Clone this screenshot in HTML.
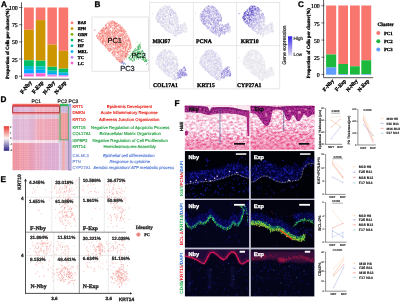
<!DOCTYPE html>
<html><head><meta charset="utf-8"><title>Figure</title>
<style>html,body{margin:0;padding:0;background:#fff;}body{width:400px;height:302px;overflow:hidden;font-family:"Liberation Sans",sans-serif;}svg{display:block;will-change:transform;}</style>
</head><body>
<svg width="400" height="302" viewBox="0 0 400 302" text-rendering="geometricPrecision">
<rect width="400" height="302" fill="#fff"/>
<g opacity="0.999">
<text x="0.9" y="6.8" font-family='"Liberation Sans", sans-serif' font-size="8.2" font-weight="bold" fill="#000" text-anchor="start" stroke="#000" stroke-width="0.3">A</text>
<text x="9.3" y="43.8" font-family='"Liberation Serif", serif' font-size="4.8" font-weight="bold" fill="#000" text-anchor="middle" transform="rotate(-90 9.3 43.8)" stroke="#000" stroke-width="0.3">Proportion of Cells per cluster(%)</text>
<path d="M21.5 2.3V79.2H69.2" stroke="#222" stroke-width="0.75" fill="none"/>
<path d="M19.0 76.2H22.3" stroke="#222" stroke-width="0.6"/>
<text x="17.8" y="78.8" font-family='"Liberation Serif", serif' font-size="5.9" font-weight="normal" fill="#000" text-anchor="end" stroke="#000" stroke-width="0.22">0</text>
<path d="M19.0 59.025000000000006H22.3" stroke="#222" stroke-width="0.6"/>
<text x="17.8" y="61.62500000000001" font-family='"Liberation Serif", serif' font-size="5.9" font-weight="normal" fill="#000" text-anchor="end" stroke="#000" stroke-width="0.22">25</text>
<path d="M19.0 41.85H22.3" stroke="#222" stroke-width="0.6"/>
<text x="17.8" y="44.45" font-family='"Liberation Serif", serif' font-size="5.9" font-weight="normal" fill="#000" text-anchor="end" stroke="#000" stroke-width="0.22">50</text>
<path d="M19.0 24.675000000000004H22.3" stroke="#222" stroke-width="0.6"/>
<text x="17.8" y="27.275000000000006" font-family='"Liberation Serif", serif' font-size="5.9" font-weight="normal" fill="#000" text-anchor="end" stroke="#000" stroke-width="0.22">75</text>
<path d="M19.0 7.5H22.3" stroke="#222" stroke-width="0.6"/>
<text x="17.8" y="10.1" font-family='"Liberation Serif", serif' font-size="5.9" font-weight="normal" fill="#000" text-anchor="end" stroke="#000" stroke-width="0.22">100</text>
<rect x="24.0" y="7.5" width="9.80" height="22.25" fill="#F8766D"/>
<rect x="24.0" y="29.7" width="9.80" height="30.25" fill="#CD9600"/>
<rect x="24.0" y="59.9" width="9.80" height="0.45" fill="#7CAE00"/>
<rect x="24.0" y="60.3" width="9.80" height="5.75" fill="#00BE67"/>
<rect x="24.0" y="66.0" width="9.80" height="3.25" fill="#00BFC4"/>
<rect x="24.0" y="69.2" width="9.80" height="4.25" fill="#00A9FF"/>
<rect x="24.0" y="73.4" width="9.80" height="1.25" fill="#C77CFF"/>
<rect x="24.0" y="74.6" width="9.80" height="1.85" fill="#FF61CC"/>
<rect x="35.8" y="7.5" width="9.60" height="12.65" fill="#F8766D"/>
<rect x="35.8" y="20.1" width="9.60" height="40.35" fill="#CD9600"/>
<rect x="35.8" y="60.4" width="9.60" height="0.55" fill="#7CAE00"/>
<rect x="35.8" y="60.9" width="9.60" height="5.55" fill="#00BE67"/>
<rect x="35.8" y="66.4" width="9.60" height="3.45" fill="#00BFC4"/>
<rect x="35.8" y="69.8" width="9.60" height="3.15" fill="#00A9FF"/>
<rect x="35.8" y="72.9" width="9.60" height="0.75" fill="#C77CFF"/>
<rect x="35.8" y="73.6" width="9.60" height="2.85" fill="#FF61CC"/>
<rect x="47.4" y="7.5" width="9.50" height="37.15" fill="#F8766D"/>
<rect x="47.4" y="44.6" width="9.50" height="22.05" fill="#CD9600"/>
<rect x="47.4" y="66.6" width="9.50" height="0.45" fill="#7CAE00"/>
<rect x="47.4" y="67.0" width="9.50" height="3.65" fill="#00BE67"/>
<rect x="47.4" y="70.6" width="9.50" height="2.35" fill="#00BFC4"/>
<rect x="47.4" y="72.9" width="9.50" height="1.75" fill="#00A9FF"/>
<rect x="47.4" y="74.6" width="9.50" height="1.05" fill="#C77CFF"/>
<rect x="47.4" y="75.6" width="9.50" height="0.85" fill="#FF61CC"/>
<rect x="58.6" y="7.5" width="9.60" height="43.35" fill="#F8766D"/>
<rect x="58.6" y="50.8" width="9.60" height="17.65" fill="#CD9600"/>
<rect x="58.6" y="68.4" width="9.60" height="0.45" fill="#7CAE00"/>
<rect x="58.6" y="68.8" width="9.60" height="3.45" fill="#00BE67"/>
<rect x="58.6" y="72.2" width="9.60" height="1.75" fill="#00BFC4"/>
<rect x="58.6" y="73.9" width="9.60" height="1.35" fill="#00A9FF"/>
<rect x="58.6" y="75.2" width="9.60" height="0.75" fill="#C77CFF"/>
<rect x="58.6" y="75.9" width="9.60" height="0.55" fill="#FF61CC"/>
<text x="31.9" y="82.6" font-family='"Liberation Serif", serif' font-size="5.5" font-weight="bold" fill="#000" text-anchor="end" transform="rotate(-51 31.9 82.6)" stroke="#000" stroke-width="0.3">F-Nby</text>
<text x="43.599999999999994" y="82.6" font-family='"Liberation Serif", serif' font-size="5.5" font-weight="bold" fill="#000" text-anchor="end" transform="rotate(-51 43.599999999999994 82.6)" stroke="#000" stroke-width="0.3">F-Exp</text>
<text x="55.15" y="82.6" font-family='"Liberation Serif", serif' font-size="5.5" font-weight="bold" fill="#000" text-anchor="end" transform="rotate(-51 55.15 82.6)" stroke="#000" stroke-width="0.3">N-Nby</text>
<text x="66.4" y="82.6" font-family='"Liberation Serif", serif' font-size="5.5" font-weight="bold" fill="#000" text-anchor="end" transform="rotate(-51 66.4 82.6)" stroke="#000" stroke-width="0.3">N-Exp</text>
<circle cx="72.0" cy="22.80" r="1.4" fill="#F8766D"/>
<text x="77.8" y="24.3" font-family='"Liberation Serif", serif' font-size="4.3" font-weight="bold" fill="#000" text-anchor="start" stroke="#000" stroke-width="0.3">BAS</text>
<circle cx="72.0" cy="28.56" r="1.4" fill="#CD9600"/>
<text x="77.8" y="30.060000000000002" font-family='"Liberation Serif", serif' font-size="4.3" font-weight="bold" fill="#000" text-anchor="start" stroke="#000" stroke-width="0.3">SPN</text>
<circle cx="72.0" cy="34.32" r="1.4" fill="#7CAE00"/>
<text x="77.8" y="35.82" font-family='"Liberation Serif", serif' font-size="4.3" font-weight="bold" fill="#000" text-anchor="start" stroke="#000" stroke-width="0.3">GRN</text>
<circle cx="72.0" cy="40.08" r="1.4" fill="#00BE67"/>
<text x="77.8" y="41.58" font-family='"Liberation Serif", serif' font-size="4.3" font-weight="bold" fill="#000" text-anchor="start" stroke="#000" stroke-width="0.3">PC</text>
<circle cx="72.0" cy="45.84" r="1.4" fill="#00BFC4"/>
<text x="77.8" y="47.34" font-family='"Liberation Serif", serif' font-size="4.3" font-weight="bold" fill="#000" text-anchor="start" stroke="#000" stroke-width="0.3">HF</text>
<circle cx="72.0" cy="51.60" r="1.4" fill="#00A9FF"/>
<text x="77.8" y="53.099999999999994" font-family='"Liberation Serif", serif' font-size="4.3" font-weight="bold" fill="#000" text-anchor="start" stroke="#000" stroke-width="0.3">MEL</text>
<circle cx="72.0" cy="57.36" r="1.4" fill="#C77CFF"/>
<text x="77.8" y="58.86" font-family='"Liberation Serif", serif' font-size="4.3" font-weight="bold" fill="#000" text-anchor="start" stroke="#000" stroke-width="0.3">TC</text>
<circle cx="72.0" cy="63.12" r="1.4" fill="#FF61CC"/>
<text x="77.8" y="64.62" font-family='"Liberation Serif", serif' font-size="4.3" font-weight="bold" fill="#000" text-anchor="start" stroke="#000" stroke-width="0.3">LC</text>
<text x="94.5" y="6.7" font-family='"Liberation Sans", sans-serif' font-size="8.2" font-weight="bold" fill="#000" text-anchor="start" stroke="#000" stroke-width="0.3">B</text>
<rect x="92" y="17" width="56.4" height="54.2" fill="#fff" stroke="#d4d4d4" stroke-width="0.6"/>
<path d="M112.2 44.4h.01M128.8 40.4h.01M114.1 45.6h.01M102.7 42.4h.01M118.4 54.4h.01M99.5 33.5h.01M119.3 46.8h.01M114.9 23.1h.01M102.9 30.9h.01M114.5 47.9h.01M113.8 48.8h.01M112.3 32.4h.01M125.9 50.8h.01M107.3 30.4h.01M123.2 37.7h.01M126.1 37.1h.01M128.3 40.6h.01M123.7 32.1h.01M99.3 34.8h.01M100.4 31.1h.01M115.9 39.7h.01M100.3 38.5h.01M103.7 32.1h.01M103.6 37.4h.01M126.4 47.9h.01M103.7 31.6h.01M123.5 34.6h.01M106.7 23.7h.01M104.8 46.2h.01M109.3 39.9h.01M130.1 41.2h.01M116.5 57.5h.01M105.0 28.7h.01M122.3 60.7h.01M127.3 46.3h.01M111.1 25.0h.01M117.3 33.1h.01M115.9 56.9h.01M117.9 32.5h.01M111.9 23.2h.01M102.4 36.3h.01M116.4 26.2h.01M130.8 48.6h.01M120.6 45.5h.01M120.9 61.6h.01M113.2 51.7h.01M122.2 58.9h.01M122.2 50.6h.01M124.2 59.6h.01M108.6 49.8h.01M126.7 45.0h.01M118.3 36.9h.01M116.8 46.5h.01M121.9 37.1h.01M122.1 45.3h.01M113.2 30.4h.01M120.9 41.8h.01M117.9 59.8h.01M103.4 27.8h.01M128.2 48.7h.01M107.7 49.0h.01M103.2 39.0h.01M124.7 59.5h.01M127.3 37.0h.01M116.8 34.1h.01M101.0 41.7h.01M125.7 56.8h.01M121.3 61.1h.01M106.0 27.8h.01M112.1 32.3h.01M103.8 38.2h.01M118.3 41.6h.01M121.2 44.9h.01M112.3 21.7h.01M118.4 39.6h.01M118.4 48.5h.01M120.4 29.1h.01M113.0 28.2h.01M121.4 28.2h.01M105.8 35.3h.01M120.8 42.8h.01M117.9 52.8h.01M129.1 51.4h.01M100.8 39.9h.01M118.3 59.4h.01M109.5 44.8h.01M127.2 54.5h.01M129.5 40.4h.01M119.2 29.3h.01M121.7 55.5h.01M118.8 51.2h.01M115.2 54.3h.01M126.4 35.4h.01M99.1 39.4h.01M115.6 53.3h.01M113.4 21.8h.01M114.4 51.4h.01M125.9 50.0h.01M129.6 41.6h.01M104.0 43.0h.01M118.8 42.9h.01M126.0 44.5h.01M107.2 36.8h.01M130.4 42.9h.01M116.4 29.2h.01M115.1 42.0h.01M130.4 42.6h.01M116.1 41.5h.01M115.2 38.2h.01M105.7 40.8h.01M100.7 39.1h.01M125.0 59.0h.01M113.0 34.1h.01M103.1 30.3h.01M120.5 34.3h.01M108.7 47.0h.01M105.0 29.0h.01M114.9 39.2h.01M109.5 38.2h.01M114.9 27.4h.01M118.7 43.2h.01M126.2 46.7h.01M122.3 55.1h.01M125.6 38.6h.01M110.4 49.8h.01M120.3 59.4h.01M114.1 52.9h.01M113.9 49.8h.01M115.7 42.5h.01M116.3 26.8h.01M102.7 29.3h.01M112.5 53.2h.01M107.7 40.5h.01M114.4 38.9h.01M120.9 56.6h.01M102.6 39.9h.01M122.3 37.9h.01M103.1 27.6h.01M127.7 54.8h.01M121.1 57.3h.01M118.4 37.8h.01M117.4 42.1h.01M122.5 53.7h.01M125.0 37.9h.01M120.7 53.3h.01M123.2 37.9h.01M108.3 40.6h.01M96.6 35.8h.01M118.7 47.2h.01M119.7 35.0h.01M119.5 44.9h.01M115.0 37.2h.01M121.0 53.1h.01M117.9 52.1h.01M105.3 37.7h.01M109.5 24.8h.01M115.6 42.2h.01M130.3 44.8h.01M131.3 47.8h.01M117.3 52.9h.01M101.8 40.7h.01M102.2 41.7h.01M129.6 38.5h.01M114.8 46.1h.01M109.1 32.8h.01M119.3 44.5h.01M111.4 40.9h.01M121.7 40.6h.01M117.5 25.5h.01M118.2 40.0h.01M114.8 25.9h.01M111.8 49.1h.01M112.3 31.8h.01M116.8 38.5h.01M123.7 43.2h.01M122.1 30.8h.01M123.9 47.2h.01M108.9 32.2h.01M120.4 44.7h.01M117.1 47.6h.01M122.8 28.7h.01M105.8 38.7h.01M118.2 25.0h.01M115.3 23.7h.01M115.6 47.5h.01M109.4 41.0h.01M103.6 35.2h.01M122.5 56.3h.01M124.8 47.2h.01M123.3 29.7h.01M111.2 31.6h.01M124.8 36.3h.01M107.7 44.0h.01M122.5 59.8h.01M111.3 36.3h.01M116.1 41.3h.01M120.4 33.3h.01M99.1 33.5h.01M121.8 50.2h.01M106.2 26.7h.01M109.1 25.6h.01M121.2 44.9h.01M128.4 39.3h.01M124.5 33.6h.01M107.4 37.6h.01M105.0 36.0h.01M109.1 36.1h.01M110.2 37.1h.01M103.1 44.6h.01M124.3 43.6h.01M125.7 44.6h.01M115.4 44.8h.01M130.3 48.3h.01M115.5 54.2h.01M122.2 58.9h.01M119.1 31.1h.01M114.6 53.2h.01M110.1 35.0h.01M130.4 49.2h.01M113.6 43.5h.01M121.6 50.8h.01M128.5 38.1h.01M125.4 49.0h.01M126.3 54.9h.01M130.0 47.9h.01M114.7 50.8h.01M124.5 38.6h.01M111.0 26.8h.01M122.4 62.8h.01M109.5 27.7h.01M103.4 38.7h.01M98.3 33.7h.01M116.8 59.3h.01M102.7 29.9h.01M117.2 30.1h.01M102.7 32.6h.01M107.2 44.0h.01M125.0 41.0h.01M113.2 30.0h.01M124.5 37.0h.01M114.8 42.6h.01M119.4 30.7h.01M121.4 46.4h.01M107.6 31.7h.01M126.9 42.6h.01M105.6 43.4h.01M126.1 55.6h.01M99.1 32.1h.01M113.1 40.6h.01M129.9 45.6h.01M126.5 33.5h.01M124.1 38.4h.01M115.4 43.0h.01M107.2 33.8h.01M98.9 33.6h.01M112.7 51.1h.01M108.9 49.9h.01M99.9 37.4h.01M125.5 48.5h.01M96.6 36.7h.01M121.3 30.7h.01M116.1 40.1h.01M117.9 33.0h.01M109.5 43.6h.01M106.7 35.0h.01M110.0 49.0h.01M105.3 29.1h.01M122.0 34.6h.01M129.6 44.6h.01M121.7 34.7h.01M120.1 50.8h.01M102.5 37.7h.01M125.7 45.9h.01M110.6 23.7h.01M128.7 38.8h.01M114.3 48.2h.01M123.3 55.6h.01M109.8 34.7h.01M110.7 21.3h.01M110.3 50.4h.01M119.5 46.5h.01M108.3 48.3h.01M100.0 36.7h.01M114.2 54.2h.01M125.3 46.6h.01M128.1 44.0h.01M108.6 41.9h.01M121.5 56.2h.01M118.3 29.0h.01M116.5 50.3h.01M109.0 40.3h.01M115.4 44.5h.01M116.0 31.9h.01M125.1 46.2h.01M104.7 45.0h.01M115.5 23.8h.01M119.4 33.7h.01M119.9 52.0h.01M109.7 45.8h.01M103.2 40.5h.01M101.2 37.1h.01M116.3 28.0h.01M114.5 31.8h.01M116.3 34.7h.01M119.9 26.8h.01M130.1 46.2h.01M112.8 38.1h.01M118.2 50.0h.01M123.0 52.6h.01M125.8 57.0h.01M110.6 39.1h.01M114.8 43.0h.01M107.5 22.9h.01M121.8 58.9h.01M122.0 46.1h.01M122.7 33.6h.01M117.1 23.6h.01M100.6 39.6h.01M113.9 37.5h.01M114.8 30.8h.01M107.0 37.4h.01M119.7 57.5h.01M116.2 59.1h.01M104.8 33.3h.01M107.7 23.3h.01M110.2 35.8h.01M116.9 22.6h.01M107.1 41.8h.01M112.9 29.4h.01M125.8 35.7h.01M112.9 27.9h.01M121.8 33.9h.01M121.4 26.3h.01M120.8 60.6h.01M111.9 24.0h.01M104.1 33.7h.01M121.3 29.0h.01M102.6 30.6h.01M119.7 54.3h.01M109.3 48.8h.01M127.4 45.7h.01M104.3 33.4h.01M128.9 49.0h.01M106.0 47.9h.01M111.7 43.1h.01M114.9 22.5h.01M117.4 32.7h.01M99.3 32.7h.01M122.9 31.1h.01M106.1 43.9h.01M112.5 52.6h.01M113.8 28.3h.01M115.8 48.1h.01M108.9 48.6h.01M123.8 42.6h.01M114.0 56.6h.01M120.4 42.8h.01M117.7 30.6h.01M111.7 53.5h.01M124.0 54.3h.01M104.5 41.4h.01M104.0 45.3h.01M113.8 22.1h.01M117.3 51.0h.01M116.4 57.8h.01M111.5 39.4h.01M116.3 43.7h.01M124.1 30.7h.01M101.4 33.8h.01M97.7 34.0h.01M118.1 43.0h.01M105.5 45.7h.01M102.3 31.5h.01M125.5 54.1h.01M98.4 38.1h.01M109.1 29.8h.01M113.5 53.0h.01M112.3 52.3h.01M110.1 33.3h.01M111.2 23.9h.01M123.1 51.9h.01M104.3 31.4h.01M115.7 30.9h.01M109.0 35.0h.01M130.8 46.6h.01M97.6 37.8h.01M108.3 50.2h.01M126.7 45.8h.01M127.5 40.3h.01M103.8 35.4h.01M102.7 44.0h.01M102.0 29.3h.01M103.8 40.5h.01M107.1 39.6h.01M109.7 23.7h.01M120.6 36.1h.01M102.6 31.8h.01M121.4 32.0h.01M108.9 27.1h.01M123.2 51.4h.01M107.6 37.0h.01M114.5 22.9h.01M110.1 30.8h.01M107.2 38.7h.01M115.4 26.4h.01M121.1 31.7h.01M121.8 49.0h.01M101.4 29.3h.01M110.5 37.1h.01M106.5 35.3h.01M116.2 55.1h.01M119.9 59.8h.01M119.7 61.3h.01M118.5 24.4h.01M111.3 37.3h.01M98.3 36.9h.01M107.8 41.8h.01M106.1 27.4h.01M110.4 40.8h.01M108.3 38.6h.01M121.0 44.2h.01M110.0 36.1h.01M98.4 37.8h.01M116.9 40.6h.01M107.7 31.4h.01M97.0 35.4h.01M127.7 44.7h.01M102.8 40.6h.01M109.0 45.1h.01M118.3 47.0h.01M110.7 38.3h.01M127.3 36.9h.01M101.0 42.2h.01M107.1 36.0h.01M103.0 30.3h.01M120.2 30.6h.01M110.1 30.8h.01M113.6 48.3h.01M115.5 47.2h.01M116.0 56.0h.01M120.7 49.8h.01M113.5 44.6h.01M109.2 32.8h.01M122.6 43.3h.01M104.6 31.2h.01M107.7 28.2h.01M114.3 26.0h.01M100.2 39.8h.01M123.5 41.1h.01M105.2 42.2h.01M124.3 37.3h.01M121.5 31.3h.01M121.5 34.5h.01M125.9 55.9h.01M116.2 38.5h.01M121.2 47.1h.01M125.5 54.7h.01M100.6 36.7h.01M119.8 30.4h.01M120.5 38.5h.01M118.5 37.5h.01M115.4 41.2h.01M109.4 33.8h.01M124.5 56.3h.01M106.2 37.3h.01M118.0 53.2h.01M120.7 43.9h.01M113.4 25.7h.01M116.2 26.7h.01M118.3 32.3h.01M104.2 41.1h.01M109.1 31.7h.01M113.3 38.3h.01M124.7 37.5h.01M119.4 47.1h.01M121.8 28.1h.01M107.1 42.5h.01M114.8 55.1h.01M124.2 51.9h.01M125.4 53.3h.01M121.1 31.3h.01M116.6 30.3h.01M109.9 36.3h.01M119.4 55.1h.01M109.1 47.8h.01M108.7 32.5h.01M99.5 34.9h.01M122.4 29.6h.01M122.4 43.9h.01M120.2 28.2h.01M108.6 38.9h.01M110.4 34.3h.01M104.0 38.0h.01M121.1 28.2h.01M102.7 35.8h.01M118.6 36.7h.01M118.9 29.6h.01M118.0 58.4h.01M126.4 47.4h.01M114.0 44.8h.01M120.6 39.9h.01M119.7 38.5h.01M109.8 30.4h.01M117.4 45.0h.01M114.4 22.0h.01M118.3 39.6h.01M117.1 45.9h.01M122.3 33.9h.01M122.2 62.7h.01M113.5 30.6h.01M125.9 48.3h.01M124.4 42.4h.01M126.9 50.9h.01M112.2 43.4h.01M106.1 48.0h.01M124.0 41.5h.01M126.4 53.4h.01M109.1 24.9h.01M97.5 35.3h.01M126.7 56.1h.01M118.0 59.0h.01M127.1 51.6h.01M111.4 21.3h.01M108.2 34.0h.01M118.4 32.5h.01M117.5 50.2h.01M120.7 40.5h.01M129.4 46.6h.01M108.8 29.0h.01M122.2 35.9h.01M107.2 38.0h.01M110.6 40.1h.01M108.4 50.6h.01M104.5 45.3h.01M120.1 40.0h.01M122.4 46.2h.01M112.0 23.3h.01M111.0 32.6h.01M119.9 31.0h.01M110.7 26.2h.01M111.0 35.2h.01M125.2 56.8h.01M117.1 43.9h.01M99.3 36.1h.01M109.4 51.4h.01M119.8 35.2h.01M112.8 36.0h.01M112.6 34.1h.01M119.9 46.4h.01M125.5 48.3h.01M110.4 48.5h.01M103.6 36.4h.01M101.2 37.4h.01M118.2 52.2h.01M122.0 53.7h.01M100.4 40.6h.01M97.1 35.6h.01M115.1 43.3h.01M106.8 42.2h.01M114.3 33.1h.01M123.6 31.1h.01M110.8 22.9h.01M103.9 39.8h.01M115.9 40.2h.01M130.5 43.0h.01M110.5 46.7h.01M110.8 21.1h.01M122.1 51.0h.01M101.7 43.2h.01M118.9 56.7h.01M97.8 38.3h.01M107.8 41.4h.01M119.3 58.4h.01M129.6 44.8h.01M110.1 33.4h.01M122.3 31.6h.01M109.2 38.9h.01M113.0 35.9h.01M111.4 39.8h.01M115.5 37.6h.01M109.3 34.0h.01M113.3 30.4h.01M122.7 41.4h.01M109.1 46.1h.01M109.2 33.4h.01M117.7 45.7h.01M107.3 41.8h.01M114.4 52.7h.01M105.1 32.1h.01M124.3 38.7h.01M126.6 37.7h.01M125.6 34.6h.01M124.0 48.0h.01M122.2 38.4h.01M120.2 62.5h.01M123.8 39.4h.01M122.7 36.7h.01M112.0 39.2h.01M100.4 34.2h.01M119.7 43.9h.01M103.7 38.3h.01M115.1 56.4h.01M112.9 21.9h.01M111.4 36.7h.01M120.0 60.1h.01M113.6 50.0h.01M103.3 35.4h.01M102.0 35.5h.01M117.1 42.8h.01M109.9 45.1h.01M125.9 35.9h.01M116.8 41.1h.01M120.8 30.6h.01M116.5 31.6h.01M109.5 51.1h.01M111.5 46.9h.01M128.3 40.0h.01M113.4 30.5h.01M116.3 44.1h.01M108.0 27.1h.01M123.9 29.9h.01M103.2 43.4h.01M117.7 25.7h.01M123.2 45.4h.01M120.5 36.1h.01M129.8 51.2h.01M121.9 31.9h.01M115.2 31.4h.01M106.5 31.4h.01M100.8 41.3h.01M105.8 32.7h.01M106.0 42.3h.01M126.5 57.0h.01M117.7 43.8h.01M122.1 43.4h.01M119.5 59.8h.01M123.6 31.7h.01M104.4 39.9h.01M129.5 42.1h.01M116.2 35.5h.01M116.2 25.7h.01M126.4 54.0h.01M114.6 23.9h.01M114.8 28.5h.01M114.8 35.7h.01M113.8 29.0h.01M121.1 38.4h.01M113.4 24.0h.01M113.4 44.4h.01M130.5 44.5h.01M101.0 33.4h.01M117.0 49.8h.01M117.8 46.7h.01M125.5 49.9h.01M114.5 45.3h.01M122.9 55.0h.01M125.6 38.0h.01M108.0 35.4h.01M105.5 45.5h.01M114.8 34.9h.01M120.0 40.0h.01M105.1 41.0h.01M123.9 34.8h.01M105.4 42.9h.01M102.7 30.5h.01M106.8 34.6h.01M121.8 49.3h.01M124.1 43.6h.01M104.8 29.9h.01M109.3 35.8h.01M109.9 26.4h.01M124.1 53.9h.01M109.6 32.8h.01M117.1 52.2h.01M113.0 55.5h.01M109.6 23.4h.01M127.4 51.5h.01M129.7 39.9h.01M109.3 25.7h.01M108.5 22.7h.01M107.0 28.4h.01M115.3 44.8h.01M123.1 43.0h.01M128.8 42.1h.01M101.9 34.7h.01M116.3 33.1h.01M112.4 46.3h.01M126.1 40.4h.01M123.1 37.7h.01M113.8 48.4h.01M112.6 28.4h.01M118.0 36.3h.01M112.9 47.2h.01M107.4 35.8h.01M127.4 45.3h.01M110.9 43.6h.01M112.5 34.8h.01M106.4 27.9h.01M121.7 30.6h.01M116.8 27.3h.01M108.5 44.4h.01M114.4 36.7h.01M105.7 45.1h.01M118.5 40.3h.01M113.2 47.9h.01M111.8 24.2h.01M124.4 30.6h.01M125.5 54.6h.01M114.0 38.8h.01M113.5 41.1h.01M114.0 35.2h.01M103.1 29.8h.01M125.6 54.8h.01M120.4 54.6h.01M121.3 55.1h.01M125.0 33.5h.01M117.8 59.4h.01M129.1 48.0h.01M127.0 33.8h.01M123.0 62.6h.01M118.2 25.9h.01M126.8 53.3h.01M123.9 57.8h.01M118.8 41.6h.01M109.8 35.7h.01M124.3 30.3h.01M119.3 53.6h.01M120.7 42.6h.01M107.4 32.2h.01M120.4 60.7h.01M129.8 47.0h.01M108.0 32.5h.01M114.6 41.4h.01M115.1 40.8h.01M122.5 31.2h.01M104.7 34.6h.01M108.7 43.0h.01M129.7 47.8h.01M110.8 37.9h.01M104.5 40.8h.01M111.5 49.8h.01M123.1 44.2h.01M118.8 60.6h.01M114.8 28.7h.01M121.9 34.2h.01M123.3 48.2h.01M121.1 40.1h.01M111.5 25.1h.01M120.7 39.2h.01M100.7 38.7h.01M116.4 52.3h.01M110.4 48.3h.01M120.3 46.8h.01M112.9 21.3h.01M98.8 37.3h.01M112.7 25.1h.01M113.4 45.6h.01M100.4 33.6h.01M114.2 38.1h.01M121.2 39.7h.01M109.1 39.2h.01M112.2 34.0h.01M118.2 38.1h.01M112.3 40.8h.01M127.2 40.0h.01M110.4 49.2h.01M122.4 33.2h.01M121.8 61.1h.01M119.3 49.1h.01M111.6 48.4h.01M123.3 31.7h.01M117.9 30.0h.01M125.2 56.3h.01M110.0 45.7h.01M121.3 53.0h.01M122.6 45.3h.01M116.0 43.8h.01M123.8 34.4h.01M121.8 61.1h.01M105.9 44.8h.01M114.8 41.7h.01M127.7 48.9h.01M111.0 26.8h.01M117.6 40.2h.01M98.9 33.4h.01M120.6 50.0h.01M125.4 36.8h.01M105.9 35.9h.01M109.4 48.6h.01M101.4 33.9h.01M105.0 28.2h.01M124.2 52.1h.01M105.5 41.4h.01M125.1 57.2h.01M120.9 35.0h.01M112.9 34.0h.01M116.3 46.6h.01M108.2 39.3h.01M128.5 49.4h.01M102.3 35.7h.01M121.1 29.8h.01M104.2 36.1h.01M115.4 45.4h.01M117.4 57.3h.01M102.4 32.2h.01M119.7 50.2h.01M107.6 40.5h.01M106.4 44.5h.01M108.8 35.9h.01M105.0 33.0h.01M107.2 45.8h.01M105.7 25.4h.01M126.1 40.6h.01M114.3 33.9h.01M127.5 52.7h.01M118.2 48.7h.01M120.6 41.9h.01M110.8 37.2h.01M114.0 40.6h.01M114.9 43.3h.01M124.0 58.6h.01M124.3 47.0h.01M106.3 28.7h.01M126.9 56.2h.01M120.3 50.1h.01M122.5 40.0h.01M110.2 44.2h.01M130.5 43.8h.01M114.4 33.8h.01M126.6 42.6h.01M101.4 37.2h.01M118.8 25.3h.01M111.6 53.1h.01M117.1 45.4h.01M102.3 40.4h.01M128.0 49.3h.01M103.9 39.6h.01M115.4 34.9h.01M116.6 47.5h.01M119.4 29.7h.01M115.9 24.9h.01M118.7 31.8h.01M124.9 51.4h.01M107.5 31.6h.01M118.6 46.8h.01M116.1 36.9h.01M125.3 31.3h.01M121.4 28.5h.01M104.7 32.5h.01M128.6 49.3h.01M104.6 33.0h.01M126.0 50.4h.01M130.8 49.1h.01M118.4 36.9h.01M121.5 41.6h.01M109.8 43.2h.01M107.8 26.9h.01M117.1 59.6h.01M102.6 41.9h.01M113.8 53.2h.01M116.1 30.8h.01M118.1 52.4h.01M123.1 51.4h.01M127.2 36.8h.01M126.1 46.2h.01M100.2 32.8h.01M115.1 36.6h.01M114.1 37.1h.01M112.9 22.3h.01M117.9 28.8h.01M127.5 45.6h.01M110.0 43.7h.01M109.7 50.8h.01M109.3 50.7h.01M106.2 33.1h.01M122.7 54.0h.01M120.9 60.0h.01M102.8 37.4h.01M126.3 53.2h.01M122.3 57.5h.01M109.0 46.4h.01M116.6 58.5h.01M119.4 61.5h.01M101.3 37.8h.01M116.1 26.2h.01M118.4 32.5h.01M107.6 46.5h.01M103.0 39.7h.01M105.5 36.2h.01M120.7 28.7h.01M115.9 35.1h.01M121.5 30.5h.01M113.2 51.4h.01M111.1 34.1h.01M110.2 33.9h.01M122.4 40.3h.01M120.4 27.1h.01M110.8 28.4h.01M122.0 45.0h.01M120.0 61.8h.01M125.3 49.7h.01M115.5 57.1h.01M109.3 25.4h.01M115.0 26.1h.01M117.5 55.7h.01M108.4 25.7h.01M119.9 51.6h.01M127.4 44.2h.01M116.7 57.4h.01M120.1 62.1h.01M118.5 40.6h.01M105.5 46.2h.01M114.2 42.3h.01M117.6 49.7h.01M106.4 40.0h.01M114.1 54.9h.01M113.3 37.6h.01M113.1 35.8h.01M110.3 24.0h.01M120.1 27.0h.01M101.5 38.6h.01M117.5 53.1h.01M111.9 33.2h.01M127.5 41.2h.01M127.6 52.5h.01M103.7 39.6h.01M119.2 40.6h.01M128.0 54.3h.01M117.5 40.6h.01M129.7 46.9h.01M105.0 44.1h.01M107.4 27.8h.01M122.5 52.9h.01M108.1 38.5h.01M120.8 51.6h.01M112.6 25.6h.01M125.4 41.7h.01M118.9 36.1h.01M109.2 28.1h.01M130.6 46.4h.01M117.3 46.7h.01M123.4 46.5h.01M110.6 48.2h.01M109.4 38.1h.01M109.1 48.2h.01M108.6 35.6h.01M126.1 54.7h.01M120.1 56.5h.01M109.8 48.0h.01M105.1 34.0h.01M109.6 25.6h.01M108.7 40.8h.01M103.3 33.0h.01M111.2 32.5h.01M118.7 54.8h.01M107.7 28.8h.01M124.2 46.3h.01M117.3 34.2h.01M97.4 38.5h.01M126.8 45.1h.01M110.7 27.3h.01M131.2 45.2h.01M123.0 48.1h.01M112.9 53.7h.01M119.8 27.3h.01M114.9 38.2h.01M114.4 51.0h.01M120.5 44.9h.01M124.0 55.8h.01M111.7 40.4h.01M116.1 32.5h.01M123.7 34.7h.01M126.0 54.8h.01M123.3 45.8h.01M119.7 38.2h.01M114.6 29.3h.01M112.5 31.6h.01M120.0 25.1h.01M115.0 45.4h.01M125.7 36.8h.01M122.9 55.4h.01M128.3 40.8h.01M100.7 35.6h.01M121.6 53.7h.01M111.6 40.1h.01M112.7 36.4h.01M112.3 49.8h.01M121.3 34.5h.01M116.2 26.8h.01M97.8 37.1h.01M108.9 22.0h.01M99.0 38.7h.01M109.2 33.9h.01M125.8 36.9h.01M102.9 34.0h.01M123.3 52.0h.01M106.9 39.9h.01M108.7 40.7h.01M124.2 31.7h.01M106.9 39.4h.01M125.8 49.6h.01M126.7 42.3h.01M106.5 38.4h.01M129.5 46.0h.01M108.2 30.3h.01M110.8 43.9h.01M110.3 44.7h.01M120.0 34.9h.01M113.5 36.7h.01M106.7 33.3h.01M113.2 21.4h.01M127.2 35.9h.01M111.9 43.0h.01M123.9 44.3h.01M113.6 35.2h.01M122.7 42.0h.01M124.2 56.2h.01M127.8 51.5h.01M120.0 40.3h.01M115.0 45.3h.01M114.7 55.5h.01M122.7 46.9h.01M117.3 59.3h.01M113.5 51.9h.01M122.1 58.0h.01M123.6 32.3h.01M129.2 43.1h.01M108.1 25.0h.01M100.6 39.6h.01M100.1 34.8h.01M110.7 40.7h.01M111.6 46.0h.01M104.3 31.0h.01M112.4 48.0h.01M117.6 35.5h.01M104.6 30.9h.01M124.0 58.8h.01M105.5 25.0h.01M121.5 40.7h.01M122.6 53.3h.01M114.2 32.2h.01M114.7 48.8h.01M107.6 47.8h.01M103.7 30.2h.01M126.2 55.6h.01M116.2 23.8h.01M122.0 56.2h.01M120.0 48.9h.01M120.7 36.3h.01M128.0 51.4h.01M124.5 40.3h.01M103.4 39.8h.01M120.2 44.0h.01M110.2 31.0h.01M104.2 30.0h.01M110.9 50.2h.01M128.4 49.4h.01M117.7 51.8h.01M117.9 35.7h.01M108.2 23.6h.01M120.2 59.4h.01M119.8 46.4h.01M112.4 21.2h.01M117.9 47.8h.01M126.7 46.7h.01M125.5 47.2h.01M131.0 45.9h.01M126.3 53.5h.01M127.9 37.5h.01M110.1 32.3h.01M107.0 37.4h.01M103.1 43.2h.01M106.5 41.4h.01M114.7 31.9h.01M115.1 23.4h.01M108.5 32.7h.01M125.0 53.4h.01M120.9 45.9h.01M126.8 52.2h.01M122.6 56.4h.01M118.2 46.4h.01M114.2 32.0h.01M105.4 29.9h.01M106.9 46.5h.01M107.5 48.9h.01M121.5 43.1h.01M125.1 41.7h.01M112.0 21.8h.01M120.1 25.6h.01M121.7 50.5h.01M116.6 38.2h.01M114.8 32.3h.01M109.1 28.7h.01M122.7 62.4h.01M117.0 23.3h.01M117.8 47.1h.01M104.4 30.0h.01M113.6 38.5h.01M115.0 25.0h.01M121.0 30.5h.01M120.5 56.1h.01M121.9 31.0h.01M115.3 22.8h.01M98.6 33.2h.01M108.7 24.1h.01M108.8 29.3h.01M111.5 46.8h.01M119.4 24.7h.01M115.1 23.0h.01M104.8 37.4h.01M115.8 43.5h.01M121.4 61.0h.01M120.7 30.1h.01M103.2 41.1h.01M106.1 44.2h.01M110.9 22.7h.01M117.6 40.9h.01M117.2 48.0h.01M124.5 55.8h.01M101.0 33.6h.01M101.3 41.5h.01M120.3 55.0h.01M125.7 55.9h.01M124.6 29.8h.01M108.4 23.0h.01M123.2 40.8h.01M105.8 46.9h.01M129.8 42.1h.01M99.0 38.4h.01M125.1 52.1h.01M126.3 40.1h.01M111.8 22.9h.01M124.1 44.9h.01M110.6 26.8h.01M112.4 23.3h.01M111.2 26.4h.01M125.4 46.6h.01M126.8 44.2h.01M101.8 32.4h.01M125.8 45.5h.01M119.0 47.5h.01M129.5 45.8h.01M115.9 38.0h.01M104.9 46.8h.01M128.4 52.4h.01M106.1 46.4h.01M120.1 58.6h.01M116.8 31.6h.01M119.0 33.8h.01M117.7 30.9h.01M105.8 36.1h.01M117.5 60.4h.01M118.2 45.4h.01M107.6 36.8h.01M116.3 31.1h.01M118.9 57.4h.01M121.6 30.2h.01M97.2 36.2h.01M115.5 42.7h.01M117.6 44.2h.01M120.1 44.4h.01M115.7 30.7h.01M100.6 39.3h.01M106.5 45.1h.01M114.5 39.9h.01M106.0 29.3h.01M114.7 27.9h.01M118.9 46.2h.01M118.3 41.1h.01M117.8 33.2h.01M112.6 49.9h.01M118.0 44.0h.01M123.3 32.9h.01M109.4 39.0h.01M122.1 51.2h.01M131.3 47.1h.01M109.8 24.3h.01M121.6 46.8h.01M123.8 39.2h.01M122.4 46.3h.01M118.6 44.0h.01M119.7 44.5h.01M121.0 38.8h.01M102.1 42.4h.01M108.8 27.6h.01M121.3 27.8h.01M128.3 39.7h.01M118.7 40.2h.01M102.0 35.8h.01M112.8 44.2h.01M124.2 46.1h.01M117.3 32.2h.01M115.5 57.5h.01M113.4 32.9h.01M101.8 30.5h.01M111.6 38.6h.01M117.4 32.1h.01M118.1 40.8h.01M124.3 54.9h.01M115.5 34.9h.01M111.6 49.7h.01M111.7 37.7h.01M116.6 42.9h.01M115.5 44.5h.01M125.1 32.3h.01M107.3 41.5h.01M130.4 48.2h.01M126.4 45.8h.01M128.3 49.3h.01M104.7 36.5h.01M113.1 25.3h.01M128.8 41.2h.01M103.3 41.5h.01M124.6 32.2h.01M116.9 24.5h.01M104.7 28.6h.01M114.0 49.9h.01M116.9 52.6h.01M114.2 28.2h.01M103.1 31.8h.01M123.3 39.6h.01M131.3 47.1h.01M111.9 43.5h.01M121.0 56.3h.01M123.9 31.2h.01M100.7 42.2h.01M129.6 39.9h.01M123.3 41.6h.01M110.3 25.9h.01M119.4 59.9h.01M120.5 34.1h.01M114.7 35.8h.01M114.3 26.9h.01M122.0 31.4h.01M110.4 31.2h.01M117.3 39.0h.01M120.3 38.7h.01M123.9 44.1h.01M105.1 33.3h.01M129.7 41.0h.01M122.3 27.2h.01M118.4 25.6h.01M123.3 30.6h.01M114.1 54.7h.01M117.5 43.0h.01M102.8 42.9h.01M117.2 40.2h.01M118.7 44.6h.01M119.0 38.1h.01M125.9 43.2h.01M125.4 53.5h.01M120.6 44.1h.01M119.5 31.2h.01M117.8 44.0h.01M117.6 38.9h.01M104.7 33.5h.01M120.8 58.3h.01M107.5 34.0h.01M112.0 38.9h.01M118.5 52.8h.01M123.3 55.1h.01M121.8 62.0h.01M112.0 39.6h.01M119.2 34.0h.01M125.5 38.4h.01M115.9 42.7h.01M106.0 40.9h.01M124.1 32.5h.01M98.6 33.3h.01M129.3 49.3h.01M125.3 56.1h.01M102.5 42.1h.01M99.5 36.7h.01M113.7 55.4h.01M101.2 31.5h.01M116.9 51.0h.01M121.7 44.8h.01M106.5 44.1h.01M129.5 40.5h.01M118.4 57.0h.01M115.7 31.5h.01M112.8 40.5h.01M108.6 45.3h.01M101.5 31.4h.01M114.7 52.0h.01M117.7 48.6h.01M120.3 28.2h.01M122.0 27.2h.01M109.8 36.7h.01M108.0 36.0h.01M101.9 37.6h.01M108.7 50.9h.01M127.2 50.7h.01M129.0 38.2h.01M117.1 23.5h.01M109.1 34.6h.01M111.1 41.3h.01M125.9 47.5h.01M112.1 32.2h.01M108.5 30.9h.01M115.1 49.1h.01M113.7 50.0h.01M106.9 28.4h.01M106.3 25.5h.01M113.5 33.3h.01M123.9 42.2h.01M114.7 36.5h.01M99.9 39.0h.01M115.2 27.2h.01M115.4 51.8h.01M117.4 40.9h.01M111.8 49.5h.01M113.1 32.8h.01M123.8 42.8h.01M106.5 37.3h.01M127.2 43.8h.01M129.4 43.6h.01M111.6 46.6h.01M110.6 48.4h.01M108.3 48.5h.01M103.5 41.5h.01M111.3 43.0h.01M121.5 27.7h.01M117.7 51.9h.01M123.4 61.9h.01M109.9 37.5h.01M112.7 32.2h.01M115.9 51.8h.01M126.6 42.2h.01M119.5 60.2h.01M117.9 41.5h.01M114.2 38.1h.01M102.5 29.0h.01M124.3 42.6h.01M125.5 48.3h.01M102.6 42.3h.01M112.4 27.7h.01M105.6 28.5h.01M119.0 49.0h.01M111.1 40.0h.01M128.9 48.3h.01M112.6 52.4h.01M122.3 33.7h.01M122.6 46.2h.01M118.2 47.7h.01M98.8 36.1h.01M97.6 38.2h.01M126.3 47.4h.01M125.7 56.5h.01M121.0 29.4h.01M102.3 34.2h.01M123.1 32.0h.01M116.2 24.2h.01M122.3 48.3h.01M125.6 53.0h.01M112.5 39.6h.01M118.7 54.2h.01M127.2 35.3h.01M115.9 51.4h.01M119.7 39.3h.01M103.8 32.3h.01M115.7 34.3h.01M122.8 56.2h.01M106.1 40.3h.01M112.1 22.8h.01M117.5 43.7h.01M114.7 33.6h.01M104.1 27.2h.01M113.3 36.2h.01M116.9 49.3h.01M105.9 46.5h.01M122.2 54.7h.01M108.9 32.0h.01M118.3 26.1h.01M119.2 37.1h.01M115.0 35.1h.01M123.5 39.9h.01M112.9 48.2h.01M108.1 49.5h.01M114.9 24.5h.01M123.6 42.2h.01M123.8 47.6h.01M116.2 27.9h.01M111.5 32.9h.01M116.8 37.6h.01M108.6 26.6h.01M120.8 36.4h.01M117.4 55.5h.01M98.9 38.6h.01M118.1 29.0h.01M112.4 21.2h.01M114.3 23.6h.01M101.1 42.3h.01M115.2 29.7h.01M116.8 33.9h.01M125.9 39.7h.01M102.3 33.0h.01M118.4 24.6h.01M110.7 23.7h.01M102.8 28.2h.01M115.5 47.9h.01M101.2 29.9h.01M117.5 30.8h.01M126.9 54.9h.01M107.1 46.2h.01M117.9 47.3h.01M115.7 30.6h.01M130.3 47.2h.01M108.9 33.8h.01M113.2 30.5h.01M113.8 54.8h.01M123.7 35.6h.01M122.3 35.6h.01M102.3 38.5h.01M105.1 41.8h.01M124.7 46.1h.01M128.3 51.5h.01M120.6 52.2h.01M120.6 59.7h.01M117.2 48.7h.01M115.6 43.3h.01M102.9 41.9h.01M110.2 49.6h.01M112.8 25.3h.01M120.5 62.1h.01M117.9 46.7h.01M114.0 42.2h.01M119.8 54.9h.01M103.7 30.5h.01M104.2 41.3h.01M127.6 51.4h.01M116.9 58.7h.01M117.9 52.7h.01M106.6 33.7h.01M128.2 54.3h.01M118.3 52.1h.01M106.1 24.9h.01M102.3 31.6h.01M116.3 34.3h.01M120.4 55.3h.01M115.1 55.1h.01M123.5 52.0h.01M108.3 41.5h.01M102.9 40.2h.01M124.1 44.6h.01M99.4 34.0h.01M110.8 34.8h.01M119.0 61.2h.01M118.6 59.8h.01M117.3 46.8h.01M101.0 39.2h.01M105.7 42.8h.01M118.1 26.1h.01M114.9 24.6h.01M106.1 39.8h.01M115.4 48.5h.01M108.6 29.5h.01M122.2 36.2h.01M103.7 28.8h.01M112.8 45.4h.01M105.2 38.0h.01M112.2 31.4h.01M106.5 35.0h.01M105.5 28.3h.01M125.7 49.8h.01M102.8 34.0h.01M114.1 56.1h.01M125.7 57.2h.01M108.1 38.9h.01M96.4 35.5h.01M103.6 34.2h.01M100.2 39.3h.01M104.0 31.1h.01M122.2 35.7h.01M118.6 30.3h.01M124.3 52.1h.01M123.4 43.6h.01M113.4 43.0h.01M102.4 35.5h.01M113.1 23.2h.01M106.6 24.6h.01M111.3 45.2h.01M100.7 36.7h.01M115.8 52.3h.01M115.4 28.0h.01M125.0 58.2h.01M124.1 51.3h.01M116.2 37.1h.01M123.8 60.9h.01M121.1 29.9h.01M123.8 51.0h.01M107.9 39.3h.01M121.7 50.7h.01M118.5 58.3h.01M103.1 38.0h.01M106.5 41.8h.01M122.8 62.8h.01M110.6 41.4h.01M109.4 31.0h.01M118.6 38.9h.01M120.5 46.7h.01M113.7 42.2h.01M124.2 34.0h.01M107.9 39.0h.01M121.4 35.2h.01M121.9 35.7h.01M118.2 25.0h.01M107.4 44.5h.01M117.8 40.4h.01M127.3 53.5h.01M117.0 57.9h.01M126.1 32.0h.01M129.5 47.9h.01M118.4 35.2h.01M99.4 34.6h.01M119.3 47.4h.01M112.7 54.6h.01M102.7 35.7h.01M124.4 33.1h.01M122.0 46.1h.01M109.4 32.5h.01M120.8 41.2h.01M118.2 37.2h.01M105.9 33.0h.01M123.8 49.1h.01M122.4 29.4h.01M114.6 22.0h.01M108.4 40.8h.01M126.0 34.1h.01M122.1 60.5h.01M123.1 54.1h.01M121.0 38.6h.01M121.2 41.2h.01M129.3 39.0h.01M107.5 33.5h.01M124.3 48.3h.01M106.3 37.7h.01M124.2 52.0h.01M114.9 52.1h.01M125.1 42.8h.01M120.2 57.0h.01M126.2 52.8h.01M119.4 47.1h.01M120.9 44.0h.01M128.5 39.5h.01M110.7 30.5h.01M126.1 34.2h.01M121.7 61.1h.01M107.5 45.8h.01M110.8 23.4h.01M125.8 41.6h.01M102.0 30.4h.01M97.0 36.7h.01M122.4 35.8h.01M123.3 48.7h.01M111.1 40.2h.01M115.8 50.0h.01M110.4 42.7h.01M125.4 49.6h.01M130.3 50.4h.01M113.9 47.7h.01M120.4 47.4h.01M111.3 49.6h.01M123.5 29.4h.01M109.3 31.5h.01M130.1 41.5h.01M123.8 57.2h.01M114.0 26.0h.01M109.3 24.2h.01M110.3 39.8h.01M115.0 27.7h.01M114.4 38.1h.01M113.6 38.1h.01M120.1 45.9h.01M105.0 45.4h.01M112.5 53.0h.01M118.0 42.2h.01M103.1 36.8h.01M116.8 31.9h.01M126.7 43.9h.01M112.6 34.4h.01M116.5 48.2h.01M111.8 36.4h.01M122.7 44.2h.01M126.4 55.4h.01M117.8 42.4h.01M106.5 27.6h.01M124.4 43.8h.01M117.1 38.4h.01M120.1 35.9h.01M122.5 38.6h.01M120.7 42.1h.01M118.5 59.8h.01M127.6 41.1h.01M109.9 51.1h.01M114.2 32.5h.01M119.1 27.7h.01M106.7 31.3h.01M106.1 44.7h.01M126.7 47.9h.01M119.0 53.0h.01M110.0 38.8h.01M119.2 29.4h.01M122.8 59.8h.01M108.4 28.2h.01M117.7 43.5h.01M115.1 42.4h.01M118.0 53.7h.01M121.6 50.7h.01M125.4 40.6h.01M118.8 25.4h.01M99.1 39.9h.01M120.2 30.6h.01M113.5 40.6h.01M109.0 35.2h.01M111.8 45.2h.01M109.0 43.1h.01M109.7 33.6h.01M112.9 40.6h.01M102.7 42.7h.01M116.6 45.0h.01M122.3 39.9h.01M100.4 33.5h.01M110.9 38.2h.01M106.9 43.9h.01M117.7 26.2h.01M111.4 26.3h.01M115.3 51.7h.01M100.2 40.1h.01M119.7 36.5h.01M129.5 41.7h.01M109.9 50.3h.01M125.8 41.7h.01M126.5 53.0h.01M110.8 50.8h.01M114.4 25.4h.01M113.8 33.5h.01M114.0 36.9h.01M115.6 39.1h.01M123.0 48.6h.01M106.0 29.0h.01M104.6 34.5h.01M111.2 42.1h.01M105.4 33.2h.01M117.2 45.6h.01M100.0 30.8h.01M122.2 52.1h.01M102.0 30.3h.01M116.4 43.3h.01M124.1 33.8h.01" stroke="#F8766D" stroke-width="0.74" stroke-linecap="round" fill="none" opacity="0.62"/>
<path d="M128.0 47.5h.01M120.5 45.1h.01M103.7 44.6h.01M107.9 33.7h.01M119.1 26.3h.01M121.1 58.0h.01M117.4 58.1h.01M115.6 42.2h.01M110.6 44.7h.01M128.4 46.1h.01M122.5 40.4h.01M127.4 53.4h.01M114.2 33.5h.01M114.6 38.8h.01M117.3 32.7h.01M128.1 41.2h.01M125.4 31.7h.01M127.5 43.9h.01M115.5 39.1h.01M129.5 44.6h.01M115.1 36.1h.01M112.3 32.1h.01M111.9 31.8h.01M98.9 36.2h.01M107.4 32.2h.01M115.6 33.0h.01M121.7 33.6h.01M120.5 31.8h.01M118.9 36.0h.01M114.1 32.3h.01M115.3 48.2h.01M126.1 31.5h.01M116.3 44.8h.01M127.1 41.1h.01M110.6 37.9h.01M130.4 45.3h.01M114.9 53.7h.01M117.5 42.7h.01M119.4 31.7h.01M121.6 55.7h.01M122.2 62.0h.01M114.9 28.6h.01M126.5 43.4h.01M127.5 51.2h.01M123.2 44.4h.01M100.3 31.1h.01M110.6 27.1h.01M119.2 35.5h.01M124.1 36.2h.01M125.5 55.8h.01M102.5 43.9h.01M111.9 25.8h.01M120.3 26.2h.01M119.6 40.6h.01M112.9 29.9h.01M117.5 52.4h.01M122.3 37.7h.01M115.6 33.5h.01M119.3 39.0h.01M123.9 33.0h.01M109.7 24.1h.01M108.8 31.1h.01M117.8 35.8h.01M120.2 51.3h.01M123.4 35.2h.01M114.4 32.5h.01M105.1 38.7h.01M128.3 39.8h.01M124.9 43.4h.01M119.2 36.8h.01M126.2 51.3h.01M121.3 40.8h.01M119.9 57.5h.01M110.6 52.1h.01M120.8 42.0h.01M123.4 41.2h.01M122.8 27.6h.01M108.6 36.1h.01M120.9 45.0h.01M106.4 27.2h.01M120.8 49.9h.01M118.3 30.2h.01M115.7 40.5h.01M116.7 23.2h.01M106.4 28.6h.01M126.9 37.9h.01M107.8 36.3h.01M120.2 25.6h.01M122.3 35.8h.01M111.6 22.6h.01M106.1 33.8h.01M123.6 53.5h.01M103.7 36.5h.01M107.5 29.4h.01M115.2 26.3h.01M107.3 33.0h.01M122.2 38.9h.01M123.4 51.4h.01M114.1 51.4h.01M122.3 54.7h.01M107.4 42.6h.01M116.0 44.0h.01M126.0 56.7h.01M114.8 37.8h.01M116.4 24.1h.01M107.5 34.6h.01M99.3 36.6h.01M109.1 38.2h.01M129.8 44.2h.01M104.4 39.7h.01M109.0 41.3h.01M129.1 47.4h.01M115.2 42.8h.01M120.6 36.2h.01M98.9 39.9h.01M125.0 49.3h.01M102.5 33.4h.01M121.3 58.3h.01M114.1 23.2h.01M106.7 27.0h.01M126.2 35.9h.01M113.1 54.0h.01M102.6 41.9h.01M129.0 44.7h.01M106.9 47.6h.01M113.9 41.8h.01M118.7 50.9h.01M120.3 54.7h.01M103.1 29.0h.01M126.0 39.2h.01M100.9 32.2h.01M125.4 32.0h.01M124.2 36.8h.01M116.0 49.7h.01M121.5 29.4h.01M119.9 27.7h.01M101.6 38.2h.01M102.4 36.0h.01M113.9 22.0h.01M105.5 25.1h.01M118.1 27.2h.01M122.3 48.4h.01M106.5 34.0h.01M106.0 43.9h.01M116.3 26.3h.01M108.8 47.5h.01M116.5 28.6h.01M131.0 43.9h.01M125.7 47.8h.01M125.5 56.7h.01M107.7 29.5h.01M103.6 41.9h.01M116.0 41.7h.01M123.0 44.5h.01M112.1 28.0h.01M124.4 47.4h.01M112.6 52.2h.01M102.0 35.9h.01M118.5 31.6h.01M119.0 51.2h.01M126.6 40.2h.01M116.2 48.5h.01M102.6 43.0h.01M118.7 57.1h.01M105.7 27.7h.01M111.0 27.6h.01M105.3 41.4h.01M102.3 40.7h.01M114.6 28.1h.01M119.5 44.7h.01M118.4 24.4h.01M114.6 32.2h.01M120.6 48.6h.01M105.9 30.4h.01M120.8 31.1h.01M129.5 51.2h.01M114.2 25.4h.01M111.6 21.7h.01M102.0 38.3h.01M115.0 22.5h.01M116.1 23.6h.01M107.5 34.3h.01M106.8 34.6h.01M106.8 27.5h.01M108.6 30.4h.01M106.7 32.1h.01M115.6 23.6h.01M125.7 53.1h.01M125.7 40.9h.01M103.7 28.3h.01M120.7 62.6h.01M119.7 61.5h.01M115.4 47.3h.01M123.5 48.2h.01M125.5 51.1h.01M101.9 36.0h.01M108.5 32.1h.01M120.8 27.6h.01M112.5 41.9h.01M123.2 47.4h.01M123.0 57.6h.01M108.8 50.3h.01M105.8 39.3h.01M113.7 36.3h.01M128.4 36.0h.01M122.9 28.4h.01M110.3 44.4h.01M119.4 51.3h.01M110.0 36.8h.01M125.2 35.8h.01M112.2 44.1h.01M125.9 56.3h.01M112.4 40.6h.01M101.5 30.8h.01M102.8 32.6h.01M115.4 31.6h.01M105.7 25.3h.01M111.7 39.9h.01M113.4 40.0h.01M121.1 44.9h.01M106.5 32.3h.01M113.2 38.4h.01M119.0 61.7h.01M117.2 29.0h.01M117.8 41.7h.01M105.5 33.6h.01M128.8 41.0h.01M121.9 41.5h.01M105.6 35.7h.01M114.2 33.7h.01M114.4 21.7h.01M109.9 25.5h.01M113.1 43.2h.01M127.7 39.6h.01M100.4 36.8h.01M122.5 60.1h.01M120.8 43.8h.01M115.2 38.9h.01M110.3 36.3h.01M107.4 48.9h.01M119.7 47.0h.01M114.6 49.2h.01M120.7 51.7h.01M125.0 30.2h.01M118.1 55.6h.01M103.2 28.6h.01M103.9 43.3h.01M127.7 35.5h.01M123.7 57.3h.01M110.3 48.8h.01M120.5 35.9h.01M102.5 42.5h.01M126.7 43.4h.01M115.2 30.0h.01M101.4 30.7h.01M106.9 40.7h.01M106.7 38.3h.01M115.7 31.1h.01M113.2 44.6h.01M119.4 52.2h.01M105.2 26.1h.01M101.6 30.5h.01M124.9 54.1h.01M113.9 44.0h.01M122.6 45.8h.01M98.9 40.2h.01M103.4 40.7h.01M107.6 45.4h.01M119.5 33.6h.01M110.1 41.8h.01M127.6 44.3h.01M128.5 37.2h.01M107.8 42.7h.01M130.9 44.5h.01M119.8 44.6h.01M109.6 21.6h.01M111.2 38.3h.01M103.5 38.8h.01M114.6 32.8h.01M115.5 45.8h.01M123.3 50.1h.01M127.5 49.8h.01M119.6 43.7h.01M122.0 43.9h.01M112.8 47.4h.01M122.1 51.2h.01M118.7 46.1h.01M112.9 39.3h.01M117.4 35.0h.01M124.4 43.9h.01M111.6 42.5h.01M121.2 56.2h.01M125.0 50.8h.01M114.1 23.9h.01M112.9 52.8h.01M108.9 41.2h.01M105.6 26.2h.01M116.6 25.9h.01M101.4 33.0h.01M121.9 62.3h.01" stroke="#F2554C" stroke-width="0.6" stroke-linecap="round" fill="none" opacity="0.6"/>
<path d="M94.3 29.8h.01M94.9 30.3h.01" stroke="#E0607A" stroke-width="0.8" stroke-linecap="round" fill="none" opacity="0.8"/>
<path d="M140.7 48.2h.01M146.7 60.0h.01M140.5 47.9h.01M137.3 49.1h.01M142.8 51.0h.01M130.1 60.0h.01M139.7 51.8h.01M145.1 55.5h.01M143.7 57.8h.01M131.7 58.5h.01M138.1 51.7h.01M132.2 53.3h.01M130.4 56.4h.01M132.5 53.8h.01M134.8 60.3h.01M137.6 52.5h.01M135.5 48.3h.01M141.6 51.2h.01M139.8 54.5h.01M138.9 56.4h.01M138.8 45.0h.01M143.9 53.3h.01M129.2 57.3h.01M136.2 52.3h.01M145.1 60.7h.01M142.8 51.8h.01M136.5 57.1h.01M141.5 53.9h.01M138.7 47.5h.01M143.6 56.0h.01M141.0 57.3h.01M140.4 56.8h.01M139.6 44.1h.01M143.2 59.6h.01M143.6 59.1h.01M131.4 59.7h.01M145.4 58.6h.01M145.4 60.1h.01M134.9 58.1h.01M136.1 56.4h.01M132.0 54.9h.01M142.3 54.7h.01M139.1 53.3h.01M138.4 55.8h.01M144.9 61.5h.01M140.5 46.6h.01M146.3 61.0h.01M129.4 56.0h.01M137.6 55.1h.01M134.5 54.5h.01M130.6 55.5h.01M146.7 60.8h.01M144.8 56.7h.01M139.3 53.4h.01M140.1 44.9h.01M137.5 57.8h.01M140.3 53.6h.01M137.7 54.6h.01M136.7 50.6h.01M142.6 55.5h.01M146.5 60.7h.01M137.8 52.7h.01M143.1 60.3h.01M144.6 61.6h.01M134.8 54.7h.01M135.6 50.7h.01M140.3 56.3h.01M137.6 51.9h.01M145.5 61.4h.01M129.0 57.8h.01M140.2 45.0h.01M139.2 56.3h.01M134.9 53.5h.01M133.2 60.9h.01M140.3 53.6h.01M143.4 59.0h.01M142.5 51.0h.01M138.5 49.5h.01M140.3 58.2h.01M145.1 58.7h.01M145.4 60.5h.01M137.1 54.3h.01M129.9 60.2h.01M137.4 48.9h.01M139.0 48.2h.01M138.6 48.3h.01M143.1 51.8h.01M138.0 55.7h.01M136.0 57.4h.01M142.0 52.1h.01M139.7 48.3h.01M139.2 56.7h.01M138.3 57.6h.01M133.5 58.0h.01M134.4 53.1h.01M132.0 53.6h.01M140.7 56.2h.01M141.2 56.8h.01M139.6 46.4h.01M138.6 48.8h.01M142.6 55.1h.01M134.0 60.3h.01M144.2 54.3h.01M137.2 53.4h.01M134.4 59.3h.01M134.8 51.7h.01M139.8 49.3h.01M139.7 44.6h.01M144.7 59.4h.01M143.1 57.4h.01M132.0 54.1h.01M129.6 57.3h.01M140.8 56.4h.01M130.0 58.6h.01M137.0 52.7h.01M139.3 45.1h.01M136.4 56.9h.01M132.4 53.0h.01M146.7 61.5h.01M132.8 55.3h.01M133.9 50.2h.01M135.6 52.1h.01M130.1 59.2h.01M130.1 58.9h.01M134.6 57.3h.01M132.8 57.5h.01M146.4 59.4h.01M129.2 58.0h.01M143.1 58.2h.01M139.2 45.6h.01M141.0 54.3h.01M137.5 57.7h.01M133.4 51.4h.01M138.2 52.1h.01M144.8 60.0h.01M134.2 50.3h.01M131.3 59.8h.01M138.9 54.5h.01M138.1 53.7h.01M136.8 49.8h.01M137.2 47.5h.01M132.7 51.6h.01M132.4 57.8h.01M135.5 50.4h.01M136.5 54.5h.01M144.5 55.2h.01M134.4 59.5h.01M133.9 51.8h.01M143.0 59.3h.01M138.0 53.9h.01M138.5 52.2h.01M136.5 56.0h.01M135.1 52.2h.01M133.5 53.0h.01M143.9 60.0h.01M137.5 50.1h.01M130.7 53.7h.01M133.2 58.8h.01M131.4 54.0h.01M142.7 53.0h.01M133.9 54.6h.01M134.7 55.9h.01M143.2 58.4h.01M133.5 55.9h.01M138.5 49.6h.01M142.8 56.2h.01M132.5 61.3h.01M136.8 58.7h.01M136.3 55.5h.01M139.0 54.5h.01M138.7 46.6h.01M140.9 52.9h.01M142.5 51.2h.01M137.3 52.3h.01M139.4 56.3h.01M131.3 55.5h.01M139.7 45.8h.01M141.2 57.3h.01M138.6 46.3h.01M135.7 56.2h.01M138.7 49.5h.01M140.9 52.8h.01M136.1 54.3h.01M128.8 57.4h.01M133.7 59.1h.01M138.7 46.5h.01M146.5 61.5h.01M137.2 51.6h.01M138.7 59.0h.01M137.8 55.9h.01M140.6 47.4h.01M139.0 57.9h.01M134.3 56.5h.01M142.1 57.9h.01M134.4 49.8h.01M139.3 51.8h.01M137.2 54.0h.01M138.1 47.4h.01M136.8 57.7h.01M132.8 56.6h.01M137.6 49.7h.01M137.9 57.4h.01M140.0 50.3h.01M135.3 48.7h.01M138.4 58.2h.01M141.9 59.7h.01M139.3 51.7h.01M145.6 60.1h.01M134.8 50.0h.01M138.6 54.8h.01M134.7 56.9h.01M131.6 57.5h.01M138.2 59.7h.01M135.9 55.5h.01M137.5 56.7h.01M142.1 56.8h.01M140.6 58.2h.01M133.0 54.7h.01M134.3 53.9h.01M143.1 59.4h.01M138.5 53.1h.01M144.9 61.5h.01M140.1 47.2h.01M134.5 58.2h.01M142.9 56.7h.01M135.0 57.3h.01M137.4 46.7h.01M136.1 49.8h.01M137.2 46.1h.01M142.6 57.8h.01M136.2 50.1h.01M140.6 52.5h.01M141.6 51.7h.01M144.1 54.6h.01M133.5 51.4h.01M132.8 60.5h.01M136.4 54.8h.01M130.4 56.0h.01M145.2 56.2h.01M138.6 51.8h.01M138.7 49.7h.01M131.8 54.4h.01M132.3 53.9h.01M131.5 59.4h.01M142.5 50.5h.01M134.5 60.0h.01M140.9 51.4h.01M130.7 59.3h.01M138.3 48.2h.01M134.7 51.9h.01M136.5 58.9h.01M145.6 60.5h.01M129.0 58.4h.01M142.8 56.7h.01M142.0 55.7h.01M132.3 60.7h.01M138.4 47.1h.01M132.9 55.1h.01M139.9 54.9h.01M145.4 58.4h.01" stroke="#23A845" stroke-width="0.75" stroke-linecap="round" fill="none" opacity="0.75"/>
<path d="M137.2 42.0h.01M140.5 43.0h.01M147.6 63.5h.01M146.6 64.5h.01M126.5 58.0h.01M128.0 55.0h.01M130.0 51.5h.01M148.0 60.0h.01" stroke="#23A845" stroke-width="0.75" stroke-linecap="round" fill="none" opacity="0.7"/>
<path d="M121.3 62.9h.01M124.3 63.5h.01M123.2 63.2h.01M121.4 63.0h.01M124.1 63.7h.01M124.6 62.8h.01M125.5 63.8h.01M125.6 64.3h.01M122.0 62.7h.01M121.6 63.6h.01M122.6 62.8h.01M122.5 61.6h.01M123.7 64.0h.01M122.4 61.4h.01M123.9 63.5h.01M123.5 64.4h.01M125.7 64.2h.01M123.8 64.9h.01M123.6 63.1h.01M121.6 62.2h.01M122.5 62.0h.01M122.0 61.6h.01" stroke="#6F8FDF" stroke-width="0.7" stroke-linecap="round" fill="none" opacity="0.75"/>
<text x="114.8" y="43.4" font-family='"Liberation Sans", sans-serif' font-size="7.4" font-weight="normal" fill="#111" text-anchor="middle" stroke="#111" stroke-width="0.2">PC1</text>
<text x="138.6" y="58.2" font-family='"Liberation Sans", sans-serif' font-size="7.4" font-weight="normal" fill="#111" text-anchor="middle" stroke="#111" stroke-width="0.2">PC2</text>
<text x="127.4" y="70.6" font-family='"Liberation Sans", sans-serif' font-size="7.4" font-weight="normal" fill="#0c0f1c" text-anchor="middle" stroke="#0c0f1c" stroke-width="0.2">PC3</text>
<rect x="149.8" y="2.3" width="130.0" height="86.60000000000001" fill="#fff" stroke="#d8d8d8" stroke-width="0.6"/>
<path d="M193.4 2.3V88.9" stroke="#d8d8d8" stroke-width="0.6"/>
<path d="M236.6 2.3V88.9" stroke="#d8d8d8" stroke-width="0.6"/>
<path d="M149.8 45.7H279.8" stroke="#d8d8d8" stroke-width="0.6"/>
<path d="M177.1 25.8h.01M169.2 19.7h.01M172.2 10.7h.01M175.7 34.3h.01M173.9 28.6h.01M184.4 30.3h.01M178.9 33.9h.01M168.1 25.0h.01M166.9 9.3h.01M173.4 16.0h.01M172.3 9.0h.01M178.1 29.6h.01M159.2 22.1h.01M184.6 26.8h.01M183.5 23.9h.01M184.3 31.4h.01M184.2 29.1h.01M172.9 26.1h.01M168.4 27.0h.01M173.2 30.8h.01M159.3 19.0h.01M160.2 21.7h.01M162.7 7.1h.01M178.1 28.0h.01M163.2 18.4h.01M179.0 33.5h.01M166.9 19.3h.01M166.7 21.6h.01M176.7 36.1h.01M167.2 22.4h.01M174.1 31.1h.01M177.1 33.3h.01M165.8 28.4h.01M176.3 17.8h.01M167.0 26.4h.01M165.7 30.1h.01M158.5 17.9h.01M175.0 32.7h.01M163.7 27.5h.01M177.6 29.5h.01M168.2 13.3h.01M162.2 10.0h.01M173.8 16.5h.01M182.6 24.7h.01M166.8 21.2h.01M160.5 11.7h.01M160.7 20.5h.01M176.9 15.4h.01M178.4 30.5h.01M177.3 20.5h.01M183.8 26.9h.01M164.0 25.7h.01M171.9 17.3h.01M173.4 23.3h.01M162.0 25.5h.01M180.3 28.4h.01M170.8 21.1h.01M158.5 14.3h.01M167.5 8.8h.01M184.6 28.7h.01M173.3 18.0h.01M182.2 24.5h.01M177.7 24.6h.01M173.6 12.0h.01M171.1 32.9h.01M177.9 26.8h.01M163.8 16.8h.01M175.4 19.2h.01M176.1 25.8h.01M166.3 29.4h.01M156.9 18.8h.01M186.2 27.6h.01M171.0 22.7h.01M171.2 22.0h.01M186.6 31.1h.01M177.7 31.2h.01M157.2 15.4h.01M160.8 16.9h.01M177.0 23.6h.01M161.4 10.9h.01M176.1 15.0h.01M165.3 25.2h.01M170.6 31.4h.01M160.2 24.5h.01M163.9 27.5h.01M163.0 26.9h.01M158.9 11.6h.01M162.7 16.8h.01M169.5 7.9h.01M167.7 23.9h.01M178.1 17.7h.01M161.0 12.7h.01M168.7 14.4h.01M160.3 15.3h.01M176.2 27.4h.01M168.2 8.0h.01M185.7 28.2h.01M167.5 20.8h.01M174.5 28.1h.01M159.1 10.5h.01M172.4 8.6h.01M176.5 25.1h.01M165.4 13.4h.01M180.8 27.1h.01M167.0 27.0h.01M169.5 26.2h.01M169.4 10.3h.01M169.4 25.5h.01M160.7 17.6h.01M170.8 19.0h.01M164.4 12.1h.01M163.9 20.2h.01M164.1 9.9h.01M164.3 26.6h.01M168.9 24.4h.01M171.2 26.2h.01M176.3 15.5h.01M157.7 18.9h.01M169.1 18.4h.01M178.1 22.7h.01M163.6 7.4h.01M172.4 13.3h.01M160.4 23.4h.01M176.5 32.6h.01M164.0 20.5h.01M179.4 31.8h.01M158.5 11.5h.01M174.0 21.0h.01M172.2 21.0h.01M172.2 24.9h.01M170.5 13.6h.01M173.9 31.9h.01M165.4 18.2h.01M173.9 18.8h.01M168.5 25.6h.01M172.5 9.2h.01M175.8 19.8h.01M178.6 26.4h.01M169.6 22.1h.01M181.2 31.7h.01M183.6 24.8h.01M164.5 27.6h.01M175.7 16.9h.01M175.3 29.5h.01M164.6 6.7h.01M171.1 19.7h.01M174.8 32.2h.01M172.1 22.3h.01M174.9 12.7h.01M169.3 24.4h.01M168.9 16.9h.01M169.3 8.0h.01M164.3 12.6h.01M165.4 6.1h.01M168.8 14.8h.01M180.7 27.1h.01M172.9 18.3h.01M160.9 17.7h.01M167.8 20.0h.01M177.0 15.1h.01M172.2 21.1h.01M172.2 20.8h.01M184.7 24.9h.01M157.8 13.0h.01M171.5 20.8h.01M169.9 7.1h.01M170.7 7.8h.01M166.5 30.4h.01M160.4 18.5h.01M168.4 27.2h.01M168.2 21.3h.01M175.3 11.8h.01M185.4 31.5h.01M169.3 18.6h.01M173.4 24.9h.01M174.7 22.6h.01M177.5 20.8h.01M176.2 26.5h.01M162.2 21.2h.01M157.6 21.7h.01M167.0 24.6h.01M170.6 27.2h.01M166.6 14.0h.01M177.1 20.2h.01M159.1 14.3h.01M181.4 25.1h.01M164.9 14.4h.01M175.8 31.8h.01M170.0 14.2h.01M173.1 18.2h.01M160.3 17.2h.01M178.6 27.7h.01M175.2 22.4h.01M165.7 27.4h.01M183.7 29.7h.01M176.3 35.2h.01M168.0 19.8h.01M162.1 25.5h.01M173.9 13.8h.01M177.9 24.4h.01M180.5 31.2h.01M159.4 18.5h.01M164.4 23.7h.01M166.3 7.5h.01M167.2 6.3h.01M162.6 15.3h.01M169.4 11.1h.01M167.8 6.2h.01M162.6 18.3h.01M172.4 14.6h.01M177.5 27.9h.01M159.7 10.1h.01M161.4 22.7h.01M160.8 22.1h.01M168.8 30.4h.01M173.4 34.8h.01M171.8 33.3h.01M174.4 24.2h.01M176.1 34.4h.01M178.4 28.2h.01M170.3 27.3h.01M157.6 14.5h.01M185.1 22.8h.01M185.2 24.8h.01M176.4 19.9h.01M160.8 9.0h.01M172.1 9.0h.01M164.8 17.7h.01M174.5 25.1h.01M184.6 23.1h.01M171.7 18.6h.01M155.9 18.8h.01M164.5 22.7h.01M166.2 21.3h.01M186.8 28.9h.01M179.7 33.1h.01M177.8 27.5h.01M174.5 18.9h.01M169.4 16.8h.01M172.7 31.8h.01M169.0 6.6h.01M182.8 25.9h.01M162.9 15.5h.01M166.0 28.8h.01M174.6 20.0h.01M157.8 20.7h.01M166.3 27.9h.01M171.7 15.7h.01M177.6 24.7h.01M170.4 16.1h.01M166.6 25.1h.01M178.2 29.3h.01M162.5 13.5h.01M165.3 20.7h.01M159.7 21.9h.01M159.6 24.1h.01M176.2 30.8h.01M168.9 25.9h.01M164.3 24.4h.01M180.5 27.6h.01M186.9 28.6h.01M168.9 31.0h.01M162.9 18.4h.01M159.6 16.2h.01M168.4 8.9h.01M172.5 18.7h.01M163.6 9.8h.01M182.5 25.5h.01M165.2 9.0h.01M174.0 15.2h.01M171.2 26.3h.01M174.3 12.3h.01M184.3 27.2h.01M171.3 33.5h.01M163.3 16.7h.01M177.7 32.6h.01M158.5 12.3h.01M170.0 32.7h.01M172.9 11.7h.01M159.3 12.9h.01M181.8 29.9h.01M166.0 20.1h.01M165.4 13.8h.01M175.4 29.7h.01M172.3 30.5h.01M165.5 25.8h.01M169.1 17.3h.01M175.8 13.0h.01M165.2 21.0h.01M176.7 14.6h.01M163.0 24.1h.01M173.5 17.2h.01M176.8 27.8h.01M171.5 31.9h.01M162.7 16.1h.01M173.2 23.6h.01M171.2 30.3h.01M165.0 19.5h.01M185.0 29.6h.01M182.2 27.3h.01M176.5 30.8h.01M164.5 12.0h.01M163.2 6.4h.01M164.6 22.6h.01M176.5 30.3h.01M166.6 20.3h.01M167.4 9.2h.01M164.6 8.0h.01M177.1 29.3h.01M167.2 5.8h.01M164.9 15.5h.01M162.6 23.1h.01M162.6 7.6h.01M177.3 33.2h.01M174.4 13.3h.01M170.4 24.5h.01M160.5 23.5h.01M161.3 9.1h.01M167.8 24.3h.01M159.5 21.9h.01M163.4 17.1h.01M163.2 24.4h.01M156.7 19.7h.01M165.8 9.0h.01M156.3 19.8h.01M174.6 34.0h.01M164.9 5.9h.01M176.9 20.0h.01M160.5 15.4h.01M184.7 28.6h.01M159.1 22.7h.01M176.4 26.7h.01M178.1 32.2h.01M167.0 10.3h.01M169.3 13.5h.01M176.9 23.5h.01M157.6 21.7h.01M166.1 6.4h.01M157.2 16.3h.01M170.9 29.1h.01M181.9 30.8h.01M178.1 27.9h.01M178.6 26.6h.01M167.6 25.2h.01M166.9 12.0h.01M165.3 11.4h.01M164.7 12.0h.01M164.5 21.3h.01M172.6 35.0h.01M172.7 25.6h.01M176.6 21.8h.01M179.0 27.0h.01M163.4 6.7h.01M168.5 25.2h.01M172.9 13.9h.01M158.5 11.6h.01M176.0 34.6h.01M166.8 24.9h.01M175.4 14.4h.01M166.8 6.1h.01M182.2 26.8h.01M155.3 17.9h.01M185.7 32.2h.01M186.3 31.2h.01M174.1 17.2h.01M165.4 10.5h.01M179.9 27.2h.01M164.7 28.0h.01M171.5 31.7h.01M164.9 15.6h.01M175.5 30.3h.01M162.2 21.0h.01M179.2 27.0h.01M166.6 27.8h.01M177.1 19.8h.01M178.7 27.9h.01M176.1 29.2h.01M177.4 30.9h.01M177.1 16.9h.01M162.6 22.7h.01M175.5 21.7h.01M157.2 18.3h.01M165.7 13.1h.01M167.2 10.8h.01M171.4 18.9h.01M165.9 19.0h.01M173.3 17.6h.01M170.8 21.6h.01M159.9 10.9h.01M175.6 15.5h.01M161.9 22.2h.01M177.9 18.7h.01M167.6 8.5h.01M170.8 30.9h.01M158.6 19.5h.01M164.5 7.3h.01M165.0 24.5h.01M169.0 6.9h.01M177.8 18.3h.01M163.6 22.5h.01M175.4 35.1h.01M163.4 16.4h.01M168.6 14.9h.01M175.4 18.7h.01M169.7 14.7h.01M175.7 27.5h.01M167.7 15.5h.01M174.3 30.4h.01M175.9 25.7h.01M160.5 14.2h.01M161.8 11.2h.01M175.9 22.1h.01M172.2 21.8h.01M170.2 9.9h.01M184.3 30.8h.01M185.7 31.7h.01M158.4 15.8h.01M173.7 21.9h.01M163.5 13.6h.01M173.6 17.4h.01M158.6 13.9h.01M163.0 26.6h.01M162.5 25.7h.01M175.3 32.0h.01M173.5 15.2h.01M157.7 12.5h.01M177.6 25.5h.01M175.3 12.9h.01M175.3 35.3h.01M163.3 14.5h.01M170.5 22.0h.01M178.6 30.6h.01M174.9 24.2h.01M158.3 21.6h.01M172.7 18.0h.01M160.9 17.9h.01M167.7 13.0h.01M174.0 30.8h.01M163.8 18.8h.01M161.4 15.6h.01M156.4 19.0h.01M173.8 17.5h.01M182.2 29.6h.01M168.7 14.2h.01M179.4 30.6h.01M174.5 35.3h.01M182.3 31.8h.01M167.6 29.7h.01M177.9 23.5h.01M180.4 31.9h.01M186.6 31.7h.01M170.8 17.0h.01M174.8 19.6h.01M166.1 22.0h.01M172.9 34.5h.01M176.4 15.8h.01M165.1 24.9h.01M162.0 25.2h.01M175.0 18.4h.01M161.1 13.6h.01M163.6 25.8h.01M175.7 31.5h.01M171.9 26.6h.01M166.4 30.2h.01M171.3 24.0h.01M172.9 34.8h.01M174.7 18.7h.01M178.3 28.2h.01M170.8 28.0h.01M170.9 11.2h.01M174.3 24.5h.01M165.5 26.6h.01M167.9 13.5h.01M171.4 13.5h.01M180.8 31.1h.01M169.6 19.9h.01M181.2 27.4h.01M175.0 35.6h.01M168.4 8.2h.01M180.8 32.5h.01M172.4 21.3h.01M173.6 34.1h.01M173.3 13.1h.01M158.1 21.7h.01M163.3 15.2h.01M176.9 31.1h.01M165.8 26.8h.01M181.5 30.2h.01M159.2 12.5h.01M174.7 20.1h.01M176.5 26.1h.01M169.7 13.7h.01M175.6 35.5h.01M163.2 15.2h.01M181.9 25.8h.01M159.8 21.4h.01M161.2 17.5h.01M165.0 15.4h.01M169.8 32.4h.01M166.0 17.1h.01M168.7 22.9h.01M176.4 30.7h.01M160.7 17.4h.01M162.5 20.8h.01M186.1 26.5h.01M168.1 28.2h.01M170.5 32.3h.01M174.4 24.7h.01M162.2 15.2h.01M173.6 31.9h.01M168.2 16.2h.01M166.6 30.1h.01M164.4 10.6h.01M157.1 19.6h.01M185.2 29.3h.01M171.8 17.2h.01M165.2 20.3h.01M164.9 25.5h.01M167.9 11.4h.01M176.6 34.8h.01M173.6 14.4h.01M169.2 6.1h.01M176.7 34.8h.01M171.0 19.7h.01M184.8 23.5h.01M164.7 24.8h.01M169.2 32.2h.01M185.4 32.6h.01M174.3 16.6h.01M183.0 31.4h.01M182.7 28.5h.01M184.6 29.9h.01M165.0 16.6h.01M170.8 15.8h.01M167.1 6.8h.01M181.2 27.6h.01M171.5 25.2h.01M173.4 13.5h.01M171.6 29.4h.01M169.0 9.2h.01M160.3 17.0h.01M161.9 20.7h.01M173.2 16.6h.01M163.4 16.6h.01M167.9 14.1h.01M166.8 25.4h.01M159.4 16.1h.01M165.9 23.9h.01M157.9 16.6h.01M175.1 14.0h.01M170.6 30.0h.01M175.2 31.8h.01M178.0 17.1h.01M182.6 28.3h.01M162.3 19.1h.01M176.8 30.9h.01M157.7 21.7h.01M163.9 17.9h.01M159.8 11.9h.01M176.1 33.4h.01M156.8 17.4h.01M182.9 27.9h.01M156.3 15.3h.01M165.9 22.8h.01M161.2 8.0h.01M167.4 19.0h.01M167.9 7.3h.01M175.7 12.4h.01M177.5 27.3h.01M177.0 20.1h.01M173.4 13.1h.01M167.8 31.4h.01M162.0 23.3h.01M177.4 23.6h.01M168.6 28.9h.01M170.3 8.0h.01M170.6 24.6h.01M157.7 16.0h.01M170.7 33.2h.01M161.2 15.4h.01M168.1 27.2h.01M156.9 16.6h.01M165.6 8.5h.01M178.5 34.7h.01M163.3 11.6h.01M166.7 8.1h.01M181.3 33.6h.01M171.0 33.1h.01M160.9 17.0h.01M174.9 27.7h.01M170.3 28.4h.01M182.6 27.2h.01M174.9 19.6h.01M180.9 31.7h.01M161.4 11.7h.01M159.6 19.8h.01M183.9 29.8h.01M160.4 11.6h.01M167.6 6.1h.01M184.1 24.6h.01M171.2 29.1h.01M177.0 21.6h.01M179.0 25.7h.01M183.6 25.3h.01M158.2 12.9h.01M164.9 8.7h.01M178.3 29.6h.01M168.5 7.6h.01M162.6 18.7h.01M164.6 28.3h.01M176.9 33.2h.01M182.0 33.1h.01M176.6 34.1h.01M155.6 17.7h.01M168.0 21.3h.01M159.3 16.5h.01M177.0 30.9h.01M167.2 12.9h.01M164.3 27.2h.01M166.1 13.2h.01M179.6 33.3h.01M175.5 21.9h.01M165.2 19.1h.01M162.8 20.5h.01M171.4 24.6h.01M161.1 9.8h.01M170.1 23.6h.01M179.1 26.2h.01M158.4 19.4h.01M185.2 29.6h.01M172.2 27.5h.01M174.2 22.1h.01M165.3 29.1h.01M176.0 19.9h.01M173.6 19.9h.01M171.2 13.5h.01M162.5 26.3h.01M174.8 19.9h.01M179.8 34.2h.01M168.2 20.4h.01M158.2 13.3h.01M166.8 21.8h.01M177.7 19.1h.01M177.2 21.9h.01M178.1 30.1h.01M186.4 27.4h.01M156.4 15.9h.01M164.9 11.7h.01M164.2 21.0h.01M166.4 8.7h.01M171.2 23.7h.01M177.2 27.0h.01M177.6 27.4h.01M173.5 30.7h.01M162.4 9.3h.01M164.9 5.9h.01M182.7 30.8h.01M162.6 8.8h.01M175.4 33.1h.01M175.9 27.1h.01M164.0 28.2h.01M162.2 25.7h.01M166.0 30.2h.01M164.9 10.3h.01M166.6 15.9h.01M172.8 26.8h.01M176.4 21.3h.01M163.3 11.7h.01M171.6 12.7h.01M176.3 15.9h.01M166.8 18.6h.01M183.2 31.3h.01M163.6 14.2h.01M163.2 12.5h.01M175.1 26.3h.01M169.3 27.1h.01M181.6 28.6h.01M162.5 12.8h.01M169.5 32.2h.01M159.4 19.7h.01M169.3 21.9h.01M168.0 25.2h.01M171.8 23.5h.01M181.3 25.7h.01M175.8 34.3h.01M157.7 12.7h.01M158.9 19.1h.01M163.8 13.8h.01M163.3 11.0h.01M165.0 29.5h.01M186.4 27.2h.01M161.5 7.9h.01M168.5 28.3h.01M164.9 16.1h.01M169.2 17.0h.01M158.6 22.9h.01M178.8 31.5h.01M175.2 31.9h.01M166.3 19.2h.01M159.2 12.5h.01M167.4 26.0h.01M169.2 22.7h.01M165.4 29.4h.01M172.3 25.0h.01M159.7 17.2h.01M171.0 32.1h.01M178.2 20.0h.01M169.6 7.1h.01M160.4 22.2h.01M160.8 21.2h.01M167.4 11.4h.01M180.8 31.8h.01M174.2 18.1h.01M172.5 25.2h.01M166.7 21.7h.01M168.3 19.6h.01M167.5 31.6h.01M172.7 30.9h.01M160.0 17.7h.01M171.6 20.8h.01M164.4 13.6h.01M166.7 12.9h.01M157.7 20.3h.01M185.2 28.3h.01M171.8 8.6h.01M170.9 28.5h.01M178.1 26.5h.01M157.9 20.4h.01M164.5 20.8h.01M168.7 17.2h.01M172.6 31.3h.01M166.0 16.0h.01M165.4 5.7h.01M176.1 20.1h.01M173.7 25.8h.01M185.4 27.2h.01M165.7 15.8h.01M169.4 12.3h.01M166.6 26.2h.01M171.3 23.5h.01M161.5 13.8h.01M185.4 24.4h.01M161.5 11.2h.01M178.7 32.4h.01M166.2 11.4h.01M179.9 34.3h.01M169.8 28.1h.01M183.4 31.8h.01M175.7 16.2h.01M176.1 37.0h.01M173.7 11.5h.01M167.4 13.9h.01M178.1 30.9h.01M166.8 26.9h.01M162.1 18.5h.01M175.2 11.8h.01M162.6 18.6h.01M169.9 21.4h.01M176.2 22.3h.01M171.5 13.1h.01M174.9 34.6h.01M171.4 30.6h.01M165.5 17.2h.01M165.0 22.8h.01M162.1 9.7h.01M177.6 32.9h.01M167.6 11.3h.01M158.4 12.5h.01M171.3 9.8h.01M178.9 25.5h.01M169.5 30.2h.01M167.5 25.7h.01M159.8 22.3h.01M163.7 16.5h.01M175.4 36.2h.01M165.9 7.3h.01M178.4 32.2h.01M174.5 27.7h.01M165.1 10.0h.01M161.7 13.7h.01M183.0 30.9h.01M172.2 14.7h.01M177.9 28.2h.01M169.8 11.7h.01M184.7 28.6h.01M163.7 22.9h.01M160.2 19.8h.01M162.1 9.1h.01M169.6 16.8h.01M163.9 16.7h.01M156.7 18.7h.01M176.0 20.2h.01M171.2 20.2h.01M160.9 11.7h.01M176.0 29.1h.01M164.1 7.5h.01M158.6 21.4h.01M166.5 15.0h.01M181.6 26.8h.01M177.9 18.4h.01M165.8 5.8h.01M168.3 12.9h.01M169.5 31.9h.01M155.7 18.8h.01M175.9 34.9h.01M163.3 19.9h.01M174.5 18.5h.01M169.9 11.0h.01M169.3 27.1h.01M174.8 20.5h.01M171.4 29.9h.01M169.3 23.1h.01M167.4 24.9h.01M174.3 35.5h.01M157.7 20.7h.01M172.8 22.8h.01M161.0 15.6h.01M170.4 7.0h.01M162.4 16.5h.01M167.3 18.5h.01M175.7 12.9h.01M177.6 20.9h.01M174.2 14.3h.01M173.6 14.3h.01M169.5 20.0h.01M172.7 9.2h.01M176.8 25.4h.01M163.7 12.2h.01M166.1 20.1h.01M166.0 15.3h.01M178.5 24.3h.01M184.8 25.8h.01M164.3 25.2h.01M173.6 16.4h.01M167.4 20.3h.01M174.7 23.5h.01M181.5 24.6h.01M163.9 22.8h.01M180.7 32.6h.01M160.4 14.6h.01M157.4 19.5h.01M176.1 30.9h.01M172.5 20.0h.01M175.3 20.9h.01M159.7 19.7h.01M171.8 24.6h.01M164.2 26.5h.01M157.7 13.6h.01M167.9 27.6h.01M164.6 10.4h.01M172.5 14.0h.01M169.4 17.2h.01M184.5 27.9h.01M176.4 13.9h.01M159.6 16.0h.01M174.7 28.3h.01M169.7 21.7h.01M169.5 26.3h.01M163.2 23.9h.01M167.3 17.9h.01M172.7 22.4h.01M187.1 29.8h.01M167.8 24.0h.01M169.7 23.3h.01M161.1 23.2h.01M162.5 7.4h.01M167.0 23.3h.01M161.4 13.8h.01M177.8 32.6h.01M157.0 18.7h.01M165.6 29.3h.01M184.0 31.9h.01M165.3 6.7h.01M172.4 26.1h.01M163.5 19.5h.01M175.5 20.0h.01M172.3 24.3h.01M176.9 16.9h.01M165.2 19.6h.01M184.2 23.8h.01M156.5 19.2h.01M164.3 15.5h.01M182.7 28.3h.01M173.2 18.9h.01M170.3 11.1h.01M169.3 6.7h.01M167.2 29.6h.01M176.7 18.1h.01M174.5 14.1h.01M172.3 18.1h.01M170.3 29.7h.01M173.6 33.1h.01M172.6 33.7h.01M179.6 32.6h.01M173.8 31.9h.01M178.3 31.9h.01M169.7 20.6h.01M169.3 31.4h.01M169.3 16.9h.01M178.0 27.1h.01M176.7 26.2h.01M169.2 12.6h.01M167.6 8.9h.01M174.0 23.2h.01M173.6 25.7h.01M176.1 27.9h.01M185.5 25.4h.01M166.0 11.1h.01M180.5 25.8h.01M161.0 12.4h.01M158.1 21.3h.01" stroke="#E6E4EC" stroke-width="0.66" stroke-linecap="round" fill="none" opacity="0.78"/>
<path d="M168.7 32.0h.01M165.7 16.4h.01M171.0 17.5h.01M178.1 27.7h.01M177.7 17.0h.01M171.0 24.6h.01M158.4 16.7h.01M164.0 26.5h.01M176.5 15.8h.01M170.6 14.2h.01M173.6 14.1h.01M162.5 19.9h.01M172.9 14.9h.01M181.0 28.8h.01M169.5 11.9h.01M184.2 25.7h.01M163.9 18.9h.01M175.1 19.6h.01M175.9 18.4h.01M177.5 16.9h.01M166.1 24.7h.01M167.5 16.6h.01M166.6 7.6h.01M175.6 35.8h.01M168.3 16.5h.01M165.5 10.2h.01M169.2 25.8h.01M158.1 22.4h.01M169.9 31.6h.01M181.1 30.7h.01M157.9 21.7h.01M173.3 17.5h.01M157.2 14.1h.01M160.2 19.3h.01M161.8 9.7h.01M180.9 27.5h.01M170.0 14.0h.01M176.6 24.4h.01M184.3 32.1h.01M161.6 21.1h.01M177.4 16.3h.01M176.0 13.2h.01M160.8 24.4h.01M167.9 8.1h.01M175.4 30.7h.01M180.0 29.7h.01M161.6 16.4h.01M169.3 19.3h.01M169.1 7.1h.01M175.7 14.8h.01M182.8 25.6h.01M162.9 23.5h.01M164.6 8.9h.01M158.9 12.1h.01M169.4 22.0h.01M158.4 20.0h.01M178.0 21.9h.01M165.1 28.9h.01M161.2 8.3h.01M162.3 25.6h.01M167.9 7.0h.01M172.6 28.7h.01M177.1 21.2h.01M161.1 21.7h.01M185.0 23.1h.01M165.4 20.0h.01M163.8 16.7h.01M168.6 14.9h.01M182.1 30.1h.01M167.4 30.0h.01M182.8 31.3h.01M160.9 20.5h.01M163.4 18.6h.01M164.4 13.4h.01M163.7 14.5h.01M186.9 31.8h.01M174.6 15.3h.01M164.3 9.0h.01M174.7 13.7h.01M174.8 11.3h.01M161.1 25.7h.01M184.1 23.9h.01M167.5 19.2h.01M168.3 28.9h.01M168.0 7.7h.01M167.8 21.1h.01M170.2 29.6h.01M175.4 35.4h.01M183.6 27.2h.01M157.6 14.0h.01M162.4 9.1h.01M184.9 24.9h.01M174.9 25.9h.01M173.7 18.6h.01M166.2 17.7h.01M168.7 6.9h.01M186.8 31.6h.01M157.5 17.4h.01M164.2 24.2h.01M178.3 28.1h.01M170.3 9.6h.01M165.6 9.9h.01M177.2 30.8h.01M185.4 22.7h.01M167.5 19.7h.01M168.3 26.1h.01M173.5 12.6h.01M156.0 16.1h.01M162.9 19.3h.01M176.7 34.7h.01M168.8 14.8h.01M177.0 34.8h.01M168.7 29.1h.01M175.6 28.1h.01M170.5 18.3h.01M183.7 25.9h.01M173.4 34.0h.01M162.8 18.0h.01M163.3 23.5h.01M171.9 32.1h.01M173.6 10.8h.01M163.5 14.8h.01M168.7 14.0h.01M173.6 16.2h.01M173.6 24.7h.01M161.0 12.1h.01M175.3 18.9h.01M162.1 16.0h.01M183.5 28.6h.01M177.1 34.1h.01M164.7 16.5h.01M161.1 11.1h.01M181.5 26.5h.01M162.6 14.6h.01M184.1 32.1h.01M161.7 23.1h.01M166.0 21.9h.01M163.7 22.4h.01M175.2 20.2h.01M167.3 26.1h.01M174.8 16.2h.01M186.0 31.9h.01M170.0 30.6h.01M170.6 22.3h.01M173.0 27.2h.01M164.6 12.4h.01M168.7 6.6h.01M157.8 14.8h.01M173.5 21.3h.01M186.1 25.0h.01M184.9 25.7h.01M177.2 23.5h.01M171.5 22.5h.01M175.9 22.0h.01M164.0 19.7h.01M160.2 17.1h.01M162.5 7.6h.01M166.9 23.3h.01M177.8 24.9h.01M164.2 13.7h.01M171.3 19.1h.01M169.6 6.8h.01M169.0 26.3h.01M172.7 12.1h.01M160.1 12.8h.01M167.8 12.5h.01M159.9 13.5h.01M159.3 14.1h.01M168.7 22.3h.01M163.8 12.5h.01M156.0 18.4h.01M177.8 29.1h.01M160.0 9.8h.01M162.4 17.6h.01M174.4 20.4h.01M166.9 18.8h.01M173.6 29.3h.01M160.2 9.3h.01M175.7 31.7h.01M181.6 29.7h.01M166.4 10.2h.01M165.5 12.2h.01" stroke="#DAD5EC" stroke-width="0.66" stroke-linecap="round" fill="none" opacity="0.78"/>
<path d="M158.0 12.2h.01M171.6 32.3h.01M156.8 16.8h.01M163.7 20.7h.01M164.0 16.9h.01M165.5 28.1h.01M168.6 17.9h.01M160.5 22.8h.01M165.8 27.2h.01M156.7 14.5h.01M170.0 10.5h.01M186.2 27.4h.01M156.9 19.4h.01M175.6 23.6h.01M161.5 26.0h.01M162.9 22.9h.01M171.4 9.4h.01M177.4 32.3h.01M156.5 16.3h.01M181.8 29.1h.01M161.9 25.2h.01M186.5 29.6h.01M162.4 11.3h.01M162.8 26.2h.01M165.6 6.6h.01M170.0 22.4h.01M185.1 24.9h.01M170.2 14.3h.01M175.9 27.9h.01M167.2 10.4h.01M168.0 15.5h.01M168.4 9.3h.01M158.2 19.1h.01M183.9 22.8h.01M170.3 12.9h.01M181.6 30.1h.01M168.8 9.8h.01M174.2 30.2h.01M164.9 15.4h.01M181.4 32.1h.01M166.5 24.0h.01M176.6 21.8h.01M164.4 5.7h.01M177.4 27.3h.01M171.3 12.5h.01M163.1 25.1h.01M175.4 29.7h.01M175.9 17.8h.01M175.5 14.8h.01M181.9 24.2h.01M168.3 27.5h.01M175.2 16.5h.01M166.4 10.6h.01M165.2 16.4h.01M168.1 21.7h.01M177.9 33.4h.01M157.0 19.4h.01M158.6 18.2h.01M160.5 11.6h.01M186.7 27.8h.01M169.6 22.9h.01M158.6 16.0h.01M162.0 21.7h.01M176.4 19.1h.01M164.9 21.8h.01M160.9 23.9h.01M171.4 29.9h.01M174.2 20.9h.01M165.5 24.4h.01M159.1 17.8h.01M177.6 30.5h.01M181.5 33.0h.01M169.7 23.3h.01M175.8 36.9h.01" stroke="#C6BFEA" stroke-width="0.66" stroke-linecap="round" fill="none" opacity="0.78"/>
<path d="M163.6 23.0h.01M169.6 6.1h.01M163.7 8.7h.01M171.5 17.9h.01M162.3 18.7h.01M163.2 26.5h.01M173.1 12.1h.01M166.3 11.2h.01M159.6 16.9h.01M169.7 24.0h.01M180.5 25.7h.01M165.5 16.9h.01M160.7 9.7h.01M170.3 17.3h.01M171.7 10.8h.01M171.2 12.6h.01M182.7 27.1h.01M174.0 17.3h.01M175.1 30.9h.01M178.8 33.2h.01M174.0 12.2h.01M159.8 10.2h.01M173.4 24.8h.01M161.0 21.4h.01M171.3 24.7h.01M159.8 19.1h.01M175.3 33.4h.01M181.0 32.4h.01M169.3 22.0h.01M170.3 15.1h.01M166.6 12.8h.01M173.7 25.0h.01M162.6 22.5h.01M164.1 8.8h.01M158.4 13.1h.01M179.9 33.0h.01M168.2 27.2h.01M170.9 15.5h.01M160.3 13.8h.01M172.1 20.9h.01M160.2 9.5h.01M160.1 17.7h.01M167.2 7.5h.01M165.6 22.3h.01M167.0 30.5h.01M168.9 28.3h.01M171.7 11.1h.01M174.1 28.0h.01M172.7 24.5h.01M165.4 16.9h.01M174.3 13.2h.01M168.5 31.8h.01M170.5 23.2h.01M176.3 25.0h.01M162.2 13.7h.01M159.3 20.0h.01M177.2 18.7h.01M162.1 11.9h.01M170.8 14.3h.01M180.6 25.3h.01M160.0 17.2h.01M162.1 10.7h.01M163.2 10.6h.01M183.3 30.4h.01M168.5 18.8h.01M158.5 13.2h.01M164.9 19.5h.01M178.4 27.5h.01M173.0 10.9h.01M172.8 13.8h.01M160.2 14.3h.01M162.2 16.3h.01M176.2 17.4h.01M178.3 21.3h.01M169.8 14.4h.01M167.7 12.2h.01M169.7 12.5h.01M174.5 35.6h.01M170.1 9.9h.01M159.6 22.1h.01M180.0 27.5h.01M166.0 15.2h.01" stroke="#ADA3E3" stroke-width="0.66" stroke-linecap="round" fill="none" opacity="0.78"/>
<path d="M172.1 23.2h.01M176.0 22.9h.01M174.9 13.2h.01M168.1 9.3h.01M158.3 21.4h.01M163.4 14.4h.01M170.5 10.1h.01M178.7 25.0h.01M158.0 14.9h.01M157.4 15.2h.01M157.7 21.7h.01M178.2 28.8h.01M171.0 15.0h.01M177.2 30.6h.01M170.5 15.1h.01M172.4 10.9h.01M169.7 20.5h.01M173.6 32.9h.01M165.3 29.0h.01M179.9 30.0h.01M163.6 19.1h.01" stroke="#8A7DD8" stroke-width="0.66" stroke-linecap="round" fill="none" opacity="0.78"/>
<path d="M152.2 13.7h.01" stroke="#CFCBE2" stroke-width="0.9" stroke-linecap="round" fill="none" opacity="0.95"/>
<text x="152.6" y="43.0" font-family='"Liberation Serif", serif' font-size="5.7" font-weight="bold" fill="#000" text-anchor="start" stroke="#000" stroke-width="0.3">MKI67</text>
<path d="M218.3 33.3h.01M223.2 32.5h.01M229.8 31.8h.01M212.4 27.7h.01M212.0 19.5h.01M217.7 36.0h.01M214.9 13.5h.01M213.1 33.2h.01M221.0 32.0h.01M204.9 19.6h.01M200.9 15.9h.01M216.0 27.4h.01M219.9 20.4h.01M217.7 28.4h.01M215.3 15.2h.01M221.2 19.6h.01M210.0 10.0h.01M203.1 17.1h.01M221.1 33.7h.01M203.8 17.3h.01M212.6 20.1h.01M218.6 32.3h.01M228.9 28.8h.01M213.4 19.8h.01M201.9 16.2h.01M227.1 25.7h.01M204.6 8.9h.01M216.8 25.2h.01M221.2 31.6h.01M209.6 17.3h.01M213.6 9.7h.01M214.8 28.7h.01M221.5 30.8h.01M217.6 25.3h.01M218.3 32.7h.01M209.5 8.7h.01M208.5 10.0h.01M216.0 13.1h.01M210.3 10.0h.01M220.1 32.2h.01M217.2 11.5h.01M218.1 14.1h.01M217.1 17.5h.01M221.0 33.4h.01M211.3 25.0h.01M213.8 21.9h.01M210.0 15.9h.01M200.9 14.1h.01M212.3 27.6h.01M222.4 30.2h.01M220.5 29.6h.01M221.6 29.3h.01M214.7 20.2h.01M208.2 28.6h.01M215.6 14.1h.01M229.7 27.6h.01M214.6 27.2h.01M200.8 15.0h.01M219.3 36.3h.01M220.1 21.6h.01M225.3 25.0h.01M206.8 12.3h.01M217.0 16.1h.01M209.4 21.4h.01M202.7 13.2h.01M229.5 30.4h.01M228.6 30.3h.01M200.9 13.4h.01M208.4 22.4h.01M211.9 8.9h.01M219.3 21.8h.01M207.3 23.7h.01M216.0 12.7h.01M203.8 21.5h.01M218.6 27.9h.01M219.7 13.4h.01M220.0 18.5h.01M218.3 28.6h.01M208.8 12.3h.01M216.7 10.5h.01M215.3 30.9h.01M208.0 9.8h.01M225.0 32.7h.01M227.9 28.8h.01M208.4 22.7h.01M217.3 9.8h.01M207.5 13.0h.01M200.8 15.8h.01M220.2 34.2h.01M218.3 24.2h.01M211.5 9.1h.01M217.9 25.3h.01M204.8 17.9h.01M219.8 27.4h.01M215.9 20.2h.01M215.9 16.7h.01M221.2 29.7h.01M206.5 15.9h.01M213.2 14.7h.01M215.2 24.7h.01M219.2 16.2h.01M230.1 28.4h.01M218.0 20.7h.01M210.1 20.9h.01M213.4 25.5h.01M208.4 24.3h.01M208.1 14.3h.01M213.9 10.2h.01M201.3 18.2h.01M224.4 31.1h.01M228.7 32.4h.01M211.0 16.3h.01M223.8 26.9h.01M229.1 27.3h.01M210.5 23.8h.01M216.1 28.3h.01M217.2 13.2h.01M221.0 31.6h.01M201.4 14.1h.01M205.1 11.8h.01M213.1 12.8h.01M213.6 16.6h.01M213.5 11.1h.01M211.9 23.1h.01M215.0 26.4h.01M219.1 26.9h.01M213.4 25.0h.01M202.1 17.5h.01M220.2 29.6h.01M199.5 17.4h.01M223.1 33.3h.01M213.2 24.1h.01M212.2 8.9h.01M212.2 29.1h.01M205.7 13.2h.01M204.6 11.3h.01M215.6 11.4h.01M202.7 15.5h.01M213.0 25.1h.01M216.8 32.5h.01M218.9 18.2h.01M215.6 11.7h.01M205.3 9.3h.01M205.2 20.7h.01M218.3 17.4h.01M213.3 21.6h.01M205.5 24.7h.01M212.5 9.9h.01M213.0 17.7h.01M202.5 16.0h.01M205.7 16.8h.01M217.9 10.5h.01M212.4 12.2h.01M208.7 8.4h.01M229.6 27.7h.01M205.8 18.4h.01M226.7 25.1h.01M208.1 19.9h.01M209.7 19.1h.01M217.1 12.3h.01M203.1 14.9h.01M210.6 23.5h.01M221.5 29.6h.01M217.5 33.0h.01M203.7 20.3h.01M205.9 9.6h.01M219.0 15.3h.01M208.9 28.4h.01M211.5 27.5h.01M212.1 20.0h.01M213.9 14.9h.01M202.0 11.8h.01M205.7 22.6h.01M206.5 19.9h.01M201.7 21.7h.01M217.0 20.2h.01M217.0 28.1h.01M214.6 27.9h.01M214.5 9.5h.01M217.8 24.0h.01M225.9 26.5h.01M208.3 9.4h.01M214.1 31.3h.01M213.2 8.1h.01M218.9 35.4h.01M210.6 23.4h.01M215.5 8.4h.01M207.3 18.5h.01M203.9 14.3h.01M202.6 13.5h.01M203.9 19.8h.01M220.8 15.5h.01M211.0 25.7h.01M206.6 19.7h.01M215.0 18.1h.01M208.9 10.7h.01M215.9 29.1h.01M219.6 29.5h.01M211.2 20.4h.01M209.3 19.9h.01M222.4 30.3h.01M217.1 27.9h.01M211.8 23.3h.01M228.8 29.0h.01M209.8 8.2h.01M218.0 24.9h.01M210.8 30.7h.01M220.5 18.5h.01M204.2 9.6h.01M228.3 26.7h.01M228.6 32.1h.01M213.4 11.6h.01M208.6 20.1h.01M220.7 32.8h.01M207.8 17.5h.01M219.3 17.3h.01M223.4 32.8h.01M210.0 26.4h.01M214.2 23.4h.01M205.0 20.5h.01M219.3 35.5h.01M202.1 19.2h.01M217.6 32.6h.01M222.8 30.4h.01M213.9 22.1h.01M205.4 23.1h.01M219.4 36.4h.01M199.5 17.8h.01M219.2 15.5h.01M201.6 21.2h.01M207.7 28.1h.01M216.8 25.7h.01M208.1 12.9h.01M214.5 20.1h.01M208.8 24.0h.01M205.3 15.3h.01M206.4 26.2h.01M230.4 30.7h.01M210.6 9.9h.01M228.2 32.0h.01M213.4 14.4h.01M206.8 7.9h.01M201.8 14.5h.01M215.3 24.3h.01M207.4 17.0h.01M209.2 12.7h.01M223.6 27.5h.01M220.0 28.3h.01M208.4 21.0h.01M209.9 22.3h.01M212.8 32.3h.01M216.0 24.7h.01M210.1 18.3h.01M213.7 12.9h.01M211.9 18.3h.01M212.1 32.2h.01M225.6 32.8h.01M213.6 22.4h.01M215.4 13.4h.01M208.5 18.4h.01M209.6 23.4h.01M212.0 29.4h.01M206.4 9.0h.01M220.7 30.1h.01M210.3 21.0h.01M221.3 29.6h.01M209.2 26.6h.01M219.1 26.7h.01M226.3 30.2h.01M227.5 27.2h.01M220.9 26.4h.01M215.7 32.2h.01M212.3 11.6h.01M204.8 24.2h.01M217.0 31.4h.01M199.5 17.7h.01M209.0 23.2h.01M215.3 17.3h.01M205.8 23.9h.01M213.9 11.2h.01M208.9 12.1h.01M206.1 10.3h.01M221.0 29.6h.01M212.8 11.4h.01M213.4 23.6h.01M216.0 13.0h.01M218.2 14.0h.01M213.3 13.0h.01M224.2 29.2h.01M220.6 23.5h.01M207.2 22.3h.01M208.8 17.1h.01M204.4 16.1h.01M208.6 10.2h.01M210.6 16.5h.01M209.5 9.0h.01M215.0 12.2h.01M207.7 21.1h.01M208.0 13.3h.01M208.8 16.8h.01M221.7 21.9h.01M221.0 25.6h.01M221.1 30.9h.01M209.1 15.5h.01M223.0 34.1h.01M206.6 8.4h.01M206.7 10.0h.01M223.9 26.0h.01M222.1 29.3h.01M202.0 15.0h.01M209.1 25.3h.01M218.5 32.3h.01M211.6 32.0h.01M220.0 16.6h.01M210.7 17.8h.01M203.3 18.7h.01M211.6 17.7h.01M215.4 23.0h.01M205.3 18.3h.01M221.7 32.5h.01M212.2 10.5h.01M213.1 28.7h.01M205.1 18.0h.01M215.8 8.5h.01M213.4 31.9h.01M217.9 29.3h.01M229.1 28.6h.01M211.6 29.7h.01M218.4 23.1h.01M209.1 23.9h.01M218.4 20.7h.01M221.0 31.2h.01M204.3 16.2h.01M208.8 18.8h.01M202.4 14.8h.01M220.6 20.2h.01M217.0 9.9h.01M214.3 27.1h.01M209.8 30.3h.01M206.7 18.5h.01M222.3 34.1h.01M221.3 28.1h.01M211.0 6.3h.01M220.1 31.3h.01M203.7 20.6h.01M219.3 29.0h.01M220.1 20.5h.01M215.5 10.7h.01M214.1 22.8h.01M207.3 8.7h.01M211.5 23.0h.01M227.6 25.0h.01M220.5 28.8h.01M209.5 11.5h.01M205.5 7.7h.01M219.9 32.4h.01M220.9 20.1h.01M207.0 6.8h.01M225.4 24.5h.01M218.2 20.5h.01M221.5 31.9h.01M207.8 8.5h.01M211.9 18.0h.01M225.2 32.2h.01M218.1 13.8h.01M227.1 24.8h.01M217.4 10.4h.01M204.3 12.6h.01M220.9 18.7h.01M225.4 26.7h.01M207.5 13.5h.01M218.2 18.1h.01" stroke="#E6E4EC" stroke-width="0.66" stroke-linecap="round" fill="none" opacity="0.78"/>
<path d="M216.6 9.6h.01M204.2 23.5h.01M220.3 30.9h.01M202.4 19.9h.01M207.1 6.7h.01M207.0 21.7h.01M219.9 32.3h.01M222.9 27.1h.01M208.4 20.2h.01M205.0 8.2h.01M216.4 12.3h.01M212.1 27.8h.01M209.2 17.9h.01M216.7 10.4h.01M220.7 18.4h.01M214.2 8.6h.01M210.5 15.2h.01M225.4 28.7h.01M219.4 34.5h.01M202.8 21.3h.01M212.3 8.8h.01M219.6 36.0h.01M206.6 8.9h.01M227.9 25.9h.01M209.3 18.6h.01M214.7 27.8h.01M215.0 20.6h.01M226.7 27.2h.01M216.1 32.1h.01M212.7 18.1h.01M210.4 28.9h.01M217.2 28.0h.01M217.4 17.5h.01M209.4 13.0h.01M213.6 28.1h.01M219.3 21.0h.01M214.3 19.8h.01M214.0 26.6h.01M209.4 27.0h.01M217.4 11.8h.01M217.7 22.8h.01M209.3 21.8h.01M217.5 28.5h.01M207.7 15.8h.01M219.3 35.0h.01M217.6 26.2h.01M207.4 10.9h.01M204.1 20.6h.01M206.3 14.2h.01M213.5 22.0h.01M217.5 32.2h.01M214.0 27.1h.01M219.6 12.4h.01M218.1 15.4h.01M201.3 21.3h.01M212.9 30.0h.01M226.0 24.9h.01M220.7 20.2h.01M208.6 11.5h.01M219.8 17.9h.01M207.2 22.7h.01M204.2 15.7h.01M206.2 24.5h.01M210.2 6.8h.01M219.2 28.4h.01M200.9 17.4h.01M210.7 20.2h.01M214.7 31.7h.01M227.5 29.1h.01M229.8 26.5h.01M220.1 28.1h.01M214.4 7.1h.01M202.3 19.5h.01M216.1 11.0h.01M210.6 30.2h.01M224.7 30.4h.01M203.2 15.7h.01M217.0 21.4h.01M211.4 18.7h.01M214.5 17.4h.01M227.5 26.3h.01M216.0 20.9h.01M211.4 29.0h.01M204.5 15.4h.01M213.7 28.4h.01M208.9 26.1h.01M229.8 32.8h.01M205.8 26.0h.01M215.2 10.6h.01M223.2 34.3h.01M213.0 21.0h.01M205.4 24.1h.01M202.5 16.9h.01M217.1 10.2h.01M217.1 34.9h.01M217.7 19.8h.01M216.6 11.5h.01M208.6 9.4h.01M212.9 18.6h.01M228.8 28.8h.01M203.5 24.1h.01M203.6 21.8h.01M220.5 29.0h.01M206.6 21.8h.01M206.6 8.2h.01M204.0 9.7h.01M219.1 21.0h.01M212.7 9.4h.01M216.2 20.2h.01M207.5 22.7h.01M213.4 23.2h.01M216.2 26.2h.01M218.1 36.3h.01M212.6 31.0h.01M204.9 21.7h.01M216.6 28.2h.01M211.3 19.3h.01M214.1 22.9h.01M215.6 13.6h.01M224.8 28.5h.01M226.1 27.4h.01M212.0 11.6h.01M207.4 15.3h.01M215.7 8.2h.01M217.0 18.7h.01M212.1 24.7h.01M221.3 28.2h.01M207.5 12.2h.01M211.5 8.4h.01M206.4 19.3h.01M209.4 29.2h.01M212.4 9.6h.01M229.6 28.2h.01M215.6 32.9h.01M205.5 12.6h.01M220.5 23.9h.01M206.4 20.4h.01M205.6 20.3h.01M223.9 26.4h.01M202.0 19.6h.01M208.0 27.9h.01M219.3 15.2h.01M208.0 8.2h.01M220.6 24.4h.01M213.0 31.1h.01M227.4 24.6h.01M217.6 23.7h.01M205.9 19.0h.01M217.0 24.2h.01M214.7 21.1h.01M208.7 18.6h.01M221.2 17.2h.01M206.7 8.1h.01M228.1 24.7h.01M221.0 31.0h.01M228.2 23.4h.01M204.5 21.5h.01M221.0 18.4h.01M224.0 26.5h.01M201.6 16.3h.01M206.5 14.1h.01M219.6 29.4h.01M205.8 10.5h.01M214.5 22.1h.01M208.5 26.5h.01M206.6 13.1h.01M209.3 6.3h.01M209.8 20.7h.01M204.2 15.0h.01M211.9 26.7h.01M216.4 9.9h.01M213.5 11.1h.01M207.5 16.0h.01M209.9 23.4h.01M216.9 21.2h.01M213.7 14.0h.01M216.5 26.1h.01M210.7 30.2h.01M212.8 25.1h.01M212.1 26.8h.01M225.3 28.9h.01M206.0 12.3h.01M215.8 18.3h.01M207.7 11.6h.01M220.9 28.3h.01M207.0 17.9h.01M199.8 17.2h.01M228.1 26.1h.01M206.8 26.7h.01M212.2 31.0h.01M204.1 11.4h.01M214.0 10.9h.01M211.3 23.3h.01M218.0 33.0h.01M205.8 8.5h.01M200.7 16.9h.01M212.1 19.0h.01M208.0 29.0h.01M208.3 20.6h.01M218.1 22.8h.01M218.0 23.7h.01M217.6 33.8h.01M225.6 26.9h.01M211.3 28.8h.01M205.0 17.1h.01" stroke="#C6BFEA" stroke-width="0.66" stroke-linecap="round" fill="none" opacity="0.78"/>
<path d="M212.2 7.0h.01M220.6 33.7h.01M213.5 24.3h.01M209.6 21.1h.01M225.2 25.5h.01M209.2 7.7h.01M204.3 15.6h.01M218.8 13.4h.01M209.5 16.2h.01M215.1 30.9h.01M214.4 20.0h.01M219.1 27.0h.01M208.1 15.8h.01M205.8 17.2h.01M203.0 13.5h.01M217.5 12.9h.01M210.5 7.4h.01M208.0 16.9h.01M207.7 10.6h.01M209.9 9.8h.01M223.2 32.2h.01M210.0 18.1h.01M213.2 26.9h.01M214.1 18.5h.01M216.1 14.5h.01M211.4 16.7h.01M209.1 23.9h.01M215.9 15.4h.01M222.3 24.6h.01M227.5 28.5h.01M214.9 26.7h.01M215.4 28.7h.01M216.3 14.9h.01M220.5 32.2h.01M221.4 19.0h.01M219.4 25.7h.01M215.5 26.8h.01M213.1 11.1h.01M214.8 19.0h.01M211.5 31.8h.01M205.8 7.5h.01M219.3 19.7h.01M230.6 29.9h.01M215.7 32.2h.01M212.8 27.7h.01M226.8 29.4h.01M222.5 25.5h.01M214.9 29.4h.01M206.3 25.9h.01M223.4 26.2h.01M218.5 34.4h.01M203.9 20.1h.01M216.1 26.6h.01M226.9 24.4h.01M209.4 11.5h.01M216.9 19.4h.01M210.4 19.8h.01M205.9 22.1h.01M201.9 15.3h.01M211.3 6.2h.01M219.8 32.6h.01M230.1 27.0h.01M223.7 26.4h.01M220.8 30.8h.01M214.5 27.5h.01M215.2 25.4h.01M204.9 13.3h.01M213.5 27.9h.01M209.3 13.9h.01M218.9 32.0h.01M203.9 23.6h.01M226.5 26.8h.01M210.0 28.9h.01M222.3 29.1h.01M213.8 20.0h.01M225.6 33.0h.01M206.1 7.2h.01M208.8 9.4h.01M212.3 19.1h.01M208.6 13.7h.01M212.6 10.2h.01M227.9 23.9h.01M215.8 22.7h.01M225.3 32.5h.01M218.4 17.7h.01M212.0 17.0h.01M207.9 5.8h.01M214.1 20.6h.01M202.3 12.2h.01M220.2 27.8h.01M210.2 23.3h.01M214.8 13.7h.01M209.9 12.7h.01M204.2 22.9h.01M218.3 16.2h.01M223.1 32.6h.01M203.4 11.4h.01M203.2 11.2h.01M217.7 12.2h.01M219.1 20.7h.01M228.3 25.8h.01M230.0 27.5h.01M213.5 30.5h.01M220.8 17.5h.01M209.3 18.0h.01M221.7 18.0h.01M204.6 9.7h.01M228.2 28.1h.01M202.9 14.5h.01M222.4 25.1h.01M217.2 34.3h.01M208.9 12.5h.01M216.1 23.2h.01M201.9 19.9h.01M203.2 16.9h.01M215.5 21.5h.01M202.5 22.9h.01M203.7 20.8h.01M213.1 27.9h.01M217.4 22.8h.01M201.1 17.9h.01M223.6 26.1h.01M221.6 25.5h.01M206.5 23.3h.01M208.4 23.8h.01M202.7 23.5h.01M221.6 27.4h.01M217.0 21.5h.01M216.2 15.4h.01M222.5 31.8h.01M210.9 12.4h.01M208.8 6.5h.01M202.1 14.7h.01M211.2 19.4h.01M220.4 19.6h.01M221.0 25.8h.01M216.1 32.2h.01M227.0 24.5h.01M213.1 27.3h.01M205.1 25.7h.01M218.6 20.0h.01M209.0 22.5h.01M227.0 28.2h.01M201.4 19.2h.01M200.0 15.3h.01M221.4 20.4h.01M202.6 22.3h.01M206.0 11.6h.01M224.0 26.3h.01M203.0 14.3h.01M204.7 23.1h.01M216.5 10.6h.01M211.8 7.7h.01M205.2 18.4h.01M210.2 11.0h.01M224.6 33.6h.01M210.7 15.2h.01M212.5 13.5h.01M214.0 8.0h.01M225.6 26.1h.01M215.0 24.0h.01M208.1 18.8h.01M203.7 15.6h.01M209.3 27.3h.01M210.1 10.6h.01M211.9 20.6h.01M216.1 12.2h.01M212.7 19.6h.01M221.0 15.7h.01M224.2 29.1h.01M214.5 32.0h.01M210.9 7.4h.01M214.7 21.9h.01M212.9 28.4h.01M201.5 20.7h.01M228.0 22.6h.01M216.3 23.1h.01M217.8 14.5h.01M219.2 25.4h.01M202.1 11.5h.01M216.2 23.1h.01M220.2 28.2h.01M218.6 29.7h.01M204.3 16.8h.01M204.3 18.9h.01M210.1 18.7h.01M217.9 17.4h.01M210.0 16.4h.01M215.7 34.7h.01M221.7 21.5h.01M226.0 31.4h.01M218.0 17.1h.01M216.5 12.0h.01M211.4 11.4h.01M210.4 11.5h.01M219.9 20.2h.01M221.8 27.5h.01M202.5 16.9h.01M211.9 27.5h.01M209.6 5.7h.01M209.8 13.2h.01M216.6 33.8h.01M209.6 16.4h.01M204.3 16.0h.01M208.8 28.7h.01M204.9 21.1h.01M202.3 18.8h.01M220.2 29.1h.01M219.3 35.1h.01M204.1 24.2h.01M201.9 15.8h.01M218.8 16.9h.01M202.6 15.8h.01M209.5 12.9h.01M214.0 16.8h.01M215.2 12.0h.01M216.3 17.3h.01M207.0 20.1h.01M219.2 33.9h.01M218.5 34.3h.01M207.0 7.0h.01M214.4 26.3h.01M219.5 29.3h.01M228.6 25.1h.01M218.8 20.4h.01M205.3 24.0h.01M203.2 13.6h.01M208.9 16.9h.01M203.8 10.4h.01M204.6 20.0h.01M213.3 22.5h.01M202.6 15.3h.01M222.0 33.6h.01M204.3 12.3h.01M201.9 21.3h.01M208.7 21.5h.01M204.7 11.1h.01M209.1 9.1h.01M207.8 8.9h.01M220.1 31.0h.01M215.3 27.2h.01M223.1 27.1h.01M215.6 30.5h.01M213.5 22.0h.01M217.8 26.5h.01M214.4 22.7h.01M228.2 31.9h.01M221.0 33.9h.01M222.6 31.5h.01M214.9 12.0h.01M202.9 11.3h.01M215.1 21.6h.01M206.8 16.1h.01M224.2 31.4h.01M221.3 18.8h.01M204.4 14.8h.01M205.0 8.9h.01M218.6 22.8h.01M218.0 15.0h.01M215.4 18.4h.01M219.1 30.3h.01M205.1 25.0h.01M203.2 16.7h.01M207.4 28.5h.01M214.4 31.6h.01M220.3 15.0h.01M228.4 24.8h.01M221.3 17.5h.01M221.5 18.7h.01M218.5 11.8h.01M211.2 27.8h.01M211.1 24.6h.01M214.7 22.5h.01M225.8 24.2h.01M203.7 22.3h.01M217.7 17.0h.01M214.0 7.4h.01M210.8 19.8h.01M217.0 9.7h.01M212.1 6.6h.01M205.4 23.8h.01M216.8 11.4h.01M215.9 17.9h.01M203.4 16.5h.01M207.8 12.6h.01M213.4 25.2h.01M208.2 13.9h.01M214.3 20.1h.01M216.5 35.2h.01M201.2 20.5h.01M204.3 14.3h.01M201.3 16.4h.01M213.3 18.0h.01M227.7 24.0h.01M214.6 17.1h.01M216.1 24.4h.01M208.9 26.6h.01M210.4 22.6h.01M211.3 6.1h.01M213.3 12.9h.01M208.7 15.6h.01M203.1 13.7h.01M205.5 10.5h.01M218.1 25.0h.01M211.4 7.8h.01M221.9 29.2h.01M218.0 13.4h.01M217.6 13.9h.01M213.6 29.9h.01M211.3 25.2h.01M216.2 31.1h.01M223.7 29.1h.01M220.4 34.2h.01M202.5 18.4h.01M208.2 23.0h.01M224.2 29.7h.01M201.7 16.0h.01M218.2 13.2h.01M213.4 29.6h.01M225.0 29.9h.01M221.0 20.3h.01M202.7 11.8h.01M225.4 28.7h.01M211.0 19.7h.01M218.4 33.0h.01M225.7 26.0h.01M209.5 13.5h.01M210.4 14.5h.01M213.3 23.0h.01M211.7 24.6h.01M208.5 10.8h.01M200.7 14.1h.01M213.1 27.0h.01M212.1 27.0h.01M217.3 16.8h.01M213.0 31.9h.01M215.1 18.9h.01M202.9 19.3h.01M222.4 29.0h.01M206.0 13.8h.01M228.1 27.9h.01M227.0 26.3h.01M212.5 13.6h.01M208.7 10.8h.01M208.5 6.2h.01M221.2 16.6h.01M201.3 14.1h.01M223.0 32.9h.01M226.9 29.0h.01M201.5 14.8h.01M209.9 18.6h.01M216.2 14.5h.01M219.4 30.5h.01M219.2 18.5h.01M211.8 20.4h.01M212.8 7.0h.01M211.0 24.5h.01M210.3 22.9h.01M219.1 20.4h.01M205.8 22.3h.01M208.8 28.2h.01M217.9 23.0h.01M215.8 27.8h.01M221.8 17.9h.01M219.9 20.6h.01M210.2 24.1h.01M208.5 8.3h.01M221.9 30.7h.01M222.8 27.9h.01M213.2 17.8h.01M202.0 12.1h.01M203.7 22.0h.01M215.2 10.4h.01" stroke="#ADA3E3" stroke-width="0.66" stroke-linecap="round" fill="none" opacity="0.78"/>
<path d="M208.5 11.1h.01M224.3 33.1h.01M214.3 13.2h.01M212.4 6.7h.01M217.0 17.9h.01M217.3 19.8h.01M206.7 21.4h.01M212.3 31.8h.01M209.0 13.9h.01M221.2 30.7h.01M208.4 15.8h.01M215.5 10.0h.01M212.8 19.1h.01M205.1 16.2h.01M206.0 20.8h.01M226.3 31.7h.01M206.9 15.2h.01M216.1 10.4h.01M215.7 29.7h.01M209.6 11.9h.01M202.1 16.8h.01M223.0 27.6h.01M210.2 30.6h.01M206.7 26.1h.01M211.0 30.0h.01M224.2 29.7h.01M218.6 21.8h.01M217.6 27.4h.01M214.2 27.9h.01M213.2 7.2h.01M209.5 17.0h.01M209.5 6.5h.01M218.2 14.3h.01M204.4 24.4h.01M206.7 11.8h.01M219.0 14.4h.01M207.9 10.6h.01M227.7 31.0h.01M206.2 19.4h.01M200.9 15.0h.01M216.3 32.9h.01M209.5 11.8h.01M221.7 27.8h.01M212.9 32.8h.01M221.9 28.4h.01M220.2 34.1h.01M218.1 24.3h.01M221.3 32.6h.01M219.3 25.6h.01M214.3 7.2h.01M221.7 30.4h.01M217.8 19.7h.01M202.4 15.2h.01M220.1 16.1h.01M207.3 8.8h.01M215.6 30.2h.01M203.4 19.5h.01M208.2 27.5h.01M209.3 9.0h.01M216.4 14.5h.01M214.0 14.6h.01M203.1 14.1h.01M206.0 11.5h.01M224.4 32.1h.01M204.6 10.2h.01M204.5 9.8h.01M207.7 10.6h.01M216.7 11.2h.01M212.7 11.2h.01M225.0 31.9h.01M210.8 23.7h.01M216.0 32.4h.01M213.7 19.8h.01M205.2 14.6h.01M204.6 17.9h.01M217.9 30.4h.01M205.6 10.9h.01M219.2 16.3h.01M209.0 21.7h.01M219.9 28.7h.01M216.9 14.3h.01M228.9 30.8h.01M220.5 34.4h.01M207.6 12.5h.01M204.1 23.7h.01M208.7 6.8h.01M209.8 10.3h.01M217.7 23.8h.01M216.0 25.6h.01M218.8 21.0h.01M205.4 21.5h.01M215.1 17.3h.01M222.2 29.9h.01M215.4 18.5h.01M203.0 21.6h.01M203.8 12.2h.01M220.6 31.4h.01M224.0 26.6h.01M214.8 9.8h.01M215.8 33.3h.01M215.7 13.0h.01M203.8 11.0h.01M213.4 28.9h.01M209.6 20.9h.01M204.8 9.4h.01M207.9 20.3h.01M210.7 15.9h.01M213.7 8.4h.01M213.1 7.1h.01M217.0 20.2h.01M218.0 30.0h.01M221.4 18.4h.01M216.4 28.8h.01M211.6 18.7h.01M215.7 25.5h.01M220.2 28.9h.01M221.0 24.5h.01M214.4 31.3h.01M221.8 29.1h.01M209.3 14.1h.01M216.3 31.8h.01M211.1 14.4h.01M203.0 11.7h.01M219.6 30.5h.01M213.3 22.8h.01M216.4 30.4h.01M216.9 22.1h.01M206.9 21.3h.01M212.3 22.3h.01M208.7 22.7h.01M210.6 24.7h.01M226.0 30.9h.01M209.6 15.1h.01M213.1 7.0h.01M218.8 15.2h.01M211.2 15.8h.01M210.4 24.4h.01M220.6 14.8h.01M222.2 30.5h.01M203.3 23.2h.01M214.8 33.0h.01M212.2 17.6h.01M202.2 16.3h.01M200.8 14.0h.01M217.0 10.5h.01M213.2 29.1h.01M201.8 17.9h.01M210.4 13.0h.01M213.8 28.2h.01M220.5 14.6h.01M204.8 20.2h.01M221.9 27.1h.01M204.2 22.1h.01M211.4 14.8h.01M202.3 17.9h.01M205.1 16.7h.01M205.4 16.5h.01M204.9 16.3h.01M207.2 27.5h.01M222.4 25.1h.01M220.2 28.3h.01M212.9 15.4h.01M230.2 31.0h.01M227.2 25.0h.01M225.5 29.0h.01M212.0 21.6h.01M211.6 27.9h.01M205.9 10.1h.01M207.9 20.0h.01M201.0 16.8h.01M224.5 33.8h.01M224.1 29.3h.01M214.1 11.8h.01M216.9 23.9h.01M213.1 14.6h.01M200.4 17.2h.01M205.7 12.2h.01M225.3 31.8h.01M215.2 23.5h.01M219.9 30.5h.01M215.0 8.7h.01M207.6 11.5h.01M204.1 20.5h.01M204.0 9.2h.01M220.4 35.6h.01M211.3 31.4h.01M213.7 15.5h.01M221.3 29.6h.01M219.1 36.4h.01M214.0 20.8h.01M208.4 17.1h.01M207.6 20.1h.01M219.0 17.4h.01M201.8 20.5h.01M215.4 29.4h.01M215.7 23.4h.01M228.6 27.8h.01M218.5 23.9h.01M208.0 8.8h.01M214.0 32.0h.01M216.4 15.9h.01M215.5 24.8h.01M206.3 17.1h.01M227.3 28.2h.01M225.2 27.2h.01M201.9 14.1h.01M227.2 28.6h.01M223.4 31.3h.01M208.4 23.8h.01M219.0 35.8h.01M209.9 22.2h.01M215.0 34.0h.01M228.8 23.5h.01M228.4 24.5h.01M229.8 27.5h.01M203.5 21.5h.01M227.0 26.3h.01M220.3 20.6h.01M206.3 26.1h.01M204.6 9.7h.01M214.1 20.2h.01M214.6 11.3h.01M224.9 24.8h.01M203.2 22.0h.01M207.9 28.7h.01M211.1 10.8h.01M211.5 20.7h.01M219.4 27.6h.01M209.3 18.0h.01M212.1 19.4h.01M220.9 21.2h.01M206.8 23.1h.01M203.9 24.3h.01M210.1 17.2h.01M218.2 31.3h.01M229.1 25.9h.01M215.1 8.0h.01M211.5 18.6h.01M217.2 28.2h.01M213.0 32.6h.01M227.3 27.4h.01M219.0 12.9h.01M215.6 30.6h.01M211.5 31.7h.01M213.6 21.1h.01M217.3 20.3h.01M215.6 31.5h.01M203.5 13.3h.01M206.6 16.3h.01M208.3 6.0h.01M211.7 24.8h.01M215.0 25.0h.01M225.1 25.2h.01M219.3 36.7h.01M225.4 25.8h.01M212.5 6.0h.01M211.8 12.7h.01M213.6 11.9h.01M216.8 25.7h.01M204.0 18.6h.01M228.1 30.7h.01M215.8 26.5h.01M215.6 27.8h.01M218.3 20.4h.01M208.8 16.5h.01M220.5 16.8h.01M229.4 29.4h.01M221.4 29.9h.01M221.5 31.6h.01M204.5 17.8h.01M218.7 17.8h.01M222.1 33.3h.01M218.2 32.3h.01M207.6 7.1h.01M221.0 20.4h.01M211.3 7.9h.01M206.4 11.5h.01M217.0 13.3h.01M213.5 32.7h.01M221.2 20.1h.01M214.5 19.3h.01M223.9 32.0h.01M212.7 29.3h.01M219.8 24.8h.01M207.3 26.0h.01M214.2 24.9h.01M217.6 30.9h.01M217.6 20.1h.01M201.7 16.7h.01M213.3 16.8h.01M203.3 19.4h.01M206.2 15.9h.01M210.7 9.1h.01M213.6 9.6h.01M209.8 27.6h.01M224.3 34.2h.01M213.5 33.0h.01M208.2 12.2h.01M221.2 19.7h.01M204.0 19.4h.01M216.0 13.6h.01M217.5 20.8h.01M226.4 26.4h.01M219.0 21.6h.01M202.6 18.9h.01M221.7 30.4h.01M228.0 30.0h.01M201.5 20.4h.01M208.8 6.1h.01M207.3 13.4h.01M218.7 26.2h.01M207.4 25.8h.01M205.3 23.5h.01M200.6 19.7h.01M204.1 18.4h.01M217.7 29.5h.01M216.4 14.0h.01M214.4 23.0h.01M204.5 24.0h.01M204.2 23.9h.01" stroke="#8A7DD8" stroke-width="0.66" stroke-linecap="round" fill="none" opacity="0.78"/>
<path d="M195.8 13.7h.01" stroke="#CFCBE2" stroke-width="0.9" stroke-linecap="round" fill="none" opacity="0.95"/>
<text x="196.0" y="43.0" font-family='"Liberation Serif", serif' font-size="5.7" font-weight="bold" fill="#000" text-anchor="start" stroke="#000" stroke-width="0.3">PCNA</text>
<path d="M265.4 26.3h.01M257.9 26.4h.01M268.2 24.5h.01M270.6 27.2h.01M272.6 23.0h.01M264.8 33.2h.01M271.7 25.5h.01M272.5 23.1h.01M256.6 29.3h.01M260.5 32.6h.01M266.5 27.5h.01M266.5 34.1h.01M263.6 24.0h.01M269.5 28.3h.01M271.4 29.3h.01M262.4 19.2h.01M267.8 31.8h.01M270.8 25.1h.01M263.6 33.6h.01M264.2 26.6h.01M260.1 33.2h.01M259.2 25.5h.01M262.9 25.1h.01M263.0 34.5h.01M262.6 35.0h.01M260.8 26.8h.01M264.4 30.7h.01M263.3 32.1h.01M261.0 31.8h.01M260.9 32.8h.01M262.9 35.1h.01M262.0 31.2h.01M272.2 32.2h.01M268.6 27.0h.01M267.4 29.3h.01M266.3 30.1h.01M266.8 27.3h.01M263.7 26.8h.01M260.8 32.9h.01M260.7 26.1h.01M263.0 36.9h.01M270.5 24.1h.01M261.9 27.1h.01M260.0 33.0h.01M272.3 30.0h.01M256.2 31.3h.01M264.7 28.3h.01M272.6 32.4h.01M261.9 32.0h.01M258.2 32.8h.01M262.6 26.6h.01M262.3 36.2h.01M271.6 24.8h.01M261.8 33.8h.01M261.1 26.3h.01M262.7 29.1h.01M260.7 31.8h.01M271.7 24.9h.01M262.8 33.8h.01M267.9 24.8h.01M268.3 33.2h.01M271.6 26.2h.01M270.3 27.8h.01M268.7 31.0h.01M269.7 25.2h.01M267.3 30.7h.01M271.7 28.3h.01M271.1 28.6h.01M264.8 30.2h.01M258.1 31.2h.01M264.5 31.3h.01M266.3 34.3h.01M268.4 33.2h.01M263.7 35.4h.01M261.0 36.1h.01M269.1 32.1h.01M265.0 22.5h.01M262.0 25.5h.01M263.2 21.5h.01M264.7 24.3h.01M260.6 36.0h.01M268.3 33.3h.01M256.4 32.8h.01M272.0 32.5h.01M274.0 31.3h.01M265.0 26.5h.01M258.7 27.8h.01M263.3 34.2h.01M272.8 26.7h.01M262.8 27.2h.01M266.0 26.4h.01M264.1 30.9h.01M270.7 24.4h.01M272.9 27.2h.01M261.7 30.8h.01M273.0 31.8h.01M262.1 30.3h.01M258.3 28.6h.01M256.4 33.2h.01M264.4 32.9h.01M264.1 29.2h.01M259.6 30.2h.01M262.6 35.0h.01M269.5 24.4h.01M266.4 28.1h.01M268.5 29.5h.01M263.0 23.8h.01M264.7 31.2h.01M260.7 35.4h.01M270.6 22.8h.01M266.7 33.3h.01M257.7 27.6h.01M258.2 32.9h.01M270.7 30.8h.01M263.7 34.6h.01M260.3 32.5h.01M258.3 25.7h.01M272.2 26.2h.01M270.4 30.4h.01M265.4 26.0h.01M260.8 33.7h.01M262.5 18.2h.01M257.9 25.1h.01M257.3 31.9h.01M263.6 22.7h.01M258.5 27.7h.01M258.4 33.7h.01M271.9 24.5h.01M268.4 30.0h.01M266.1 27.5h.01M258.8 25.2h.01M261.6 27.1h.01M257.4 32.5h.01M259.7 25.9h.01M261.0 32.0h.01M261.9 24.1h.01M261.7 30.0h.01M262.7 29.1h.01M272.7 30.7h.01M261.0 33.1h.01M268.1 27.3h.01M260.6 34.6h.01M266.3 33.8h.01M262.9 32.0h.01M269.7 28.8h.01M270.1 28.1h.01M264.3 28.3h.01M270.5 26.8h.01M266.9 30.8h.01M259.8 31.3h.01M262.0 31.4h.01M272.1 25.9h.01M271.8 29.0h.01M263.6 32.0h.01M259.3 25.0h.01M264.3 24.5h.01M267.3 34.2h.01M264.9 21.3h.01M262.0 32.0h.01M257.7 29.5h.01M262.2 34.0h.01M263.5 24.7h.01M271.5 26.9h.01M261.8 21.7h.01M255.9 31.1h.01M263.9 35.0h.01M258.6 30.5h.01M261.8 29.8h.01M260.5 25.4h.01M270.3 31.7h.01M260.3 33.4h.01M258.8 26.8h.01M267.9 24.8h.01M262.9 33.8h.01M263.6 24.3h.01M265.1 28.1h.01M260.5 32.8h.01M263.7 28.6h.01M270.3 29.8h.01M257.7 32.1h.01M264.9 30.0h.01M264.4 30.1h.01M263.0 36.7h.01M259.1 30.3h.01M259.1 32.9h.01M263.4 31.8h.01M262.1 23.5h.01M261.1 33.1h.01M272.9 29.4h.01M261.9 29.0h.01M263.8 21.2h.01M263.3 35.8h.01M259.3 26.8h.01M254.9 31.1h.01M263.1 33.8h.01M264.2 31.2h.01M261.7 33.6h.01M266.3 29.7h.01M265.8 26.4h.01M259.3 33.7h.01M261.4 27.3h.01M260.7 28.4h.01M266.6 33.5h.01M261.5 28.7h.01M263.2 37.0h.01M268.4 32.7h.01M265.0 28.1h.01M262.9 27.5h.01M266.6 27.5h.01M259.7 25.4h.01M268.5 30.9h.01M271.7 27.1h.01M261.8 21.5h.01M266.9 27.7h.01M259.6 21.1h.01M262.0 19.0h.01M263.9 22.3h.01M261.0 27.2h.01M271.7 30.8h.01M266.1 31.9h.01M270.8 26.6h.01M263.2 36.7h.01M263.4 34.6h.01M265.2 28.0h.01M261.2 34.7h.01M273.0 25.9h.01M265.1 32.7h.01M258.9 25.9h.01M267.0 25.8h.01M262.3 27.8h.01M264.2 28.8h.01M265.9 30.5h.01M264.6 27.0h.01M261.4 34.6h.01M269.6 26.3h.01M260.0 28.2h.01M270.6 22.9h.01M266.7 28.9h.01M263.5 28.4h.01M259.3 31.4h.01M261.5 18.9h.01M271.9 31.1h.01M270.9 28.5h.01M264.7 27.9h.01M270.7 28.1h.01M272.3 29.9h.01M262.6 28.2h.01M260.9 31.4h.01M269.0 32.0h.01M263.3 30.2h.01M256.4 31.9h.01M268.3 30.4h.01M265.0 23.3h.01M259.4 24.0h.01M261.7 32.1h.01M262.7 31.5h.01M269.2 28.5h.01M266.7 28.8h.01M271.5 29.3h.01M272.8 25.1h.01M264.9 34.2h.01M259.1 32.8h.01M271.8 26.8h.01M256.8 27.5h.01M258.1 28.1h.01M269.6 24.9h.01M261.1 32.6h.01M262.4 29.0h.01M264.1 25.0h.01M261.3 30.0h.01" stroke="#E6E4EC" stroke-width="0.66" stroke-linecap="round" fill="none" opacity="0.78"/>
<path d="M252.2 29.5h.01M262.6 25.0h.01M260.7 26.0h.01M261.4 15.4h.01M258.2 28.9h.01M262.7 21.9h.01M256.5 25.2h.01M258.3 17.1h.01M272.6 31.5h.01M257.1 24.6h.01M260.3 25.1h.01M259.3 13.2h.01M253.3 24.8h.01M271.4 28.9h.01M260.5 21.5h.01M268.5 29.9h.01M253.1 22.0h.01M269.5 30.1h.01M271.2 25.5h.01M265.5 34.0h.01M259.8 25.1h.01M271.3 27.1h.01M255.6 30.3h.01M258.4 30.9h.01M261.6 18.3h.01M264.7 29.6h.01M269.7 24.9h.01M253.7 27.8h.01M267.1 26.0h.01M259.6 23.6h.01M256.1 33.0h.01M260.2 32.9h.01M259.0 28.2h.01M259.5 25.9h.01M272.2 28.2h.01M272.1 26.0h.01M271.6 24.3h.01M256.9 27.2h.01M273.0 28.8h.01M261.2 27.6h.01M261.9 27.6h.01M260.7 28.7h.01M264.9 29.2h.01M262.2 33.3h.01M270.6 31.7h.01M271.5 23.8h.01M258.4 30.3h.01M260.0 17.7h.01M264.5 19.4h.01M273.5 28.3h.01M254.7 28.1h.01M265.3 25.5h.01M255.6 20.5h.01M262.2 18.7h.01M253.0 28.3h.01M259.0 22.5h.01M264.3 22.0h.01M259.9 17.2h.01M253.2 27.3h.01M271.2 29.4h.01M258.4 20.6h.01M263.4 30.0h.01M263.3 31.5h.01M258.6 28.1h.01M272.5 23.6h.01M260.1 27.9h.01M263.1 23.8h.01M258.1 32.5h.01M258.2 33.2h.01M261.5 11.4h.01M264.5 29.2h.01M273.0 30.8h.01M263.8 25.5h.01M257.4 18.4h.01M268.8 30.1h.01M268.1 27.4h.01M256.6 28.1h.01M261.8 28.2h.01M253.7 27.1h.01M264.1 16.5h.01M256.9 22.7h.01M258.6 29.8h.01M262.2 28.3h.01M259.9 29.1h.01M258.8 24.9h.01M258.0 32.1h.01M257.0 28.5h.01M270.0 25.9h.01M270.5 31.2h.01M251.5 26.0h.01M255.6 18.7h.01M254.6 27.3h.01M259.6 25.6h.01M264.7 17.9h.01M270.3 27.7h.01M257.6 29.3h.01M271.8 28.8h.01M266.9 28.1h.01M259.0 23.3h.01M252.4 28.0h.01M259.9 19.2h.01M263.0 13.5h.01M267.3 33.4h.01M262.5 28.6h.01M263.3 29.8h.01M259.0 31.4h.01M252.0 24.7h.01M253.2 27.5h.01M263.6 23.0h.01M253.2 27.9h.01M259.4 25.1h.01M270.0 23.7h.01M266.1 28.9h.01M264.3 25.6h.01M265.8 26.9h.01M257.9 33.1h.01M254.5 27.0h.01M261.2 25.3h.01M255.8 24.8h.01M257.7 33.8h.01M257.7 28.1h.01M259.0 28.0h.01M258.4 18.1h.01M258.3 33.7h.01M258.2 31.9h.01M258.8 20.0h.01M264.0 24.9h.01M268.1 26.3h.01M255.4 29.4h.01M252.2 28.6h.01M271.9 22.4h.01M271.3 30.9h.01M264.3 30.7h.01M261.6 32.7h.01M260.3 21.4h.01M272.0 26.8h.01M273.6 27.8h.01M270.4 28.1h.01M255.5 26.5h.01M251.6 28.4h.01M256.1 28.3h.01M267.9 25.7h.01M263.8 15.0h.01M259.7 33.9h.01M266.6 28.1h.01M259.9 13.2h.01M258.3 28.7h.01M265.0 26.6h.01M265.2 27.5h.01M257.7 25.7h.01M257.0 28.4h.01M253.1 26.3h.01M260.6 26.7h.01M259.6 29.7h.01M255.7 20.6h.01M263.9 24.7h.01M263.0 24.7h.01M263.7 33.3h.01M261.7 25.2h.01M255.4 20.0h.01M263.6 29.0h.01M262.1 20.8h.01M258.7 16.0h.01M257.9 20.2h.01M260.6 34.7h.01M259.8 26.0h.01M255.3 25.0h.01M251.5 28.2h.01M260.2 20.7h.01M262.5 21.7h.01M266.7 26.7h.01M268.4 25.6h.01M258.5 26.3h.01M262.3 25.4h.01M257.4 33.5h.01M262.8 24.3h.01M263.5 19.2h.01M265.0 22.1h.01M259.3 23.3h.01M263.1 31.4h.01M272.4 31.5h.01M260.2 33.9h.01M259.0 23.8h.01M259.5 15.1h.01M260.6 27.1h.01M263.1 16.2h.01M265.3 24.5h.01M261.8 15.8h.01M254.7 25.4h.01M268.1 24.9h.01M257.7 33.9h.01M260.7 15.8h.01M272.9 31.5h.01M251.5 26.4h.01M261.8 20.7h.01M258.7 22.4h.01M260.7 27.5h.01M259.9 32.3h.01M269.0 32.8h.01M255.4 26.5h.01M260.6 18.0h.01M263.8 16.3h.01M252.4 26.3h.01M259.9 29.0h.01M260.4 30.3h.01M268.2 28.9h.01M256.5 31.0h.01M271.5 29.7h.01M262.9 33.6h.01M260.8 31.6h.01M263.0 15.4h.01" stroke="#DAD5EC" stroke-width="0.66" stroke-linecap="round" fill="none" opacity="0.78"/>
<path d="M258.2 13.1h.01M257.1 12.2h.01M256.9 20.5h.01M257.7 12.7h.01M256.2 19.9h.01M267.3 29.4h.01M251.6 20.0h.01M255.6 31.5h.01M263.7 18.0h.01M249.4 25.3h.01M258.9 22.3h.01M255.3 17.0h.01M260.4 25.4h.01M254.3 16.6h.01M250.3 24.3h.01M253.2 19.0h.01M258.5 14.5h.01M248.5 22.7h.01M260.8 27.1h.01M253.9 17.1h.01M258.0 17.2h.01M251.6 19.3h.01M261.1 28.7h.01M258.7 13.2h.01M264.6 20.3h.01M250.5 26.8h.01M251.5 21.0h.01M259.4 11.1h.01M266.2 29.3h.01M257.9 27.1h.01M261.6 13.8h.01M248.6 25.9h.01M259.3 23.7h.01M259.1 17.9h.01M250.4 26.9h.01M257.1 33.6h.01M254.2 28.7h.01M261.4 22.5h.01M262.7 13.4h.01M260.1 22.3h.01M261.1 29.7h.01M251.2 20.1h.01M258.2 14.0h.01M252.4 24.4h.01M254.5 25.7h.01M262.0 17.2h.01M256.9 32.8h.01M256.2 18.7h.01M258.7 30.2h.01M255.8 21.3h.01M271.7 27.6h.01M263.1 22.0h.01M257.0 25.7h.01M252.8 26.0h.01M260.2 29.3h.01M252.0 26.4h.01M250.3 27.0h.01M258.5 21.5h.01M260.6 17.9h.01M256.7 11.3h.01M259.2 15.6h.01M267.8 27.4h.01M259.6 17.0h.01M260.4 16.2h.01M255.8 25.6h.01M248.7 26.4h.01M258.9 30.5h.01M251.8 24.2h.01M256.8 24.7h.01M260.1 22.7h.01M259.0 8.6h.01M258.1 12.5h.01M260.4 18.8h.01M267.4 29.8h.01M258.4 31.9h.01M260.4 29.7h.01M254.1 26.2h.01M254.7 31.5h.01M263.5 21.3h.01M256.7 19.1h.01M263.4 18.8h.01M259.0 29.5h.01M260.0 13.5h.01M258.9 26.4h.01M256.2 19.9h.01M252.9 24.6h.01M258.2 10.2h.01M253.8 19.7h.01M262.8 15.7h.01M256.2 21.6h.01M261.2 29.8h.01M260.9 16.9h.01M272.2 30.9h.01M258.9 26.0h.01M261.8 17.6h.01M255.0 29.1h.01M252.9 30.2h.01M259.3 25.4h.01M264.1 21.8h.01M259.3 14.3h.01M259.6 25.6h.01M251.5 20.7h.01M266.6 25.9h.01M250.5 27.2h.01M257.3 16.4h.01M258.2 7.7h.01M252.8 25.2h.01M259.2 28.4h.01M251.0 21.5h.01M259.0 20.2h.01M256.8 12.7h.01M256.3 9.9h.01M260.2 27.7h.01M259.3 16.2h.01M262.4 16.4h.01M258.8 13.8h.01M250.8 24.4h.01M254.8 26.0h.01M260.5 21.4h.01M255.8 14.1h.01M258.9 28.2h.01M258.3 23.4h.01M259.2 24.6h.01M258.1 24.3h.01M263.4 19.5h.01M260.0 20.7h.01M262.1 15.3h.01M258.2 30.9h.01M262.0 14.7h.01M255.0 18.6h.01M251.9 25.1h.01M260.9 19.7h.01M261.6 21.7h.01M249.7 27.3h.01M253.9 19.0h.01M251.3 23.0h.01M267.8 27.4h.01M259.9 20.8h.01M263.6 20.5h.01M250.9 24.9h.01M252.4 28.2h.01M260.9 14.9h.01M263.5 21.9h.01M252.5 26.6h.01M253.1 17.4h.01M254.1 30.6h.01M254.1 26.6h.01M260.3 10.8h.01M270.8 24.2h.01M256.0 17.7h.01M258.3 12.8h.01M266.8 32.0h.01M252.8 19.6h.01M260.8 11.2h.01M261.6 23.5h.01M254.1 27.2h.01M255.4 27.6h.01M261.1 10.6h.01M273.0 30.5h.01M259.0 13.4h.01M255.9 24.3h.01M254.2 25.0h.01M258.9 10.0h.01M254.2 27.1h.01M260.2 16.8h.01M264.6 18.5h.01M271.8 24.1h.01M264.0 15.9h.01M257.5 19.5h.01M261.5 23.9h.01M259.0 28.1h.01M258.3 32.5h.01M256.8 22.3h.01M257.3 11.5h.01M261.6 15.1h.01M254.8 20.1h.01M264.6 28.5h.01M254.9 24.2h.01M251.6 21.2h.01M259.5 13.3h.01M263.1 14.0h.01M272.9 24.8h.01M260.6 21.3h.01M270.7 24.4h.01M259.6 26.5h.01M251.9 20.6h.01M264.9 19.9h.01M271.1 32.0h.01M257.1 11.7h.01M257.5 22.7h.01M257.9 20.1h.01M262.5 18.5h.01M262.2 13.0h.01M261.8 28.7h.01M256.0 26.9h.01M256.6 20.1h.01M255.1 25.2h.01M247.7 23.9h.01M255.9 21.7h.01M260.5 29.1h.01M253.9 21.8h.01M257.1 20.5h.01M257.8 23.6h.01M259.3 11.5h.01M258.1 23.3h.01M255.1 23.8h.01M253.3 29.1h.01M259.0 14.2h.01M257.7 28.4h.01M263.4 24.7h.01M262.8 13.5h.01M256.1 19.1h.01M257.2 20.1h.01M256.8 18.4h.01M259.0 21.9h.01M260.2 27.2h.01M255.1 21.6h.01M258.0 10.9h.01M254.1 25.5h.01M257.2 24.7h.01" stroke="#C6BFEA" stroke-width="0.66" stroke-linecap="round" fill="none" opacity="0.78"/>
<path d="M263.1 17.6h.01M260.7 17.4h.01M259.2 10.3h.01M257.1 7.5h.01M253.1 20.7h.01M251.1 19.6h.01M256.1 31.4h.01M258.9 19.5h.01M263.3 13.8h.01M247.4 20.0h.01M259.9 19.5h.01M262.8 16.0h.01M254.1 14.0h.01M255.6 30.2h.01M256.5 22.5h.01M256.6 23.3h.01M249.6 20.2h.01M259.8 18.0h.01M251.0 15.2h.01M254.1 20.3h.01M251.1 20.0h.01M253.7 22.5h.01M253.8 21.6h.01M258.4 18.6h.01M254.1 24.0h.01M253.7 9.5h.01M254.8 29.2h.01M250.2 16.8h.01M253.1 28.6h.01M253.2 20.4h.01M252.4 28.8h.01M253.4 30.1h.01M260.1 18.4h.01M256.3 27.3h.01M261.1 13.8h.01M249.1 25.1h.01M250.2 18.6h.01M250.5 22.0h.01M258.7 10.9h.01M254.3 12.0h.01M262.4 15.6h.01M251.6 20.9h.01M259.5 25.1h.01M253.7 22.3h.01M249.5 26.9h.01M258.4 13.1h.01M253.4 30.2h.01M253.3 11.8h.01M262.8 13.3h.01M250.7 24.7h.01M256.9 22.1h.01M256.0 11.3h.01M255.7 18.5h.01M249.2 20.4h.01M251.7 17.7h.01M262.4 18.2h.01M256.1 10.0h.01M256.3 7.9h.01M252.9 24.9h.01M254.3 13.7h.01M253.0 26.3h.01M259.5 9.6h.01M256.0 20.0h.01M252.5 13.9h.01M261.5 10.8h.01M255.8 11.8h.01M251.5 21.7h.01M257.4 22.8h.01M259.5 8.6h.01M255.4 24.4h.01M253.5 12.7h.01M250.4 25.7h.01M254.5 14.2h.01M256.9 17.9h.01M262.4 16.9h.01M250.2 26.4h.01M259.5 12.5h.01M254.9 18.6h.01M251.0 18.8h.01M254.0 20.2h.01M256.9 23.1h.01M256.1 21.1h.01M253.5 27.8h.01M249.6 16.8h.01M260.7 16.8h.01M260.5 17.0h.01M253.0 15.4h.01M255.0 8.4h.01M252.3 26.2h.01M261.2 18.7h.01M248.8 13.7h.01M254.1 18.0h.01M260.7 10.4h.01M250.0 21.3h.01M253.4 14.2h.01M261.7 21.9h.01M248.8 18.0h.01M251.7 16.8h.01M250.9 22.4h.01M257.2 17.9h.01M255.3 17.7h.01M258.0 14.9h.01M255.5 19.8h.01M254.8 29.1h.01M252.6 7.5h.01M252.1 27.0h.01M256.6 21.2h.01M251.8 11.0h.01M263.6 14.8h.01M253.8 10.9h.01M247.9 19.6h.01M258.5 20.8h.01M250.8 19.3h.01M249.4 20.5h.01M253.6 15.4h.01M251.1 16.2h.01M263.6 14.5h.01M263.9 16.6h.01M258.4 18.7h.01M262.3 18.2h.01M255.7 25.6h.01M258.5 25.4h.01M264.7 17.3h.01M251.0 19.7h.01M254.7 24.8h.01M263.3 20.5h.01M253.2 21.4h.01M256.6 24.1h.01M257.7 11.5h.01M256.2 20.2h.01M246.4 22.8h.01M252.4 13.0h.01M251.2 23.7h.01M263.4 18.1h.01M252.9 13.6h.01M248.2 24.9h.01M253.6 12.5h.01M258.7 14.6h.01M258.9 11.5h.01M247.9 18.2h.01M256.7 22.9h.01M252.1 17.8h.01M259.2 17.9h.01M264.2 18.4h.01M259.2 21.9h.01M257.8 8.2h.01M257.2 17.0h.01M258.0 23.2h.01M247.6 20.2h.01M259.3 22.5h.01M254.0 25.1h.01M255.3 23.0h.01M250.4 15.3h.01M251.8 28.8h.01M246.8 21.5h.01M257.7 17.0h.01M254.8 20.8h.01M251.9 26.8h.01M261.1 21.6h.01M258.1 9.3h.01M250.8 21.6h.01M251.6 13.1h.01M256.0 11.6h.01M254.6 22.7h.01M249.5 21.9h.01M262.2 14.3h.01M263.6 14.7h.01M260.7 16.9h.01M256.9 22.4h.01M249.1 23.7h.01M260.4 14.4h.01M259.2 22.4h.01M261.3 16.1h.01M260.3 18.7h.01M249.9 26.6h.01M246.6 21.4h.01M255.1 15.2h.01M257.6 19.5h.01M251.2 12.9h.01" stroke="#ADA3E3" stroke-width="0.66" stroke-linecap="round" fill="none" opacity="0.78"/>
<path d="M258.2 10.2h.01M255.5 9.1h.01M249.5 16.4h.01M257.0 8.3h.01M261.5 14.9h.01M252.4 8.3h.01M253.7 12.8h.01M253.6 15.4h.01M246.4 14.0h.01M254.9 17.8h.01M250.7 16.2h.01M259.7 15.7h.01M254.3 8.7h.01M254.1 8.9h.01M243.8 20.5h.01M251.4 23.7h.01M249.5 9.4h.01M257.8 15.3h.01M251.2 20.6h.01M262.7 13.4h.01M245.6 14.5h.01M259.3 11.7h.01M250.4 14.4h.01M249.3 22.2h.01M250.9 9.9h.01M250.5 14.7h.01M252.0 10.9h.01M252.6 12.5h.01M249.1 12.2h.01M255.2 8.3h.01M249.6 18.1h.01M251.8 8.2h.01M253.9 15.3h.01M246.3 20.4h.01M252.3 8.5h.01M253.4 10.8h.01M255.8 13.0h.01M253.0 10.0h.01M248.8 26.2h.01M252.4 23.6h.01M249.3 14.8h.01M251.0 21.9h.01M254.0 18.9h.01M253.8 8.2h.01M244.0 19.5h.01M261.8 15.0h.01M256.1 17.2h.01M252.9 6.7h.01M253.3 22.5h.01M252.6 7.1h.01M255.8 10.5h.01M253.0 15.3h.01M248.5 25.4h.01M251.6 12.3h.01M258.1 10.3h.01M251.2 24.2h.01M248.7 25.5h.01M247.3 18.5h.01M256.3 13.6h.01M254.0 21.2h.01M255.9 9.8h.01M259.5 14.6h.01M248.0 22.5h.01M248.7 23.4h.01M245.0 19.2h.01M246.4 23.1h.01M249.8 16.0h.01M252.6 18.3h.01M244.1 15.8h.01M248.2 14.0h.01M251.1 5.9h.01M244.3 17.4h.01M248.9 15.5h.01M248.5 19.6h.01M249.6 24.3h.01M242.9 18.0h.01M246.8 20.8h.01M243.6 18.8h.01M249.5 8.2h.01M254.3 6.5h.01M257.7 9.0h.01M247.5 18.1h.01M251.4 25.1h.01M251.4 26.8h.01M249.0 22.4h.01M249.8 23.4h.01M246.4 14.1h.01M248.4 13.0h.01M251.0 14.8h.01M256.2 11.7h.01M246.6 14.7h.01M259.3 17.0h.01M254.8 22.3h.01M252.5 12.2h.01M257.2 11.6h.01M252.1 17.5h.01M255.5 9.2h.01M249.9 26.0h.01M257.6 14.7h.01M244.8 15.5h.01M258.9 14.3h.01M251.9 8.4h.01M256.1 19.1h.01M257.0 14.2h.01M250.6 14.9h.01M255.6 15.3h.01M258.5 9.3h.01M255.8 8.4h.01M249.4 19.8h.01M253.8 8.3h.01M253.4 27.7h.01M252.9 6.2h.01M252.9 18.5h.01M250.4 15.2h.01M254.6 9.6h.01M252.8 11.8h.01M248.5 23.6h.01M252.5 22.5h.01M249.1 9.4h.01M253.7 12.4h.01M249.7 18.0h.01M249.3 9.0h.01M244.8 13.1h.01M254.6 15.8h.01M257.1 10.8h.01M252.4 13.0h.01M253.0 15.1h.01M256.6 15.4h.01M253.3 20.0h.01M253.8 7.2h.01M254.8 9.7h.01M255.2 19.0h.01M258.4 12.1h.01M255.7 19.6h.01M246.6 20.9h.01M258.0 10.1h.01M253.9 10.4h.01M250.6 11.3h.01M254.1 19.8h.01M253.5 16.4h.01M258.1 8.4h.01M251.8 24.0h.01M245.7 16.1h.01M247.3 14.8h.01M252.8 6.5h.01M257.1 14.2h.01M260.0 18.2h.01M250.1 9.0h.01M247.9 18.1h.01M253.0 8.6h.01M249.4 23.6h.01M259.1 16.5h.01M243.7 18.3h.01M244.0 19.5h.01M247.4 22.0h.01M256.2 10.2h.01M253.0 20.9h.01M247.3 18.4h.01M253.0 14.7h.01M247.2 23.6h.01M260.1 9.8h.01M248.1 23.3h.01M247.6 14.5h.01M249.0 19.2h.01M255.2 16.6h.01M251.4 12.3h.01M251.1 20.6h.01M248.6 24.6h.01M255.1 15.8h.01M244.8 21.3h.01M248.4 15.1h.01" stroke="#8A7DD8" stroke-width="0.66" stroke-linecap="round" fill="none" opacity="0.78"/>
<path d="M250.2 20.1h.01M248.0 21.8h.01M249.9 14.5h.01M253.2 10.0h.01M252.2 6.6h.01M254.5 9.3h.01M248.9 18.4h.01M253.8 6.7h.01M254.9 15.5h.01M251.3 17.3h.01M247.6 11.0h.01M252.6 10.2h.01M251.7 12.4h.01M248.2 15.7h.01M251.0 13.1h.01M250.3 19.0h.01M247.2 23.8h.01M245.1 19.6h.01M252.7 16.1h.01M251.6 14.3h.01M244.7 13.5h.01M255.1 10.1h.01M252.9 8.0h.01M247.5 21.4h.01M243.3 16.5h.01M247.1 23.1h.01M254.1 7.0h.01M247.1 15.1h.01M253.9 18.5h.01M249.9 8.3h.01M245.3 15.9h.01M254.3 13.3h.01M249.3 7.8h.01M253.3 13.8h.01M243.4 15.0h.01M251.4 15.5h.01M252.8 6.5h.01M249.4 19.6h.01M251.2 10.0h.01M258.1 7.5h.01M249.0 22.7h.01M249.6 10.7h.01M249.7 9.9h.01M242.7 17.3h.01M255.9 9.2h.01M256.1 6.1h.01M249.5 20.3h.01M252.3 14.5h.01M246.2 16.2h.01M253.5 15.0h.01M252.6 14.4h.01M243.5 17.9h.01M258.1 7.9h.01M248.4 13.9h.01M252.0 10.2h.01M253.1 14.6h.01M252.4 9.6h.01M245.0 16.8h.01M258.4 8.9h.01M250.5 16.1h.01M249.1 19.7h.01M255.6 8.5h.01M250.1 19.5h.01M243.7 18.8h.01M249.3 7.3h.01M245.4 19.1h.01M249.4 17.8h.01M254.3 5.9h.01M244.6 13.9h.01M250.3 14.6h.01M252.5 10.8h.01M253.2 11.7h.01M252.1 19.9h.01M248.4 14.7h.01M247.4 18.1h.01M248.4 13.8h.01M250.8 18.9h.01M255.1 6.9h.01M252.6 6.8h.01M246.9 22.9h.01M244.3 14.7h.01M245.2 22.6h.01M250.8 10.8h.01M249.5 21.9h.01M252.3 10.6h.01M247.1 21.8h.01M259.5 9.7h.01M253.2 14.8h.01M249.9 19.9h.01M257.4 10.7h.01M248.6 14.0h.01M246.4 15.7h.01M247.4 15.2h.01M252.2 6.9h.01M250.5 19.6h.01M257.5 7.7h.01M257.0 9.3h.01M254.7 8.1h.01M247.5 14.7h.01M246.8 17.4h.01M247.2 15.3h.01M251.6 8.5h.01M247.3 11.0h.01M245.7 11.5h.01M244.8 22.0h.01M244.8 16.5h.01M250.7 9.3h.01M257.5 7.6h.01M255.8 13.4h.01M251.7 17.0h.01M249.0 15.9h.01M256.5 14.0h.01M248.0 14.8h.01M245.1 15.3h.01M245.6 12.6h.01M244.5 18.3h.01M250.5 13.4h.01M252.2 20.6h.01M250.4 11.1h.01M258.3 10.1h.01M252.7 12.0h.01M250.8 8.5h.01M246.4 24.1h.01M246.3 21.4h.01M254.7 10.2h.01M248.8 11.7h.01M255.0 12.7h.01M249.4 20.3h.01M255.8 8.5h.01M256.5 13.6h.01" stroke="#6253CA" stroke-width="0.66" stroke-linecap="round" fill="none" opacity="0.78"/>
<path d="M245.4 21.6h.01M251.3 12.5h.01M246.0 13.3h.01M251.9 10.5h.01M246.3 13.4h.01M245.6 15.6h.01M252.3 13.7h.01M246.8 17.3h.01M250.4 8.1h.01M249.6 13.1h.01M253.1 10.7h.01M251.1 10.3h.01M249.8 9.4h.01M245.4 22.7h.01M249.2 8.8h.01M248.5 17.9h.01M244.4 18.7h.01M243.7 20.8h.01M246.2 19.3h.01M247.5 9.3h.01M247.1 9.7h.01M251.1 6.3h.01M247.7 15.0h.01M249.7 8.6h.01M248.9 16.6h.01M247.6 15.5h.01M254.7 6.3h.01M245.5 18.5h.01M244.9 19.7h.01M253.2 5.7h.01M247.5 20.7h.01M249.2 17.5h.01M250.0 7.8h.01M252.1 11.9h.01M251.7 11.5h.01M247.0 12.0h.01M247.2 14.4h.01M242.4 18.0h.01M249.9 10.0h.01M244.4 15.7h.01M251.6 10.6h.01M251.8 5.8h.01M244.2 13.7h.01M243.9 14.9h.01M243.7 16.9h.01M245.1 13.9h.01M247.0 10.9h.01M245.1 12.5h.01M243.8 18.5h.01M246.8 11.1h.01M243.9 17.1h.01M244.2 13.0h.01M243.3 17.0h.01M251.4 13.6h.01M248.7 12.7h.01M248.0 10.6h.01M244.7 12.2h.01M250.6 6.6h.01M255.6 9.4h.01M242.9 17.9h.01M244.5 12.6h.01M248.7 15.0h.01M244.4 17.2h.01M246.8 11.1h.01M250.5 9.7h.01M249.8 15.5h.01M252.3 7.5h.01M248.5 15.7h.01M255.5 6.8h.01M251.3 12.2h.01M245.6 18.3h.01M245.5 12.4h.01M244.6 19.9h.01M247.5 12.5h.01M251.1 11.3h.01M245.2 13.7h.01M244.7 19.8h.01M251.3 14.8h.01M244.8 19.5h.01M244.7 14.2h.01M242.9 16.2h.01M248.8 8.9h.01M248.6 12.4h.01M249.6 11.3h.01M243.9 16.3h.01M244.0 19.1h.01M251.3 8.1h.01M245.6 11.7h.01M250.0 11.6h.01" stroke="#4536BC" stroke-width="0.66" stroke-linecap="round" fill="none" opacity="0.78"/>
<path d="M239.0 13.7h.01" stroke="#4A3ABE" stroke-width="0.9" stroke-linecap="round" fill="none" opacity="0.95"/>
<text x="240.8" y="43.0" font-family='"Liberation Serif", serif' font-size="5.7" font-weight="bold" fill="#000" text-anchor="start" stroke="#000" stroke-width="0.3">KRT10</text>
<path d="M164.7 60.0h.01M175.5 73.6h.01M170.3 59.8h.01M172.6 78.3h.01M165.8 62.6h.01M169.4 72.6h.01M160.1 53.2h.01M174.2 76.9h.01M166.0 58.1h.01M171.2 62.6h.01M165.4 51.0h.01M171.8 73.7h.01M169.5 64.0h.01M168.2 56.1h.01M166.0 68.4h.01M171.5 56.8h.01M165.5 72.4h.01M176.6 60.8h.01M171.5 68.7h.01M162.6 62.9h.01M173.8 74.6h.01M166.8 68.2h.01M159.9 61.1h.01M163.8 58.8h.01M165.6 57.0h.01M163.8 56.5h.01M167.8 68.5h.01M157.7 59.3h.01M163.4 58.3h.01M158.7 58.9h.01M162.6 64.9h.01M168.8 58.5h.01M168.4 74.4h.01M160.2 65.1h.01M166.7 73.3h.01M156.6 59.2h.01M157.2 61.9h.01M170.2 67.0h.01M174.9 77.3h.01M168.3 59.2h.01M166.4 65.5h.01M172.9 72.3h.01M156.8 61.6h.01M175.8 69.1h.01M167.5 64.8h.01M162.0 55.8h.01M171.6 63.0h.01M172.0 64.1h.01M174.8 64.4h.01M171.0 57.4h.01M170.2 70.2h.01M160.3 56.8h.01M174.1 79.5h.01M170.8 58.2h.01M174.3 76.0h.01M161.4 68.7h.01M165.7 63.0h.01M174.9 57.7h.01M176.3 77.9h.01M169.7 72.4h.01M172.8 75.9h.01M163.8 50.2h.01M159.3 64.0h.01M163.4 58.3h.01M165.9 73.0h.01M159.6 55.9h.01M159.8 54.3h.01M173.7 75.8h.01M167.9 58.3h.01M165.5 50.7h.01M177.3 63.4h.01M172.3 65.0h.01M172.1 56.1h.01M166.6 71.4h.01M161.8 62.5h.01M175.1 68.6h.01M164.6 65.2h.01M164.0 61.7h.01M174.4 79.7h.01M167.8 53.3h.01M165.1 71.8h.01M176.4 66.5h.01M157.7 57.3h.01M159.9 56.0h.01M161.7 54.0h.01M167.8 62.5h.01M161.9 54.4h.01M167.4 53.6h.01M166.6 53.2h.01M166.0 61.1h.01M170.5 54.4h.01M170.3 66.1h.01M176.7 69.3h.01M167.5 69.4h.01M173.3 77.3h.01M166.1 61.2h.01M163.9 69.7h.01M173.3 56.0h.01M177.8 69.8h.01M176.2 79.3h.01M172.8 72.3h.01M163.4 52.4h.01M174.9 67.3h.01M164.5 73.0h.01M171.1 76.6h.01M173.5 55.8h.01M167.4 58.9h.01M172.3 70.9h.01M176.4 80.5h.01M161.5 52.7h.01M174.8 65.5h.01M171.4 51.6h.01M162.4 59.9h.01M170.0 76.2h.01M164.7 59.1h.01M172.5 76.8h.01M171.8 60.4h.01M160.4 57.8h.01M159.9 56.4h.01M169.9 77.3h.01M163.7 64.0h.01M168.8 58.2h.01M176.0 75.1h.01M162.7 61.2h.01M159.4 58.6h.01M173.7 71.5h.01M159.5 67.9h.01M172.1 64.6h.01M172.7 67.5h.01M164.8 68.6h.01M172.1 73.8h.01M163.2 71.8h.01M158.3 57.0h.01M174.2 66.1h.01M173.0 71.8h.01M176.4 68.3h.01M176.2 69.2h.01M174.9 78.4h.01M169.4 56.4h.01M159.1 55.1h.01M176.1 73.5h.01M175.9 70.5h.01M173.3 63.4h.01M168.3 74.1h.01M177.5 75.4h.01M162.4 57.6h.01M171.6 76.5h.01M169.4 62.7h.01M160.1 61.7h.01M161.2 58.5h.01M175.5 60.1h.01M177.9 74.8h.01M177.2 59.6h.01M178.3 70.5h.01M177.1 72.3h.01M162.6 53.0h.01M166.3 71.6h.01M173.3 61.8h.01M175.6 70.8h.01M165.3 52.0h.01M160.7 68.0h.01M167.5 64.7h.01M162.0 69.3h.01M163.3 62.0h.01M174.6 56.2h.01M160.0 56.9h.01M171.5 65.7h.01M172.3 71.8h.01M163.3 57.2h.01M172.7 53.0h.01M175.3 59.8h.01M172.2 53.2h.01M166.8 65.2h.01M157.8 56.8h.01M174.4 67.2h.01M167.6 53.9h.01M161.6 63.5h.01M161.0 66.1h.01M164.3 67.7h.01M160.0 58.5h.01M161.8 60.3h.01M168.8 68.8h.01M176.4 64.4h.01M167.9 70.9h.01M160.5 52.9h.01M164.9 50.1h.01M164.7 56.7h.01M161.1 69.8h.01M166.9 61.1h.01M163.5 62.3h.01M168.7 62.6h.01M160.0 68.6h.01M175.2 79.0h.01M168.3 62.6h.01M169.9 71.8h.01M173.1 73.7h.01M174.2 56.7h.01M175.0 70.2h.01M170.9 72.4h.01M159.7 60.1h.01M163.4 70.6h.01M164.9 55.4h.01M170.5 70.1h.01M166.0 54.6h.01M172.8 77.9h.01M166.3 70.1h.01M173.0 66.9h.01M169.6 73.1h.01M169.7 56.6h.01M174.8 66.3h.01M173.8 58.7h.01M170.5 70.2h.01M166.9 59.6h.01M170.9 55.1h.01M158.4 60.3h.01M172.8 72.5h.01M178.2 73.6h.01M166.0 61.9h.01M164.5 54.8h.01M173.2 58.6h.01M169.2 63.2h.01M170.2 60.0h.01M161.5 55.8h.01M165.4 57.2h.01M161.9 70.2h.01M166.5 51.6h.01M170.9 73.7h.01M166.5 74.2h.01M166.9 51.6h.01M160.3 59.9h.01M172.7 58.4h.01M165.1 65.8h.01M158.3 65.2h.01M167.5 60.5h.01M169.0 76.6h.01M156.8 59.7h.01M168.9 63.0h.01M168.5 57.2h.01M169.0 51.8h.01M162.3 56.4h.01M164.0 53.7h.01M164.2 66.8h.01M163.8 68.9h.01M164.7 64.3h.01M164.1 64.0h.01M157.3 60.8h.01M170.8 55.5h.01M165.3 68.1h.01M157.7 64.8h.01M167.9 64.0h.01M176.6 78.0h.01M173.2 53.6h.01M167.8 51.7h.01M163.9 70.7h.01M173.3 75.6h.01M170.5 70.6h.01M176.4 65.2h.01M176.9 61.7h.01M175.9 56.5h.01M159.3 57.2h.01M169.7 63.2h.01M173.2 67.0h.01M157.1 61.2h.01M175.4 78.7h.01M165.7 72.2h.01M169.9 63.7h.01M176.9 63.4h.01M167.2 59.3h.01M161.6 59.2h.01M160.2 63.4h.01M175.8 63.7h.01M175.8 56.9h.01M171.4 63.0h.01M166.1 70.0h.01M163.9 71.5h.01M160.9 57.7h.01M177.1 60.3h.01M175.1 80.1h.01M164.7 61.9h.01M166.9 57.8h.01M164.2 70.3h.01M167.6 65.1h.01M173.8 70.7h.01M167.2 54.9h.01M177.2 60.7h.01M174.0 65.5h.01M175.0 63.3h.01M158.9 62.5h.01M161.7 66.5h.01M177.9 74.8h.01M167.3 64.8h.01M164.1 64.3h.01M169.0 75.8h.01M164.6 66.4h.01M174.7 58.4h.01M171.8 62.9h.01M159.3 56.3h.01M164.4 72.2h.01M174.3 76.0h.01M167.4 65.9h.01M168.3 53.7h.01M163.0 53.3h.01M167.5 52.5h.01M173.9 54.9h.01M156.8 64.5h.01M170.7 52.8h.01M171.7 76.2h.01M166.0 60.1h.01M160.7 60.6h.01M168.3 68.3h.01M169.7 52.7h.01M173.9 75.2h.01M177.7 67.4h.01M177.7 61.1h.01M167.7 53.4h.01M168.8 72.3h.01M166.0 66.3h.01M175.1 59.0h.01M174.2 66.1h.01M162.0 68.0h.01M171.4 66.7h.01M161.1 67.5h.01M169.2 56.5h.01M177.5 75.8h.01M169.4 72.5h.01M171.2 62.4h.01M164.1 70.6h.01M178.2 64.6h.01M171.6 54.7h.01M168.7 64.1h.01M164.5 67.8h.01M164.7 73.1h.01M162.0 57.9h.01M168.3 50.0h.01M161.7 60.6h.01M159.9 67.1h.01M178.3 65.6h.01M175.3 80.0h.01M169.1 51.2h.01M163.0 62.2h.01M175.7 77.8h.01M177.8 60.6h.01M173.1 63.0h.01M163.6 56.7h.01M177.3 70.0h.01M167.6 57.9h.01M174.3 55.8h.01M175.2 72.0h.01M177.9 75.3h.01M169.9 67.1h.01M159.8 54.3h.01M177.6 68.8h.01M170.9 71.0h.01M171.9 66.6h.01M162.8 71.1h.01M171.1 72.1h.01M156.7 61.4h.01M170.4 62.7h.01M157.8 58.4h.01M172.7 65.0h.01M164.0 52.1h.01M174.4 71.7h.01M159.0 66.8h.01M171.5 59.5h.01M164.2 64.9h.01M170.6 75.6h.01M160.5 63.8h.01M177.3 74.7h.01M175.1 61.3h.01M174.6 65.7h.01M164.7 49.9h.01M175.2 65.8h.01M156.3 63.8h.01M165.4 59.8h.01M172.9 59.4h.01M176.2 58.5h.01M176.0 72.2h.01M171.0 57.7h.01M171.1 52.5h.01M177.6 68.4h.01M175.6 59.9h.01M165.3 67.8h.01M174.0 65.8h.01M164.5 71.1h.01M169.3 62.2h.01M163.6 69.0h.01M171.8 72.8h.01M177.8 67.0h.01M176.7 80.0h.01M177.1 65.4h.01M176.1 67.1h.01M178.0 67.0h.01M177.2 75.7h.01M173.0 58.7h.01M163.4 69.1h.01M177.4 71.9h.01M170.9 61.4h.01M165.0 58.2h.01M164.6 63.9h.01M169.6 56.1h.01M177.5 74.6h.01M166.2 57.7h.01M165.9 67.1h.01M162.9 61.0h.01M165.8 53.4h.01M158.8 60.3h.01M159.9 65.1h.01M169.3 74.1h.01M175.7 65.7h.01M174.3 67.0h.01M168.0 61.7h.01M164.6 67.4h.01M163.5 57.6h.01M170.6 53.2h.01M176.3 73.2h.01M172.9 66.8h.01M163.7 66.2h.01M163.7 60.4h.01M169.5 55.3h.01M167.1 52.8h.01M162.2 52.4h.01M168.5 57.4h.01M163.7 59.0h.01M175.8 57.4h.01M172.4 74.2h.01M164.2 65.7h.01M168.2 63.5h.01M165.7 68.5h.01M175.0 69.8h.01M160.3 59.1h.01M164.5 63.9h.01M169.0 70.9h.01M161.7 53.5h.01M177.2 76.2h.01M162.0 55.5h.01M170.1 60.1h.01M166.5 60.1h.01M163.4 59.8h.01M160.1 55.9h.01M165.2 54.6h.01M170.3 60.7h.01M164.1 51.2h.01M161.9 58.5h.01M156.6 63.9h.01M159.2 64.6h.01M170.9 62.9h.01M166.0 59.5h.01M173.9 62.9h.01M163.8 58.2h.01M178.0 63.7h.01M163.2 66.6h.01M161.6 58.3h.01M164.3 70.3h.01M166.3 56.8h.01M164.8 69.6h.01M176.6 59.4h.01M174.2 62.5h.01M173.3 58.3h.01M170.4 56.1h.01M177.2 66.6h.01M175.4 77.7h.01M162.5 68.7h.01M170.2 65.6h.01M167.1 59.0h.01M163.5 70.3h.01M162.5 57.4h.01M161.0 68.9h.01M170.8 73.3h.01M172.3 71.8h.01M171.5 56.9h.01M166.5 74.5h.01M168.5 57.8h.01M157.7 62.9h.01M167.9 73.7h.01M170.8 65.7h.01M165.6 61.7h.01M162.2 59.4h.01M170.0 52.2h.01M176.3 57.4h.01M169.1 50.6h.01M163.7 71.1h.01M173.3 56.3h.01M176.9 64.8h.01M176.9 73.3h.01M172.1 59.0h.01M171.7 60.5h.01M170.5 72.6h.01M171.8 78.3h.01M168.7 72.2h.01M159.3 61.4h.01M172.2 60.8h.01M159.6 58.8h.01M163.4 58.9h.01M159.9 65.5h.01M168.7 64.0h.01M177.7 75.0h.01M167.8 52.1h.01M155.7 61.1h.01M177.4 64.3h.01M161.8 63.7h.01M173.5 77.1h.01M166.3 57.1h.01M160.9 68.3h.01M159.9 60.7h.01M164.3 58.2h.01M173.4 53.6h.01M164.6 73.2h.01M168.1 71.6h.01M161.2 69.9h.01M164.4 51.2h.01M165.7 64.9h.01M161.1 52.8h.01M171.6 77.5h.01M160.5 55.4h.01M174.7 74.6h.01M171.5 78.4h.01M168.8 69.9h.01M177.6 63.5h.01M172.7 70.5h.01M166.5 70.5h.01M164.2 59.2h.01M171.4 52.1h.01M166.4 62.8h.01M172.6 67.9h.01M175.8 63.4h.01M160.3 66.6h.01M164.1 53.8h.01M163.3 62.0h.01M176.0 64.3h.01M168.2 50.8h.01M177.4 61.3h.01M164.3 52.5h.01M163.0 56.0h.01M161.0 66.5h.01M173.3 64.0h.01M162.7 61.4h.01M176.7 74.0h.01M156.1 62.0h.01M165.8 68.1h.01M168.3 75.5h.01M162.2 66.0h.01M169.1 66.8h.01M156.8 58.4h.01M177.3 66.5h.01M169.6 73.4h.01M162.2 59.8h.01M168.5 52.0h.01M158.7 55.9h.01M156.0 62.6h.01M166.0 67.5h.01M159.6 60.0h.01M162.8 59.5h.01M172.9 53.3h.01M163.4 58.4h.01M159.6 57.7h.01M161.0 58.1h.01M162.9 57.6h.01M169.2 64.0h.01M159.2 63.5h.01M161.1 60.4h.01M157.4 57.6h.01M171.6 74.2h.01M169.8 74.0h.01M163.9 60.6h.01M170.8 68.4h.01M162.8 57.9h.01M162.4 52.0h.01M160.5 58.3h.01M164.7 67.6h.01M163.9 65.5h.01M177.1 60.3h.01M173.8 58.4h.01M171.8 53.4h.01M168.4 57.3h.01M175.9 63.8h.01M172.6 76.9h.01M163.4 58.7h.01M167.7 60.2h.01M168.8 57.4h.01M170.0 61.5h.01M165.4 57.9h.01M163.3 54.9h.01M167.2 54.1h.01M176.7 68.5h.01M169.7 71.7h.01M172.4 68.0h.01M171.7 57.3h.01M172.7 79.1h.01M166.1 55.4h.01M171.8 72.9h.01M164.0 53.4h.01M176.0 64.7h.01M168.0 63.4h.01M170.5 67.4h.01M170.0 60.8h.01M176.4 67.3h.01M165.5 51.1h.01M158.8 65.1h.01M174.7 56.4h.01M167.7 70.7h.01M163.8 68.0h.01M175.1 77.2h.01M164.1 59.4h.01M169.2 61.1h.01M169.9 71.4h.01M171.4 52.2h.01M160.8 57.8h.01M162.0 55.8h.01M160.3 68.8h.01M171.9 66.1h.01M169.0 57.9h.01M167.8 75.4h.01M166.1 59.5h.01M172.6 62.7h.01M172.5 65.5h.01M169.0 54.2h.01M165.7 52.5h.01M166.1 72.0h.01M162.9 64.7h.01M176.0 73.0h.01M166.4 53.5h.01M175.9 61.9h.01M169.6 64.5h.01M157.1 58.7h.01M174.2 56.8h.01M164.8 66.7h.01M168.9 75.1h.01M172.2 77.9h.01M165.8 53.0h.01M162.0 62.9h.01M163.0 51.1h.01M166.8 50.8h.01M164.8 59.9h.01M175.8 68.5h.01M176.5 58.4h.01M167.8 72.8h.01M164.4 72.2h.01M172.7 57.4h.01M178.5 69.2h.01M167.3 67.9h.01M175.9 70.7h.01M174.6 76.4h.01M172.7 55.4h.01M168.4 63.9h.01M165.9 67.5h.01M178.1 67.6h.01M167.6 69.6h.01M177.6 69.1h.01M172.3 56.5h.01M160.3 67.6h.01M174.0 71.8h.01M176.4 75.5h.01M161.8 52.6h.01M169.3 65.5h.01M176.3 72.5h.01M164.2 65.6h.01M176.5 57.4h.01M172.5 61.5h.01M166.4 56.5h.01M168.1 59.2h.01M171.8 64.0h.01M171.5 63.0h.01M173.4 54.8h.01M165.4 64.0h.01M167.1 63.8h.01M170.4 65.7h.01M167.6 66.3h.01M171.6 58.6h.01M170.7 67.5h.01M158.7 64.9h.01M164.5 51.3h.01M168.2 60.7h.01M176.0 57.3h.01M174.0 57.7h.01M163.5 50.5h.01M159.7 61.6h.01M159.2 65.6h.01M176.6 72.4h.01M174.2 60.1h.01M163.8 59.7h.01M159.0 67.3h.01M173.3 71.7h.01M166.7 67.8h.01M166.0 66.0h.01M175.7 59.4h.01M162.5 55.8h.01M159.3 57.0h.01M161.0 52.5h.01M174.0 75.2h.01M170.7 57.7h.01M170.0 70.7h.01M173.4 64.9h.01M174.2 72.7h.01M175.5 80.5h.01M164.7 54.0h.01M176.0 64.6h.01" stroke="#E6E4EC" stroke-width="0.66" stroke-linecap="round" fill="none" opacity="0.78"/>
<path d="M157.7 64.9h.01M174.0 59.0h.01M164.1 60.1h.01M170.1 72.2h.01M169.0 50.3h.01M166.0 74.2h.01M177.7 68.7h.01M174.5 58.8h.01M160.4 62.3h.01M173.8 68.2h.01M174.7 78.7h.01M175.4 72.3h.01M169.3 60.9h.01M165.1 64.5h.01M164.4 54.9h.01M176.6 59.5h.01M177.7 70.6h.01M170.9 69.8h.01M162.4 66.3h.01M178.2 62.7h.01M170.3 53.7h.01M161.6 67.6h.01M170.3 68.3h.01M158.4 60.5h.01M169.3 62.4h.01M164.6 55.6h.01M172.4 73.8h.01M177.2 71.6h.01M172.0 63.1h.01M176.2 56.9h.01M163.8 67.9h.01M171.3 74.2h.01M157.6 56.8h.01M165.2 52.0h.01M177.3 64.3h.01M157.3 64.2h.01M172.1 74.8h.01M167.7 53.9h.01M173.4 62.0h.01M178.2 65.6h.01M174.7 64.2h.01M160.3 59.5h.01M158.1 62.0h.01M168.5 58.1h.01M171.2 57.3h.01M167.4 61.7h.01M171.9 58.7h.01M168.4 65.4h.01M169.0 69.1h.01M159.5 66.0h.01M167.1 74.4h.01M178.1 73.6h.01M176.5 69.9h.01M164.7 70.9h.01M167.5 59.3h.01M157.0 57.7h.01M176.4 62.6h.01M166.0 73.6h.01M158.9 58.5h.01M171.0 71.9h.01M170.2 59.1h.01M167.8 56.6h.01M173.5 71.5h.01M171.3 64.7h.01M173.0 64.3h.01M165.6 69.3h.01M175.4 70.7h.01M163.4 66.7h.01M171.1 59.6h.01M157.5 59.1h.01M169.3 65.6h.01M172.6 62.6h.01M177.0 76.0h.01M159.7 64.9h.01M165.6 50.7h.01M167.9 63.2h.01M174.4 74.6h.01M174.3 77.4h.01M164.7 65.0h.01M161.8 64.4h.01M161.6 52.1h.01M163.6 69.0h.01M166.1 62.3h.01M175.3 79.3h.01M158.4 57.9h.01M174.7 76.9h.01M166.0 54.7h.01M161.8 65.4h.01M177.2 74.0h.01M162.3 69.3h.01M165.0 50.7h.01M168.0 69.7h.01M171.1 75.0h.01M172.5 61.2h.01M163.3 51.2h.01M163.6 64.8h.01M164.0 72.7h.01M175.4 70.0h.01M160.5 57.7h.01M170.4 62.0h.01M163.8 57.1h.01M176.0 73.0h.01M174.4 57.6h.01M169.7 75.8h.01M170.4 64.2h.01M170.2 68.2h.01M171.3 62.8h.01M177.5 76.9h.01M163.6 50.2h.01M171.9 59.7h.01M164.3 71.2h.01M161.9 60.4h.01M177.7 61.2h.01M170.7 76.4h.01M163.7 55.7h.01M165.2 70.5h.01M168.3 75.2h.01M175.8 66.7h.01M167.4 61.4h.01M165.8 64.7h.01M177.0 58.8h.01M171.3 72.4h.01M161.7 62.2h.01M171.1 54.2h.01M163.9 64.8h.01M167.1 65.5h.01M176.6 79.2h.01M175.4 73.9h.01M164.2 55.6h.01M168.5 72.3h.01M162.5 53.3h.01M171.7 60.2h.01M169.6 71.4h.01M163.9 68.8h.01M165.2 50.6h.01M161.7 65.4h.01M165.5 73.7h.01M159.5 60.4h.01M173.0 67.2h.01M164.2 50.9h.01M173.3 68.8h.01M161.5 55.5h.01M174.5 75.6h.01M157.0 60.0h.01M160.7 60.5h.01M168.1 68.4h.01M166.8 66.4h.01M170.6 53.0h.01M177.2 63.4h.01M168.1 70.5h.01M166.9 56.5h.01M170.5 56.9h.01M172.9 63.0h.01M165.1 55.6h.01M160.8 53.2h.01M158.7 58.8h.01M175.6 79.6h.01M165.4 56.0h.01M174.8 75.9h.01M160.9 62.0h.01M173.1 68.5h.01M165.8 69.5h.01M164.7 60.0h.01M166.9 52.2h.01M159.4 60.7h.01M173.1 58.8h.01M161.0 55.6h.01M174.1 64.8h.01M158.9 63.0h.01M169.5 56.0h.01M162.1 52.2h.01M164.2 51.6h.01M174.7 70.8h.01M170.2 59.4h.01M171.4 64.5h.01M160.7 53.3h.01M175.6 58.3h.01M169.3 57.4h.01M176.6 66.9h.01M174.9 59.5h.01M161.2 66.3h.01M172.8 57.5h.01M175.1 68.6h.01M158.8 62.1h.01M167.9 69.5h.01M166.5 71.1h.01M169.6 52.2h.01M163.4 51.0h.01M166.5 58.4h.01M168.6 57.9h.01M171.4 69.3h.01M175.3 78.5h.01M161.5 57.5h.01M171.6 75.3h.01M164.1 67.9h.01M161.8 63.7h.01M175.1 77.6h.01M163.3 71.6h.01M169.0 62.7h.01M160.8 56.7h.01M168.4 51.2h.01M169.7 55.3h.01M177.8 63.9h.01M171.1 51.3h.01M173.5 71.0h.01M168.8 58.6h.01M173.7 68.2h.01M168.2 76.0h.01M167.6 52.1h.01M169.3 59.3h.01M171.0 73.4h.01M165.1 71.2h.01M162.1 67.3h.01M168.8 74.6h.01M173.6 61.0h.01M176.6 78.2h.01M172.5 58.0h.01M166.8 55.5h.01M172.6 72.6h.01M161.2 53.9h.01M174.1 77.8h.01M175.3 78.4h.01M168.4 68.9h.01M176.2 81.0h.01M172.7 59.8h.01M159.2 66.4h.01M165.1 69.1h.01M174.0 73.8h.01M175.1 58.2h.01M176.0 59.9h.01M176.9 73.2h.01M172.3 69.9h.01M167.7 51.8h.01M156.0 60.3h.01M164.7 50.2h.01M164.1 63.6h.01M175.0 80.0h.01M167.4 75.0h.01M176.8 68.5h.01M173.4 56.8h.01M177.0 71.7h.01M161.0 67.0h.01M159.8 66.3h.01M165.8 54.9h.01M167.9 75.8h.01M175.2 59.4h.01M170.4 68.0h.01M169.8 75.8h.01M168.9 59.5h.01M171.5 54.7h.01M167.7 64.8h.01M174.4 74.8h.01M169.4 72.5h.01M171.2 76.9h.01M169.7 67.6h.01M170.7 62.2h.01M161.0 52.1h.01M169.4 63.6h.01M172.7 57.4h.01M175.5 70.7h.01M163.1 68.4h.01M169.5 51.1h.01M170.4 52.5h.01M172.3 68.6h.01M176.2 66.6h.01M162.0 57.5h.01M169.3 55.3h.01M166.3 68.9h.01M177.2 61.4h.01M166.0 66.4h.01M159.5 64.9h.01M167.4 63.7h.01M168.1 74.2h.01M168.4 71.8h.01M167.8 63.5h.01M173.0 64.7h.01M173.6 77.2h.01M178.4 67.9h.01M174.6 78.1h.01M175.6 66.3h.01M163.9 59.3h.01M169.8 62.7h.01M161.7 58.1h.01M169.6 62.5h.01M174.5 67.2h.01M165.4 57.3h.01M160.8 68.7h.01M163.1 50.7h.01M170.2 71.0h.01M175.2 78.9h.01M166.5 72.0h.01M158.5 66.6h.01M170.6 51.3h.01M173.0 58.7h.01M177.3 70.9h.01M159.4 61.8h.01M162.4 57.2h.01M164.8 51.3h.01M176.3 56.9h.01M166.4 73.2h.01M164.3 51.8h.01M175.7 68.8h.01M164.3 53.1h.01M175.2 71.9h.01M174.7 69.9h.01M175.5 80.6h.01M171.3 68.5h.01M166.9 74.5h.01M160.7 53.3h.01M177.7 75.0h.01M163.0 61.2h.01M162.5 57.2h.01M163.0 64.2h.01M176.7 69.2h.01M169.5 67.7h.01M168.2 72.2h.01M172.5 68.2h.01M165.3 49.6h.01M174.2 54.3h.01M177.0 61.1h.01M165.0 50.2h.01M167.6 68.7h.01M156.1 60.1h.01M169.2 52.7h.01M167.2 70.3h.01" stroke="#DAD5EC" stroke-width="0.66" stroke-linecap="round" fill="none" opacity="0.78"/>
<path d="M184.1 67.9h.01M185.3 75.6h.01M179.0 71.4h.01M178.8 77.2h.01M184.7 74.8h.01M180.9 73.0h.01M183.7 66.8h.01M185.7 69.3h.01M182.6 69.4h.01M179.2 73.9h.01M182.3 70.7h.01M181.1 74.7h.01M183.9 71.0h.01M183.1 76.2h.01M182.5 69.2h.01M177.4 73.3h.01M181.2 72.9h.01M183.1 75.4h.01M177.8 78.3h.01M187.1 74.8h.01M184.0 70.3h.01M177.9 72.9h.01M184.5 68.5h.01M180.6 71.7h.01M180.3 73.4h.01M180.5 78.2h.01M182.0 69.2h.01M180.0 75.7h.01M183.4 70.8h.01M180.3 77.0h.01M183.1 68.7h.01M180.5 77.9h.01" stroke="#C6BFEA" stroke-width="0.66" stroke-linecap="round" fill="none" opacity="0.78"/>
<path d="M181.2 73.3h.01M173.7 75.4h.01M183.8 73.2h.01M178.2 75.8h.01M185.5 70.5h.01M172.7 53.1h.01M185.0 74.5h.01M165.3 60.8h.01M177.9 75.3h.01M173.9 79.3h.01M178.1 75.5h.01M169.3 59.3h.01M170.6 63.8h.01M179.5 72.0h.01M165.8 71.3h.01M175.7 76.5h.01M185.3 69.9h.01M167.2 65.8h.01M166.2 53.2h.01M168.1 61.4h.01M163.4 54.2h.01M158.2 58.8h.01M167.3 70.4h.01M176.9 78.5h.01M166.0 62.1h.01M163.9 70.8h.01M172.2 61.7h.01M168.2 72.1h.01M158.9 63.1h.01M182.1 73.5h.01M181.5 75.4h.01M180.9 76.0h.01M185.3 74.0h.01M171.4 65.0h.01M179.5 70.3h.01M158.7 59.6h.01M183.9 68.3h.01M176.6 63.3h.01M161.9 70.0h.01M161.4 57.8h.01M177.0 65.0h.01M182.2 73.0h.01M183.0 74.2h.01M185.5 72.7h.01M161.5 55.6h.01M167.8 64.7h.01M178.6 74.5h.01M174.2 69.7h.01M168.9 75.5h.01M183.6 68.5h.01M174.6 75.0h.01M179.0 73.6h.01M156.3 63.9h.01M174.7 66.8h.01M168.9 51.3h.01M165.9 63.0h.01M175.0 77.5h.01M163.7 65.5h.01M183.7 74.2h.01M174.4 65.8h.01M164.0 57.1h.01M165.4 66.5h.01M176.9 70.0h.01M178.6 74.5h.01M184.0 73.3h.01M159.8 56.7h.01M187.1 75.0h.01M183.1 73.6h.01M185.9 73.1h.01M158.7 55.9h.01M183.2 74.6h.01M166.6 57.6h.01M176.2 79.3h.01M184.9 71.2h.01M180.7 76.0h.01M177.0 65.0h.01M186.4 74.8h.01M173.8 62.9h.01M161.1 54.5h.01M166.3 61.6h.01M186.5 75.7h.01M167.6 71.2h.01M167.4 60.1h.01M163.5 59.0h.01M157.7 56.7h.01M179.2 76.6h.01M158.7 55.2h.01M171.8 68.6h.01M163.2 64.4h.01M172.3 62.4h.01M171.4 69.5h.01M186.6 74.2h.01M169.3 70.4h.01M183.9 75.5h.01M159.8 67.1h.01M178.6 78.1h.01M166.1 58.0h.01M157.8 63.9h.01M173.9 71.1h.01M166.0 65.2h.01M178.6 71.9h.01M160.8 55.8h.01M183.1 72.4h.01M181.5 69.7h.01M183.7 68.8h.01M178.5 78.7h.01M184.7 74.0h.01M173.5 59.4h.01M164.2 66.5h.01M177.7 65.8h.01M169.4 73.4h.01M176.2 73.3h.01M173.3 63.3h.01M185.2 70.7h.01M167.9 63.9h.01M170.5 50.9h.01M182.1 73.8h.01M170.2 65.2h.01M184.9 73.5h.01M165.3 70.0h.01M163.1 63.9h.01M173.4 79.7h.01M177.3 74.9h.01M159.9 54.2h.01" stroke="#ADA3E3" stroke-width="0.66" stroke-linecap="round" fill="none" opacity="0.78"/>
<path d="M179.7 74.9h.01M184.8 73.4h.01M181.5 69.5h.01M185.8 70.1h.01M179.4 74.5h.01M179.9 77.4h.01M184.5 66.4h.01M180.2 75.2h.01M184.5 75.2h.01M180.0 69.8h.01M181.4 69.7h.01M177.4 78.6h.01M180.7 76.4h.01M181.0 77.2h.01M182.0 74.3h.01M185.1 73.8h.01M184.8 74.5h.01M185.1 74.9h.01M182.1 74.5h.01M185.3 72.9h.01M183.7 71.7h.01M184.2 67.5h.01M180.5 73.6h.01M185.6 69.0h.01M178.7 73.5h.01M178.2 72.3h.01M182.4 69.1h.01M182.0 74.8h.01M186.5 74.6h.01M181.5 70.3h.01M184.0 76.2h.01M179.5 77.6h.01M178.9 77.2h.01M182.6 72.9h.01M180.2 73.4h.01M179.5 76.3h.01M179.0 72.4h.01M186.1 70.4h.01M180.3 69.7h.01M182.5 75.6h.01M186.1 73.4h.01M181.2 74.4h.01M185.5 69.2h.01M181.6 74.4h.01M181.7 71.5h.01M182.8 73.0h.01M185.5 73.1h.01M180.8 70.7h.01M180.2 73.3h.01M185.6 68.5h.01M181.5 74.3h.01M185.8 75.1h.01M179.4 76.8h.01M184.5 72.3h.01M178.2 77.1h.01M177.5 72.9h.01M179.8 71.0h.01M177.5 77.9h.01M180.6 78.0h.01M181.3 77.6h.01" stroke="#8A7DD8" stroke-width="0.66" stroke-linecap="round" fill="none" opacity="0.78"/>
<path d="M186.8 75.0h.01M184.3 74.2h.01M180.1 77.3h.01M182.6 72.7h.01M183.8 75.7h.01M182.1 75.5h.01M180.6 72.1h.01M181.9 75.8h.01M184.5 76.1h.01M181.9 71.9h.01M181.4 72.8h.01M184.7 70.4h.01M179.4 70.7h.01M184.7 67.7h.01M177.6 73.1h.01M183.7 67.3h.01M185.4 75.2h.01M180.0 74.0h.01M184.3 68.1h.01M182.6 71.0h.01M178.9 75.3h.01M180.1 73.0h.01M180.7 71.8h.01M182.6 75.1h.01M182.7 73.2h.01M178.3 78.0h.01M178.9 74.3h.01M183.5 72.8h.01M185.0 70.0h.01M179.0 76.0h.01M181.7 70.7h.01M183.1 74.1h.01M183.8 72.3h.01" stroke="#6253CA" stroke-width="0.66" stroke-linecap="round" fill="none" opacity="0.78"/>
<path d="M152.2 57.7h.01" stroke="#CFCBE2" stroke-width="0.9" stroke-linecap="round" fill="none" opacity="0.95"/>
<text x="153.0" y="86.8" font-family='"Liberation Serif", serif' font-size="5.7" font-weight="bold" fill="#000" text-anchor="start" stroke="#000" stroke-width="0.3">COL17A1</text>
<path d="M215.4 58.8h.01M211.5 53.2h.01M217.2 74.1h.01M218.5 74.2h.01M207.6 69.2h.01M214.3 77.5h.01M219.7 68.7h.01M221.5 65.0h.01M221.3 64.4h.01M216.1 78.3h.01M215.6 76.9h.01M215.4 55.1h.01M208.8 66.8h.01M217.7 70.5h.01M211.2 50.6h.01M212.7 69.4h.01M217.6 68.1h.01M201.0 57.4h.01M201.6 62.1h.01M209.0 55.4h.01M209.0 63.0h.01M204.2 63.7h.01M199.9 61.3h.01M209.7 61.3h.01M215.7 71.6h.01M221.8 64.4h.01M218.0 61.6h.01M207.4 54.7h.01M205.6 55.6h.01M203.3 66.6h.01M217.6 78.1h.01M211.3 72.5h.01M213.3 70.3h.01M205.8 60.2h.01M200.0 64.1h.01M219.7 69.1h.01M207.7 57.5h.01M220.2 77.7h.01M207.2 65.1h.01M205.4 61.7h.01M216.8 57.3h.01M215.4 77.3h.01M214.5 57.8h.01M212.3 66.5h.01M217.3 61.7h.01M217.0 64.7h.01M219.3 76.6h.01M211.3 72.3h.01M210.9 54.5h.01M212.5 56.2h.01M204.6 68.9h.01M208.4 71.7h.01M220.5 62.8h.01M210.0 68.5h.01M209.7 69.0h.01M213.7 77.0h.01M203.5 65.0h.01M211.2 54.2h.01M214.1 76.6h.01M210.2 64.6h.01M214.2 75.1h.01M209.3 68.8h.01M211.8 70.7h.01M207.9 52.2h.01M207.1 50.3h.01M209.6 54.0h.01M203.9 58.7h.01M218.6 78.4h.01M214.8 63.8h.01M220.7 58.9h.01M217.4 63.8h.01M214.6 57.0h.01M218.0 69.1h.01M221.3 61.1h.01M216.2 64.3h.01M211.1 67.0h.01M210.5 72.0h.01M217.4 63.7h.01M217.8 61.5h.01M218.9 59.6h.01M208.6 72.6h.01M219.3 69.1h.01M203.4 67.9h.01M208.4 67.1h.01M207.6 70.5h.01M214.4 72.5h.01M208.5 63.9h.01M211.2 70.5h.01M204.9 69.3h.01M221.9 68.2h.01M211.7 60.6h.01M203.6 54.2h.01M212.9 65.1h.01M216.6 59.2h.01M206.4 54.7h.01M211.9 69.5h.01M205.5 60.1h.01M221.4 61.0h.01M212.7 56.3h.01M204.8 63.5h.01M206.7 51.9h.01M220.3 59.0h.01M201.9 64.2h.01M214.3 56.8h.01M219.9 74.4h.01M210.6 53.4h.01M216.8 55.7h.01M210.8 60.3h.01M219.8 58.6h.01M213.2 67.3h.01M216.1 57.4h.01M213.7 55.9h.01M218.2 70.2h.01M214.2 58.7h.01M220.1 60.8h.01M209.6 51.8h.01M207.0 61.5h.01M214.3 66.5h.01M220.1 71.1h.01M216.9 76.2h.01M213.8 67.2h.01M206.7 53.0h.01M215.5 76.0h.01M209.3 60.6h.01M215.6 62.9h.01M220.8 60.9h.01M207.1 53.0h.01M204.2 57.4h.01M219.0 80.5h.01M216.9 63.5h.01M215.0 64.0h.01M208.4 52.3h.01M202.5 56.7h.01M205.6 59.4h.01M219.7 61.9h.01M214.2 53.5h.01M204.1 63.8h.01M219.7 79.9h.01M212.0 51.9h.01M206.9 68.4h.01M216.9 79.1h.01M205.0 67.1h.01M208.0 65.2h.01M205.5 58.4h.01M206.5 62.4h.01M218.0 70.6h.01M205.2 61.5h.01M220.5 77.7h.01M216.0 72.7h.01M218.7 78.6h.01M220.2 74.6h.01M217.5 65.7h.01M217.1 62.5h.01M211.5 54.0h.01M219.5 76.4h.01M203.0 59.0h.01M219.0 56.6h.01M218.1 70.3h.01M209.3 59.6h.01M219.8 64.9h.01M205.7 56.1h.01M210.0 57.5h.01M215.5 56.5h.01M203.0 66.7h.01M204.0 58.4h.01M208.6 64.6h.01M207.5 52.0h.01M211.3 54.1h.01M212.3 66.7h.01M206.0 60.9h.01M212.1 50.7h.01M214.1 76.9h.01M220.0 66.6h.01M204.2 59.8h.01M204.4 61.3h.01M215.4 75.4h.01M202.2 59.6h.01M205.0 67.3h.01M210.0 53.2h.01M218.6 69.9h.01M202.8 56.8h.01M208.5 70.3h.01M216.2 70.2h.01M212.6 50.5h.01M221.6 66.7h.01M201.6 57.1h.01M222.3 69.1h.01M219.8 74.1h.01M207.1 59.8h.01M207.3 70.5h.01M213.9 51.8h.01M200.8 63.6h.01M202.2 65.5h.01M211.0 61.8h.01M205.8 55.8h.01M219.8 79.7h.01M211.9 69.8h.01M212.4 68.0h.01M213.5 74.8h.01M212.9 69.5h.01M208.5 65.2h.01M205.9 70.4h.01M208.0 55.5h.01M208.4 54.8h.01M218.5 80.1h.01M213.3 52.7h.01M215.9 67.7h.01M206.4 51.7h.01M210.3 65.1h.01M209.9 52.2h.01M219.9 59.5h.01M214.4 71.1h.01M212.1 74.8h.01M207.9 54.1h.01M219.6 58.7h.01M218.0 55.4h.01M213.0 76.0h.01M205.9 63.5h.01M212.4 55.4h.01M219.8 74.0h.01M217.2 68.2h.01M205.7 68.2h.01M217.4 78.4h.01M212.6 55.4h.01M210.9 70.3h.01M206.0 64.9h.01M209.8 54.5h.01M210.8 71.6h.01M206.8 63.7h.01M204.9 59.0h.01M211.5 72.1h.01M201.6 56.9h.01M209.2 52.0h.01M221.4 63.4h.01M215.4 67.2h.01M219.6 76.6h.01M221.2 74.4h.01M215.9 76.8h.01M205.9 69.6h.01M212.1 56.3h.01M220.6 70.2h.01M221.0 59.4h.01M207.0 60.0h.01M217.7 68.2h.01M210.6 71.3h.01M210.9 57.0h.01M204.5 66.7h.01M214.3 66.4h.01" stroke="#E6E4EC" stroke-width="0.66" stroke-linecap="round" fill="none" opacity="0.78"/>
<path d="M215.1 64.2h.01M218.0 59.6h.01M212.9 60.8h.01M200.1 63.7h.01M219.8 64.2h.01M200.6 60.7h.01M216.1 77.7h.01M219.7 63.7h.01M207.8 60.8h.01M214.0 55.0h.01M216.7 60.2h.01M211.0 64.0h.01M213.8 72.9h.01M215.3 58.3h.01M208.5 61.7h.01M219.6 65.5h.01M213.2 76.1h.01M202.9 59.8h.01M221.0 62.8h.01M207.6 53.7h.01M220.6 63.5h.01M208.4 70.2h.01M213.5 61.8h.01M205.0 68.5h.01M206.8 71.1h.01M201.3 61.8h.01M211.8 57.1h.01M214.1 54.9h.01M211.1 60.7h.01M211.2 74.6h.01M202.0 64.1h.01M215.8 56.2h.01M203.7 63.5h.01M212.2 76.2h.01M208.9 56.9h.01M213.1 52.6h.01M204.6 58.0h.01M210.3 49.9h.01M208.6 57.8h.01M220.4 71.6h.01M219.3 77.5h.01M208.0 60.1h.01M217.3 74.5h.01M212.9 56.2h.01M210.4 69.2h.01M204.9 55.3h.01M210.1 57.3h.01M220.2 77.8h.01M206.4 53.9h.01M209.9 60.6h.01M203.6 54.4h.01M214.8 72.2h.01M212.8 61.1h.01M210.5 59.9h.01M208.2 53.9h.01M212.3 72.4h.01M214.6 67.2h.01M212.6 72.1h.01M204.4 63.2h.01M215.0 74.3h.01M221.1 66.3h.01M205.4 58.8h.01M211.1 73.4h.01M219.0 76.3h.01M214.8 56.6h.01M209.9 64.5h.01M209.2 72.1h.01M207.6 56.7h.01M208.9 60.9h.01M202.6 57.0h.01M211.2 64.9h.01M210.9 65.7h.01M220.9 76.8h.01M214.5 59.9h.01M220.2 62.2h.01M210.2 51.0h.01M209.9 59.3h.01M206.2 65.6h.01M219.1 64.8h.01M214.6 72.1h.01M212.1 50.5h.01M216.6 73.0h.01M206.2 56.0h.01M215.6 53.3h.01M205.2 65.5h.01M208.1 71.9h.01M213.2 58.8h.01M213.3 56.7h.01M205.7 52.5h.01M204.7 63.2h.01M214.5 66.9h.01M208.1 71.3h.01M217.5 78.6h.01M211.1 54.9h.01M199.5 62.6h.01M206.2 70.8h.01M215.2 64.8h.01M199.7 62.3h.01M206.2 58.3h.01M215.6 68.4h.01M200.1 62.7h.01M216.4 76.2h.01M216.8 59.2h.01M201.4 57.0h.01M221.2 61.9h.01M220.0 60.8h.01M219.5 61.2h.01M214.5 65.8h.01M201.2 62.3h.01M217.3 70.7h.01M201.5 62.9h.01M211.0 59.3h.01M213.8 74.8h.01M210.0 57.8h.01M212.3 57.7h.01M215.5 60.1h.01M210.3 64.3h.01M217.9 77.9h.01M218.0 76.8h.01M210.7 52.9h.01M221.4 73.3h.01M204.0 65.0h.01M219.4 70.0h.01M217.6 64.9h.01M208.5 53.9h.01M221.5 67.9h.01M201.1 65.5h.01M207.4 71.6h.01M204.9 68.6h.01M213.9 62.5h.01M213.1 69.4h.01M221.2 67.4h.01M213.8 63.9h.01M220.2 64.1h.01M214.3 65.7h.01M215.6 72.0h.01M213.5 59.3h.01M217.0 68.2h.01M215.0 76.1h.01M211.8 63.5h.01M216.0 66.6h.01M217.4 55.3h.01M206.0 51.2h.01M204.4 55.8h.01M204.0 55.3h.01M218.4 76.4h.01M208.6 56.3h.01M215.6 57.5h.01M205.5 58.0h.01M213.8 54.1h.01M214.5 52.5h.01M211.6 65.1h.01M215.6 67.0h.01M215.5 70.1h.01M220.8 72.5h.01M204.9 55.0h.01M216.7 58.2h.01M220.8 65.1h.01M202.7 59.5h.01M213.4 54.3h.01M218.7 79.1h.01M204.8 65.1h.01M216.4 73.6h.01M207.4 63.3h.01M202.2 64.5h.01M218.0 59.6h.01M219.5 74.0h.01M212.5 71.7h.01M213.0 50.6h.01M199.7 61.1h.01M214.3 72.4h.01M214.7 51.7h.01M215.2 75.9h.01M208.8 58.8h.01M210.3 67.5h.01M210.6 61.2h.01M212.3 68.9h.01M220.2 77.0h.01M205.6 54.1h.01M221.4 67.7h.01M212.1 66.6h.01M211.3 67.7h.01M218.2 78.0h.01M212.1 51.5h.01M215.2 60.1h.01M204.8 54.8h.01M219.4 62.7h.01M204.3 54.5h.01M208.2 72.2h.01M214.9 55.3h.01M208.8 61.6h.01M202.7 60.3h.01M218.3 61.9h.01M203.8 55.5h.01M205.3 55.2h.01M214.4 68.2h.01M220.8 68.9h.01M214.9 67.8h.01M215.0 57.0h.01M201.5 60.7h.01M206.4 53.6h.01M209.6 72.0h.01M204.1 67.8h.01M219.3 64.0h.01M216.4 65.8h.01M215.4 55.3h.01M209.1 73.8h.01M215.1 64.8h.01M219.4 73.0h.01M219.3 62.9h.01M203.7 67.1h.01M213.6 64.8h.01M219.8 62.6h.01M217.6 79.5h.01M205.9 65.5h.01M216.8 58.7h.01M216.7 62.5h.01M209.0 50.0h.01M204.1 56.5h.01M207.0 70.2h.01M217.2 70.1h.01M202.1 65.2h.01M204.5 69.5h.01M210.4 72.8h.01M208.2 49.7h.01M212.8 59.6h.01M216.0 72.0h.01M203.3 67.1h.01M207.0 62.2h.01M218.3 64.6h.01M220.2 75.9h.01M212.1 66.6h.01M213.4 65.2h.01M217.9 68.3h.01M220.5 67.7h.01M218.5 61.2h.01M215.2 73.6h.01M217.1 73.4h.01M208.3 73.2h.01M204.0 64.5h.01M218.2 67.8h.01M202.0 61.6h.01M204.4 63.8h.01M221.7 70.9h.01M202.9 64.2h.01M202.4 64.7h.01M214.1 51.6h.01M205.8 68.3h.01M205.9 57.6h.01M210.9 54.8h.01M216.4 79.4h.01M220.3 78.4h.01M208.7 72.0h.01M209.9 74.5h.01M205.4 68.5h.01M221.7 67.3h.01M211.8 60.2h.01M215.6 67.4h.01M215.0 57.6h.01M208.7 61.3h.01M208.3 67.1h.01M206.2 54.9h.01M221.0 77.6h.01M211.5 67.6h.01M215.1 68.8h.01M203.1 63.3h.01M208.3 59.0h.01M206.3 52.7h.01M209.2 55.0h.01M220.7 63.5h.01M206.8 54.3h.01M214.2 69.2h.01M206.6 70.4h.01M217.5 56.2h.01M219.0 73.3h.01M214.8 56.3h.01M211.0 61.8h.01M214.4 64.0h.01M200.7 59.7h.01M212.2 74.5h.01M203.8 66.3h.01M211.8 59.6h.01M210.6 73.6h.01M219.9 70.0h.01M215.7 55.2h.01M215.9 64.1h.01M212.5 58.1h.01M211.1 75.3h.01M218.9 59.4h.01M205.3 57.6h.01M215.9 76.0h.01M214.1 72.2h.01M218.3 62.2h.01M218.4 71.3h.01M210.0 60.5h.01M218.5 63.8h.01M218.3 77.4h.01M218.0 72.7h.01M207.1 58.6h.01M208.6 66.7h.01M218.7 62.2h.01M215.2 73.8h.01M213.3 67.0h.01M211.0 62.3h.01M222.2 71.1h.01M204.9 52.7h.01M208.8 60.5h.01M205.1 62.9h.01M219.6 64.5h.01M215.7 69.4h.01M216.7 63.7h.01M219.9 58.7h.01M214.1 62.5h.01M212.7 50.9h.01M201.1 63.4h.01M208.8 60.6h.01M217.9 59.6h.01M211.6 67.1h.01M207.2 51.1h.01M210.3 58.8h.01M216.0 76.3h.01M213.1 75.7h.01M206.9 68.3h.01M217.0 61.1h.01M206.0 55.1h.01M222.0 70.7h.01M204.9 59.0h.01M209.4 54.9h.01M216.0 65.2h.01M207.5 68.6h.01M211.6 68.7h.01M203.9 64.9h.01M211.4 61.4h.01M221.1 77.5h.01M205.4 54.7h.01M218.5 57.7h.01M215.2 71.0h.01M214.5 59.8h.01M218.0 65.9h.01M219.3 70.9h.01M204.1 55.0h.01M209.9 70.2h.01M209.5 53.2h.01M217.3 77.0h.01M208.2 57.0h.01M215.9 69.1h.01M209.3 51.9h.01M213.6 66.4h.01M218.1 78.9h.01M210.7 67.3h.01M218.8 69.5h.01M216.8 67.5h.01M211.1 62.2h.01M220.4 65.7h.01M220.3 66.5h.01M209.5 55.8h.01M208.3 50.3h.01M214.9 70.7h.01M214.8 63.2h.01M216.9 69.5h.01M202.7 63.1h.01M215.9 66.7h.01M214.9 75.1h.01M211.4 52.5h.01M211.2 66.9h.01M217.6 78.2h.01M211.7 54.8h.01M203.9 61.7h.01M203.5 66.1h.01M214.5 54.6h.01M210.8 50.4h.01M213.1 50.7h.01M219.5 62.6h.01M218.2 67.6h.01M211.6 75.5h.01M215.0 60.8h.01M207.5 57.9h.01M213.8 74.8h.01M209.9 62.3h.01M221.9 63.6h.01M211.2 61.7h.01M216.2 63.6h.01M215.8 56.7h.01M208.9 72.6h.01M217.1 68.1h.01M217.5 67.9h.01M215.6 73.7h.01M208.1 56.1h.01M204.5 67.0h.01M219.3 72.9h.01M200.8 62.9h.01M207.6 54.3h.01M221.7 66.4h.01M203.8 55.7h.01M217.8 76.7h.01M211.5 75.5h.01M208.9 65.5h.01M210.5 71.6h.01M200.8 59.4h.01M217.0 66.7h.01M207.3 60.2h.01M202.0 58.1h.01M210.2 72.4h.01M212.4 52.7h.01M213.0 62.2h.01M203.2 68.2h.01M202.0 65.4h.01M208.9 69.0h.01M207.7 71.4h.01M211.2 67.5h.01M203.4 57.4h.01M205.2 64.0h.01M214.1 53.5h.01M205.8 54.6h.01M214.3 52.0h.01M206.0 53.2h.01M213.5 70.8h.01M209.7 65.9h.01M206.3 55.8h.01M210.5 57.5h.01M202.0 65.1h.01M207.2 53.8h.01M206.6 69.6h.01M217.0 72.9h.01M213.5 69.1h.01M214.1 68.5h.01M220.9 63.6h.01M201.0 63.3h.01M218.1 66.5h.01M207.8 62.3h.01M214.9 62.2h.01M219.9 67.2h.01M206.7 57.0h.01M203.0 66.9h.01M220.3 71.6h.01M215.1 53.3h.01M216.3 61.9h.01M220.9 72.7h.01M207.0 58.1h.01M205.9 59.2h.01M217.9 67.1h.01M214.6 66.4h.01M211.0 63.2h.01M214.0 54.3h.01M215.9 55.9h.01M215.9 74.6h.01M208.7 72.6h.01M211.2 69.7h.01M208.5 57.9h.01M221.3 62.2h.01M201.7 65.5h.01M204.0 64.9h.01M213.2 62.6h.01M217.6 75.1h.01M211.3 56.8h.01M204.1 52.8h.01M205.9 52.1h.01M208.5 67.0h.01M216.4 76.9h.01M208.2 52.8h.01M214.7 69.2h.01M210.3 55.5h.01M210.8 62.1h.01M206.1 65.8h.01M205.5 66.4h.01M216.8 57.8h.01M213.9 60.5h.01M206.7 69.7h.01M202.8 60.9h.01M208.4 60.9h.01M215.3 59.9h.01M215.8 73.2h.01M219.8 71.0h.01M211.9 59.2h.01M216.0 63.4h.01M206.0 70.4h.01M211.9 65.9h.01M218.1 56.7h.01M218.3 79.9h.01M215.6 52.6h.01M202.3 67.1h.01M210.4 73.5h.01M217.1 56.8h.01M219.9 80.7h.01M209.0 70.2h.01M217.5 72.9h.01M201.8 63.5h.01M202.2 65.5h.01M209.2 50.9h.01M199.9 63.8h.01M217.8 79.4h.01M206.8 56.6h.01M217.7 57.4h.01M209.4 69.1h.01M203.9 59.5h.01M220.6 74.9h.01M218.3 60.8h.01M210.2 61.7h.01M216.1 67.4h.01M208.5 51.4h.01M218.7 69.7h.01M220.1 58.7h.01M214.9 74.1h.01M213.6 73.6h.01M218.9 60.2h.01M218.2 78.3h.01M211.2 50.2h.01M213.8 67.6h.01M211.0 75.1h.01M214.1 74.5h.01M220.8 74.8h.01M205.4 56.3h.01M211.7 74.3h.01M215.4 60.6h.01M212.3 72.6h.01M213.5 71.4h.01M199.8 63.8h.01M207.1 55.2h.01M207.5 66.6h.01M210.5 55.6h.01M200.3 59.1h.01M205.7 61.7h.01M215.6 74.7h.01M211.6 58.7h.01M210.7 67.4h.01M220.0 59.5h.01M214.7 57.5h.01M214.4 65.9h.01M204.9 58.3h.01M215.1 56.6h.01M211.7 71.1h.01M216.3 68.9h.01M217.6 74.6h.01M220.0 69.8h.01M220.9 75.7h.01M216.5 64.1h.01M215.7 54.5h.01M217.7 62.8h.01M210.6 59.7h.01M211.4 74.4h.01M214.1 57.7h.01M209.7 51.5h.01M214.8 56.0h.01M215.2 61.1h.01M217.4 78.4h.01M214.9 65.4h.01M211.2 49.9h.01M219.0 57.9h.01M218.0 79.4h.01M215.6 71.5h.01M207.6 71.5h.01M203.4 57.4h.01M219.5 70.9h.01M208.4 63.8h.01M201.1 61.0h.01M213.0 70.0h.01M217.9 60.7h.01M211.1 53.4h.01M213.6 69.7h.01M217.9 62.1h.01M207.5 56.0h.01M203.3 61.3h.01M217.6 64.0h.01M216.4 69.0h.01M209.6 57.6h.01M202.7 55.9h.01M213.4 61.1h.01M208.8 53.3h.01M219.7 71.1h.01M221.2 76.6h.01M216.0 65.7h.01M216.0 60.9h.01M214.5 67.5h.01M212.5 60.4h.01M212.7 70.7h.01M212.5 54.2h.01M211.9 67.6h.01M212.5 54.7h.01M205.6 68.0h.01M213.3 68.6h.01M219.7 73.3h.01M217.1 72.0h.01M212.1 75.6h.01M213.4 53.0h.01M207.6 58.7h.01M214.8 65.5h.01M205.8 55.4h.01M207.7 50.6h.01" stroke="#DAD5EC" stroke-width="0.66" stroke-linecap="round" fill="none" opacity="0.78"/>
<path d="M210.7 71.5h.01M219.3 69.0h.01M209.6 60.5h.01M222.0 66.1h.01M208.7 72.6h.01M200.8 61.4h.01M216.2 63.4h.01M215.8 53.7h.01M220.2 57.3h.01M216.8 61.0h.01M208.5 50.1h.01M204.9 67.5h.01M209.6 61.6h.01M204.7 61.5h.01M213.4 75.8h.01M206.2 53.4h.01M207.7 63.7h.01M221.2 70.7h.01M207.0 52.1h.01M216.0 59.7h.01M215.2 72.7h.01M215.3 78.2h.01M230.9 73.4h.01M205.3 70.4h.01M204.8 62.1h.01M216.4 78.5h.01M214.3 70.9h.01M228.1 68.9h.01M215.3 78.0h.01M218.4 69.2h.01M205.4 55.7h.01M205.6 69.5h.01M207.1 51.6h.01M224.3 75.5h.01M209.0 62.1h.01M212.3 60.4h.01M207.0 69.5h.01M209.4 68.1h.01M211.1 52.0h.01M217.1 61.0h.01M217.8 68.2h.01M219.0 75.4h.01M219.0 66.7h.01M216.1 71.7h.01M201.8 56.0h.01M207.8 66.6h.01M209.0 71.6h.01M213.9 62.3h.01M213.8 54.5h.01M212.7 64.0h.01M214.5 64.6h.01M222.3 68.8h.01M201.3 64.3h.01M217.7 66.3h.01M201.1 65.5h.01M209.7 61.3h.01M211.1 50.8h.01M205.2 51.4h.01M215.1 65.3h.01M210.5 73.9h.01M208.7 69.7h.01M214.1 64.8h.01M206.1 54.4h.01M208.1 69.0h.01M217.0 72.3h.01M217.3 63.6h.01M219.4 79.8h.01M209.5 60.4h.01M214.9 75.2h.01M213.8 63.5h.01M217.4 68.2h.01M208.5 72.7h.01M205.7 58.2h.01M211.8 58.2h.01M202.1 59.0h.01M215.8 53.9h.01M216.3 77.8h.01M211.5 51.7h.01M209.7 67.7h.01M203.0 55.5h.01M210.2 57.4h.01M210.6 64.3h.01M212.9 53.7h.01M208.6 71.3h.01M209.1 53.6h.01M221.5 72.5h.01M201.3 60.6h.01M220.6 63.8h.01M227.4 71.9h.01M205.2 54.3h.01M213.5 67.3h.01M217.1 62.3h.01M220.6 64.2h.01M220.5 71.6h.01M213.4 56.7h.01M204.0 66.8h.01M210.0 51.0h.01M213.6 63.9h.01M215.4 74.5h.01M203.0 67.0h.01M208.3 60.0h.01M222.3 73.6h.01M216.6 60.5h.01M212.5 53.7h.01M214.5 60.1h.01M208.6 53.5h.01M228.0 68.3h.01M203.6 60.4h.01M212.8 62.6h.01M205.3 56.1h.01M204.4 54.0h.01M209.7 71.8h.01M215.6 55.2h.01M217.5 62.8h.01M209.2 64.9h.01M213.8 60.0h.01M209.2 51.7h.01M215.2 63.2h.01M209.9 68.3h.01M212.6 56.9h.01M202.0 60.2h.01M213.6 51.7h.01M212.9 72.8h.01M219.6 57.5h.01M226.8 73.9h.01M212.6 56.4h.01M217.8 77.4h.01M206.6 50.9h.01M215.4 63.5h.01M216.2 71.9h.01M221.3 68.6h.01M202.5 62.4h.01M219.8 58.4h.01M202.6 64.5h.01M205.1 53.0h.01M206.1 57.3h.01M216.9 69.2h.01M219.9 77.8h.01M205.6 68.9h.01M218.5 73.5h.01M207.2 62.2h.01M216.7 53.1h.01M207.5 62.4h.01M218.8 61.2h.01M218.1 70.4h.01M202.5 60.9h.01M212.6 53.5h.01M214.1 73.6h.01M203.0 57.2h.01M211.9 70.6h.01M212.4 76.1h.01M207.3 68.0h.01M216.5 70.5h.01M205.2 63.6h.01M200.7 58.1h.01M224.7 72.2h.01M220.1 66.6h.01M215.4 56.4h.01M211.4 64.2h.01M214.6 77.7h.01M213.4 73.6h.01M218.2 54.7h.01M207.8 71.5h.01M214.1 71.2h.01M218.4 68.3h.01M202.6 56.1h.01M214.0 68.2h.01M222.3 74.1h.01M204.9 61.6h.01M210.5 57.9h.01M208.2 60.2h.01M207.1 54.8h.01M206.1 51.3h.01M210.8 72.7h.01M210.7 54.0h.01M218.8 75.6h.01M221.3 68.0h.01M216.3 73.5h.01M216.4 76.9h.01M210.8 69.9h.01M209.6 56.5h.01M216.6 79.4h.01M207.2 51.4h.01M217.9 70.7h.01M216.6 59.8h.01M201.2 58.6h.01M214.6 58.5h.01M220.0 65.7h.01M209.8 56.4h.01M217.1 67.1h.01M204.5 59.2h.01M219.1 64.6h.01M215.3 60.0h.01M205.3 69.2h.01M205.2 66.9h.01M211.8 62.4h.01M217.4 79.0h.01M201.6 62.8h.01M215.3 55.3h.01M227.5 73.3h.01M219.2 62.1h.01M217.7 70.6h.01M221.4 66.2h.01M206.3 68.5h.01M228.0 74.9h.01M208.9 59.8h.01M217.4 58.8h.01M215.5 74.7h.01M220.1 60.6h.01M207.3 60.4h.01M208.8 65.4h.01M208.3 54.4h.01M211.9 61.4h.01M226.5 67.7h.01M220.2 72.8h.01M216.8 70.9h.01M212.5 74.1h.01M207.1 66.0h.01M209.8 63.4h.01M200.4 58.9h.01M222.1 68.9h.01M201.0 61.6h.01M220.7 70.5h.01M218.4 58.9h.01M218.2 58.6h.01M216.0 59.8h.01M206.1 59.8h.01M214.2 72.0h.01M209.5 58.6h.01M217.0 64.9h.01M219.5 70.3h.01M212.7 57.2h.01M217.7 69.5h.01M207.2 67.4h.01M207.7 66.2h.01M212.1 53.7h.01M217.9 75.8h.01M216.5 79.4h.01M210.3 59.4h.01M207.1 70.0h.01M206.5 54.7h.01M211.5 56.5h.01M202.9 67.5h.01M218.6 79.3h.01M211.5 50.2h.01M204.1 63.7h.01M211.8 50.4h.01M208.0 61.1h.01M211.2 70.9h.01M215.5 69.6h.01M208.6 53.7h.01M218.2 74.6h.01M211.5 75.3h.01M200.6 61.9h.01M220.5 79.6h.01M216.8 53.0h.01M216.4 70.0h.01M211.9 65.1h.01M205.3 66.0h.01M204.1 67.1h.01M205.9 67.9h.01M222.5 73.4h.01M230.4 72.8h.01M207.3 61.2h.01M204.6 62.4h.01M218.0 67.9h.01M211.7 73.8h.01M211.0 67.1h.01M210.8 74.5h.01M214.2 55.7h.01M230.1 71.2h.01M220.8 65.5h.01M212.0 61.5h.01M219.3 72.7h.01M203.3 58.1h.01M219.2 76.2h.01M221.1 69.9h.01M215.9 73.9h.01M213.4 52.5h.01M214.9 63.6h.01" stroke="#C6BFEA" stroke-width="0.66" stroke-linecap="round" fill="none" opacity="0.78"/>
<path d="M226.9 72.5h.01M226.5 71.4h.01M225.1 77.2h.01M222.4 78.0h.01M222.4 71.3h.01M225.3 75.3h.01M228.2 74.6h.01M229.5 69.5h.01M225.7 75.9h.01M227.9 72.3h.01M228.4 72.6h.01M222.3 72.8h.01M225.3 69.8h.01M228.2 67.8h.01M227.8 71.0h.01M221.7 78.3h.01M223.5 77.3h.01M226.9 67.8h.01M225.4 71.2h.01M222.5 78.2h.01M229.7 74.2h.01M227.6 72.7h.01M227.5 68.1h.01M226.2 73.9h.01M230.0 71.5h.01M229.6 75.2h.01M221.5 77.2h.01M222.7 72.9h.01M227.6 66.7h.01M230.5 74.7h.01M228.9 71.1h.01M231.0 74.0h.01M227.6 67.6h.01M227.4 70.9h.01M222.1 73.0h.01M229.2 73.4h.01M224.6 70.1h.01M224.8 71.1h.01M221.6 73.8h.01M222.4 71.9h.01M220.8 78.0h.01M224.1 72.7h.01M222.8 73.6h.01M227.5 75.8h.01M226.0 72.2h.01M224.7 75.9h.01M222.8 77.1h.01M223.9 69.6h.01M224.1 73.7h.01M225.9 71.1h.01M225.3 68.3h.01M221.6 77.3h.01M226.4 71.8h.01M225.7 68.8h.01M225.5 68.6h.01M230.3 73.3h.01M228.3 73.3h.01M228.0 71.3h.01M226.4 75.0h.01" stroke="#ADA3E3" stroke-width="0.66" stroke-linecap="round" fill="none" opacity="0.78"/>
<path d="M224.8 72.2h.01M230.2 71.6h.01M225.5 70.2h.01M226.0 68.8h.01M223.8 76.1h.01M225.0 68.6h.01M227.3 69.1h.01M224.5 72.7h.01M229.8 75.6h.01M228.6 67.2h.01M227.4 74.7h.01M226.6 75.8h.01M221.5 74.0h.01M225.1 71.6h.01M229.9 74.6h.01M223.1 72.6h.01M222.7 76.4h.01M224.2 72.5h.01M228.4 70.4h.01M222.2 74.4h.01M229.3 67.0h.01M221.4 73.2h.01M229.2 67.6h.01M228.6 71.1h.01M228.1 74.4h.01M223.8 71.3h.01M225.6 74.0h.01M225.7 71.5h.01M226.5 67.4h.01M230.6 73.8h.01M221.6 75.7h.01M223.8 72.2h.01M224.4 76.6h.01M222.4 76.6h.01M228.1 72.5h.01M230.2 75.8h.01M229.2 76.1h.01M230.3 73.8h.01M227.8 71.3h.01M227.9 74.3h.01M229.0 76.5h.01M224.5 69.0h.01M225.6 75.6h.01M230.1 74.1h.01M229.7 70.2h.01M223.2 73.5h.01M221.3 77.5h.01M227.1 72.6h.01M226.1 69.4h.01M230.6 73.3h.01M227.4 72.6h.01M227.6 70.8h.01M224.9 75.6h.01M226.4 73.8h.01M223.9 78.4h.01M229.0 69.9h.01M230.2 74.8h.01M224.4 77.6h.01M221.3 76.4h.01M230.6 74.5h.01M229.1 70.6h.01M221.3 74.9h.01M221.4 75.0h.01M227.4 67.2h.01M226.1 70.1h.01" stroke="#8A7DD8" stroke-width="0.66" stroke-linecap="round" fill="none" opacity="0.78"/>
<path d="M226.4 69.5h.01M228.5 71.2h.01M226.8 73.2h.01M224.6 74.1h.01M223.4 75.8h.01M222.5 71.7h.01M224.1 74.5h.01M223.5 70.5h.01M226.8 69.4h.01M225.0 74.0h.01M223.7 78.1h.01M230.0 75.7h.01M221.3 73.2h.01M224.1 76.8h.01M226.5 75.9h.01M222.1 73.8h.01M227.1 69.8h.01M223.4 70.7h.01M224.4 70.7h.01M230.3 75.1h.01M229.2 75.5h.01M227.5 75.8h.01M227.1 68.4h.01M223.8 71.2h.01M230.2 72.9h.01M227.0 73.1h.01M222.5 74.4h.01M227.2 71.0h.01M230.6 75.6h.01M229.5 72.4h.01" stroke="#6253CA" stroke-width="0.66" stroke-linecap="round" fill="none" opacity="0.78"/>
<path d="M195.8 57.7h.01" stroke="#CFCBE2" stroke-width="0.9" stroke-linecap="round" fill="none" opacity="0.95"/>
<text x="197.0" y="86.8" font-family='"Liberation Serif", serif' font-size="5.7" font-weight="bold" fill="#000" text-anchor="start" stroke="#000" stroke-width="0.3">KRT15</text>
<path d="M246.0 55.8h.01M248.5 52.0h.01M249.0 63.3h.01M243.9 63.3h.01M258.4 63.4h.01M258.4 61.7h.01M249.3 68.2h.01M245.5 60.3h.01M260.6 56.0h.01M258.6 66.1h.01M259.4 62.7h.01M265.5 71.4h.01M250.3 59.2h.01M243.9 62.6h.01M259.3 63.0h.01M257.5 53.0h.01M249.8 61.4h.01M260.5 70.7h.01M253.7 55.3h.01M256.3 52.0h.01M251.3 59.2h.01M255.5 56.0h.01M249.8 63.4h.01M262.9 70.5h.01M261.8 74.2h.01M258.5 69.8h.01M264.5 75.4h.01M256.2 55.6h.01M273.4 73.6h.01M266.8 76.7h.01M252.9 72.1h.01M264.2 68.2h.01M259.3 63.1h.01M262.6 80.0h.01M256.9 56.8h.01M260.3 60.5h.01M251.4 66.4h.01M253.6 62.2h.01M262.5 66.4h.01M263.4 62.3h.01M262.6 67.9h.01M258.6 53.4h.01M262.5 74.7h.01M250.7 67.9h.01M252.0 53.1h.01M250.1 63.8h.01M267.4 74.5h.01M258.5 59.4h.01M272.3 69.0h.01M245.6 60.6h.01M270.2 72.3h.01M257.0 65.8h.01M250.4 63.4h.01M271.8 70.1h.01M266.1 76.7h.01M246.2 59.0h.01M260.6 65.0h.01M267.6 72.4h.01M255.0 74.0h.01M267.5 74.5h.01M271.6 70.1h.01M251.0 65.4h.01M251.3 53.1h.01M245.1 60.8h.01M263.5 64.6h.01M254.4 50.7h.01M267.9 69.7h.01M260.9 59.6h.01M247.6 61.7h.01M249.3 66.2h.01M253.9 69.1h.01M248.2 61.6h.01M259.0 75.1h.01M256.1 50.8h.01M256.1 74.8h.01M252.3 53.8h.01M259.0 73.1h.01M243.9 62.9h.01M250.1 60.4h.01M261.2 73.6h.01M261.3 65.3h.01M258.8 74.8h.01M259.1 77.0h.01M249.9 57.3h.01M273.1 71.6h.01M244.5 57.4h.01M257.0 76.3h.01M263.0 69.5h.01M244.8 62.6h.01M243.4 64.1h.01M249.7 56.0h.01M256.7 53.2h.01M254.5 73.7h.01M273.4 72.8h.01M249.1 59.2h.01M273.6 75.2h.01M265.1 76.2h.01M255.2 72.2h.01M258.2 77.3h.01M258.3 62.1h.01M267.5 73.6h.01M262.0 72.3h.01M251.4 64.4h.01M254.5 68.8h.01M270.8 74.5h.01M261.6 57.9h.01M262.0 59.0h.01M256.9 56.3h.01M248.9 60.3h.01M254.5 61.4h.01M250.2 60.4h.01M246.0 54.9h.01M256.5 61.5h.01M251.1 55.9h.01M254.2 63.7h.01M252.2 67.6h.01M261.3 67.7h.01M261.5 79.4h.01M273.9 74.3h.01M255.0 51.7h.01M264.2 69.9h.01M262.7 61.0h.01M261.9 75.8h.01M267.4 72.9h.01M256.8 57.7h.01M261.1 62.9h.01M258.0 61.8h.01M250.6 50.8h.01M259.9 55.2h.01M251.4 51.9h.01M264.3 73.0h.01M259.0 63.4h.01M257.0 69.0h.01M253.4 72.5h.01M252.9 64.3h.01M261.7 71.6h.01M268.8 69.4h.01M258.4 63.8h.01M264.2 73.3h.01M250.0 67.2h.01M264.2 61.2h.01M247.8 59.7h.01M248.3 59.4h.01M248.1 64.8h.01M258.7 66.8h.01M250.5 70.5h.01M262.3 66.2h.01M261.2 62.8h.01M252.5 52.4h.01M252.1 56.7h.01M261.0 56.9h.01M264.5 62.9h.01M246.8 55.4h.01M246.9 63.3h.01M260.3 57.9h.01M262.3 74.2h.01M257.0 53.2h.01M249.5 60.0h.01M244.4 57.8h.01M250.8 67.5h.01M264.2 69.6h.01M267.7 71.5h.01M248.3 68.8h.01M254.7 67.0h.01M253.9 63.5h.01M255.4 73.1h.01M245.7 56.7h.01M252.5 50.3h.01M246.2 62.6h.01M244.5 64.0h.01M262.6 65.6h.01M267.1 73.4h.01M252.7 68.6h.01M273.8 74.0h.01M265.6 71.0h.01M272.3 69.4h.01M249.6 63.4h.01M258.2 52.8h.01M250.2 60.0h.01M261.2 72.0h.01M272.1 66.5h.01M247.9 64.3h.01M264.4 62.3h.01M261.7 76.0h.01M258.8 74.8h.01M263.1 73.0h.01M262.8 74.6h.01M258.2 67.5h.01M262.0 67.7h.01M254.6 62.7h.01M263.2 78.0h.01M273.4 73.5h.01M254.4 74.8h.01M250.7 60.8h.01M254.7 66.3h.01M251.1 72.3h.01M253.2 71.7h.01M251.9 61.0h.01M264.9 62.4h.01M247.8 56.7h.01M256.5 55.0h.01M249.5 53.9h.01M259.6 74.7h.01M256.3 54.5h.01M262.2 76.8h.01M246.4 54.0h.01M251.8 56.6h.01M254.2 50.8h.01M252.6 60.1h.01M255.1 55.9h.01M269.0 68.5h.01M260.1 61.6h.01M270.3 70.3h.01M255.9 61.9h.01M246.7 61.6h.01M247.6 62.0h.01M255.5 52.9h.01M252.1 54.3h.01M253.8 70.9h.01M251.2 67.5h.01M261.9 64.3h.01M256.8 50.5h.01M249.9 61.8h.01M250.6 70.7h.01M252.1 61.0h.01M259.8 64.1h.01M269.0 72.1h.01M260.0 64.8h.01M247.3 56.9h.01M265.0 65.8h.01M251.8 63.4h.01M250.3 72.2h.01M251.8 50.5h.01M254.4 69.1h.01M248.5 54.9h.01M269.9 73.9h.01M259.9 74.2h.01M249.4 61.4h.01M253.5 50.8h.01M269.8 72.7h.01M246.9 67.6h.01M267.1 78.3h.01M254.4 61.9h.01M247.5 67.8h.01M246.5 54.8h.01M248.9 52.9h.01M261.2 58.2h.01M245.6 60.7h.01M263.1 66.2h.01M255.3 50.5h.01M254.2 71.6h.01M248.0 51.7h.01M260.2 72.0h.01M248.8 66.3h.01M243.9 63.9h.01M256.0 65.2h.01M267.3 76.4h.01M253.8 62.4h.01M251.4 66.7h.01M257.7 71.9h.01M247.4 54.4h.01M266.5 77.4h.01M256.1 66.4h.01M247.2 59.5h.01M262.1 77.2h.01M254.9 71.5h.01M253.5 51.2h.01M254.7 60.4h.01M272.2 67.5h.01M260.0 70.7h.01M248.8 64.4h.01M256.4 61.0h.01M246.9 54.2h.01M255.7 60.7h.01M253.2 66.2h.01M252.3 73.1h.01M272.1 75.7h.01M259.4 62.3h.01M260.4 77.3h.01M257.2 60.7h.01M266.9 69.8h.01M260.6 70.4h.01M263.1 72.8h.01M254.3 57.0h.01M259.8 71.7h.01M244.0 61.2h.01M249.3 59.5h.01M270.2 67.4h.01M258.9 61.3h.01M257.5 58.1h.01M266.9 77.2h.01M256.8 57.7h.01M271.2 68.7h.01M245.4 60.7h.01M256.4 66.6h.01M244.8 63.6h.01M262.6 62.8h.01M254.5 66.6h.01M262.8 65.6h.01M261.8 70.2h.01M257.2 65.8h.01M259.0 67.2h.01M248.3 57.9h.01M248.3 62.4h.01M258.3 62.7h.01M257.4 61.8h.01M263.1 64.8h.01M256.7 74.3h.01M254.7 53.9h.01M264.4 70.6h.01M246.0 58.7h.01M252.1 66.8h.01M260.7 68.9h.01M244.2 57.0h.01M264.5 72.9h.01M247.1 69.0h.01M264.5 75.3h.01M249.0 52.5h.01M249.9 65.1h.01M258.3 53.3h.01M257.6 72.4h.01M257.1 67.2h.01M256.8 72.1h.01M262.9 77.9h.01M251.8 65.4h.01M263.7 68.9h.01M246.0 61.5h.01M250.7 59.8h.01M250.7 50.1h.01M262.9 68.2h.01M251.1 72.9h.01M247.8 60.0h.01M254.8 51.9h.01M264.9 73.7h.01M247.3 58.9h.01M252.0 63.2h.01M249.3 66.9h.01M258.4 77.8h.01M252.4 54.4h.01M244.3 57.6h.01M251.0 52.8h.01M249.1 65.2h.01M245.5 61.0h.01M267.8 72.4h.01M256.1 62.2h.01M262.6 80.6h.01M261.2 67.0h.01M260.1 64.1h.01M250.1 57.2h.01M255.7 58.7h.01M261.3 79.0h.01M248.2 51.5h.01M273.8 73.6h.01M269.7 71.1h.01M274.0 73.4h.01M259.9 62.9h.01M256.0 62.7h.01M260.4 68.8h.01M265.1 73.1h.01M267.6 73.2h.01M256.3 69.8h.01M253.9 71.3h.01M262.7 79.1h.01M272.0 71.9h.01M261.6 80.4h.01M246.8 59.4h.01M258.6 53.9h.01M255.3 53.8h.01M257.2 68.6h.01M249.6 61.2h.01M264.5 62.0h.01M262.1 56.5h.01M270.0 71.2h.01M255.6 62.3h.01M251.0 52.9h.01M259.2 70.7h.01M259.9 76.3h.01M245.6 57.0h.01M245.6 61.6h.01M257.7 52.1h.01M246.5 57.2h.01M250.2 67.2h.01M254.2 56.2h.01M250.3 61.9h.01M258.4 62.4h.01M252.7 52.8h.01M252.9 54.6h.01M251.6 71.9h.01M247.1 67.7h.01M254.2 73.0h.01M253.3 65.4h.01M248.7 64.2h.01M254.2 50.5h.01M253.5 69.2h.01M254.1 59.4h.01M261.1 61.3h.01M255.5 60.1h.01M256.1 65.4h.01M256.9 66.9h.01M259.9 61.6h.01M248.2 52.3h.01M253.0 59.7h.01M246.0 60.0h.01M263.4 77.0h.01M267.0 78.5h.01M255.7 75.1h.01M256.9 63.6h.01M251.1 55.3h.01M271.9 68.8h.01M246.6 57.0h.01M264.5 73.4h.01M261.7 72.3h.01M271.3 68.4h.01M262.7 74.5h.01M267.8 71.0h.01M261.2 60.4h.01M257.7 73.8h.01M263.8 61.7h.01M258.8 77.4h.01M250.0 55.8h.01M246.8 59.9h.01M252.8 63.0h.01M260.8 57.3h.01M255.3 76.0h.01M251.6 57.8h.01M269.1 74.5h.01M266.3 75.8h.01M256.2 75.5h.01M253.7 66.0h.01M268.8 71.2h.01M264.7 71.7h.01M271.1 74.1h.01M260.8 73.0h.01M257.2 59.5h.01M245.5 60.6h.01M254.6 50.3h.01M250.8 72.1h.01M256.1 53.7h.01M245.1 56.9h.01M257.7 72.6h.01M255.7 57.1h.01M253.3 68.4h.01M249.8 68.1h.01M252.9 59.9h.01M259.3 64.4h.01M245.3 57.6h.01M266.6 73.2h.01M246.2 61.9h.01M246.5 59.7h.01M264.7 66.8h.01M249.4 68.1h.01M264.5 73.9h.01M252.5 70.0h.01M254.9 54.1h.01M244.8 59.3h.01M245.1 61.8h.01M247.0 64.8h.01M255.2 56.8h.01M256.0 59.0h.01M264.8 72.1h.01M247.2 56.3h.01M250.9 65.9h.01M257.7 75.8h.01M252.4 67.6h.01M244.5 63.5h.01M258.2 70.7h.01M253.9 65.8h.01M259.1 67.7h.01M265.3 78.1h.01M272.2 74.2h.01M264.6 65.5h.01M254.8 63.0h.01M259.2 67.7h.01M271.0 75.9h.01M266.8 75.7h.01M269.5 75.2h.01M252.6 53.6h.01M264.2 76.1h.01M258.7 76.0h.01M272.4 75.7h.01M269.2 67.9h.01M260.1 56.4h.01M254.3 63.3h.01M257.9 58.8h.01M251.1 70.3h.01M271.8 73.3h.01M261.1 80.0h.01M245.5 59.0h.01M252.8 72.2h.01M253.5 69.2h.01M264.8 67.0h.01M250.8 60.2h.01M257.3 62.7h.01M253.1 59.7h.01M264.0 64.0h.01M263.5 72.6h.01M256.1 73.1h.01M257.5 53.0h.01M251.2 59.6h.01M271.5 70.9h.01M255.7 73.6h.01M257.5 59.2h.01M249.6 57.6h.01M261.3 58.7h.01M254.6 73.9h.01M260.2 71.2h.01M257.5 61.1h.01M246.3 56.9h.01M264.2 67.0h.01M252.0 55.5h.01M256.8 65.3h.01M248.7 54.4h.01M255.3 57.8h.01M254.2 60.4h.01M252.2 61.9h.01M252.2 58.6h.01M256.0 70.0h.01M264.8 77.6h.01M246.0 55.9h.01M250.9 58.8h.01M250.7 63.3h.01M250.3 66.5h.01M249.3 59.3h.01M254.9 66.4h.01M251.0 56.4h.01M271.4 71.0h.01M255.5 73.2h.01M266.7 74.8h.01M257.1 74.3h.01M253.8 68.4h.01M259.1 77.9h.01M253.2 51.4h.01M262.3 77.1h.01M248.7 57.7h.01M273.2 72.3h.01M255.6 74.2h.01M245.4 66.8h.01M258.2 60.7h.01M257.4 64.8h.01M255.6 64.9h.01M265.5 69.1h.01M265.1 76.4h.01M263.5 73.0h.01M254.2 60.6h.01M253.9 72.6h.01M253.4 67.5h.01M254.8 66.6h.01M269.0 74.6h.01M251.3 54.3h.01M254.2 60.6h.01M253.0 60.6h.01M248.0 60.1h.01M260.8 58.6h.01M255.9 70.5h.01M245.2 63.1h.01M256.2 65.0h.01M250.8 54.7h.01M273.0 72.0h.01M258.8 63.3h.01M259.0 75.8h.01M257.9 52.6h.01M265.1 65.3h.01M259.5 59.7h.01M251.6 72.1h.01M259.1 73.4h.01M261.6 58.8h.01M272.6 72.3h.01M272.0 67.5h.01M258.9 67.6h.01M264.9 66.0h.01M247.1 59.4h.01M262.1 69.2h.01M244.8 64.0h.01M246.0 64.6h.01M253.8 55.3h.01M264.1 76.7h.01M267.9 69.7h.01M252.2 57.1h.01M260.5 64.2h.01M262.6 67.9h.01M265.7 78.3h.01M249.1 51.1h.01M252.7 65.0h.01M265.0 75.8h.01M250.8 60.9h.01M250.5 54.1h.01M252.4 68.9h.01M268.1 77.6h.01M263.0 65.8h.01M273.6 74.6h.01M246.2 65.2h.01M266.7 69.7h.01M262.2 58.5h.01M256.8 65.6h.01M251.2 55.2h.01M261.9 66.5h.01M248.7 66.3h.01M252.0 73.6h.01M261.8 57.5h.01M260.3 64.0h.01M259.5 75.3h.01M269.6 74.1h.01M256.5 60.2h.01M247.2 58.7h.01M257.6 63.4h.01M254.7 69.9h.01M259.5 75.0h.01M258.2 74.4h.01M263.2 74.9h.01M269.3 76.5h.01M258.3 67.5h.01M263.7 61.9h.01M262.0 69.2h.01M248.7 54.3h.01M258.0 63.3h.01M252.9 73.7h.01M261.0 65.4h.01M271.8 67.4h.01M270.3 71.2h.01M248.4 54.6h.01M272.1 69.9h.01M258.6 52.8h.01M255.3 56.5h.01M256.8 57.1h.01M258.5 76.1h.01M252.8 51.1h.01M256.6 50.6h.01M249.4 63.1h.01M257.3 69.6h.01M260.9 59.2h.01M259.6 66.1h.01M249.9 65.6h.01M245.9 54.6h.01M260.1 54.2h.01M264.2 64.2h.01M254.3 50.3h.01M254.7 66.9h.01M260.8 54.5h.01M255.8 54.2h.01M247.4 61.6h.01M266.2 72.3h.01M242.2 61.0h.01M265.1 73.0h.01M261.1 68.5h.01M268.8 72.3h.01M259.1 72.5h.01M257.9 51.7h.01M260.6 70.7h.01M264.8 64.7h.01M251.0 55.1h.01M252.7 50.1h.01M269.5 76.1h.01M260.0 61.6h.01M271.3 75.7h.01M255.8 70.7h.01M262.1 59.2h.01M254.8 51.9h.01M257.1 75.4h.01M244.4 61.6h.01M265.4 71.0h.01M262.0 79.8h.01M261.5 68.4h.01M267.6 74.5h.01M265.0 78.5h.01M269.0 75.8h.01M263.1 64.8h.01M259.2 60.5h.01M246.6 55.6h.01M256.0 59.4h.01M249.1 52.5h.01M249.3 59.8h.01M255.5 63.4h.01M270.7 72.3h.01M262.6 59.6h.01M251.2 61.4h.01M263.0 68.3h.01M264.9 72.4h.01M244.1 57.2h.01M247.8 60.2h.01M255.9 70.3h.01M265.4 72.7h.01M259.4 63.5h.01M262.9 73.2h.01M263.1 77.2h.01M252.7 50.1h.01M271.6 67.2h.01M252.9 54.1h.01M252.6 62.2h.01M258.6 68.4h.01M262.1 62.2h.01M251.7 62.5h.01M258.1 58.3h.01M252.4 71.3h.01M266.6 72.2h.01M249.0 61.5h.01M253.6 66.3h.01M268.4 74.6h.01M271.9 74.8h.01M251.2 67.4h.01M258.4 78.1h.01M249.5 57.8h.01M273.0 71.8h.01M267.7 72.1h.01M263.2 71.0h.01M258.9 65.9h.01M263.5 61.2h.01M246.3 64.3h.01M268.2 73.5h.01M249.2 54.5h.01M247.7 61.0h.01M256.4 53.7h.01M249.9 68.8h.01M252.4 68.6h.01M264.1 73.1h.01M262.4 69.8h.01M260.8 67.1h.01M261.5 55.3h.01M249.5 55.1h.01M252.5 50.0h.01M249.6 58.7h.01M254.7 53.1h.01M250.7 66.9h.01M256.4 52.9h.01M261.3 66.5h.01M264.5 72.4h.01M253.6 74.4h.01M268.2 76.0h.01M262.6 69.4h.01M253.2 65.4h.01M271.0 71.1h.01M263.4 79.1h.01M263.0 64.3h.01M244.1 60.0h.01M272.0 72.8h.01M256.0 73.4h.01M253.1 66.4h.01M256.4 62.0h.01M260.0 63.9h.01M266.0 75.5h.01M254.7 72.4h.01M245.9 64.3h.01M252.5 69.5h.01M249.2 62.3h.01M258.9 72.0h.01M260.4 70.3h.01M254.5 52.7h.01M254.3 51.0h.01M255.6 61.1h.01M266.3 72.2h.01M258.2 74.5h.01M247.8 55.8h.01M248.0 57.8h.01M244.3 63.8h.01M254.5 71.0h.01M260.1 77.4h.01M273.3 73.7h.01M260.8 66.5h.01M264.2 66.3h.01M263.4 79.8h.01M251.5 71.2h.01M243.0 60.2h.01M253.5 72.4h.01M256.2 57.8h.01M263.9 71.9h.01M258.6 73.4h.01M253.9 74.2h.01M254.4 70.5h.01M263.8 71.4h.01M252.2 63.9h.01M248.3 52.9h.01M245.6 60.4h.01M251.2 66.6h.01M259.9 53.1h.01M244.8 61.4h.01M259.3 75.7h.01M250.7 60.2h.01M251.4 63.0h.01M253.2 73.9h.01M258.1 56.4h.01M265.0 68.0h.01M256.5 57.4h.01M258.5 70.5h.01M248.1 59.6h.01M267.3 72.4h.01M252.7 54.7h.01M257.7 62.2h.01M251.9 57.9h.01M255.0 62.1h.01M250.0 51.6h.01M265.4 68.9h.01M262.6 76.8h.01M259.7 60.6h.01M254.9 66.8h.01M252.4 60.4h.01M257.4 72.4h.01M258.6 74.8h.01M253.8 62.8h.01M254.6 63.5h.01M247.3 67.0h.01M260.9 64.7h.01M251.8 68.5h.01M260.4 63.0h.01M270.1 70.2h.01M248.7 67.6h.01M261.0 60.7h.01M255.6 53.0h.01M250.0 64.9h.01M251.3 72.3h.01M256.2 53.0h.01M259.3 59.3h.01M260.2 68.3h.01M248.3 55.1h.01M258.9 78.8h.01M264.7 64.8h.01M247.6 57.1h.01M256.4 55.7h.01M259.6 56.5h.01M256.1 65.3h.01M259.4 72.4h.01M257.4 75.8h.01M264.3 74.5h.01M258.3 73.0h.01M252.6 50.3h.01M262.7 73.2h.01M262.5 70.2h.01M270.6 71.1h.01M258.0 65.1h.01M261.7 56.6h.01M257.6 63.3h.01M257.3 54.0h.01M257.6 70.9h.01M249.1 68.8h.01M261.7 79.4h.01M255.8 68.0h.01M248.9 51.7h.01M248.4 59.3h.01M258.7 68.4h.01M246.1 58.2h.01M250.7 54.1h.01M260.1 75.1h.01M248.8 58.7h.01M247.8 64.2h.01M256.1 72.2h.01M267.3 72.0h.01M257.1 68.4h.01M258.7 68.3h.01M252.4 60.1h.01M254.4 69.1h.01M247.2 62.3h.01M253.7 69.4h.01M247.7 55.3h.01M263.9 78.5h.01M248.0 53.6h.01M261.9 70.0h.01M259.5 69.6h.01M266.1 76.1h.01M250.3 69.1h.01M259.1 69.6h.01M271.2 69.1h.01M268.3 70.4h.01M261.1 68.8h.01M243.3 59.0h.01M252.0 67.5h.01M261.6 62.8h.01M262.1 76.9h.01M244.5 64.6h.01M261.4 64.7h.01M248.5 52.1h.01M271.1 73.8h.01M266.8 74.2h.01M271.7 69.1h.01M245.5 67.2h.01M264.3 60.4h.01M250.3 51.7h.01M254.7 58.9h.01M256.3 76.7h.01M251.6 49.7h.01M248.9 51.1h.01M243.8 59.2h.01M248.6 61.1h.01M251.5 66.1h.01M252.1 52.5h.01M261.3 71.1h.01M250.3 67.1h.01M262.3 73.2h.01M255.4 50.6h.01M262.3 77.1h.01M261.6 59.0h.01M269.4 69.2h.01M261.0 59.3h.01M249.5 56.4h.01M271.2 70.4h.01M257.5 62.6h.01M249.6 59.0h.01M249.1 66.0h.01M264.6 64.1h.01M271.9 70.2h.01M253.8 56.1h.01M261.4 71.2h.01M254.8 75.1h.01M253.1 72.9h.01M262.1 72.8h.01M267.7 70.9h.01M250.1 52.0h.01M256.0 58.0h.01M256.5 68.6h.01M250.3 68.5h.01M260.7 65.8h.01M249.8 53.6h.01M261.5 75.3h.01M243.6 63.6h.01M257.4 64.0h.01M266.4 75.4h.01M273.5 75.7h.01M256.8 59.3h.01M266.7 74.9h.01M258.6 66.2h.01M259.8 73.3h.01M247.7 64.2h.01M257.4 52.5h.01M270.8 68.7h.01M256.6 70.8h.01M261.2 62.9h.01M264.4 70.3h.01M273.1 75.8h.01M258.0 56.3h.01M249.3 51.5h.01M245.2 66.3h.01M255.5 52.4h.01M260.3 53.9h.01M257.7 51.2h.01M259.4 72.1h.01M259.4 58.1h.01M257.6 61.9h.01M262.4 72.0h.01M256.8 68.7h.01M247.3 55.1h.01M255.6 73.9h.01M262.5 79.0h.01M253.9 65.4h.01M250.4 65.0h.01M263.5 79.2h.01M248.5 64.6h.01M264.8 68.3h.01M265.0 71.2h.01M245.6 61.7h.01M260.5 78.2h.01M268.5 76.2h.01M256.4 66.2h.01M259.4 76.2h.01M249.1 65.6h.01M266.5 75.9h.01M245.1 59.6h.01M249.2 59.2h.01M247.0 68.1h.01M249.7 60.5h.01M252.6 56.6h.01M256.9 68.3h.01M254.5 50.7h.01M263.3 71.7h.01M260.2 62.6h.01M246.4 65.4h.01M249.5 69.1h.01M246.9 58.0h.01M244.0 61.6h.01M257.1 67.2h.01M271.4 68.3h.01M246.6 59.4h.01M271.8 73.5h.01M258.0 72.5h.01M260.3 55.8h.01M259.8 70.8h.01M246.0 58.3h.01M265.7 77.0h.01M246.2 64.4h.01M261.1 78.1h.01M250.4 56.9h.01M271.3 68.3h.01M255.7 56.6h.01M251.0 65.3h.01M262.5 66.0h.01M262.8 75.6h.01M259.1 55.1h.01M256.3 54.3h.01M269.8 68.6h.01M263.5 74.2h.01M260.6 58.7h.01M249.7 63.8h.01M269.4 72.8h.01M252.1 60.1h.01M252.2 59.3h.01M263.1 58.2h.01M259.2 70.2h.01M252.1 70.0h.01M262.4 65.0h.01M246.6 68.4h.01M253.9 61.2h.01M259.0 55.4h.01M248.6 63.1h.01M250.7 53.8h.01M262.3 64.8h.01M264.8 71.6h.01M247.7 67.8h.01M262.2 60.5h.01M257.8 52.2h.01M249.7 54.0h.01M250.4 55.5h.01M271.6 71.6h.01M264.7 76.4h.01M259.2 59.9h.01M257.4 53.8h.01M247.5 63.6h.01M245.7 65.9h.01M253.8 59.0h.01M263.2 74.4h.01M262.7 65.3h.01M257.7 51.6h.01M263.2 74.4h.01M261.9 71.8h.01M271.9 68.9h.01M260.9 63.5h.01M257.5 73.5h.01M248.8 55.7h.01M255.2 64.5h.01M260.7 72.2h.01M258.1 55.6h.01M249.8 62.7h.01M247.9 55.0h.01M261.2 76.7h.01M264.8 66.7h.01M255.8 62.5h.01M252.5 65.8h.01M250.7 59.0h.01M269.7 74.1h.01M262.5 77.5h.01M256.1 51.6h.01M248.9 62.9h.01M253.2 63.1h.01M257.4 55.7h.01M262.5 76.8h.01M252.1 63.5h.01M252.6 66.8h.01M243.8 62.1h.01M261.6 55.8h.01M270.9 75.6h.01M255.2 53.3h.01M245.9 66.0h.01M255.7 71.1h.01M249.0 58.2h.01M250.3 53.8h.01M249.6 55.9h.01M261.9 68.2h.01M267.9 76.1h.01M264.1 60.3h.01M245.5 56.2h.01M245.3 66.6h.01M250.4 63.0h.01M265.1 70.0h.01M251.6 71.0h.01M260.3 61.0h.01M251.4 52.3h.01M263.6 69.5h.01M262.2 57.7h.01M257.0 76.8h.01M262.8 58.8h.01M260.0 55.5h.01M251.2 50.9h.01M264.6 75.5h.01M251.5 68.7h.01M251.3 64.0h.01M255.2 57.2h.01M244.5 57.5h.01M250.7 59.1h.01M260.7 61.7h.01M259.9 72.7h.01M254.5 54.8h.01M250.0 70.4h.01M246.4 61.6h.01M248.4 55.6h.01M265.3 68.5h.01M269.7 68.4h.01M246.7 60.3h.01M262.8 62.5h.01M247.7 62.7h.01M270.2 71.6h.01M256.3 60.7h.01M255.3 75.2h.01M261.4 55.2h.01M271.3 67.6h.01M243.7 61.2h.01M264.7 74.2h.01M246.9 66.2h.01M273.7 71.7h.01M245.1 64.3h.01M252.4 67.4h.01M269.6 74.9h.01M249.9 57.4h.01M253.1 62.5h.01M254.7 60.9h.01M256.9 74.4h.01M260.8 55.1h.01M264.7 72.7h.01M257.9 57.8h.01M256.5 53.4h.01M272.4 70.5h.01M250.8 62.1h.01M244.1 58.5h.01M260.4 76.5h.01M251.0 53.5h.01M258.5 67.2h.01M257.5 62.4h.01M259.4 75.9h.01M258.9 74.6h.01M254.5 70.2h.01M245.2 65.5h.01M258.0 74.6h.01M252.0 61.6h.01M248.2 61.7h.01M252.0 49.7h.01M246.5 57.3h.01M258.4 62.2h.01M247.9 54.1h.01M253.0 63.0h.01M261.1 60.3h.01M252.5 53.5h.01M251.0 55.4h.01M260.9 80.0h.01M247.6 52.8h.01M256.2 68.3h.01M254.5 51.8h.01M252.0 53.1h.01M244.4 58.2h.01M256.0 55.8h.01M251.8 62.1h.01M271.9 71.3h.01M264.8 73.6h.01M258.9 70.0h.01M248.8 70.0h.01M252.6 62.5h.01M243.6 63.9h.01M256.5 70.6h.01M252.9 61.6h.01M247.8 60.2h.01M261.1 62.4h.01M255.2 69.5h.01M261.0 57.7h.01M247.0 65.2h.01M270.8 73.5h.01M264.8 67.1h.01M257.7 65.0h.01M257.1 52.0h.01M257.0 72.6h.01M268.7 74.8h.01M253.4 50.5h.01M255.9 50.9h.01M268.9 73.2h.01M258.9 52.7h.01M264.9 65.7h.01M254.9 59.9h.01M258.6 71.3h.01M270.1 75.8h.01M260.9 59.5h.01M258.4 60.6h.01M250.9 70.0h.01M256.8 73.1h.01M265.5 73.7h.01M253.2 70.0h.01M267.0 78.1h.01M248.6 52.6h.01M259.5 78.8h.01M260.8 67.0h.01M265.5 73.3h.01M248.2 68.2h.01M251.4 63.7h.01M247.5 66.8h.01M253.8 58.9h.01M249.5 67.9h.01M259.5 75.6h.01M256.4 63.2h.01M262.3 64.3h.01M255.2 73.7h.01M271.1 66.6h.01M265.1 71.7h.01M261.2 54.4h.01M265.8 74.8h.01M259.7 76.9h.01M268.3 76.1h.01M259.9 59.7h.01M249.6 58.3h.01M250.7 61.1h.01M259.5 64.4h.01M260.7 71.5h.01M251.9 60.5h.01M267.4 71.2h.01M255.9 53.4h.01M263.3 75.7h.01M260.9 60.5h.01M250.3 67.9h.01M270.3 70.0h.01M262.2 64.1h.01M253.5 74.3h.01M244.4 63.2h.01M261.1 61.9h.01M242.9 62.7h.01M254.4 71.8h.01M262.9 78.7h.01M260.1 70.0h.01M259.9 72.5h.01M249.4 65.8h.01M252.5 65.9h.01M247.8 54.6h.01M247.1 57.2h.01M252.5 66.6h.01M249.7 59.2h.01M265.3 72.1h.01M257.0 54.8h.01M256.2 59.1h.01M251.6 71.8h.01M259.3 68.5h.01M261.7 76.3h.01M262.9 60.2h.01M260.3 69.0h.01M260.6 73.3h.01M262.1 78.9h.01M248.9 64.7h.01M249.5 58.7h.01M247.7 54.1h.01M263.4 57.7h.01M263.6 68.4h.01M256.9 64.6h.01M264.3 62.0h.01M262.3 64.2h.01M252.7 64.3h.01M260.9 60.5h.01M260.7 69.7h.01M254.3 74.0h.01M254.6 63.7h.01M247.1 59.9h.01M252.0 55.1h.01M253.7 61.2h.01M257.6 71.4h.01M255.5 69.2h.01M262.5 65.9h.01" stroke="#E6E4EC" stroke-width="0.66" stroke-linecap="round" fill="none" opacity="0.78"/>
<path d="M254.0 73.3h.01M253.1 54.4h.01M259.7 53.5h.01M244.0 64.2h.01M250.6 50.7h.01M260.2 78.4h.01M263.8 64.6h.01M273.4 74.1h.01M259.2 78.7h.01M255.1 62.2h.01M246.7 56.7h.01M264.0 76.0h.01M249.1 53.7h.01M260.1 79.3h.01M257.9 59.0h.01M259.3 69.2h.01M260.5 71.8h.01M251.2 67.6h.01M254.0 60.2h.01M270.8 68.4h.01M260.5 71.3h.01M248.3 55.1h.01M262.8 79.8h.01M244.4 62.6h.01M255.5 54.2h.01M242.1 61.8h.01M259.5 55.5h.01" stroke="#DAD5EC" stroke-width="0.66" stroke-linecap="round" fill="none" opacity="0.78"/>
<path d="M239.0 57.7h.01" stroke="#CFCBE2" stroke-width="0.9" stroke-linecap="round" fill="none" opacity="0.95"/>
<text x="237.0" y="86.8" font-family='"Liberation Serif", serif' font-size="5.7" font-weight="bold" fill="#000" text-anchor="start" stroke="#000" stroke-width="0.3">CYP27A1</text>
<defs><linearGradient id="ge" x1="0" y1="0" x2="0" y2="1"><stop offset="0" stop-color="#2E22E6"/><stop offset="0.5" stop-color="#8F86EE"/><stop offset="1" stop-color="#E3E0F6"/></linearGradient></defs>
<rect x="288" y="36.3" width="4.2" height="19.5" fill="url(#ge)"/>
<text x="293.6" y="39.8" font-family='"Liberation Sans", sans-serif' font-size="4.6" font-weight="normal" fill="#222" text-anchor="start" stroke="#222" stroke-width="0.2">High</text>
<text x="293.6" y="55.9" font-family='"Liberation Sans", sans-serif' font-size="4.6" font-weight="normal" fill="#222" text-anchor="start" stroke="#222" stroke-width="0.2">Low</text>
<text x="286.0" y="45.2" font-family='"Liberation Sans", sans-serif' font-size="5.2" font-weight="normal" fill="#222" text-anchor="middle" transform="rotate(-90 286.0 45.2)" stroke="#222" stroke-width="0.2">Gene expression</text>
<text x="298.1" y="7.4" font-family='"Liberation Sans", sans-serif' font-size="8.2" font-weight="bold" fill="#000" text-anchor="start" stroke="#000" stroke-width="0.3">C</text>
<text x="310.1" y="43.2" font-family='"Liberation Serif", serif' font-size="4.8" font-weight="bold" fill="#000" text-anchor="middle" transform="rotate(-90 310.1 43.2)" stroke="#000" stroke-width="0.3">Proportion of Cells per cluster(%)</text>
<path d="M323.6 0V77.7H373.2" stroke="#222" stroke-width="0.75" fill="none"/>
<path d="M321.3 74.4H324.40000000000003" stroke="#222" stroke-width="0.6"/>
<text x="319.8" y="77.10000000000001" font-family='"Liberation Serif", serif' font-size="5.9" font-weight="normal" fill="#000" text-anchor="end" stroke="#000" stroke-width="0.22">0</text>
<path d="M321.3 57.22500000000001H324.40000000000003" stroke="#222" stroke-width="0.6"/>
<text x="319.8" y="59.92500000000001" font-family='"Liberation Serif", serif' font-size="5.9" font-weight="normal" fill="#000" text-anchor="end" stroke="#000" stroke-width="0.22">25</text>
<path d="M321.3 40.050000000000004H324.40000000000003" stroke="#222" stroke-width="0.6"/>
<text x="319.8" y="42.75000000000001" font-family='"Liberation Serif", serif' font-size="5.9" font-weight="normal" fill="#000" text-anchor="end" stroke="#000" stroke-width="0.22">50</text>
<path d="M321.3 22.875000000000007H324.40000000000003" stroke="#222" stroke-width="0.6"/>
<text x="319.8" y="25.575000000000006" font-family='"Liberation Serif", serif' font-size="5.9" font-weight="normal" fill="#000" text-anchor="end" stroke="#000" stroke-width="0.22">75</text>
<path d="M321.3 5.700000000000003H324.40000000000003" stroke="#222" stroke-width="0.6"/>
<text x="319.8" y="8.400000000000002" font-family='"Liberation Serif", serif' font-size="5.9" font-weight="normal" fill="#000" text-anchor="end" stroke="#000" stroke-width="0.22">100</text>
<rect x="326.1" y="5.5" width="10.10" height="49.05" fill="#F8766D"/>
<rect x="326.1" y="54.5" width="10.10" height="13.05" fill="#1DB93C"/>
<rect x="326.1" y="67.5" width="10.10" height="7.25" fill="#619CFF"/>
<rect x="338.3" y="5.5" width="9.70" height="58.55" fill="#F8766D"/>
<rect x="338.3" y="64.0" width="9.70" height="10.05" fill="#1DB93C"/>
<rect x="338.3" y="74.0" width="9.70" height="0.75" fill="#619CFF"/>
<rect x="350.0" y="5.5" width="9.80" height="60.85" fill="#F8766D"/>
<rect x="350.0" y="66.3" width="9.80" height="8.25" fill="#1DB93C"/>
<rect x="350.0" y="74.5" width="9.80" height="0.25" fill="#619CFF"/>
<rect x="361.3" y="5.5" width="9.90" height="54.85" fill="#F8766D"/>
<rect x="361.3" y="60.3" width="9.90" height="13.85" fill="#1DB93C"/>
<rect x="361.3" y="74.1" width="9.90" height="0.65" fill="#619CFF"/>
<text x="334.25" y="81.2" font-family='"Liberation Serif", serif' font-size="5.2" font-weight="bold" fill="#000" text-anchor="end" transform="rotate(-48 334.25 81.2)" stroke="#000" stroke-width="0.3">F-Nby</text>
<text x="346.25" y="81.2" font-family='"Liberation Serif", serif' font-size="5.2" font-weight="bold" fill="#000" text-anchor="end" transform="rotate(-48 346.25 81.2)" stroke="#000" stroke-width="0.3">F-Exp</text>
<text x="358.0" y="81.2" font-family='"Liberation Serif", serif' font-size="5.2" font-weight="bold" fill="#000" text-anchor="end" transform="rotate(-48 358.0 81.2)" stroke="#000" stroke-width="0.3">N-Nby</text>
<text x="369.35" y="81.2" font-family='"Liberation Serif", serif' font-size="5.2" font-weight="bold" fill="#000" text-anchor="end" transform="rotate(-48 369.35 81.2)" stroke="#000" stroke-width="0.3">N-Exp</text>
<text x="377.4" y="26.0" font-family='"Liberation Serif", serif' font-size="5.2" font-weight="bold" fill="#000" text-anchor="start" stroke="#000" stroke-width="0.3">Cluster</text>
<circle cx="378.3" cy="33.00" r="2.0" fill="#F8766D"/>
<text x="383.9" y="34.6" font-family='"Liberation Serif", serif' font-size="4.7" font-weight="bold" fill="#000" text-anchor="start" stroke="#000" stroke-width="0.3">PC1</text>
<circle cx="378.3" cy="41.30" r="2.0" fill="#1DB93C"/>
<text x="383.9" y="42.9" font-family='"Liberation Serif", serif' font-size="4.7" font-weight="bold" fill="#000" text-anchor="start" stroke="#000" stroke-width="0.3">PC2</text>
<circle cx="378.3" cy="49.60" r="2.0" fill="#619CFF"/>
<text x="383.9" y="51.2" font-family='"Liberation Serif", serif' font-size="4.7" font-weight="bold" fill="#000" text-anchor="start" stroke="#000" stroke-width="0.3">PC3</text>
<text x="0.6" y="101.8" font-family='"Liberation Sans", sans-serif' font-size="8.2" font-weight="bold" fill="#000" text-anchor="start" stroke="#000" stroke-width="0.3">D</text>
<text x="36.2" y="103.0" font-family='"Liberation Sans", sans-serif' font-size="4.95" font-weight="normal" fill="#111" text-anchor="middle" stroke="#111" stroke-width="0.2">PC1</text>
<text x="62.4" y="103.0" font-family='"Liberation Sans", sans-serif' font-size="4.95" font-weight="normal" fill="#111" text-anchor="middle" stroke="#111" stroke-width="0.2">PC2</text>
<text x="73.4" y="103.0" font-family='"Liberation Sans", sans-serif' font-size="4.95" font-weight="normal" fill="#111" text-anchor="middle" stroke="#111" stroke-width="0.2">PC3</text>
<defs><linearGradient id="hmA" x1="0" y1="0" x2="1" y2="0"><stop offset="0" stop-color="#DAB6DA"/><stop offset="0.4" stop-color="#E2B6D4"/><stop offset="0.55" stop-color="#F0B4C2"/><stop offset="1" stop-color="#F2B0BC"/></linearGradient><linearGradient id="hmB" x1="0" y1="0" x2="1" y2="0"><stop offset="0" stop-color="#DDB8DA"/><stop offset="0.4" stop-color="#E3B4D2"/><stop offset="0.56" stop-color="#F0A8B8"/><stop offset="1" stop-color="#F2A2B0"/></linearGradient><linearGradient id="hmC" x1="0" y1="0" x2="1" y2="0"><stop offset="0" stop-color="#F0949E"/><stop offset="0.35" stop-color="#EE9AAA"/><stop offset="0.6" stop-color="#E4AACC"/><stop offset="1" stop-color="#DEAED4"/></linearGradient><linearGradient id="leg" x1="0" y1="0" x2="0" y2="1"><stop offset="0" stop-color="#E8392D"/><stop offset="0.5" stop-color="#FBF3F3"/><stop offset="1" stop-color="#2A2386"/></linearGradient></defs>
<rect x="12.5" y="103.8" width="47.1" height="2.4" fill="#F26A62"/>
<rect x="59.6" y="103.8" width="8.699999999999996" height="2.4" fill="#3FBF5F"/>
<rect x="68.3" y="103.8" width="2.9000000000000057" height="2.4" fill="#7FA6EE"/>
<rect x="12.5" y="106.0" width="47.1" height="6.799999999999997" fill="url(#hmA)"/>
<rect x="12.5" y="112.8" width="47.1" height="2.4" fill="#F2A6B0"/>
<rect x="12.5" y="115.2" width="47.1" height="3.3" fill="#DEC8DE"/>
<rect x="12.5" y="118.5" width="47.1" height="21.80000000000001" fill="url(#hmB)"/>
<rect x="12.5" y="140.3" width="47.1" height="2.7" fill="#F7E2E9"/>
<rect x="12.5" y="143.0" width="47.1" height="27.19999999999999" fill="url(#hmC)"/>
<rect x="59.6" y="106.0" width="8.699999999999996" height="6.799999999999997" fill="#C9B5DC"/>
<rect x="59.6" y="112.8" width="8.699999999999996" height="27.000000000000014" fill="#F09A9A"/>
<rect x="59.6" y="139.8" width="8.699999999999996" height="30.399999999999977" fill="#DCBEDC"/>
<rect x="62.0" y="139.8" width="3.2" height="30.399999999999977" fill="#F0A8A4" opacity="0.85"/>
<rect x="68.3" y="106.0" width="2.9000000000000057" height="64.19999999999999" fill="#C0AAD8"/>
<path d="M19.9 106.0V170.2M21.0 106.0V170.2M22.6 106.0V170.2M24.7 106.0V170.2M26.1 106.0V170.2M27.3 106.0V170.2M28.5 106.0V170.2M35.5 106.0V170.2M36.4 106.0V170.2M37.0 106.0V170.2M39.2 106.0V170.2M42.7 106.0V170.2M44.3 106.0V170.2M47.6 106.0V170.2M51.4 106.0V170.2M55.6 106.0V170.2M58.8 106.0V170.2M59.6 106.0V170.2M60.2 106.0V170.2M62.1 106.0V170.2M64.7 106.0V170.2M69.3 106.0V170.2" stroke="#fff" stroke-width="0.5" opacity="0.2"/>
<path d="M13.7 106.0V170.2M16.9 106.0V170.2M18.4 106.0V170.2M22.0 106.0V170.2M32.0 106.0V170.2M37.9 106.0V170.2M38.4 106.0V170.2M40.6 106.0V170.2M41.5 106.0V170.2M47.1 106.0V170.2M53.1 106.0V170.2M63.7 106.0V170.2M66.8 106.0V170.2M67.9 106.0V170.2" stroke="#D86A78" stroke-width="0.5" opacity="0.16"/>
<path d="M15.1 106.0V170.2M16.4 106.0V170.2M23.4 106.0V170.2M27.8 106.0V170.2M30.1 106.0V170.2M30.9 106.0V170.2M32.7 106.0V170.2M34.0 106.0V170.2M45.6 106.0V170.2M46.2 106.0V170.2M48.3 106.0V170.2M49.0 106.0V170.2M50.5 106.0V170.2M52.5 106.0V170.2M54.5 106.0V170.2M55.0 106.0V170.2M56.8 106.0V170.2M57.7 106.0V170.2M61.4 106.0V170.2M65.8 106.0V170.2M67.4 106.0V170.2M70.6 106.0V170.2M71.8 106.0V170.2" stroke="#9A86D0" stroke-width="0.5" opacity="0.14"/>
<path d="M12.5 107.0H71.2M12.5 108.5H71.2M12.5 109.5H71.2M12.5 111.7H71.2M12.5 112.9H71.2M12.5 114.5H71.2M12.5 116.9H71.2M12.5 119.0H71.2M12.5 121.4H71.2M12.5 122.9H71.2M12.5 124.5H71.2M12.5 126.5H71.2M12.5 128.0H71.2M12.5 129.3H71.2M12.5 130.7H71.2M12.5 131.8H71.2M12.5 133.2H71.2M12.5 135.5H71.2M12.5 137.9H71.2M12.5 139.7H71.2M12.5 141.3H71.2M12.5 142.6H71.2M12.5 143.6H71.2M12.5 144.8H71.2M12.5 146.9H71.2M12.5 149.0H71.2M12.5 150.4H71.2M12.5 152.5H71.2M12.5 154.5H71.2M12.5 156.4H71.2M12.5 158.3H71.2M12.5 160.3H71.2M12.5 161.7H71.2M12.5 163.6H71.2M12.5 164.9H71.2M12.5 166.4H71.2M12.5 168.5H71.2M12.5 170.4H71.2" stroke="#fff" stroke-width="0.4" opacity="0.18"/>
<rect x="12.7" y="106.1" width="46.9" height="6.6999999999999975" fill="none" stroke="#B8141E" stroke-width="0.9"/>
<rect x="60.1" y="105.8" width="8.199999999999996" height="34.000000000000014" fill="none" stroke="#2CA24A" stroke-width="0.65"/>
<path d="M59.2 113.39999999999999V143" stroke="#3CAE5A" stroke-width="0.6" opacity="0.75"/>
<path d="M68.7 139.8V170.0H71.4" fill="none" stroke="#6E6690" stroke-width="0.6"/>
<path d="M71.3 139.8V170.2" fill="none" stroke="#9CA8E0" stroke-width="0.5"/>
<rect x="3.8" y="126.2" width="5.4" height="24.6" fill="url(#leg)"/>
<text x="10.0" y="128.2" font-family='"Liberation Sans", sans-serif' font-size="2.6" font-weight="normal" fill="#444" text-anchor="start" stroke="#444" stroke-width="0.12">2</text>
<text x="10.0" y="133.79999999999998" font-family='"Liberation Sans", sans-serif' font-size="2.6" font-weight="normal" fill="#444" text-anchor="start" stroke="#444" stroke-width="0.12">1</text>
<text x="10.0" y="139.39999999999998" font-family='"Liberation Sans", sans-serif' font-size="2.6" font-weight="normal" fill="#444" text-anchor="start" stroke="#444" stroke-width="0.12">0</text>
<text x="10.0" y="145.0" font-family='"Liberation Sans", sans-serif' font-size="2.6" font-weight="normal" fill="#444" text-anchor="start" stroke="#444" stroke-width="0.12">-1</text>
<text x="10.0" y="150.6" font-family='"Liberation Sans", sans-serif' font-size="2.6" font-weight="normal" fill="#444" text-anchor="start" stroke="#444" stroke-width="0.12">-2</text>
<text x="72.5" y="107.7" font-family='"Liberation Sans", sans-serif' font-size="4.2" font-weight="normal" fill="#E6241B" text-anchor="start" stroke="#E6241B" stroke-width="0.16">KRT1</text>
<text x="72.5" y="114.2" font-family='"Liberation Sans", sans-serif' font-size="4.2" font-weight="normal" fill="#E6241B" text-anchor="start" stroke="#E6241B" stroke-width="0.16">DMKN</text>
<text x="72.5" y="120.5" font-family='"Liberation Sans", sans-serif' font-size="4.2" font-weight="normal" fill="#E6241B" text-anchor="start" stroke="#E6241B" stroke-width="0.16">KRT10</text>
<text x="72.5" y="129.0" font-family='"Liberation Sans", sans-serif' font-size="4.2" font-weight="normal" fill="#2BA44A" text-anchor="start" stroke="#2BA44A" stroke-width="0.16">KRT15</text>
<text x="72.5" y="134.9" font-family='"Liberation Sans", sans-serif' font-size="4.2" font-weight="normal" fill="#2BA44A" text-anchor="start" stroke="#2BA44A" stroke-width="0.16">COL17A1</text>
<text x="72.5" y="142.0" font-family='"Liberation Sans", sans-serif' font-size="4.2" font-weight="normal" fill="#2BA44A" text-anchor="start" stroke="#2BA44A" stroke-width="0.16">IGFBP3</text>
<text x="72.5" y="148.2" font-family='"Liberation Sans", sans-serif' font-size="4.2" font-weight="normal" fill="#2BA44A" text-anchor="start" stroke="#2BA44A" stroke-width="0.16">KRT14</text>
<text x="72.5" y="156.8" font-family='"Liberation Sans", sans-serif' font-size="4.2" font-weight="normal" fill="#7C93DC" text-anchor="start" stroke="#7C93DC" stroke-width="0.16">CALML3</text>
<text x="72.5" y="162.6" font-family='"Liberation Sans", sans-serif' font-size="4.2" font-weight="normal" fill="#7C93DC" text-anchor="start" stroke="#7C93DC" stroke-width="0.16">PTN</text>
<text x="72.5" y="168.9" font-family='"Liberation Sans", sans-serif' font-size="4.2" font-weight="normal" fill="#7C93DC" text-anchor="start" stroke="#7C93DC" stroke-width="0.16">CYP27A1</text>
<text x="129.4" y="107.7" font-family='"Liberation Sans", sans-serif' font-size="4.25" font-weight="normal" fill="#E6241B" text-anchor="middle" stroke="#E6241B" stroke-width="0.16">Epidermis Development</text>
<text x="129.2" y="114.2" font-family='"Liberation Sans", sans-serif' font-size="4.25" font-weight="normal" fill="#E6241B" text-anchor="middle" stroke="#E6241B" stroke-width="0.16">Acute Inflammatory Response</text>
<text x="129.2" y="120.5" font-family='"Liberation Sans", sans-serif' font-size="4.25" font-weight="normal" fill="#E6241B" text-anchor="middle" stroke="#E6241B" stroke-width="0.16">Adherens Junction Organization</text>
<text x="130.2" y="129.0" font-family='"Liberation Sans", sans-serif' font-size="4.25" font-weight="normal" fill="#2BA44A" text-anchor="middle" stroke="#2BA44A" stroke-width="0.16">Negative Regulation of Apoptotic Process</text>
<text x="130.2" y="134.9" font-family='"Liberation Sans", sans-serif' font-size="4.25" font-weight="normal" fill="#2BA44A" text-anchor="middle" stroke="#2BA44A" stroke-width="0.16">Extracellular Matrix Organization</text>
<text x="130.1" y="142.0" font-family='"Liberation Sans", sans-serif' font-size="4.25" font-weight="normal" fill="#2BA44A" text-anchor="middle" stroke="#2BA44A" stroke-width="0.16">Negative Regulation of Cell Proliferation</text>
<text x="129.7" y="148.2" font-family='"Liberation Sans", sans-serif' font-size="4.25" font-weight="normal" fill="#2BA44A" text-anchor="middle" stroke="#2BA44A" stroke-width="0.16">Hemidesmosome Assembly</text>
<text x="128.8" y="156.8" font-family='"Liberation Sans", sans-serif' font-size="4.25" font-weight="normal" fill="#5F80D8" text-anchor="middle" font-style="italic" stroke="#5F80D8" stroke-width="0.16">Epithelial cell differentiation</text>
<text x="129.8" y="162.6" font-family='"Liberation Sans", sans-serif' font-size="4.25" font-weight="normal" fill="#5F80D8" text-anchor="middle" font-style="italic" stroke="#5F80D8" stroke-width="0.16">Response to cytokine</text>
<text x="133.7" y="168.9" font-family='"Liberation Sans", sans-serif' font-size="4.25" font-weight="normal" fill="#5F80D8" text-anchor="middle" font-style="italic" stroke="#5F80D8" stroke-width="0.16">Aerobic respiration/ ATP metabolic process</text>
<text x="0.6" y="181.6" font-family='"Liberation Sans", sans-serif' font-size="8.2" font-weight="bold" fill="#000" text-anchor="start" stroke="#000" stroke-width="0.3">E</text>
<path d="M51.8 178.0V232.2M104.3 178.0V232.2M53.8 232.2V293.4M108.3 232.2V293.4M25.5 197.2H127M25.5 255.4H130" stroke="#d6d6d6" stroke-width="0.5" fill="none"/>
<path d="M79.3 177.0V293.4M25.5 232.2H126" stroke="#444" stroke-width="0.6" fill="none"/>
<path d="M25.5 293.79999999999995V180" stroke="#222" stroke-width="0.8" fill="none"/>
<path d="M24.2 181.2L25.5 178.6L26.8 181.2Z" fill="#222"/>
<path d="M25.1 293.4H130.6" stroke="#222" stroke-width="0.8" fill="none"/>
<path d="M130.0 292.2L132.2 293.4L130.0 294.59999999999997Z" fill="#222"/>
<text x="22.2" y="199.6" font-family='"Liberation Sans", sans-serif' font-size="4.6" font-weight="bold" fill="#222" text-anchor="middle" stroke="#222" stroke-width="0.3">4</text>
<text x="22.2" y="257.4" font-family='"Liberation Sans", sans-serif' font-size="4.6" font-weight="bold" fill="#222" text-anchor="middle" stroke="#222" stroke-width="0.3">4</text>
<text x="54.4" y="299.8" font-family='"Liberation Sans", sans-serif' font-size="4.6" font-weight="bold" fill="#222" text-anchor="middle" stroke="#222" stroke-width="0.3">3.6</text>
<text x="108.8" y="299.8" font-family='"Liberation Sans", sans-serif' font-size="4.6" font-weight="bold" fill="#222" text-anchor="middle" stroke="#222" stroke-width="0.3">3.6</text>
<text x="126.5" y="301.3" font-family='"Liberation Sans", sans-serif' font-size="4.9" font-weight="bold" fill="#222" text-anchor="middle" stroke="#222" stroke-width="0.3">KRT14</text>
<text x="21.4" y="182.0" font-family='"Liberation Sans", sans-serif' font-size="4.9" font-weight="bold" fill="#222" text-anchor="middle" transform="rotate(-90 21.4 182.0)" stroke="#222" stroke-width="0.3">KRT10</text>
<path d="M68.7 197.9h.01M59.5 184.9h.01M66.3 200.4h.01M66.6 183.3h.01M59.6 189.9h.01M69.8 190.1h.01M62.0 188.8h.01M65.2 185.8h.01M64.2 191.8h.01M73.8 189.8h.01M69.9 184.1h.01M69.2 191.1h.01M61.0 190.0h.01M69.5 188.3h.01M70.2 199.1h.01M73.7 199.7h.01M56.7 192.2h.01M60.2 195.8h.01M64.6 191.5h.01M66.9 186.7h.01M64.8 186.0h.01M76.5 187.5h.01M64.3 179.8h.01M55.5 185.3h.01M68.9 194.7h.01M65.9 186.4h.01M75.1 184.2h.01M59.2 193.1h.01M58.4 191.8h.01M69.9 189.8h.01M66.6 190.4h.01M57.0 190.2h.01M54.5 186.9h.01M65.4 198.1h.01M56.1 187.1h.01M65.5 193.3h.01M56.1 201.2h.01M59.4 196.6h.01M63.0 192.6h.01M74.1 194.4h.01M65.0 184.3h.01M60.3 181.8h.01M76.2 181.0h.01M49.0 200.0h.01M71.8 188.1h.01M69.2 185.3h.01M60.8 193.2h.01M66.5 187.5h.01M73.8 194.6h.01M65.0 183.2h.01M65.0 188.3h.01M63.8 195.0h.01M60.8 191.8h.01M68.9 192.3h.01M77.8 179.8h.01M63.8 183.2h.01M63.8 205.2h.01M54.4 188.4h.01M68.1 190.7h.01M69.6 180.9h.01M70.0 184.5h.01M56.9 193.5h.01M67.0 185.8h.01M59.3 189.0h.01M64.1 189.1h.01M72.0 191.2h.01M56.7 180.8h.01M60.0 187.7h.01M51.4 198.5h.01M66.7 188.2h.01M66.2 191.5h.01M70.4 191.0h.01M71.6 199.3h.01M62.3 187.4h.01M61.7 211.3h.01M62.5 213.2h.01M67.6 217.4h.01M60.3 221.7h.01M64.5 212.2h.01M63.5 197.2h.01M67.3 199.0h.01M71.6 213.4h.01M73.8 218.3h.01M69.6 224.2h.01M65.9 225.4h.01M65.4 215.2h.01M62.7 217.4h.01M69.4 209.1h.01M59.7 212.8h.01M68.2 211.8h.01M61.2 207.3h.01M64.7 192.2h.01M63.1 224.5h.01M59.7 211.3h.01M74.5 218.7h.01M70.6 211.9h.01M67.6 215.0h.01M74.2 219.5h.01M66.3 204.3h.01M65.3 211.9h.01M62.7 206.2h.01M61.1 212.1h.01M63.1 216.3h.01M71.1 215.6h.01M66.1 225.5h.01M69.3 201.3h.01M62.5 214.6h.01M61.7 219.1h.01M57.3 197.9h.01M70.9 217.7h.01M58.1 213.6h.01M72.7 204.2h.01M60.1 203.4h.01M61.1 199.2h.01M63.6 201.5h.01M66.3 230.8h.01M60.8 220.3h.01M71.8 194.6h.01M66.6 212.9h.01M64.3 219.4h.01M63.8 215.8h.01M64.1 211.9h.01M62.1 231.1h.01M65.7 204.1h.01M75.7 225.6h.01M65.0 207.8h.01M62.3 222.9h.01M64.4 207.3h.01M70.2 210.9h.01M65.7 228.5h.01M70.3 222.9h.01M68.1 223.3h.01M65.2 220.7h.01M71.2 209.7h.01M59.6 217.3h.01M65.4 217.9h.01M63.0 217.2h.01M74.9 216.1h.01M73.2 208.0h.01M71.9 214.1h.01M72.6 215.7h.01M64.9 207.4h.01M72.3 213.5h.01M69.6 216.8h.01M55.8 217.8h.01M64.2 216.1h.01M68.4 198.6h.01M64.4 212.5h.01M67.9 220.5h.01M62.6 211.2h.01M69.1 198.4h.01M75.2 205.5h.01M72.6 214.2h.01M75.4 221.3h.01M65.8 199.5h.01M66.7 215.6h.01M68.7 203.0h.01M61.9 206.8h.01M67.4 206.1h.01M65.4 220.4h.01M63.9 223.7h.01M67.5 211.0h.01M71.5 216.9h.01M64.6 208.3h.01M65.8 215.8h.01M71.7 215.2h.01M62.9 202.4h.01M67.3 216.1h.01M71.6 208.8h.01M59.6 219.7h.01M65.2 203.3h.01M74.3 220.1h.01M66.3 215.2h.01M62.3 220.9h.01M63.9 209.4h.01M64.5 204.0h.01M71.1 226.3h.01M69.8 196.7h.01M64.5 207.9h.01M67.9 196.0h.01M55.3 209.4h.01M70.9 211.5h.01M77.0 206.3h.01M66.2 211.8h.01M61.9 221.8h.01M59.4 204.6h.01M64.2 209.2h.01M71.6 208.8h.01M68.5 209.3h.01M72.4 212.9h.01M67.3 200.0h.01M69.5 207.9h.01M70.4 217.1h.01M68.7 222.0h.01M67.9 206.0h.01M66.8 214.4h.01M60.2 217.9h.01M73.3 214.9h.01M66.6 216.7h.01M71.5 208.7h.01M70.7 207.1h.01M68.7 217.1h.01M32.4 193.3h.01M41.3 181.7h.01M37.3 186.9h.01M34.7 192.1h.01M35.3 190.3h.01M33.5 188.7h.01M50.9 192.1h.01M30.7 185.3h.01M39.2 181.9h.01M45.8 189.8h.01M39.6 210.3h.01M35.9 203.2h.01M41.4 214.1h.01M38.9 199.1h.01M38.0 210.2h.01" stroke="#F0827C" stroke-width="0.68" stroke-linecap="round" fill="none" opacity="0.85"/>
<path d="M108.3 198.2h.01M109.3 190.0h.01M109.5 195.4h.01M108.5 184.7h.01M122.6 182.5h.01M112.8 193.2h.01M118.1 179.6h.01M119.6 188.3h.01M123.3 179.7h.01M120.6 192.4h.01M113.7 187.5h.01M118.3 185.9h.01M113.9 185.4h.01M116.8 194.0h.01M106.5 190.1h.01M117.8 199.0h.01M111.6 197.5h.01M113.3 192.9h.01M117.3 191.6h.01M113.9 184.1h.01M124.8 198.6h.01M115.3 189.0h.01M114.7 182.0h.01M109.4 192.4h.01M121.6 188.6h.01M110.4 183.6h.01M112.3 194.1h.01M116.3 181.5h.01M109.1 191.9h.01M117.8 200.4h.01M124.5 191.1h.01M111.9 191.2h.01M109.2 185.9h.01M122.0 193.6h.01M121.5 199.3h.01M113.5 194.7h.01M116.4 191.8h.01M117.3 193.2h.01M107.7 181.8h.01M116.5 192.9h.01M113.1 189.4h.01M107.6 195.7h.01M118.7 198.9h.01M113.5 189.4h.01M116.4 198.1h.01M119.3 192.3h.01M106.2 184.9h.01M107.2 188.9h.01M121.1 190.3h.01M110.5 202.1h.01M109.4 198.2h.01M122.9 191.5h.01M124.0 183.5h.01M112.7 188.2h.01M118.2 188.9h.01M126.1 187.7h.01M114.6 182.8h.01M118.8 194.7h.01M111.5 182.5h.01M107.7 196.9h.01M121.9 214.2h.01M121.7 215.8h.01M120.2 199.1h.01M120.5 217.5h.01M123.6 219.6h.01M114.6 214.0h.01M111.0 223.4h.01M111.2 217.6h.01M114.1 205.5h.01M113.5 209.4h.01M119.9 220.9h.01M116.5 218.7h.01M122.3 228.3h.01M115.0 214.4h.01M121.4 213.1h.01M121.1 206.7h.01M116.2 207.0h.01M114.8 204.9h.01M117.5 202.2h.01M115.1 216.6h.01M110.2 203.6h.01M115.9 203.5h.01M113.0 226.8h.01M119.6 208.3h.01M114.3 199.6h.01M112.2 193.5h.01M120.7 207.9h.01M122.5 211.9h.01M108.0 227.0h.01M120.5 219.0h.01M115.2 207.5h.01M117.1 226.1h.01M111.7 203.4h.01M120.5 196.3h.01M125.3 202.8h.01M123.8 210.7h.01M116.2 202.8h.01M125.2 209.8h.01M111.3 217.0h.01M117.3 216.0h.01M116.0 214.8h.01M120.2 212.1h.01M109.9 215.8h.01M124.8 215.4h.01M122.6 218.2h.01M116.5 220.3h.01M116.8 204.0h.01M111.7 220.1h.01M121.5 216.9h.01M115.2 197.5h.01M121.8 211.2h.01M114.9 207.1h.01M115.1 197.2h.01M121.0 217.5h.01M122.3 209.1h.01M111.8 201.1h.01M116.4 225.8h.01M122.6 212.2h.01M120.3 218.4h.01M118.3 213.8h.01M119.0 207.3h.01M112.3 207.5h.01M123.7 199.4h.01M115.8 208.6h.01M118.2 208.4h.01M121.9 209.0h.01M117.9 217.6h.01M111.0 220.6h.01M123.1 201.5h.01M117.5 206.1h.01M116.2 218.1h.01M108.7 218.6h.01M120.1 211.9h.01M128.9 208.0h.01M110.5 215.0h.01M118.7 207.0h.01M107.4 196.9h.01M126.0 200.0h.01M124.8 218.4h.01M107.1 213.5h.01M121.1 220.7h.01M124.6 221.9h.01M117.8 210.0h.01M117.0 216.1h.01M113.4 203.5h.01M129.3 219.5h.01M123.3 210.1h.01M87.9 185.9h.01M88.2 184.9h.01M83.7 191.0h.01M95.0 191.9h.01M93.4 184.4h.01M105.0 192.6h.01M96.3 192.3h.01M91.2 191.6h.01M88.5 193.0h.01M98.5 192.1h.01M95.3 188.6h.01M94.3 191.5h.01M90.3 191.5h.01M97.6 181.7h.01M82.8 189.4h.01M91.0 184.0h.01M85.6 182.5h.01M83.2 186.2h.01M83.8 199.8h.01M92.2 218.9h.01M100.3 208.9h.01M95.2 208.5h.01" stroke="#F0827C" stroke-width="0.68" stroke-linecap="round" fill="none" opacity="0.85"/>
<path d="M42.2 244.1h.01M43.0 242.8h.01M38.6 247.2h.01M42.5 258.0h.01M37.8 242.5h.01M46.7 250.8h.01M47.0 247.3h.01M34.0 246.2h.01M35.4 247.6h.01M53.3 246.4h.01M43.5 253.3h.01M35.0 251.7h.01M40.9 244.5h.01M40.7 243.0h.01M48.0 248.4h.01M40.2 250.3h.01M34.0 234.3h.01M50.7 245.1h.01M47.4 243.5h.01M32.1 242.5h.01M48.3 249.7h.01M39.1 251.2h.01M41.1 248.8h.01M36.5 236.7h.01M43.4 251.2h.01M37.6 255.7h.01M44.5 256.5h.01M46.8 253.9h.01M41.4 240.6h.01M56.0 254.3h.01M47.0 243.3h.01M48.2 242.8h.01M46.0 252.4h.01M45.9 243.0h.01M46.5 248.8h.01M46.1 254.1h.01M39.0 243.7h.01M30.3 255.3h.01M38.1 254.2h.01M45.0 253.8h.01M44.3 250.2h.01M41.5 250.1h.01M36.6 252.9h.01M32.8 245.3h.01M40.5 248.3h.01M42.1 243.0h.01M43.2 234.4h.01M38.5 247.4h.01M38.6 252.6h.01M41.8 250.1h.01M36.0 252.4h.01M47.1 240.3h.01M51.0 242.0h.01M35.7 251.8h.01M53.1 251.0h.01M41.8 244.2h.01M38.3 248.7h.01M44.8 242.9h.01M45.6 236.9h.01M44.0 243.2h.01M35.1 258.1h.01M46.2 246.2h.01M36.1 254.7h.01M43.2 243.9h.01M28.5 252.2h.01M47.1 250.1h.01M36.3 238.6h.01M49.4 246.2h.01M47.0 235.0h.01M40.9 251.2h.01M42.4 256.7h.01M47.8 252.8h.01M46.6 246.6h.01M37.9 243.6h.01M50.0 246.7h.01M30.0 248.6h.01M43.0 245.2h.01M45.0 243.2h.01M58.1 245.5h.01M36.8 248.2h.01M43.7 252.0h.01M44.0 250.9h.01M42.8 246.4h.01M36.4 244.1h.01M42.3 241.6h.01M47.4 246.2h.01M49.6 251.6h.01M40.8 262.8h.01M51.1 244.4h.01M45.3 244.8h.01M37.1 248.5h.01M39.7 252.0h.01M34.3 249.0h.01M50.4 249.0h.01M54.0 257.5h.01M35.4 245.9h.01M39.3 255.2h.01M39.7 237.4h.01M38.8 246.1h.01M41.7 246.8h.01M42.8 243.7h.01M64.5 246.9h.01M62.5 247.6h.01M68.8 249.7h.01M67.9 245.8h.01M56.3 248.0h.01M68.8 248.6h.01M62.0 242.4h.01M66.3 245.4h.01M56.4 250.1h.01M65.0 253.6h.01M58.5 243.2h.01M65.3 254.9h.01M65.6 251.3h.01M57.9 249.8h.01M57.3 241.5h.01M68.2 253.2h.01M61.2 249.4h.01M67.4 247.9h.01M64.9 250.1h.01M60.5 244.4h.01M66.9 257.9h.01M62.8 247.0h.01M74.1 246.2h.01M61.1 256.4h.01M68.2 251.7h.01M54.1 253.9h.01M63.5 252.8h.01M67.5 256.1h.01M68.9 256.1h.01M61.6 253.3h.01M67.8 246.8h.01M58.0 248.0h.01M60.5 247.1h.01M62.4 246.2h.01M65.4 249.4h.01M59.9 245.8h.01M65.9 246.8h.01M63.4 268.2h.01M56.7 272.2h.01M60.7 273.2h.01M64.3 271.3h.01M70.2 268.8h.01M71.5 275.8h.01M62.5 276.1h.01M69.8 272.1h.01M69.7 274.5h.01M58.6 275.6h.01M70.1 276.2h.01M65.4 268.5h.01M69.5 282.4h.01M58.9 277.6h.01M56.9 275.1h.01M52.5 272.8h.01M69.1 265.1h.01M59.2 274.5h.01M64.6 275.7h.01M72.8 266.8h.01M67.1 262.2h.01M50.7 267.9h.01M52.2 276.8h.01M70.3 276.8h.01M57.7 269.2h.01M57.2 272.6h.01M60.7 280.4h.01M68.0 266.2h.01M73.3 275.1h.01M70.2 274.0h.01M72.4 280.7h.01M69.9 282.3h.01M69.1 275.8h.01M62.2 261.2h.01M72.2 277.6h.01M60.4 279.0h.01M66.8 274.5h.01M75.3 280.0h.01M59.1 274.5h.01M71.1 280.8h.01M68.7 271.7h.01M67.9 262.6h.01M72.5 273.6h.01M63.2 269.6h.01M66.8 268.9h.01M61.0 268.1h.01M74.8 273.3h.01M68.6 276.1h.01M62.9 278.7h.01M65.2 269.4h.01M60.9 271.6h.01M63.6 282.1h.01M53.2 280.7h.01M73.4 283.3h.01M62.4 269.0h.01M72.4 278.1h.01M67.5 268.7h.01M64.6 266.8h.01M74.4 280.4h.01M63.8 280.4h.01M66.7 261.8h.01M68.9 269.4h.01M67.7 271.2h.01M61.0 272.0h.01M71.3 266.8h.01M61.1 264.8h.01M62.9 279.3h.01M69.7 277.4h.01M68.5 283.2h.01M73.6 283.7h.01M61.6 270.2h.01M70.0 278.4h.01M63.4 272.7h.01M70.7 273.2h.01M62.2 276.0h.01M63.2 277.5h.01M67.2 272.2h.01M61.5 280.1h.01M61.6 274.7h.01M64.2 274.2h.01M64.1 280.0h.01M66.6 267.7h.01M59.7 278.4h.01M64.9 281.5h.01M68.4 281.8h.01M58.9 271.9h.01M72.3 266.4h.01M69.6 273.7h.01M71.2 272.1h.01M62.3 278.9h.01M76.9 266.9h.01M67.4 269.2h.01M68.5 276.7h.01M62.3 265.8h.01M66.4 274.2h.01M70.5 273.8h.01M71.4 275.7h.01M73.5 280.4h.01M59.2 272.5h.01M68.3 272.6h.01M67.9 284.3h.01M61.8 270.0h.01M61.7 280.6h.01M77.5 269.0h.01M78.0 265.8h.01M66.8 275.1h.01M67.8 270.0h.01M60.4 273.1h.01M71.3 272.9h.01M68.2 277.0h.01M73.6 267.7h.01M74.2 285.9h.01M60.4 281.0h.01M56.9 269.3h.01M64.8 274.1h.01M56.9 269.9h.01M58.1 280.0h.01M61.5 275.9h.01M63.7 277.3h.01M53.3 273.9h.01M58.8 268.5h.01M68.1 279.2h.01M61.7 271.1h.01M76.0 274.7h.01M71.1 280.4h.01M70.1 273.4h.01M65.4 279.3h.01M52.5 269.6h.01M68.3 277.5h.01M69.2 271.1h.01M62.0 265.7h.01M67.2 274.0h.01M66.6 260.6h.01M64.1 267.7h.01M70.9 278.4h.01M69.4 277.4h.01M71.9 275.6h.01M62.0 275.0h.01M66.3 276.2h.01M68.6 274.5h.01M67.3 273.8h.01M64.8 267.5h.01M62.4 271.3h.01M75.0 272.7h.01M61.6 277.6h.01M68.5 272.3h.01M70.9 268.1h.01M60.4 271.0h.01M64.2 272.6h.01M66.0 279.6h.01M66.4 276.5h.01M64.8 267.9h.01M65.7 268.0h.01M69.5 272.4h.01M60.8 273.5h.01M42.8 263.4h.01M35.7 264.4h.01M38.9 263.4h.01M54.8 274.0h.01M48.4 264.9h.01M48.1 268.9h.01M42.3 265.9h.01M42.2 257.3h.01M48.1 270.5h.01M43.6 267.8h.01M37.0 265.4h.01M38.0 260.9h.01M43.7 277.1h.01M52.8 266.3h.01M39.4 276.5h.01M36.8 262.5h.01M44.5 275.6h.01M51.6 256.1h.01M30.5 259.9h.01M49.0 261.5h.01M37.7 271.8h.01M35.9 273.6h.01M30.6 262.7h.01M49.8 260.7h.01" stroke="#F0827C" stroke-width="0.68" stroke-linecap="round" fill="none" opacity="0.85"/>
<path d="M99.6 253.3h.01M102.7 251.3h.01M100.8 252.5h.01M98.8 246.6h.01M109.8 243.4h.01M98.6 245.3h.01M96.3 254.4h.01M88.0 241.3h.01M100.5 249.3h.01M98.6 248.0h.01M101.0 247.0h.01M104.7 248.2h.01M89.2 243.2h.01M100.8 244.4h.01M87.8 251.2h.01M97.8 253.3h.01M106.5 241.5h.01M100.6 244.9h.01M96.4 251.0h.01M98.9 247.6h.01M98.5 250.0h.01M102.1 250.6h.01M96.9 256.7h.01M95.7 251.4h.01M93.4 239.0h.01M99.1 250.6h.01M86.3 255.4h.01M101.0 250.0h.01M91.8 242.3h.01M96.3 249.5h.01M95.4 248.3h.01M99.8 249.8h.01M100.6 248.1h.01M87.0 250.4h.01M99.8 253.7h.01M100.1 242.8h.01M100.6 254.8h.01M109.1 248.7h.01M99.3 248.7h.01M104.6 251.1h.01M113.3 250.0h.01M96.0 255.1h.01M102.5 245.3h.01M98.3 246.1h.01M88.9 251.7h.01M94.2 249.6h.01M101.6 245.4h.01M102.4 246.7h.01M99.4 246.7h.01M91.3 238.0h.01M93.7 245.3h.01M113.5 247.4h.01M99.9 245.8h.01M105.0 252.7h.01M99.4 250.3h.01M84.4 244.9h.01M96.5 258.2h.01M111.9 246.1h.01M100.8 250.3h.01M112.9 245.4h.01M99.8 251.8h.01M97.4 246.8h.01M100.8 250.8h.01M92.9 246.7h.01M99.9 246.6h.01M106.4 243.7h.01M92.2 253.8h.01M96.6 246.7h.01M103.9 246.8h.01M86.3 248.1h.01M102.7 249.5h.01M107.6 250.6h.01M99.9 256.8h.01M100.6 253.7h.01M99.5 243.7h.01M102.0 255.7h.01M99.8 243.8h.01M95.6 250.8h.01M88.5 254.3h.01M88.9 258.8h.01M93.7 253.4h.01M100.4 238.2h.01M101.5 244.7h.01M95.0 249.8h.01M87.2 246.8h.01M99.9 253.1h.01M104.0 251.2h.01M91.5 239.2h.01M100.0 254.1h.01M97.3 247.1h.01M90.4 246.0h.01M102.0 249.6h.01M98.8 246.1h.01M93.9 245.0h.01M88.6 255.5h.01M88.2 255.2h.01M101.3 243.3h.01M102.3 251.7h.01M102.5 247.9h.01M94.6 247.2h.01M97.0 241.4h.01M123.2 245.6h.01M124.9 253.6h.01M107.4 244.6h.01M113.6 248.6h.01M112.0 250.8h.01M115.8 243.6h.01M122.0 245.2h.01M120.8 256.6h.01M117.3 246.7h.01M108.5 250.9h.01M115.7 248.1h.01M123.4 244.2h.01M120.5 254.8h.01M122.3 245.0h.01M123.9 247.4h.01M125.3 249.4h.01M123.4 241.2h.01M118.4 239.5h.01M119.9 244.7h.01M120.8 249.9h.01M128.9 251.8h.01M121.8 240.9h.01M118.9 244.7h.01M117.0 248.6h.01M120.7 252.4h.01M122.1 250.2h.01M115.1 248.7h.01M118.9 250.5h.01M108.8 251.0h.01M110.6 251.0h.01M116.1 241.9h.01M119.7 244.5h.01M120.9 249.7h.01M117.2 252.6h.01M113.2 246.3h.01M117.3 251.4h.01M116.8 235.9h.01M117.2 246.9h.01M115.0 242.3h.01M111.1 247.7h.01M123.3 270.4h.01M119.3 272.1h.01M123.0 268.9h.01M122.3 283.4h.01M122.2 269.8h.01M117.3 284.3h.01M118.1 282.0h.01M118.2 277.9h.01M116.4 274.2h.01M111.6 277.2h.01M107.2 269.4h.01M120.8 279.3h.01M126.5 279.3h.01M119.3 279.7h.01M111.2 262.0h.01M120.2 260.6h.01M125.0 272.6h.01M121.4 285.6h.01M120.3 277.8h.01M114.8 282.6h.01M116.9 271.0h.01M121.9 278.2h.01M115.8 271.5h.01M112.8 273.0h.01M111.9 270.2h.01M124.8 272.1h.01M116.6 281.1h.01M120.0 279.3h.01M119.1 269.2h.01M124.5 276.4h.01M119.3 277.5h.01M126.1 276.8h.01M122.9 264.8h.01M117.4 273.1h.01M117.7 272.0h.01M120.5 280.9h.01M121.4 277.8h.01M121.9 275.4h.01M126.8 273.9h.01M119.9 272.7h.01M118.7 272.0h.01M115.1 275.3h.01M121.7 274.0h.01M126.0 276.0h.01M113.6 274.2h.01M123.7 278.6h.01M118.6 267.8h.01M119.8 276.3h.01M129.1 279.1h.01M119.7 277.9h.01M119.2 279.6h.01M118.6 275.1h.01M113.7 273.4h.01M114.1 273.8h.01M120.2 281.6h.01M120.0 270.7h.01M121.3 272.1h.01M110.5 277.4h.01M118.1 271.5h.01M117.6 279.2h.01M120.0 269.9h.01M123.6 267.7h.01M122.7 269.2h.01M118.6 284.6h.01M118.7 276.4h.01M117.3 276.8h.01M123.2 277.7h.01M126.4 273.1h.01M114.6 278.8h.01M115.6 280.6h.01M119.4 287.4h.01M121.3 269.3h.01M115.9 273.6h.01M121.1 264.3h.01M121.9 274.3h.01M122.6 273.3h.01M123.6 279.6h.01M118.7 273.2h.01M112.7 263.3h.01M121.5 264.5h.01M122.2 280.2h.01M120.1 281.4h.01M119.5 283.3h.01M110.7 265.5h.01M117.9 276.5h.01M122.0 277.6h.01M118.0 276.0h.01M119.0 271.9h.01M126.9 278.1h.01M112.7 277.9h.01M116.1 272.9h.01M128.0 280.6h.01M118.5 271.4h.01M125.5 279.8h.01M126.7 271.4h.01M122.0 278.3h.01M117.9 276.2h.01M111.8 276.7h.01M119.4 286.6h.01M119.8 286.6h.01M122.0 277.0h.01M125.7 277.9h.01M126.9 276.9h.01M111.5 282.0h.01M113.6 283.1h.01M120.1 269.8h.01M121.1 267.6h.01M116.0 272.1h.01M123.1 281.6h.01M115.2 274.9h.01M122.7 275.2h.01M124.9 271.5h.01M124.7 280.1h.01M122.0 282.1h.01M112.3 276.9h.01M121.5 274.4h.01M127.6 265.7h.01M121.1 277.6h.01M118.9 275.9h.01M123.8 280.7h.01M121.5 283.5h.01M121.7 284.2h.01M118.7 273.9h.01M115.9 263.2h.01M121.3 275.5h.01M118.5 270.7h.01M115.7 278.9h.01M126.0 278.2h.01M126.1 284.2h.01M125.0 280.6h.01M118.9 275.1h.01M124.0 280.2h.01M118.0 277.8h.01M122.6 278.2h.01M121.0 272.6h.01M120.1 272.6h.01M123.1 266.2h.01M123.3 271.6h.01M124.6 274.6h.01M114.2 267.3h.01M120.8 277.1h.01M118.9 271.6h.01M121.0 282.5h.01M121.7 279.8h.01M120.6 278.1h.01M123.5 265.0h.01M119.5 269.2h.01M125.0 272.1h.01M119.1 275.2h.01M118.1 278.9h.01M113.7 262.7h.01M117.3 271.8h.01M120.9 273.5h.01M120.5 273.9h.01M127.4 273.4h.01M125.1 275.0h.01M117.5 270.5h.01M120.0 268.1h.01M112.2 278.5h.01M123.4 273.8h.01M117.8 280.5h.01M116.4 274.1h.01M116.5 276.9h.01M112.5 279.4h.01M120.9 261.8h.01M123.2 273.7h.01M121.2 266.5h.01M116.3 270.7h.01M102.8 263.9h.01M98.6 266.1h.01M94.0 269.1h.01M94.8 261.6h.01M93.7 271.1h.01M90.9 267.4h.01M87.6 267.3h.01M100.2 267.4h.01M87.3 265.9h.01M87.9 262.5h.01M83.9 271.5h.01M96.8 261.1h.01M86.2 263.1h.01M95.1 271.0h.01M88.9 267.0h.01M102.7 268.9h.01M106.5 262.1h.01M87.0 265.1h.01M94.4 268.4h.01M99.3 261.4h.01M89.7 262.6h.01" stroke="#F0827C" stroke-width="0.68" stroke-linecap="round" fill="none" opacity="0.85"/>
<text x="28.9" y="183.6" font-family='"Liberation Sans", sans-serif' font-size="4.6" font-weight="bold" fill="#1a1a1a" text-anchor="start" stroke="#1a1a1a" stroke-width="0.2">4.245%</text>
<text x="55.2" y="183.6" font-family='"Liberation Sans", sans-serif' font-size="4.6" font-weight="bold" fill="#1a1a1a" text-anchor="start" stroke="#1a1a1a" stroke-width="0.2">33.019%</text>
<text x="28.9" y="203.2" font-family='"Liberation Sans", sans-serif' font-size="4.6" font-weight="bold" fill="#1a1a1a" text-anchor="start" stroke="#1a1a1a" stroke-width="0.2">1.651%</text>
<text x="55.2" y="203.2" font-family='"Liberation Sans", sans-serif' font-size="4.6" font-weight="bold" fill="#1a1a1a" text-anchor="start" stroke="#1a1a1a" stroke-width="0.2">61.085%</text>
<text x="82.8" y="182.2" font-family='"Liberation Sans", sans-serif' font-size="4.6" font-weight="bold" fill="#1a1a1a" text-anchor="start" stroke="#1a1a1a" stroke-width="0.2">10.588%</text>
<text x="107.2" y="182.2" font-family='"Liberation Sans", sans-serif' font-size="4.6" font-weight="bold" fill="#1a1a1a" text-anchor="start" stroke="#1a1a1a" stroke-width="0.2">36.471%</text>
<text x="82.8" y="201.8" font-family='"Liberation Sans", sans-serif' font-size="4.6" font-weight="bold" fill="#1a1a1a" text-anchor="start" stroke="#1a1a1a" stroke-width="0.2">1.961%</text>
<text x="107.2" y="201.8" font-family='"Liberation Sans", sans-serif' font-size="4.6" font-weight="bold" fill="#1a1a1a" text-anchor="start" stroke="#1a1a1a" stroke-width="0.2">50.98%</text>
<text x="30.0" y="239.4" font-family='"Liberation Sans", sans-serif' font-size="4.6" font-weight="bold" fill="#1a1a1a" text-anchor="start" stroke="#1a1a1a" stroke-width="0.2">31.894%</text>
<text x="57.6" y="239.4" font-family='"Liberation Sans", sans-serif' font-size="4.6" font-weight="bold" fill="#1a1a1a" text-anchor="start" stroke="#1a1a1a" stroke-width="0.2">11.511%</text>
<text x="30.0" y="261.4" font-family='"Liberation Sans", sans-serif' font-size="4.6" font-weight="bold" fill="#1a1a1a" text-anchor="start" stroke="#1a1a1a" stroke-width="0.2">8.153%</text>
<text x="57.6" y="261.4" font-family='"Liberation Sans", sans-serif' font-size="4.6" font-weight="bold" fill="#1a1a1a" text-anchor="start" stroke="#1a1a1a" stroke-width="0.2">48.441%</text>
<text x="82.8" y="240.0" font-family='"Liberation Sans", sans-serif' font-size="4.6" font-weight="bold" fill="#1a1a1a" text-anchor="start" stroke="#1a1a1a" stroke-width="0.2">30.221%</text>
<text x="111.8" y="240.0" font-family='"Liberation Sans", sans-serif' font-size="4.6" font-weight="bold" fill="#1a1a1a" text-anchor="start" stroke="#1a1a1a" stroke-width="0.2">12.039%</text>
<text x="82.8" y="260.2" font-family='"Liberation Sans", sans-serif' font-size="4.6" font-weight="bold" fill="#1a1a1a" text-anchor="start" stroke="#1a1a1a" stroke-width="0.2">6.634%</text>
<text x="111.8" y="260.2" font-family='"Liberation Sans", sans-serif' font-size="4.6" font-weight="bold" fill="#1a1a1a" text-anchor="start" stroke="#1a1a1a" stroke-width="0.2">51.106%</text>
<text x="30.0" y="229.6" font-family='"Liberation Serif", serif' font-size="5.9" font-weight="bold" fill="#222" text-anchor="start" stroke="#222" stroke-width="0.3">F-Nby</text>
<text x="82.8" y="230.0" font-family='"Liberation Serif", serif' font-size="5.7" font-weight="bold" fill="#222" text-anchor="start" stroke="#222" stroke-width="0.3">F-Exp</text>
<text x="30.4" y="287.6" font-family='"Liberation Serif", serif' font-size="5.7" font-weight="bold" fill="#222" text-anchor="start" stroke="#222" stroke-width="0.3">N-Nby</text>
<text x="82.8" y="288.0" font-family='"Liberation Serif", serif' font-size="5.7" font-weight="bold" fill="#222" text-anchor="start" stroke="#222" stroke-width="0.3">N-Exp</text>
<text x="135.8" y="228.6" font-family='"Liberation Serif", serif' font-size="5.0" font-weight="bold" fill="#222" text-anchor="start" stroke="#222" stroke-width="0.3">Identity</text>
<circle cx="138.4" cy="234.6" r="2.1" fill="#F08A84"/>
<text x="144.2" y="236.0" font-family='"Liberation Serif", serif' font-size="4.1" font-weight="bold" fill="#222" text-anchor="start" stroke="#222" stroke-width="0.3">PC</text>
<text x="174.4" y="106.2" font-family='"Liberation Sans", sans-serif' font-size="8.2" font-weight="bold" fill="#000" text-anchor="start" stroke="#000" stroke-width="0.3">F</text>
<defs><filter id="he" x="0" y="0" width="100%" height="100%" color-interpolation-filters="sRGB"><feTurbulence type="fractalNoise" baseFrequency="0.30 0.50" numOctaves="3" seed="4"/><feColorMatrix type="matrix" values="0.2 0 0 0 0.85  1.7 0 0 0 -0.12  1.1 0 0 0 0.28  0 0 0 0 1"/></filter><filter id="he2" x="0" y="0" width="100%" height="100%" color-interpolation-filters="sRGB"><feTurbulence type="fractalNoise" baseFrequency="0.30 0.50" numOctaves="3" seed="9"/><feColorMatrix type="matrix" values="0.2 0 0 0 0.85  1.7 0 0 0 -0.15  1.1 0 0 0 0.26  0 0 0 0 1"/></filter><filter id="epi" x="0" y="0" width="100%" height="100%" color-interpolation-filters="sRGB"><feTurbulence type="fractalNoise" baseFrequency="0.55 0.6" numOctaves="2" seed="12"/><feColorMatrix type="matrix" values="1.6 0 0 0 -0.22  0.9 0 0 0 -0.3  1.3 0 0 0 -0.15  0 0 0 0 1"/></filter><filter id="bl" x="-5%" y="-5%" width="110%" height="110%"><feGaussianBlur stdDeviation="0.45"/></filter><filter id="bl2" x="-10%" y="-10%" width="120%" height="120%"><feGaussianBlur stdDeviation="1.1"/></filter><filter id="bl3" x="-2%" y="-2%" width="104%" height="104%"><feGaussianBlur stdDeviation="0.35"/></filter><linearGradient id="hefade" x1="0" y1="0" x2="0" y2="1"><stop offset="0" stop-color="#fff" stop-opacity="0.45"/><stop offset="0.55" stop-color="#fff" stop-opacity="0.4"/><stop offset="0.68" stop-color="#FBD0E0" stop-opacity="0.2"/><stop offset="0.78" stop-color="#EE6C98" stop-opacity="0.3"/><stop offset="1" stop-color="#EC6090" stop-opacity="0.55"/></linearGradient><linearGradient id="hefade2" x1="0" y1="0" x2="0" y2="1"><stop offset="0" stop-color="#fff" stop-opacity="0.4"/><stop offset="0.4" stop-color="#fff" stop-opacity="0.32"/><stop offset="0.52" stop-color="#FBD0E0" stop-opacity="0.2"/><stop offset="0.64" stop-color="#EE6C98" stop-opacity="0.32"/><stop offset="1" stop-color="#EC6090" stop-opacity="0.55"/></linearGradient><clipPath id="cA0"><rect x="184.8" y="105.5" width="64.39999999999998" height="44.19999999999999"/></clipPath><clipPath id="cB0"><rect x="250.6" y="105.5" width="63.900000000000006" height="44.19999999999999"/></clipPath><clipPath id="cA1"><rect x="184.8" y="151.1" width="64.39999999999998" height="47.70000000000002"/></clipPath><clipPath id="cB1"><rect x="250.6" y="151.1" width="63.900000000000006" height="47.70000000000002"/></clipPath><clipPath id="cA2"><rect x="184.8" y="200.0" width="64.39999999999998" height="47.80000000000001"/></clipPath><clipPath id="cB2"><rect x="250.6" y="200.0" width="63.900000000000006" height="47.80000000000001"/></clipPath><clipPath id="cA3"><rect x="184.8" y="249.2" width="64.39999999999998" height="47.400000000000034"/></clipPath><clipPath id="cB3"><rect x="250.6" y="249.2" width="63.900000000000006" height="47.400000000000034"/></clipPath></defs>
<rect x="184.8" y="151.1" width="129.7" height="145.50000000000003" fill="#C4C4D6"/>
<rect x="184.8" y="105.5" width="129.7" height="44.19999999999999" fill="#F8E4EC"/>
<g clip-path="url(#cA0)">
<rect x="184.8" y="105.5" width="64.39999999999998" height="44.19999999999999" filter="url(#he)"/>
<rect x="184.8" y="105.5" width="64.39999999999998" height="44.19999999999999" fill="url(#hefade)"/>
<rect x="184.8" y="105.5" width="64.39999999999998" height="5.2" fill="#FAE6EF"/>
<path d="M184.0 113.6C186.7 113.7 195.8 113.6 200.0 114.0C204.2 114.4 206.2 116.1 209.0 116.2C211.8 116.3 213.5 115.1 217.0 114.8C220.5 114.5 226.0 114.4 230.0 114.6C234.0 114.8 237.7 115.4 241.0 116.2C244.3 117.0 248.5 118.9 250.0 119.4" stroke="#F9DCE8" stroke-width="2.2" fill="none" opacity="0.8" filter="url(#bl)"/>
<path d="M184.0 105.4C185.3 105.4 189.3 105.5 192.0 105.6C194.7 105.7 197.8 105.8 200.0 106.0C202.2 106.2 203.7 106.4 205.0 106.6C206.3 106.8 207.2 106.6 208.0 107.4C208.8 108.2 209.0 111.3 209.6 111.4C210.2 111.5 210.5 108.5 211.4 107.8C212.3 107.1 213.2 107.3 215.0 107.2C216.8 107.1 219.5 107.0 222.0 107.0C224.5 107.0 227.7 107.0 230.0 107.2C232.3 107.4 234.2 107.8 236.0 108.2C237.8 108.6 239.3 109.1 241.0 109.4C242.7 109.7 244.5 110.0 246.0 110.2C247.5 110.4 249.3 110.7 250.0 110.8L250.0 118.2C249.3 117.9 247.5 116.9 246.0 116.4C244.5 115.9 242.7 115.4 241.0 115.0C239.3 114.6 237.8 114.3 236.0 114.0C234.2 113.7 232.2 113.5 230.0 113.4C227.8 113.3 225.2 113.5 223.0 113.5C220.8 113.5 218.7 113.5 217.0 113.6C215.3 113.7 214.3 113.8 213.0 114.0C211.7 114.2 210.3 114.9 209.0 114.9C207.7 114.9 206.5 114.6 205.0 114.2C203.5 113.8 202.2 113.1 200.0 112.8C197.8 112.5 194.7 112.5 192.0 112.4C189.3 112.3 185.3 112.4 184.0 112.4Z" fill="#A8308A" filter="url(#bl)"/>
<clipPath id="epA"><path d="M184.0 105.4C185.3 105.4 189.3 105.5 192.0 105.6C194.7 105.7 197.8 105.8 200.0 106.0C202.2 106.2 203.7 106.4 205.0 106.6C206.3 106.8 207.2 106.6 208.0 107.4C208.8 108.2 209.0 111.3 209.6 111.4C210.2 111.5 210.5 108.5 211.4 107.8C212.3 107.1 213.2 107.3 215.0 107.2C216.8 107.1 219.5 107.0 222.0 107.0C224.5 107.0 227.7 107.0 230.0 107.2C232.3 107.4 234.2 107.8 236.0 108.2C237.8 108.6 239.3 109.1 241.0 109.4C242.7 109.7 244.5 110.0 246.0 110.2C247.5 110.4 249.3 110.7 250.0 110.8L250.0 118.2C249.3 117.9 247.5 116.9 246.0 116.4C244.5 115.9 242.7 115.4 241.0 115.0C239.3 114.6 237.8 114.3 236.0 114.0C234.2 113.7 232.2 113.5 230.0 113.4C227.8 113.3 225.2 113.5 223.0 113.5C220.8 113.5 218.7 113.5 217.0 113.6C215.3 113.7 214.3 113.8 213.0 114.0C211.7 114.2 210.3 114.9 209.0 114.9C207.7 114.9 206.5 114.6 205.0 114.2C203.5 113.8 202.2 113.1 200.0 112.8C197.8 112.5 194.7 112.5 192.0 112.4C189.3 112.3 185.3 112.4 184.0 112.4Z"/></clipPath>
<g clip-path="url(#epA)"><rect x="184.8" y="105.5" width="64.39999999999998" height="16" filter="url(#epi)" opacity="0.45"/></g>
<path d="M184.0 106.6C185.8 106.6 191.5 106.6 195.0 106.8C198.5 107.0 202.7 107.3 205.0 107.8C207.3 108.3 207.8 109.2 208.6 110.0C209.4 110.8 209.4 112.9 210.0 112.8C210.6 112.7 211.4 110.1 212.4 109.4C213.4 108.7 214.1 108.6 216.0 108.4C217.9 108.2 221.0 108.1 224.0 108.2C227.0 108.3 230.7 108.3 234.0 108.8C237.3 109.3 241.3 110.5 244.0 111.0C246.7 111.5 249.0 111.8 250.0 112.0" stroke="#74186A" stroke-width="1.5" fill="none" opacity="0.6" filter="url(#bl)"/>
<path d="M246.5 113C247 120 246.6 128 247.8 136L250 136V112Z" fill="#A8287F" filter="url(#bl)"/>
<ellipse cx="186.4" cy="133" rx="1.6" ry="2.6" fill="#A8287F" filter="url(#bl)"/>
<path d="M220.0 108.0V144" stroke="#4A4E90" stroke-width="0.9" stroke-dasharray="1.0 0.45" fill="none"/>
<rect x="234.0" y="143.0" width="11.0" height="1.7" fill="#111"/>
</g>
<text x="188.8" y="110.8" font-family='"Liberation Sans", sans-serif' font-size="5.3" font-weight="bold" fill="#151515" text-anchor="start" stroke="#151515" stroke-width="0.3">Nby</text>
<g clip-path="url(#cB0)">
<rect x="250.6" y="105.5" width="63.900000000000006" height="44.19999999999999" filter="url(#he2)"/>
<rect x="250.6" y="105.5" width="63.900000000000006" height="44.19999999999999" fill="url(#hefade2)"/>
<rect x="250.6" y="105.5" width="63.900000000000006" height="1.2" fill="#F6D8E6"/>
<path d="M250.0 105.9C251.3 105.9 255.3 105.8 258.0 105.8C260.7 105.8 263.7 105.9 266.0 106.0C268.3 106.1 270.2 106.4 272.0 106.6C273.8 106.8 275.3 107.0 277.0 107.0C278.7 107.0 279.8 106.8 282.0 106.6C284.2 106.4 287.0 106.0 290.0 105.9C293.0 105.8 297.0 105.8 300.0 105.8C303.0 105.8 305.5 105.8 308.0 105.8C310.5 105.8 313.8 106.0 315.0 106.0L315.0 114.0C314.5 114.1 312.8 114.2 312.0 114.5C311.2 114.8 310.7 115.6 310.0 116.0C309.3 116.4 308.7 117.1 308.0 117.0C307.3 116.9 306.7 116.0 306.0 115.5C305.3 115.0 304.6 113.9 304.0 114.0C303.4 114.1 303.0 115.2 302.5 116.0C302.0 116.8 301.6 118.2 301.0 119.0C300.4 119.8 299.7 120.8 299.0 121.0C298.3 121.2 297.7 121.2 297.0 120.5C296.3 119.8 295.7 117.9 295.0 117.0C294.3 116.1 293.6 115.0 293.0 115.0C292.4 115.0 292.0 116.2 291.5 117.0C291.0 117.8 290.6 119.4 290.0 120.0C289.4 120.6 288.7 120.8 288.0 120.5C287.3 120.2 286.6 119.1 286.0 118.0C285.4 116.9 285.0 115.2 284.5 114.0C284.0 112.8 283.6 111.7 283.0 111.0C282.4 110.3 281.8 110.2 281.0 110.0C280.2 109.8 279.0 109.6 278.0 109.5C277.0 109.4 275.9 109.3 275.0 109.5C274.1 109.7 273.3 109.8 272.8 110.5C272.3 111.2 272.1 112.6 271.8 114.0C271.5 115.4 271.2 117.5 270.8 119.0C270.4 120.5 270.1 121.9 269.6 123.0C269.1 124.1 268.6 125.0 268.0 125.5C267.4 126.0 266.7 126.0 266.0 125.8C265.3 125.6 264.7 125.1 264.0 124.5C263.3 123.9 262.7 122.9 262.0 122.0C261.3 121.1 260.7 120.0 260.0 119.0C259.3 118.0 258.7 116.8 258.0 116.0C257.3 115.2 256.8 114.4 256.0 114.0C255.2 113.6 254.0 113.7 253.0 113.5C252.0 113.3 250.5 113.1 250.0 113.0Z" fill="#A8288A" filter="url(#bl)"/>
<clipPath id="epB"><path d="M250.0 105.9C251.3 105.9 255.3 105.8 258.0 105.8C260.7 105.8 263.7 105.9 266.0 106.0C268.3 106.1 270.2 106.4 272.0 106.6C273.8 106.8 275.3 107.0 277.0 107.0C278.7 107.0 279.8 106.8 282.0 106.6C284.2 106.4 287.0 106.0 290.0 105.9C293.0 105.8 297.0 105.8 300.0 105.8C303.0 105.8 305.5 105.8 308.0 105.8C310.5 105.8 313.8 106.0 315.0 106.0L315.0 114.0C314.5 114.1 312.8 114.2 312.0 114.5C311.2 114.8 310.7 115.6 310.0 116.0C309.3 116.4 308.7 117.1 308.0 117.0C307.3 116.9 306.7 116.0 306.0 115.5C305.3 115.0 304.6 113.9 304.0 114.0C303.4 114.1 303.0 115.2 302.5 116.0C302.0 116.8 301.6 118.2 301.0 119.0C300.4 119.8 299.7 120.8 299.0 121.0C298.3 121.2 297.7 121.2 297.0 120.5C296.3 119.8 295.7 117.9 295.0 117.0C294.3 116.1 293.6 115.0 293.0 115.0C292.4 115.0 292.0 116.2 291.5 117.0C291.0 117.8 290.6 119.4 290.0 120.0C289.4 120.6 288.7 120.8 288.0 120.5C287.3 120.2 286.6 119.1 286.0 118.0C285.4 116.9 285.0 115.2 284.5 114.0C284.0 112.8 283.6 111.7 283.0 111.0C282.4 110.3 281.8 110.2 281.0 110.0C280.2 109.8 279.0 109.6 278.0 109.5C277.0 109.4 275.9 109.3 275.0 109.5C274.1 109.7 273.3 109.8 272.8 110.5C272.3 111.2 272.1 112.6 271.8 114.0C271.5 115.4 271.2 117.5 270.8 119.0C270.4 120.5 270.1 121.9 269.6 123.0C269.1 124.1 268.6 125.0 268.0 125.5C267.4 126.0 266.7 126.0 266.0 125.8C265.3 125.6 264.7 125.1 264.0 124.5C263.3 123.9 262.7 122.9 262.0 122.0C261.3 121.1 260.7 120.0 260.0 119.0C259.3 118.0 258.7 116.8 258.0 116.0C257.3 115.2 256.8 114.4 256.0 114.0C255.2 113.6 254.0 113.7 253.0 113.5C252.0 113.3 250.5 113.1 250.0 113.0Z"/></clipPath>
<g clip-path="url(#epB)"><rect x="250.6" y="105.5" width="63.900000000000006" height="24" filter="url(#epi)" opacity="0.45"/></g>
<path d="M250.0 107.0C251.7 107.0 256.7 106.9 260.0 107.0C263.3 107.1 267.0 107.2 270.0 107.4C273.0 107.6 275.3 108.0 278.0 108.0C280.7 108.0 282.7 107.6 286.0 107.4C289.3 107.2 293.2 107.0 298.0 107.0C302.8 107.0 312.2 107.2 315.0 107.2" stroke="#74186A" stroke-width="1.4" fill="none" opacity="0.55" filter="url(#bl)"/>
<ellipse cx="266.2" cy="115.0" rx="1.2" ry="2.2" fill="#D874B0" filter="url(#bl)" transform="rotate(-20 266.2 115)"/>
<ellipse cx="306.0" cy="109.4" rx="1.3" ry="0.9" fill="#DE84B8" filter="url(#bl)"/>
<ellipse cx="299.4" cy="112.4" rx="1.7" ry="1.3" fill="#E48CBC" filter="url(#bl)"/>
<ellipse cx="289.6" cy="111.2" rx="1.3" ry="1.1" fill="#DE84B8" filter="url(#bl)"/>
<path d="M283.7 107.5V131.5" stroke="#3E4286" stroke-width="0.9" stroke-dasharray="1.0 0.45" fill="none"/>
<rect x="298.8" y="143.0" width="10.6" height="1.7" fill="#111"/>
</g>
<text x="254.4" y="110.8" font-family='"Liberation Sans", sans-serif' font-size="5.3" font-weight="bold" fill="#151515" text-anchor="start" stroke="#151515" stroke-width="0.3">Exp</text>
<g clip-path="url(#cA1)">
<rect x="184.8" y="151.1" width="64.39999999999998" height="47.70000000000002" fill="#010108"/>
<path d="M184 173.1L190 172.1L198 170.5L206 170.1L214 168.9L222 166.9L230 164.1L236 162.5L241 164.1L246 166.1L250 166.9L250 178.9L246 178.1L241 176.1L236 174.5L230 176.1L222 178.9L214 180.9L206 182.1L198 182.5L190 184.1L184 185.1Z" fill="#0E0E96" opacity="0.32" filter="url(#bl2)"/>
<g filter="url(#bl3)">
<path d="M225.7 169.7h.01M228.3 171.1h.01M242.0 157.4h.01M216.3 179.1h.01M249.2 172.7h.01M198.3 177.5h.01M243.2 173.5h.01M222.7 176.7h.01" stroke="#13138A" stroke-width="1.8" stroke-linecap="round" fill="none" opacity="0.83"/>
<path d="M237.3 168.8h.01M243.5 191.9h.01M207.4 184.5h.01M244.3 184.2h.01M226.4 182.9h.01M200.1 179.3h.01M190.5 182.5h.01M190.3 175.0h.01M224.2 168.6h.01" stroke="#1717A4" stroke-width="1.2" stroke-linecap="round" fill="none" opacity="0.47"/>
<path d="M204.4 173.5h.01M246.4 170.9h.01M195.2 173.5h.01M197.5 176.4h.01M234.1 169.1h.01M205.5 190.4h.01" stroke="#1E1EC0" stroke-width="1.8" stroke-linecap="round" fill="none" opacity="0.89"/>
<path d="M239.7 159.7h.01M232.5 173.0h.01M209.5 180.5h.01M227.0 166.2h.01" stroke="#2424D0" stroke-width="1.1" stroke-linecap="round" fill="none" opacity="0.77"/>
<path d="M211.2 171.6h.01M204.0 178.1h.01M207.2 175.3h.01M241.5 167.0h.01M224.9 169.2h.01M237.7 165.0h.01M219.2 194.6h.01" stroke="#13138A" stroke-width="1.5" stroke-linecap="round" fill="none" opacity="0.81"/>
<path d="M215.3 172.0h.01M185.6 183.5h.01M209.5 189.9h.01M248.6 177.1h.01M197.4 184.0h.01" stroke="#2424D0" stroke-width="1.5" stroke-linecap="round" fill="none" opacity="0.47"/>
<path d="M211.0 176.8h.01M221.8 177.0h.01M227.1 172.5h.01M221.3 176.5h.01M192.8 178.5h.01M214.5 168.3h.01M209.0 171.2h.01" stroke="#13138A" stroke-width="1.4" stroke-linecap="round" fill="none" opacity="0.69"/>
<path d="M226.4 172.5h.01M187.4 172.6h.01" stroke="#2020B4" stroke-width="1.1" stroke-linecap="round" fill="none" opacity="0.6"/>
<path d="M232.9 194.5h.01M224.8 172.5h.01M213.0 177.5h.01M213.1 179.0h.01M205.6 158.9h.01M244.8 192.6h.01M234.7 164.6h.01M205.5 188.3h.01M213.1 194.6h.01M222.2 173.6h.01" stroke="#13138A" stroke-width="1.2" stroke-linecap="round" fill="none" opacity="0.85"/>
<path d="M202.2 181.4h.01M191.1 189.1h.01M228.4 174.4h.01M194.8 172.6h.01M232.3 187.7h.01M205.5 170.9h.01M246.3 174.2h.01M213.7 170.4h.01M218.1 192.5h.01M229.4 172.3h.01M191.2 177.6h.01M237.3 166.3h.01M220.0 188.9h.01M246.3 188.5h.01" stroke="#1717A4" stroke-width="1.8" stroke-linecap="round" fill="none" opacity="0.61"/>
<path d="M197.6 182.5h.01M242.6 172.1h.01M218.2 185.5h.01M235.6 171.6h.01M196.1 176.0h.01M195.0 184.3h.01" stroke="#1E1EC0" stroke-width="1.6" stroke-linecap="round" fill="none" opacity="0.78"/>
<path d="M248.9 185.4h.01M189.9 175.1h.01M185.8 178.1h.01M243.2 168.1h.01M199.5 197.7h.01M206.5 177.6h.01M215.8 190.8h.01M218.1 178.0h.01" stroke="#1717A4" stroke-width="1.4" stroke-linecap="round" fill="none" opacity="0.52"/>
<path d="M243.8 191.0h.01M192.8 176.7h.01M227.9 164.7h.01M201.9 170.8h.01M197.3 173.6h.01M193.2 193.5h.01M195.4 181.8h.01M248.9 188.3h.01M224.4 172.9h.01M239.2 191.8h.01" stroke="#1E1EC0" stroke-width="1.7" stroke-linecap="round" fill="none" opacity="0.76"/>
<path d="M224.6 170.7h.01M195.2 196.1h.01M224.3 176.7h.01M185.2 189.8h.01M241.4 171.8h.01M189.0 193.7h.01M209.0 160.6h.01M246.2 183.0h.01M225.6 184.8h.01M245.4 159.0h.01M191.0 177.6h.01" stroke="#2424D0" stroke-width="1.2" stroke-linecap="round" fill="none" opacity="0.74"/>
<path d="M193.6 177.2h.01M206.5 172.2h.01M230.4 168.9h.01M199.3 175.0h.01M228.9 174.3h.01M210.6 175.6h.01M231.6 164.6h.01M185.1 195.3h.01" stroke="#2424D0" stroke-width="1.6" stroke-linecap="round" fill="none" opacity="0.37"/>
<path d="M233.9 169.0h.01M214.0 170.4h.01M219.3 178.6h.01M202.4 186.1h.01M218.6 171.9h.01M206.0 175.1h.01" stroke="#1E1EC0" stroke-width="1.4" stroke-linecap="round" fill="none" opacity="0.8"/>
<path d="M243.9 180.8h.01M215.0 192.3h.01M232.1 172.5h.01M221.9 178.2h.01M215.6 191.6h.01" stroke="#13138A" stroke-width="1.9" stroke-linecap="round" fill="none" opacity="0.59"/>
<path d="M216.6 178.2h.01M212.2 176.7h.01M201.2 193.8h.01M190.9 173.6h.01" stroke="#2020B4" stroke-width="1.9" stroke-linecap="round" fill="none" opacity="0.75"/>
<path d="M241.2 190.6h.01" stroke="#13138A" stroke-width="1.1" stroke-linecap="round" fill="none" opacity="0.84"/>
<path d="M246.7 167.6h.01M222.7 170.9h.01M210.9 174.8h.01M202.4 180.9h.01M233.4 187.7h.01" stroke="#2020B4" stroke-width="1.8" stroke-linecap="round" fill="none" opacity="0.66"/>
<path d="M207.4 162.1h.01M224.3 174.7h.01M246.6 170.2h.01M226.6 175.7h.01" stroke="#2424D0" stroke-width="1.3" stroke-linecap="round" fill="none" opacity="0.82"/>
<path d="M237.8 168.0h.01M231.4 164.3h.01M218.6 186.9h.01M189.0 198.4h.01M248.8 173.5h.01M218.6 178.8h.01" stroke="#1E1EC0" stroke-width="1.2" stroke-linecap="round" fill="none" opacity="0.66"/>
<path d="M233.1 169.1h.01M201.6 171.2h.01M206.7 172.9h.01M189.5 181.6h.01M249.1 191.0h.01M207.7 159.0h.01M192.1 173.9h.01M198.7 173.3h.01M224.9 169.1h.01M245.8 174.0h.01" stroke="#1E1EC0" stroke-width="1.3" stroke-linecap="round" fill="none" opacity="0.81"/>
<path d="M222.4 170.4h.01M236.7 165.1h.01M230.1 193.5h.01M189.8 179.4h.01M246.5 164.3h.01M237.6 180.7h.01" stroke="#13138A" stroke-width="1.6" stroke-linecap="round" fill="none" opacity="0.57"/>
<path d="M247.7 170.5h.01M227.3 168.2h.01M232.3 171.7h.01M224.1 177.7h.01M218.8 175.1h.01M240.3 164.8h.01" stroke="#1717A4" stroke-width="1.5" stroke-linecap="round" fill="none" opacity="0.52"/>
<path d="M192.4 172.4h.01M208.9 179.8h.01M207.1 188.1h.01M222.6 195.0h.01M230.1 166.1h.01" stroke="#2020B4" stroke-width="1.7" stroke-linecap="round" fill="none" opacity="0.56"/>
<path d="M191.0 175.0h.01M209.2 178.9h.01M215.1 173.3h.01M233.9 190.1h.01M238.0 178.3h.01M202.2 172.3h.01M245.0 168.7h.01M221.3 169.9h.01M213.6 181.0h.01M242.9 171.9h.01M234.4 178.8h.01M217.7 170.5h.01M191.1 182.4h.01" stroke="#2424D0" stroke-width="1.8" stroke-linecap="round" fill="none" opacity="0.41"/>
<path d="M209.2 171.5h.01M208.0 184.6h.01M233.3 166.2h.01M189.5 186.9h.01M241.1 172.9h.01M206.3 178.0h.01M196.8 175.4h.01" stroke="#2020B4" stroke-width="1.4" stroke-linecap="round" fill="none" opacity="0.52"/>
<path d="M247.8 173.7h.01M222.5 188.1h.01M193.8 181.8h.01M216.9 174.7h.01M238.2 162.4h.01M185.3 176.8h.01M214.1 176.5h.01M186.7 195.1h.01M202.5 171.4h.01M249.1 193.4h.01M200.5 180.1h.01" stroke="#13138A" stroke-width="1.7" stroke-linecap="round" fill="none" opacity="0.85"/>
<path d="M210.3 178.6h.01M243.0 183.5h.01M249.0 175.7h.01M248.3 171.9h.01M247.4 174.9h.01M239.6 166.2h.01" stroke="#2020B4" stroke-width="1.6" stroke-linecap="round" fill="none" opacity="0.57"/>
<path d="M229.3 173.4h.01M218.6 169.8h.01M200.1 171.5h.01M210.1 195.5h.01M240.1 198.2h.01" stroke="#2020B4" stroke-width="1.2" stroke-linecap="round" fill="none" opacity="0.55"/>
<path d="M223.5 177.5h.01M236.1 168.6h.01M248.3 190.2h.01" stroke="#1717A4" stroke-width="1.9" stroke-linecap="round" fill="none" opacity="0.51"/>
<path d="M246.3 171.8h.01M236.0 176.8h.01M208.4 171.1h.01M232.0 168.3h.01M225.9 173.5h.01M206.1 177.0h.01M238.6 168.2h.01M192.5 172.8h.01M220.9 175.5h.01M186.2 179.3h.01M236.5 167.6h.01M232.3 183.8h.01" stroke="#13138A" stroke-width="1.3" stroke-linecap="round" fill="none" opacity="0.64"/>
<path d="M190.0 195.7h.01M197.1 195.4h.01M192.8 185.6h.01M229.5 182.6h.01M197.7 180.9h.01M230.7 195.4h.01" stroke="#1717A4" stroke-width="1.3" stroke-linecap="round" fill="none" opacity="0.66"/>
<path d="M238.1 172.5h.01M198.1 183.2h.01M246.7 167.2h.01M193.3 188.0h.01" stroke="#1717A4" stroke-width="1.7" stroke-linecap="round" fill="none" opacity="0.87"/>
<path d="M203.3 195.1h.01M204.4 171.0h.01M185.2 182.9h.01M245.7 176.9h.01M195.0 196.6h.01M237.8 166.6h.01" stroke="#2020B4" stroke-width="1.3" stroke-linecap="round" fill="none" opacity="0.87"/>
<path d="M234.2 172.9h.01M214.3 171.9h.01" stroke="#1717A4" stroke-width="1.6" stroke-linecap="round" fill="none" opacity="0.51"/>
<path d="M190.1 176.6h.01M233.6 179.3h.01" stroke="#1717A4" stroke-width="1.1" stroke-linecap="round" fill="none" opacity="0.65"/>
<path d="M243.5 172.2h.01M222.7 172.3h.01M239.1 183.9h.01M203.6 195.1h.01" stroke="#1E1EC0" stroke-width="1.5" stroke-linecap="round" fill="none" opacity="0.8"/>
<path d="M219.1 173.8h.01" stroke="#1E1EC0" stroke-width="1.1" stroke-linecap="round" fill="none" opacity="0.47"/>
<path d="M220.2 171.9h.01M200.1 173.9h.01M206.9 160.4h.01M193.7 198.4h.01" stroke="#2020B4" stroke-width="1.5" stroke-linecap="round" fill="none" opacity="0.83"/>
<path d="M218.8 172.1h.01" stroke="#2424D0" stroke-width="1.9" stroke-linecap="round" fill="none" opacity="0.9"/>
<path d="M207.7 170.4h.01M200.9 173.6h.01M210.3 185.2h.01M202.9 173.4h.01M186.8 183.1h.01M198.2 177.8h.01" stroke="#2424D0" stroke-width="1.4" stroke-linecap="round" fill="none" opacity="0.68"/>
<path d="M241.8 176.3h.01M233.8 167.4h.01" stroke="#1E1EC0" stroke-width="1.9" stroke-linecap="round" fill="none" opacity="0.75"/>
<path d="M206.5 165.6h.01M201.8 173.6h.01" stroke="#2424D0" stroke-width="1.7" stroke-linecap="round" fill="none" opacity="0.6"/>
</g>
<path d="M184.0 184.6C185.0 184.4 187.7 184.0 190.0 183.6C192.3 183.2 195.3 182.3 198.0 182.0C200.7 181.7 203.3 181.9 206.0 181.6C208.7 181.3 211.3 180.9 214.0 180.4C216.7 179.9 219.3 179.2 222.0 178.4C224.7 177.6 227.7 176.3 230.0 175.6C232.3 174.9 234.2 174.0 236.0 174.0C237.8 174.0 239.3 175.0 241.0 175.6C242.7 176.2 244.5 177.1 246.0 177.6C247.5 178.1 249.3 178.3 250.0 178.4" stroke="#F8F4EC" stroke-width="0.7" stroke-dasharray="0.7 0.9" fill="none" opacity="0.95"/>
<path d="M190.6 181.6h.01M196.2 180.2h.01M205.6 179.6h.01M214.6 178.2h.01M217.2 176.2h.01M229.6 171.6h.01M236.8 172.6h.01M210.6 181.0h.01" stroke="#F2D8F2" stroke-width="1.5" stroke-linecap="round" fill="none" opacity="0.95"/>
<path d="M190.8 181.7h.01M196.4 180.3h.01M205.8 179.7h.01M214.8 178.3h.01M217.4 176.3h.01" stroke="#FF7AB0" stroke-width="0.7" stroke-linecap="round" fill="none" opacity="0.8"/>
<rect x="235.8" y="153.3" width="10.5" height="1.5" fill="#fff"/>
</g>
<text x="188.6" y="158.5" font-family='"Liberation Sans", sans-serif' font-size="5.5" font-weight="bold" fill="#fff" text-anchor="start" stroke="#fff" stroke-width="0.3">Nby</text>
<g clip-path="url(#cB1)">
<rect x="250.6" y="151.1" width="63.900000000000006" height="47.70000000000002" fill="#010108"/>
<path d="M250 167.0L254 166.6L258 164.0L262 161.6L266 161.0L270 162.4L274 165.0L278 166.6L283 167.4L289 166.6L295 165.6L299 164.6L301.5 170.0L302.8 165.0L304.4 161.0L307.6 158.4L311 157.6L315 158.0L315 164.5L311 164.1L307.6 164.9L304.4 167.5L302.8 171.5L301.5 176.5L299 180.1L295 181.1L289 182.1L283 182.9L278 182.1L274 180.5L270 177.9L266 176.5L262 177.1L258 179.5L254 182.1L250 182.5Z" fill="#0E0E90" opacity="0.3" filter="url(#bl2)"/>
<g filter="url(#bl3)">
<path d="M267.5 167.9h.01M305.4 165.6h.01M281.1 173.0h.01M308.7 159.0h.01M254.5 167.9h.01M278.5 176.9h.01M294.7 164.9h.01M305.8 164.7h.01" stroke="#13138A" stroke-width="1.8" stroke-linecap="round" fill="none" opacity="0.36"/>
<path d="M276.8 177.8h.01M285.6 170.4h.01M289.8 174.0h.01M274.8 171.4h.01M292.3 169.6h.01" stroke="#1E1EC0" stroke-width="1.9" stroke-linecap="round" fill="none" opacity="0.63"/>
<path d="M291.1 174.2h.01M281.0 176.8h.01M269.2 164.7h.01" stroke="#1717A4" stroke-width="1.2" stroke-linecap="round" fill="none" opacity="0.6"/>
<path d="M291.3 172.0h.01M256.3 173.4h.01M275.0 180.1h.01M275.6 166.1h.01M271.0 170.6h.01M258.9 189.5h.01M277.5 171.8h.01" stroke="#1717A4" stroke-width="1.4" stroke-linecap="round" fill="none" opacity="0.63"/>
<path d="M274.8 164.6h.01M271.8 176.9h.01M265.0 160.9h.01M273.0 170.4h.01M278.8 171.5h.01" stroke="#13138A" stroke-width="1.7" stroke-linecap="round" fill="none" opacity="0.7"/>
<path d="M257.4 176.8h.01M292.9 173.8h.01M284.3 173.1h.01M260.4 165.1h.01" stroke="#1E1EC0" stroke-width="1.8" stroke-linecap="round" fill="none" opacity="0.45"/>
<path d="M268.5 164.4h.01M255.3 173.3h.01M254.1 172.6h.01" stroke="#2424D0" stroke-width="1.1" stroke-linecap="round" fill="none" opacity="0.47"/>
<path d="M271.0 196.8h.01M280.3 179.3h.01M259.2 174.9h.01M268.5 186.0h.01M283.7 169.0h.01" stroke="#2020B4" stroke-width="1.2" stroke-linecap="round" fill="none" opacity="0.5"/>
<path d="M261.2 175.8h.01M270.0 170.4h.01M266.3 172.0h.01" stroke="#13138A" stroke-width="1.1" stroke-linecap="round" fill="none" opacity="0.3"/>
<path d="M303.3 164.1h.01M298.6 169.6h.01M263.6 162.8h.01M290.9 176.5h.01M292.6 179.5h.01M270.1 164.1h.01M300.6 173.5h.01M296.1 178.4h.01M311.4 160.1h.01M285.2 182.1h.01M273.1 170.3h.01M292.3 167.4h.01" stroke="#2020B4" stroke-width="1.7" stroke-linecap="round" fill="none" opacity="0.36"/>
<path d="M272.3 191.4h.01M291.5 187.8h.01M305.6 161.1h.01M281.6 171.4h.01M287.7 167.3h.01" stroke="#2020B4" stroke-width="1.5" stroke-linecap="round" fill="none" opacity="0.3"/>
<path d="M273.1 172.8h.01M288.4 165.8h.01M258.8 173.3h.01M261.6 168.8h.01M283.5 181.6h.01" stroke="#2424D0" stroke-width="1.2" stroke-linecap="round" fill="none" opacity="0.38"/>
<path d="M288.9 166.3h.01M305.7 162.4h.01M263.8 175.7h.01M295.0 163.3h.01M281.8 168.7h.01M292.9 171.5h.01" stroke="#1717A4" stroke-width="1.5" stroke-linecap="round" fill="none" opacity="0.57"/>
<path d="M291.8 171.6h.01M254.6 180.2h.01M282.7 181.6h.01M269.7 177.9h.01" stroke="#2424D0" stroke-width="1.7" stroke-linecap="round" fill="none" opacity="0.6"/>
<path d="M259.2 168.2h.01M302.2 167.3h.01M253.5 174.1h.01" stroke="#1717A4" stroke-width="1.1" stroke-linecap="round" fill="none" opacity="0.65"/>
<path d="M300.8 171.5h.01M308.3 157.9h.01M312.0 161.3h.01M273.7 179.2h.01M259.0 177.5h.01M282.2 175.5h.01M274.7 170.9h.01M260.5 171.5h.01" stroke="#2424D0" stroke-width="1.5" stroke-linecap="round" fill="none" opacity="0.44"/>
<path d="M257.0 170.3h.01M263.5 161.8h.01M296.0 180.3h.01M256.4 170.3h.01M281.9 190.8h.01M263.7 161.6h.01M281.8 175.7h.01M281.4 180.7h.01" stroke="#13138A" stroke-width="1.6" stroke-linecap="round" fill="none" opacity="0.76"/>
<path d="M314.2 158.0h.01M284.4 169.5h.01M254.8 168.3h.01M262.4 157.8h.01M280.4 168.8h.01M256.4 168.9h.01" stroke="#13138A" stroke-width="1.4" stroke-linecap="round" fill="none" opacity="0.31"/>
<path d="M270.2 164.5h.01M256.3 168.9h.01M252.5 175.5h.01M285.1 169.5h.01M255.2 180.8h.01M266.5 194.1h.01M277.8 180.6h.01M259.2 162.6h.01M283.1 160.5h.01M305.2 166.6h.01" stroke="#2424D0" stroke-width="1.3" stroke-linecap="round" fill="none" opacity="0.81"/>
<path d="M306.8 160.5h.01M284.5 169.1h.01M264.5 175.9h.01M252.6 192.5h.01M262.8 171.3h.01M307.9 175.2h.01" stroke="#13138A" stroke-width="1.5" stroke-linecap="round" fill="none" opacity="0.49"/>
<path d="M307.7 162.5h.01M283.6 168.0h.01M291.2 172.3h.01M255.0 178.5h.01M261.9 174.5h.01M291.9 178.0h.01M277.7 177.4h.01" stroke="#1E1EC0" stroke-width="1.7" stroke-linecap="round" fill="none" opacity="0.71"/>
<path d="M275.7 177.3h.01M294.2 169.9h.01M271.3 189.7h.01M271.0 163.4h.01M297.2 177.7h.01M267.8 167.5h.01M279.1 178.3h.01M286.7 179.4h.01" stroke="#2020B4" stroke-width="1.4" stroke-linecap="round" fill="none" opacity="0.41"/>
<path d="M261.1 173.2h.01M283.5 179.8h.01M309.7 162.7h.01M305.1 161.6h.01M280.2 180.4h.01M251.0 176.1h.01" stroke="#1E1EC0" stroke-width="1.2" stroke-linecap="round" fill="none" opacity="0.31"/>
<path d="M288.7 178.3h.01M278.6 174.1h.01M297.2 175.2h.01M288.9 173.2h.01M257.6 187.0h.01M270.0 172.2h.01M284.5 173.6h.01M258.1 177.9h.01M284.8 170.5h.01M306.5 166.9h.01M274.0 193.0h.01M296.5 185.0h.01" stroke="#2020B4" stroke-width="1.8" stroke-linecap="round" fill="none" opacity="0.46"/>
<path d="M274.7 178.9h.01M288.8 169.9h.01M272.1 167.2h.01M260.7 171.6h.01M270.8 177.3h.01M276.5 176.7h.01M252.8 173.9h.01M283.1 175.2h.01M286.0 177.2h.01M299.7 169.5h.01" stroke="#1717A4" stroke-width="1.8" stroke-linecap="round" fill="none" opacity="0.59"/>
<path d="M265.9 176.5h.01M296.8 194.6h.01M275.3 178.8h.01M279.6 175.2h.01M280.9 176.2h.01" stroke="#2020B4" stroke-width="1.1" stroke-linecap="round" fill="none" opacity="0.51"/>
<path d="M268.3 165.4h.01M290.8 173.4h.01" stroke="#1E1EC0" stroke-width="1.1" stroke-linecap="round" fill="none" opacity="0.75"/>
<path d="M302.5 167.5h.01M274.9 171.7h.01M258.8 193.2h.01M273.8 179.2h.01M280.6 173.8h.01M281.3 171.7h.01" stroke="#1717A4" stroke-width="1.7" stroke-linecap="round" fill="none" opacity="0.38"/>
<path d="M250.7 166.9h.01M305.0 165.0h.01M265.5 172.5h.01M285.0 177.4h.01" stroke="#1E1EC0" stroke-width="1.4" stroke-linecap="round" fill="none" opacity="0.46"/>
<path d="M310.8 165.6h.01M250.6 170.3h.01M285.8 166.1h.01M274.2 178.1h.01M265.5 167.7h.01M292.6 187.1h.01" stroke="#2020B4" stroke-width="1.9" stroke-linecap="round" fill="none" opacity="0.75"/>
<path d="M256.4 167.9h.01M269.5 172.2h.01M258.2 172.7h.01M271.7 165.0h.01M270.5 174.4h.01M265.3 161.3h.01M259.1 177.3h.01M287.1 172.2h.01M286.6 172.5h.01M284.2 189.6h.01" stroke="#2424D0" stroke-width="1.4" stroke-linecap="round" fill="none" opacity="0.67"/>
<path d="M313.3 162.9h.01M267.8 164.3h.01M255.9 170.8h.01M268.1 170.4h.01" stroke="#2424D0" stroke-width="1.6" stroke-linecap="round" fill="none" opacity="0.41"/>
<path d="M266.2 166.7h.01M270.3 165.5h.01M297.1 174.4h.01M301.3 170.8h.01M286.4 171.6h.01M285.5 168.1h.01" stroke="#2020B4" stroke-width="1.3" stroke-linecap="round" fill="none" opacity="0.64"/>
<path d="M286.8 177.4h.01M292.1 172.5h.01M258.0 165.9h.01" stroke="#2424D0" stroke-width="1.8" stroke-linecap="round" fill="none" opacity="0.4"/>
<path d="M277.9 168.7h.01M276.6 175.2h.01M275.6 168.5h.01M263.3 161.6h.01M270.2 167.8h.01M290.4 185.1h.01M282.7 179.3h.01" stroke="#13138A" stroke-width="1.3" stroke-linecap="round" fill="none" opacity="0.7"/>
<path d="M301.7 168.5h.01M280.8 175.1h.01" stroke="#2424D0" stroke-width="1.9" stroke-linecap="round" fill="none" opacity="0.52"/>
<path d="M261.3 172.4h.01M281.0 172.4h.01M309.6 158.8h.01M302.6 169.7h.01" stroke="#13138A" stroke-width="1.2" stroke-linecap="round" fill="none" opacity="0.43"/>
<path d="M261.3 188.1h.01M267.2 169.4h.01M254.3 178.7h.01M267.0 171.4h.01M258.7 166.4h.01M277.9 174.6h.01M266.2 161.6h.01" stroke="#1E1EC0" stroke-width="1.5" stroke-linecap="round" fill="none" opacity="0.44"/>
<path d="M278.4 174.2h.01M255.0 165.9h.01M273.0 171.2h.01M255.9 176.2h.01" stroke="#2020B4" stroke-width="1.6" stroke-linecap="round" fill="none" opacity="0.78"/>
<path d="M253.1 168.7h.01M257.7 175.8h.01M311.9 162.0h.01M251.4 171.4h.01M307.5 158.1h.01M278.4 179.6h.01M273.8 179.8h.01" stroke="#1E1EC0" stroke-width="1.3" stroke-linecap="round" fill="none" opacity="0.39"/>
<path d="M266.3 165.4h.01M313.1 161.6h.01M284.6 168.6h.01" stroke="#1717A4" stroke-width="1.6" stroke-linecap="round" fill="none" opacity="0.54"/>
<path d="M260.2 186.1h.01M268.5 170.3h.01M250.8 169.7h.01M296.6 164.9h.01M296.9 172.5h.01" stroke="#1717A4" stroke-width="1.3" stroke-linecap="round" fill="none" opacity="0.62"/>
<path d="M293.1 177.7h.01M298.1 173.0h.01" stroke="#13138A" stroke-width="1.9" stroke-linecap="round" fill="none" opacity="0.83"/>
<path d="M255.6 180.4h.01M256.3 167.7h.01M287.7 171.7h.01" stroke="#1E1EC0" stroke-width="1.6" stroke-linecap="round" fill="none" opacity="0.31"/>
<path d="M296.0 179.0h.01" stroke="#1717A4" stroke-width="1.9" stroke-linecap="round" fill="none" opacity="0.7"/>
</g>
<path d="M250.0 182.0C250.7 181.9 252.7 182.1 254.0 181.6C255.3 181.1 256.7 179.8 258.0 179.0C259.3 178.2 260.7 177.1 262.0 176.6C263.3 176.1 264.7 175.9 266.0 176.0C267.3 176.1 268.7 176.7 270.0 177.4C271.3 178.1 272.7 179.3 274.0 180.0C275.3 180.7 276.5 181.2 278.0 181.6C279.5 182.0 281.2 182.4 283.0 182.4C284.8 182.4 287.0 181.9 289.0 181.6C291.0 181.3 293.3 180.9 295.0 180.6C296.7 180.3 297.9 180.4 299.0 179.6C300.1 178.8 300.9 177.4 301.5 176.0C302.1 174.6 302.3 172.5 302.8 171.0C303.3 169.5 303.6 168.1 304.4 167.0C305.2 165.9 306.5 165.0 307.6 164.4C308.7 163.8 309.8 163.7 311.0 163.6C312.2 163.5 314.3 163.9 315.0 164.0" stroke="#F8F4EC" stroke-width="0.7" stroke-dasharray="0.7 0.9" fill="none" opacity="0.95"/>
<path d="M288.4 180.2h.01M289.6 180.4h.01" stroke="#E8E4FF" stroke-width="1.2" stroke-linecap="round" fill="none" opacity="0.95"/>
<rect x="300.0" y="153.3" width="10.5" height="1.5" fill="#fff"/>
</g>
<text x="253.8" y="158.5" font-family='"Liberation Sans", sans-serif' font-size="5.5" font-weight="bold" fill="#fff" text-anchor="start" stroke="#fff" stroke-width="0.3">Exp</text>
<g clip-path="url(#cA2)">
<rect x="184.8" y="200.0" width="64.39999999999998" height="47.80000000000001" fill="#04041A"/>
<path d="M184 211.6L185.7 213.4L187.4 217.2L189.6 219.2L191.7 219.8L193.8 218.8L195.9 217.2L199.3 213.8L202.7 215.5L205 214.6L207 213.0L208.8 210.2L210.4 207.9L211.8 208.6L212.9 210.4L215.5 214.7L218.9 217.2L223.1 219.8L227.4 220.6L230.8 218.1L233.3 213.8L235 215.5L237.6 217.2L240.1 213.8L242.7 207.0L250 200L250 214L243.9 211.4L242.7 216.5L240.1 223.3L237.6 226.7L235 225.0L233.3 223.3L230.8 227.6L227.4 230.1L223.1 229.3L218.9 226.7L215.5 224.2L212.9 219.9L211.8 218.1L210.4 217.4L208.8 219.7L207 222.5L205 224.1L202.7 225.0L199.3 223.3L195.9 226.7L193.8 228.3L191.7 229.3L189.6 228.7L187.4 226.7L185.7 222.9L184 221.1Z" fill="#101098" opacity="0.36" filter="url(#bl2)"/>
<g filter="url(#bl3)">
<path d="M246.3 213.9h.01M192.3 223.9h.01M223.3 227.6h.01M231.5 221.1h.01M199.6 221.4h.01M230.5 218.3h.01M245.7 212.2h.01M249.2 224.7h.01" stroke="#1E1EC0" stroke-width="1.4" stroke-linecap="round" fill="none" opacity="0.56"/>
<path d="M199.8 219.3h.01M213.5 215.6h.01M191.1 228.1h.01M205.3 231.4h.01M226.2 224.6h.01M202.6 220.5h.01" stroke="#2020B4" stroke-width="1.0" stroke-linecap="round" fill="none" opacity="0.3"/>
<path d="M224.9 220.0h.01M214.5 220.4h.01M213.2 218.4h.01M235.5 221.5h.01M197.0 225.1h.01M187.5 227.6h.01M202.1 214.9h.01" stroke="#1717A4" stroke-width="1.2" stroke-linecap="round" fill="none" opacity="0.37"/>
<path d="M185.0 216.1h.01M244.9 213.4h.01" stroke="#1E1EC0" stroke-width="1.5" stroke-linecap="round" fill="none" opacity="0.62"/>
<path d="M206.5 217.6h.01M188.1 218.7h.01M201.9 221.7h.01" stroke="#1717A4" stroke-width="0.8" stroke-linecap="round" fill="none" opacity="0.75"/>
<path d="M231.2 217.2h.01M219.1 221.0h.01" stroke="#13138A" stroke-width="0.8" stroke-linecap="round" fill="none" opacity="0.52"/>
<path d="M186.6 212.3h.01M239.6 223.2h.01M226.5 226.0h.01M239.1 241.9h.01M196.8 222.5h.01M248.5 220.0h.01M234.3 220.3h.01M238.9 221.8h.01" stroke="#1E1EC0" stroke-width="1.2" stroke-linecap="round" fill="none" opacity="0.71"/>
<path d="M213.3 216.3h.01M240.3 212.5h.01M229.0 222.5h.01M196.6 225.3h.01M245.9 223.9h.01M230.1 225.9h.01M185.4 213.6h.01M247.4 220.3h.01M189.2 238.2h.01" stroke="#2020B4" stroke-width="1.4" stroke-linecap="round" fill="none" opacity="0.46"/>
<path d="M202.0 214.8h.01M225.9 227.2h.01M219.9 225.7h.01M210.8 213.0h.01M194.1 224.9h.01M186.1 215.7h.01M247.9 221.9h.01M231.8 224.5h.01" stroke="#2424D0" stroke-width="0.9" stroke-linecap="round" fill="none" opacity="0.68"/>
<path d="M225.5 221.8h.01M206.8 217.0h.01M226.5 225.0h.01M245.2 209.2h.01M243.2 219.8h.01M238.7 214.9h.01M227.9 227.1h.01M203.5 223.7h.01" stroke="#1E1EC0" stroke-width="1.0" stroke-linecap="round" fill="none" opacity="0.72"/>
<path d="M230.5 222.5h.01M222.7 231.5h.01M248.6 222.8h.01M235.5 220.6h.01M191.3 211.7h.01" stroke="#13138A" stroke-width="1.0" stroke-linecap="round" fill="none" opacity="0.79"/>
<path d="M206.7 218.4h.01M245.3 205.4h.01M189.9 218.5h.01M221.3 221.9h.01M236.4 220.1h.01M244.5 220.6h.01M224.4 222.7h.01M222.4 230.0h.01M226.6 242.0h.01" stroke="#13138A" stroke-width="1.4" stroke-linecap="round" fill="none" opacity="0.37"/>
<path d="M222.6 226.4h.01M201.8 222.3h.01M197.8 231.8h.01M219.5 220.0h.01M188.1 215.0h.01M206.2 220.7h.01M247.9 224.7h.01M185.5 207.1h.01" stroke="#2020B4" stroke-width="1.2" stroke-linecap="round" fill="none" opacity="0.8"/>
<path d="M196.5 224.8h.01M199.4 216.3h.01M216.3 217.2h.01M185.1 214.0h.01" stroke="#2020B4" stroke-width="0.9" stroke-linecap="round" fill="none" opacity="0.68"/>
<path d="M188.9 224.0h.01M247.8 204.2h.01M227.9 241.0h.01M199.7 216.9h.01M229.8 236.7h.01M231.5 204.4h.01M191.8 227.4h.01M186.7 219.6h.01" stroke="#13138A" stroke-width="1.2" stroke-linecap="round" fill="none" opacity="0.68"/>
<path d="M248.7 204.1h.01M243.2 214.1h.01M186.2 214.0h.01M240.6 216.8h.01M229.1 219.8h.01M236.7 218.4h.01M218.6 221.4h.01M197.7 217.1h.01" stroke="#13138A" stroke-width="1.5" stroke-linecap="round" fill="none" opacity="0.3"/>
<path d="M227.0 220.0h.01M211.4 217.5h.01M233.8 220.8h.01M185.5 220.7h.01M243.2 207.7h.01M234.4 221.1h.01M248.5 214.1h.01" stroke="#1717A4" stroke-width="1.5" stroke-linecap="round" fill="none" opacity="0.47"/>
<path d="M200.3 220.6h.01M229.7 236.7h.01M220.8 224.2h.01M221.1 222.4h.01M213.9 218.4h.01M237.6 221.4h.01M185.8 222.2h.01" stroke="#1717A4" stroke-width="1.4" stroke-linecap="round" fill="none" opacity="0.79"/>
<path d="M249.0 215.7h.01M213.5 219.8h.01M206.8 207.2h.01M230.4 227.1h.01M220.9 219.3h.01M228.6 227.1h.01M215.5 214.1h.01" stroke="#13138A" stroke-width="1.1" stroke-linecap="round" fill="none" opacity="0.79"/>
<path d="M190.4 245.1h.01M230.8 217.5h.01M221.9 247.0h.01M237.4 219.1h.01M190.1 226.5h.01" stroke="#1E1EC0" stroke-width="0.8" stroke-linecap="round" fill="none" opacity="0.34"/>
<path d="M229.5 222.2h.01M241.4 215.6h.01M248.7 219.8h.01" stroke="#2424D0" stroke-width="1.2" stroke-linecap="round" fill="none" opacity="0.64"/>
<path d="M185.2 219.8h.01M246.7 212.6h.01" stroke="#2020B4" stroke-width="1.3" stroke-linecap="round" fill="none" opacity="0.41"/>
<path d="M240.5 216.9h.01M184.9 218.5h.01M192.8 223.4h.01M216.2 218.8h.01M212.5 243.8h.01M191.5 229.9h.01M189.0 225.3h.01" stroke="#1E1EC0" stroke-width="0.9" stroke-linecap="round" fill="none" opacity="0.63"/>
<path d="M236.3 218.2h.01M232.0 216.2h.01M235.1 235.3h.01M236.9 216.4h.01M186.6 220.0h.01M228.0 238.2h.01M234.8 221.2h.01" stroke="#2424D0" stroke-width="1.4" stroke-linecap="round" fill="none" opacity="0.42"/>
<path d="M208.7 210.8h.01M199.3 218.6h.01M237.4 223.6h.01M238.9 226.1h.01M207.5 220.3h.01M204.1 221.0h.01M184.9 215.3h.01M232.9 213.7h.01M199.7 228.8h.01" stroke="#1E1EC0" stroke-width="1.3" stroke-linecap="round" fill="none" opacity="0.49"/>
<path d="M217.7 216.9h.01M237.8 219.8h.01M220.4 217.7h.01M225.3 220.4h.01M247.7 209.0h.01" stroke="#1717A4" stroke-width="1.0" stroke-linecap="round" fill="none" opacity="0.65"/>
<path d="M244.3 211.7h.01M210.0 211.9h.01M229.8 226.4h.01M202.6 219.6h.01M186.7 214.9h.01M216.2 226.6h.01" stroke="#2424D0" stroke-width="1.3" stroke-linecap="round" fill="none" opacity="0.36"/>
<path d="M188.6 222.1h.01M220.3 223.9h.01M214.8 218.8h.01M212.2 213.9h.01M186.0 213.6h.01M235.3 215.7h.01" stroke="#13138A" stroke-width="0.9" stroke-linecap="round" fill="none" opacity="0.75"/>
<path d="M201.3 217.6h.01M203.0 217.7h.01M240.8 212.3h.01M199.3 213.9h.01M210.0 210.7h.01M187.3 223.9h.01" stroke="#2020B4" stroke-width="0.8" stroke-linecap="round" fill="none" opacity="0.42"/>
<path d="M203.4 214.2h.01M187.2 225.3h.01M201.0 213.9h.01M242.9 225.0h.01M190.8 239.1h.01M215.2 218.2h.01" stroke="#2020B4" stroke-width="1.1" stroke-linecap="round" fill="none" opacity="0.4"/>
<path d="M223.8 227.1h.01M188.6 223.6h.01M185.3 219.8h.01M226.0 230.1h.01M212.4 217.4h.01M218.6 223.3h.01M210.8 209.4h.01M248.5 217.7h.01" stroke="#1717A4" stroke-width="1.1" stroke-linecap="round" fill="none" opacity="0.73"/>
<path d="M213.8 214.8h.01M233.6 210.7h.01M216.8 229.4h.01" stroke="#2424D0" stroke-width="1.0" stroke-linecap="round" fill="none" opacity="0.36"/>
<path d="M241.1 220.4h.01M219.2 223.0h.01M188.2 217.8h.01" stroke="#13138A" stroke-width="1.3" stroke-linecap="round" fill="none" opacity="0.63"/>
<path d="M241.2 211.7h.01M212.2 225.6h.01M240.5 221.3h.01M231.2 240.7h.01M190.9 222.8h.01M186.0 214.3h.01" stroke="#2424D0" stroke-width="1.1" stroke-linecap="round" fill="none" opacity="0.33"/>
<path d="M200.1 221.4h.01M208.1 217.6h.01M247.8 222.8h.01M205.8 214.8h.01M209.1 215.6h.01M190.5 218.8h.01M241.3 209.7h.01" stroke="#1E1EC0" stroke-width="1.1" stroke-linecap="round" fill="none" opacity="0.7"/>
<path d="M246.4 236.1h.01M230.4 210.9h.01M194.3 217.5h.01M205.3 213.6h.01M209.7 212.2h.01M244.4 207.1h.01M218.0 219.8h.01M230.2 224.5h.01" stroke="#1717A4" stroke-width="0.9" stroke-linecap="round" fill="none" opacity="0.48"/>
<path d="M248.2 214.1h.01M234.7 216.0h.01" stroke="#2424D0" stroke-width="1.5" stroke-linecap="round" fill="none" opacity="0.74"/>
<path d="M205.8 214.6h.01" stroke="#2020B4" stroke-width="1.5" stroke-linecap="round" fill="none" opacity="0.76"/>
<path d="M233.7 213.2h.01M231.3 217.0h.01M217.4 215.4h.01M230.6 222.5h.01M243.0 208.4h.01" stroke="#1717A4" stroke-width="1.3" stroke-linecap="round" fill="none" opacity="0.56"/>
<path d="M220.2 218.7h.01" stroke="#2424D0" stroke-width="0.8" stroke-linecap="round" fill="none" opacity="0.34"/>
</g>
<path d="M184.0 218.8C184.3 219.1 185.1 219.7 185.7 220.6C186.3 221.5 186.8 223.4 187.4 224.4C188.1 225.4 188.9 226.0 189.6 226.4C190.3 226.8 191.0 227.1 191.7 227.0C192.4 226.9 193.1 226.4 193.8 226.0C194.5 225.6 195.0 225.2 195.9 224.4C196.8 223.6 198.2 221.3 199.3 221.0C200.4 220.7 201.8 222.6 202.7 222.7C203.6 222.8 204.3 222.2 205.0 221.8C205.7 221.4 206.4 220.9 207.0 220.2C207.6 219.5 208.2 218.2 208.8 217.4C209.4 216.5 209.9 215.4 210.4 215.1C210.9 214.8 211.4 215.4 211.8 215.8C212.2 216.2 212.3 216.6 212.9 217.6C213.5 218.6 214.5 220.8 215.5 221.9C216.5 223.0 217.6 223.5 218.9 224.4C220.2 225.2 221.7 226.4 223.1 227.0C224.5 227.6 226.1 228.1 227.4 227.8C228.7 227.5 229.8 226.4 230.8 225.3C231.8 224.2 232.6 221.4 233.3 221.0C234.0 220.6 234.3 222.1 235.0 222.7C235.7 223.3 236.8 224.7 237.6 224.4C238.4 224.1 239.2 222.7 240.1 221.0C240.9 219.3 242.1 216.2 242.7 214.2C243.3 212.2 243.7 209.9 243.9 209.1" stroke="#1890A0" stroke-width="1.6" fill="none" opacity="0.45" filter="url(#bl)"/>
<path d="M184.0 220.6C184.3 220.9 185.1 221.5 185.7 222.4C186.3 223.3 186.8 225.2 187.4 226.2C188.1 227.2 188.9 227.8 189.6 228.2C190.3 228.6 191.0 228.9 191.7 228.8C192.4 228.7 193.1 228.2 193.8 227.8C194.5 227.4 195.0 227.0 195.9 226.2C196.8 225.4 198.2 223.1 199.3 222.8C200.4 222.5 201.8 224.4 202.7 224.5C203.6 224.6 204.3 224.0 205.0 223.6C205.7 223.2 206.4 222.7 207.0 222.0C207.6 221.3 208.2 220.0 208.8 219.2C209.4 218.3 209.9 217.2 210.4 216.9C210.9 216.6 211.4 217.2 211.8 217.6C212.2 218.0 212.3 218.4 212.9 219.4C213.5 220.4 214.5 222.6 215.5 223.7C216.5 224.8 217.6 225.3 218.9 226.2C220.2 227.0 221.7 228.2 223.1 228.8C224.5 229.4 226.1 229.9 227.4 229.6C228.7 229.3 229.8 228.2 230.8 227.1C231.8 226.0 232.6 223.2 233.3 222.8C234.0 222.4 234.3 223.9 235.0 224.5C235.7 225.1 236.8 226.5 237.6 226.2C238.4 225.9 239.2 224.5 240.1 222.8C240.9 221.1 242.1 218.0 242.7 216.0C243.3 214.0 244.1 212.3 243.9 210.9C243.8 209.5 242.5 208.2 241.8 207.5C241.1 206.8 240.0 206.8 239.6 206.6" stroke="#22B848" stroke-width="1.0" fill="none" opacity="0.55" filter="url(#bl)"/>
<g filter="url(#bl3)">
<path d="M221.4 226.1h.01M241.3 219.8h.01M215.7 222.0h.01M208.0 220.4h.01M242.4 207.0h.01M187.5 226.2h.01" stroke="#58D838" stroke-width="0.9" stroke-linecap="round" fill="none" opacity="0.77"/>
<path d="M226.0 228.9h.01M210.4 216.1h.01M186.7 224.4h.01M238.0 225.6h.01M238.8 226.0h.01M210.2 217.0h.01M238.8 224.8h.01M240.0 221.5h.01M239.8 223.5h.01M243.5 213.8h.01M206.5 223.2h.01M232.5 222.3h.01M186.7 223.6h.01M221.0 227.6h.01" stroke="#30D050" stroke-width="0.7" stroke-linecap="round" fill="none" opacity="0.66"/>
<path d="M187.1 223.7h.01M194.7 225.3h.01M200.7 222.1h.01M200.6 223.9h.01M227.2 228.9h.01M212.8 219.8h.01" stroke="#9CD838" stroke-width="0.9" stroke-linecap="round" fill="none" opacity="0.99"/>
<path d="M222.5 228.0h.01" stroke="#58D838" stroke-width="1.1" stroke-linecap="round" fill="none" opacity="0.63"/>
<path d="M190.1 227.1h.01M209.8 217.8h.01M229.7 225.8h.01M205.8 222.2h.01M192.8 226.7h.01M187.3 225.7h.01" stroke="#9CD838" stroke-width="0.8" stroke-linecap="round" fill="none" opacity="0.89"/>
<path d="M242.2 217.3h.01M187.9 226.7h.01M233.7 222.5h.01M210.1 216.3h.01M197.0 223.7h.01M220.6 226.5h.01M205.1 222.5h.01M213.4 220.4h.01" stroke="#30D050" stroke-width="1.0" stroke-linecap="round" fill="none" opacity="0.86"/>
<path d="M242.2 216.6h.01M242.5 217.2h.01M188.9 226.5h.01M226.9 230.6h.01M241.9 219.1h.01M208.5 217.9h.01M214.0 220.8h.01M227.4 227.7h.01M207.3 220.8h.01M242.2 216.2h.01" stroke="#58D838" stroke-width="0.7" stroke-linecap="round" fill="none" opacity="0.74"/>
<path d="M213.9 218.5h.01M241.7 218.4h.01M193.7 226.9h.01M208.9 218.5h.01M223.3 228.8h.01M224.3 227.6h.01M217.0 225.3h.01M193.0 226.3h.01" stroke="#28C8A0" stroke-width="1.0" stroke-linecap="round" fill="none" opacity="0.86"/>
<path d="M188.0 226.3h.01M206.5 221.9h.01M238.1 225.0h.01M223.1 228.0h.01M243.6 210.8h.01" stroke="#58D838" stroke-width="0.6" stroke-linecap="round" fill="none" opacity="0.82"/>
<path d="M212.8 217.8h.01M229.3 228.5h.01M217.4 224.4h.01M212.7 219.3h.01M188.1 227.6h.01" stroke="#9CD838" stroke-width="0.7" stroke-linecap="round" fill="none" opacity="0.97"/>
<path d="M195.9 226.6h.01M233.6 223.2h.01M214.4 221.7h.01M241.0 218.4h.01" stroke="#30D050" stroke-width="0.9" stroke-linecap="round" fill="none" opacity="0.61"/>
<path d="M184.5 220.6h.01M188.0 226.7h.01M205.4 223.1h.01M213.3 218.6h.01M187.5 225.7h.01M195.5 227.2h.01" stroke="#30D050" stroke-width="0.8" stroke-linecap="round" fill="none" opacity="0.86"/>
<path d="M196.9 224.9h.01M205.1 225.3h.01M227.5 229.1h.01M241.7 206.9h.01" stroke="#20B868" stroke-width="0.6" stroke-linecap="round" fill="none" opacity="0.92"/>
<path d="M223.6 227.3h.01M202.5 223.3h.01M214.8 222.6h.01M200.7 223.2h.01M191.2 229.0h.01M212.9 218.9h.01M232.0 224.1h.01" stroke="#58D838" stroke-width="0.8" stroke-linecap="round" fill="none" opacity="0.63"/>
<path d="M195.9 224.9h.01M208.3 220.7h.01M235.1 223.5h.01M231.7 224.8h.01M202.5 223.8h.01M211.9 217.3h.01M238.6 223.2h.01M239.7 222.9h.01M230.5 228.1h.01M242.8 209.4h.01M203.2 224.1h.01M242.0 217.7h.01" stroke="#20B868" stroke-width="1.0" stroke-linecap="round" fill="none" opacity="0.68"/>
<path d="M212.3 218.6h.01M235.6 223.9h.01M198.6 223.6h.01M238.3 224.9h.01M240.2 221.9h.01" stroke="#28C8A0" stroke-width="0.7" stroke-linecap="round" fill="none" opacity="0.75"/>
<path d="M241.3 207.1h.01M203.8 222.4h.01M243.8 209.3h.01M216.3 225.0h.01M185.5 222.7h.01M201.2 222.3h.01" stroke="#28C8A0" stroke-width="1.1" stroke-linecap="round" fill="none" opacity="0.65"/>
<path d="M187.0 226.6h.01M242.0 206.8h.01M189.8 226.9h.01M210.2 215.5h.01M185.0 221.1h.01M231.0 227.5h.01" stroke="#20B868" stroke-width="0.8" stroke-linecap="round" fill="none" opacity="0.95"/>
<path d="M238.9 223.0h.01M235.2 224.9h.01M220.3 225.6h.01M207.9 217.3h.01M213.9 220.0h.01" stroke="#28C8A0" stroke-width="0.9" stroke-linecap="round" fill="none" opacity="0.96"/>
<path d="M241.7 206.8h.01M244.3 210.5h.01M234.8 223.8h.01M227.6 228.8h.01M203.5 223.4h.01M207.5 220.1h.01M206.2 221.4h.01" stroke="#58D838" stroke-width="1.0" stroke-linecap="round" fill="none" opacity="0.99"/>
<path d="M238.3 223.7h.01M218.7 226.5h.01" stroke="#20B868" stroke-width="0.9" stroke-linecap="round" fill="none" opacity="0.65"/>
<path d="M208.6 221.8h.01M185.4 222.9h.01M209.7 217.7h.01M237.4 223.1h.01M213.4 218.3h.01M241.9 218.9h.01M213.4 220.5h.01M233.0 222.8h.01M213.7 220.4h.01M232.7 224.1h.01" stroke="#28C8A0" stroke-width="0.8" stroke-linecap="round" fill="none" opacity="0.72"/>
<path d="M215.3 222.3h.01M243.1 210.1h.01" stroke="#9CD838" stroke-width="0.6" stroke-linecap="round" fill="none" opacity="0.81"/>
<path d="M208.5 218.1h.01M242.2 216.2h.01M210.6 217.5h.01" stroke="#9CD838" stroke-width="1.0" stroke-linecap="round" fill="none" opacity="0.92"/>
<path d="M199.6 224.5h.01M240.1 206.2h.01M209.7 215.9h.01M241.0 221.1h.01M212.6 219.3h.01M229.9 229.0h.01" stroke="#20B868" stroke-width="0.7" stroke-linecap="round" fill="none" opacity="0.91"/>
<path d="M229.4 228.1h.01M212.8 219.2h.01M186.6 224.3h.01M231.3 226.2h.01" stroke="#30D050" stroke-width="1.1" stroke-linecap="round" fill="none" opacity="0.6"/>
<path d="M207.3 220.5h.01M242.0 216.4h.01M240.4 205.6h.01" stroke="#28C8A0" stroke-width="0.6" stroke-linecap="round" fill="none" opacity="0.97"/>
<path d="M204.9 222.5h.01M199.3 222.9h.01M218.2 224.7h.01M241.8 207.1h.01" stroke="#30D050" stroke-width="0.6" stroke-linecap="round" fill="none" opacity="0.84"/>
<path d="M234.4 225.1h.01M227.8 227.3h.01M242.5 216.1h.01" stroke="#9CD838" stroke-width="1.1" stroke-linecap="round" fill="none" opacity="0.85"/>
<path d="M208.3 219.2h.01M210.0 218.0h.01" stroke="#20B868" stroke-width="1.1" stroke-linecap="round" fill="none" opacity="0.99"/>
</g>
<g filter="url(#bl3)">
<path d="M247.8 221.9h.01M247.6 219.1h.01M246.8 213.7h.01" stroke="#30C850" stroke-width="0.9" stroke-linecap="round" fill="none" opacity="0.95"/>
<path d="M246.3 209.8h.01M247.5 220.5h.01" stroke="#30C850" stroke-width="0.6" stroke-linecap="round" fill="none" opacity="0.65"/>
<path d="M245.0 206.4h.01M246.6 210.9h.01" stroke="#28B070" stroke-width="0.8" stroke-linecap="round" fill="none" opacity="0.73"/>
<path d="M247.7 213.9h.01M247.0 211.9h.01" stroke="#30C850" stroke-width="0.8" stroke-linecap="round" fill="none" opacity="0.65"/>
<path d="M247.0 213.5h.01M245.0 206.2h.01M246.2 208.6h.01M245.0 206.4h.01" stroke="#30C850" stroke-width="1.0" stroke-linecap="round" fill="none" opacity="0.77"/>
<path d="M245.0 206.7h.01" stroke="#28B070" stroke-width="1.0" stroke-linecap="round" fill="none" opacity="0.99"/>
<path d="M247.2 220.1h.01" stroke="#28B070" stroke-width="0.9" stroke-linecap="round" fill="none" opacity="0.76"/>
<path d="M245.0 208.3h.01" stroke="#28B070" stroke-width="0.7" stroke-linecap="round" fill="none" opacity="0.64"/>
<path d="M247.5 216.7h.01" stroke="#28B070" stroke-width="1.1" stroke-linecap="round" fill="none" opacity="0.9"/>
<path d="M246.6 210.5h.01" stroke="#30C850" stroke-width="0.7" stroke-linecap="round" fill="none" opacity="0.65"/>
</g>
<path d="M186.6 244.0h.01M188.0 231.0h.01M206.0 234.0h.01M238.0 240.0h.01" stroke="#C02050" stroke-width="0.8" stroke-linecap="round" fill="none" opacity="0.6"/>
<rect x="234.0" y="203.9" width="10.8" height="1.8" fill="#fff"/>
</g>
<text x="188.6" y="207.6" font-family='"Liberation Sans", sans-serif' font-size="5.5" font-weight="bold" fill="#fff" text-anchor="start" stroke="#fff" stroke-width="0.3">Nby</text>
<g clip-path="url(#cB2)">
<rect x="250.6" y="200.0" width="63.900000000000006" height="47.80000000000001" fill="#03030F"/>
<path d="M250 214.0L254 213.6L258.3 213.4L264 214.8L268.2 217.0L273.1 219.4L278 218.6L283 221.0L288 225.0L292.9 227.6L299.5 229.4L299.5 240.4L292.9 238.6L288 236.0L283 232.0L278 229.6L273.1 230.4L268.2 228.0L264 225.8L258.3 224.4L254 224.6L250 225.0Z" fill="#101098" opacity="0.36" filter="url(#bl2)"/>
<path d="M292 214L315 212L315 222L306 219L296 222Z" fill="#101098" opacity="0.34" filter="url(#bl2)"/>
<g filter="url(#bl3)">
<path d="M298.3 215.7h.01M287.8 230.3h.01M284.8 227.0h.01M300.0 220.8h.01M311.0 215.2h.01M311.8 235.3h.01M273.0 221.6h.01M286.9 216.0h.01" stroke="#2424D0" stroke-width="1.2" stroke-linecap="round" fill="none" opacity="0.73"/>
<path d="M272.9 214.7h.01M308.4 218.4h.01M267.7 214.2h.01M286.5 226.4h.01M270.4 223.1h.01" stroke="#1717A4" stroke-width="0.8" stroke-linecap="round" fill="none" opacity="0.3"/>
<path d="M307.9 230.7h.01M303.6 227.3h.01M275.7 222.2h.01M276.0 213.9h.01M290.9 228.7h.01M303.6 237.6h.01M283.7 229.8h.01M275.7 218.1h.01M313.8 219.7h.01" stroke="#2020B4" stroke-width="1.1" stroke-linecap="round" fill="none" opacity="0.73"/>
<path d="M300.9 234.4h.01M255.9 221.5h.01M255.7 212.9h.01M291.0 233.8h.01M304.5 219.2h.01" stroke="#1717A4" stroke-width="0.9" stroke-linecap="round" fill="none" opacity="0.6"/>
<path d="M255.9 222.3h.01M277.7 218.1h.01M278.1 222.1h.01M300.8 229.2h.01M267.8 226.6h.01M286.4 229.1h.01M287.5 228.5h.01M298.1 213.5h.01M278.7 228.6h.01" stroke="#1717A4" stroke-width="1.3" stroke-linecap="round" fill="none" opacity="0.44"/>
<path d="M305.9 231.2h.01M314.4 219.2h.01M260.5 222.7h.01M258.9 216.8h.01M251.9 218.3h.01M254.5 211.8h.01M306.2 232.1h.01M300.1 235.7h.01M272.6 227.0h.01M309.6 234.6h.01M291.9 228.4h.01" stroke="#13138A" stroke-width="1.0" stroke-linecap="round" fill="none" opacity="0.72"/>
<path d="M270.0 220.9h.01M296.9 225.6h.01M295.5 227.4h.01M286.8 230.5h.01" stroke="#1717A4" stroke-width="1.1" stroke-linecap="round" fill="none" opacity="0.55"/>
<path d="M299.4 217.0h.01M302.4 237.5h.01M284.8 223.8h.01M278.9 220.7h.01" stroke="#13138A" stroke-width="0.8" stroke-linecap="round" fill="none" opacity="0.67"/>
<path d="M266.2 219.5h.01M294.5 224.6h.01M252.8 217.2h.01M270.0 222.5h.01M260.5 218.1h.01" stroke="#13138A" stroke-width="1.3" stroke-linecap="round" fill="none" opacity="0.48"/>
<path d="M288.4 226.8h.01M253.8 223.7h.01M313.4 214.4h.01M304.1 236.8h.01M278.6 216.3h.01" stroke="#2424D0" stroke-width="0.9" stroke-linecap="round" fill="none" opacity="0.42"/>
<path d="M303.8 232.7h.01M286.7 230.6h.01M286.0 224.9h.01M305.1 216.0h.01M267.5 218.4h.01M282.3 229.1h.01" stroke="#1E1EC0" stroke-width="1.2" stroke-linecap="round" fill="none" opacity="0.46"/>
<path d="M296.4 235.3h.01M304.8 222.3h.01M304.4 229.9h.01M295.6 232.0h.01M311.3 237.2h.01M294.0 235.8h.01" stroke="#2424D0" stroke-width="1.0" stroke-linecap="round" fill="none" opacity="0.49"/>
<path d="M279.5 221.4h.01M276.3 219.1h.01M281.7 216.9h.01M266.5 216.5h.01M303.5 219.9h.01" stroke="#2424D0" stroke-width="1.1" stroke-linecap="round" fill="none" opacity="0.49"/>
<path d="M282.3 223.9h.01M300.4 228.9h.01M296.5 217.6h.01M275.2 226.0h.01" stroke="#2020B4" stroke-width="1.4" stroke-linecap="round" fill="none" opacity="0.72"/>
<path d="M288.8 230.6h.01M272.0 227.3h.01M300.7 220.3h.01M251.8 215.4h.01M302.8 219.4h.01M279.1 226.8h.01M263.6 220.0h.01M270.1 223.7h.01M278.4 223.0h.01M271.1 220.2h.01" stroke="#2020B4" stroke-width="1.0" stroke-linecap="round" fill="none" opacity="0.69"/>
<path d="M306.2 233.3h.01M266.7 227.0h.01M310.3 217.3h.01M305.2 212.7h.01M298.7 220.8h.01" stroke="#1E1EC0" stroke-width="1.0" stroke-linecap="round" fill="none" opacity="0.34"/>
<path d="M310.1 214.8h.01M271.8 221.5h.01M299.5 216.1h.01M309.8 212.6h.01M258.7 210.2h.01M308.1 234.2h.01M307.1 228.3h.01M303.8 231.9h.01M268.4 217.7h.01M310.4 228.2h.01M279.8 220.7h.01" stroke="#1E1EC0" stroke-width="0.9" stroke-linecap="round" fill="none" opacity="0.52"/>
<path d="M255.8 215.3h.01M295.7 216.0h.01M277.3 222.0h.01M305.8 230.5h.01M268.7 221.5h.01M299.9 214.3h.01M261.4 213.9h.01M308.7 229.6h.01M298.0 221.4h.01M287.2 228.1h.01M294.9 231.1h.01M294.0 217.8h.01" stroke="#2424D0" stroke-width="1.3" stroke-linecap="round" fill="none" opacity="0.64"/>
<path d="M314.3 218.1h.01M251.9 218.1h.01M262.2 218.4h.01M311.4 229.1h.01M261.6 218.6h.01M288.3 229.9h.01" stroke="#1E1EC0" stroke-width="1.1" stroke-linecap="round" fill="none" opacity="0.43"/>
<path d="M253.4 215.2h.01M282.8 228.5h.01M263.3 218.9h.01M297.1 236.5h.01M303.0 228.9h.01" stroke="#13138A" stroke-width="1.1" stroke-linecap="round" fill="none" opacity="0.55"/>
<path d="M296.2 232.0h.01M303.9 223.3h.01M281.5 221.6h.01M271.2 218.3h.01M301.4 213.0h.01" stroke="#1E1EC0" stroke-width="1.4" stroke-linecap="round" fill="none" opacity="0.53"/>
<path d="M290.8 245.4h.01M298.2 239.2h.01M285.3 223.1h.01M285.8 230.8h.01M268.5 227.3h.01M251.4 227.4h.01M294.6 224.8h.01M297.9 224.8h.01" stroke="#13138A" stroke-width="0.9" stroke-linecap="round" fill="none" opacity="0.67"/>
<path d="M270.1 217.9h.01M256.7 213.5h.01M291.0 234.9h.01M303.6 236.0h.01M289.9 231.4h.01M256.7 213.2h.01M305.5 232.1h.01M265.7 215.3h.01M314.0 223.5h.01" stroke="#1717A4" stroke-width="1.2" stroke-linecap="round" fill="none" opacity="0.53"/>
<path d="M300.5 220.5h.01M260.8 221.7h.01M312.1 220.0h.01M255.5 222.4h.01M296.5 216.6h.01M308.0 216.8h.01M312.6 217.1h.01M253.4 220.4h.01" stroke="#2020B4" stroke-width="1.3" stroke-linecap="round" fill="none" opacity="0.64"/>
<path d="M271.5 221.9h.01M307.2 213.2h.01M287.5 232.7h.01M308.0 214.5h.01M273.4 228.0h.01M305.2 217.4h.01" stroke="#1E1EC0" stroke-width="0.8" stroke-linecap="round" fill="none" opacity="0.75"/>
<path d="M273.7 221.2h.01M277.1 224.5h.01M300.4 234.1h.01M311.2 218.4h.01M282.5 220.5h.01M294.1 233.9h.01" stroke="#2020B4" stroke-width="0.9" stroke-linecap="round" fill="none" opacity="0.31"/>
<path d="M282.9 225.7h.01M303.3 233.7h.01M281.9 225.0h.01M303.8 234.8h.01" stroke="#1E1EC0" stroke-width="1.5" stroke-linecap="round" fill="none" opacity="0.61"/>
<path d="M282.9 229.0h.01M297.9 218.1h.01M308.5 219.6h.01M255.4 217.2h.01M294.5 223.6h.01M298.6 231.5h.01" stroke="#2020B4" stroke-width="1.2" stroke-linecap="round" fill="none" opacity="0.68"/>
<path d="M303.4 235.3h.01M266.0 224.1h.01M311.9 230.9h.01M310.2 234.4h.01M297.8 214.6h.01M311.5 218.7h.01M298.2 220.4h.01" stroke="#13138A" stroke-width="1.4" stroke-linecap="round" fill="none" opacity="0.74"/>
<path d="M263.1 221.5h.01M294.8 216.6h.01M259.1 215.7h.01M260.8 208.8h.01M292.6 233.7h.01M252.8 214.7h.01M313.6 232.0h.01M262.3 214.8h.01" stroke="#1717A4" stroke-width="1.0" stroke-linecap="round" fill="none" opacity="0.39"/>
<path d="M251.6 219.2h.01M258.4 222.7h.01M303.8 220.0h.01M272.0 219.3h.01" stroke="#2424D0" stroke-width="1.4" stroke-linecap="round" fill="none" opacity="0.77"/>
<path d="M305.6 237.3h.01M253.2 213.1h.01M300.1 221.1h.01M267.5 221.9h.01" stroke="#1717A4" stroke-width="1.4" stroke-linecap="round" fill="none" opacity="0.37"/>
<path d="M297.5 216.0h.01M264.3 223.2h.01M276.9 245.3h.01" stroke="#2020B4" stroke-width="1.5" stroke-linecap="round" fill="none" opacity="0.39"/>
<path d="M314.1 222.2h.01M291.8 242.1h.01M252.1 217.5h.01" stroke="#2020B4" stroke-width="0.8" stroke-linecap="round" fill="none" opacity="0.36"/>
<path d="M287.5 224.6h.01" stroke="#13138A" stroke-width="1.5" stroke-linecap="round" fill="none" opacity="0.59"/>
<path d="M254.1 217.3h.01M286.4 228.1h.01M274.6 227.4h.01M280.6 220.2h.01" stroke="#13138A" stroke-width="1.2" stroke-linecap="round" fill="none" opacity="0.42"/>
<path d="M297.5 236.0h.01M256.7 218.1h.01M251.6 221.5h.01M311.4 220.4h.01M296.4 220.4h.01" stroke="#2424D0" stroke-width="0.8" stroke-linecap="round" fill="none" opacity="0.54"/>
<path d="M307.4 232.7h.01M289.4 223.7h.01" stroke="#1E1EC0" stroke-width="1.3" stroke-linecap="round" fill="none" opacity="0.47"/>
<path d="M260.8 222.9h.01M257.2 215.6h.01" stroke="#1717A4" stroke-width="1.5" stroke-linecap="round" fill="none" opacity="0.73"/>
</g>
<path d="M250.0 222.2C250.7 222.1 252.6 221.9 254.0 221.8C255.4 221.7 256.6 221.4 258.3 221.6C260.0 221.8 262.4 222.4 264.0 223.0C265.6 223.6 266.7 224.4 268.2 225.2C269.7 226.0 271.5 227.3 273.1 227.6C274.7 227.9 276.4 226.5 278.0 226.8C279.6 227.1 281.3 228.1 283.0 229.2C284.7 230.3 286.4 232.1 288.0 233.2C289.6 234.3 291.0 235.1 292.9 235.8C294.8 236.5 297.7 237.6 299.5 237.6C301.3 237.6 302.9 236.3 303.6 236.0" stroke="#18A078" stroke-width="2.6" fill="none" opacity="0.5" filter="url(#bl)"/>
<path d="M250.0 224.4C250.7 224.3 252.6 224.1 254.0 224.0C255.4 223.9 256.6 223.6 258.3 223.8C260.0 224.0 262.4 224.6 264.0 225.2C265.6 225.8 266.7 226.6 268.2 227.4C269.7 228.2 271.5 229.5 273.1 229.8C274.7 230.1 276.4 228.7 278.0 229.0C279.6 229.3 281.3 230.3 283.0 231.4C284.7 232.5 286.4 234.3 288.0 235.4C289.6 236.5 291.0 237.3 292.9 238.0C294.8 238.7 297.7 239.8 299.5 239.8C301.3 239.8 302.8 238.9 303.6 238.2C304.4 237.5 304.4 235.9 304.5 235.4" stroke="#58C834" stroke-width="2.0" fill="none" opacity="0.6" filter="url(#bl)"/>
<g filter="url(#bl3)">
<path d="M265.9 227.0h.01M279.5 228.3h.01M251.2 223.5h.01M301.3 238.8h.01M272.3 228.9h.01M287.1 234.6h.01M264.8 224.3h.01M265.4 225.8h.01M270.4 226.0h.01M260.7 221.8h.01M302.9 238.6h.01" stroke="#58D060" stroke-width="0.9" stroke-linecap="round" fill="none" opacity="0.97"/>
<path d="M257.1 223.2h.01M283.1 233.1h.01M257.3 223.4h.01M302.2 238.3h.01M301.6 240.4h.01M299.5 239.1h.01M291.1 236.7h.01M277.8 231.4h.01M304.5 236.3h.01" stroke="#40C848" stroke-width="0.9" stroke-linecap="round" fill="none" opacity="0.95"/>
<path d="M262.7 224.3h.01M276.3 229.8h.01M259.7 222.5h.01M287.3 233.5h.01M261.2 225.8h.01M290.3 237.7h.01M302.2 237.8h.01" stroke="#70D830" stroke-width="0.8" stroke-linecap="round" fill="none" opacity="0.89"/>
<path d="M252.3 223.7h.01M256.1 222.5h.01M301.2 238.8h.01M289.2 234.0h.01M288.1 235.9h.01M263.4 223.4h.01M293.8 236.3h.01M304.7 237.9h.01" stroke="#40C848" stroke-width="1.2" stroke-linecap="round" fill="none" opacity="0.66"/>
<path d="M277.7 226.8h.01M250.9 224.7h.01M263.7 224.1h.01M285.3 233.0h.01M276.8 229.3h.01M261.9 223.9h.01M284.8 234.4h.01M263.4 224.0h.01" stroke="#D0D840" stroke-width="0.7" stroke-linecap="round" fill="none" opacity="0.78"/>
<path d="M269.8 229.9h.01M298.8 239.2h.01M256.7 222.3h.01M305.4 234.6h.01M271.3 228.0h.01M270.2 229.0h.01M302.5 238.3h.01M268.6 226.5h.01M262.5 224.6h.01M281.8 229.8h.01M269.9 226.6h.01M260.3 224.0h.01M285.5 233.4h.01M288.9 236.7h.01" stroke="#A8DC38" stroke-width="0.9" stroke-linecap="round" fill="none" opacity="0.73"/>
<path d="M298.7 241.1h.01M292.3 235.0h.01M287.3 234.2h.01M251.3 222.7h.01M283.7 231.9h.01M260.8 224.6h.01M303.9 235.8h.01M304.8 237.4h.01M273.1 231.1h.01M267.6 226.7h.01" stroke="#A8DC38" stroke-width="0.8" stroke-linecap="round" fill="none" opacity="0.92"/>
<path d="M279.4 229.2h.01M287.5 234.4h.01M256.4 223.6h.01M269.1 227.4h.01M284.0 229.9h.01" stroke="#58D060" stroke-width="1.0" stroke-linecap="round" fill="none" opacity="0.81"/>
<path d="M262.0 224.0h.01M269.4 226.2h.01" stroke="#58D060" stroke-width="1.3" stroke-linecap="round" fill="none" opacity="0.65"/>
<path d="M258.6 224.1h.01M298.5 239.9h.01M280.6 231.3h.01M295.7 238.4h.01" stroke="#D0D840" stroke-width="0.9" stroke-linecap="round" fill="none" opacity="0.65"/>
<path d="M253.2 223.4h.01M301.5 241.3h.01M253.1 221.9h.01" stroke="#A8DC38" stroke-width="1.3" stroke-linecap="round" fill="none" opacity="0.83"/>
<path d="M257.2 223.4h.01M257.6 221.4h.01M287.7 235.7h.01M290.9 234.7h.01M297.0 239.3h.01" stroke="#70D830" stroke-width="1.3" stroke-linecap="round" fill="none" opacity="0.64"/>
<path d="M292.8 237.3h.01M274.2 230.2h.01M282.1 230.3h.01M304.4 240.2h.01M286.9 234.3h.01M264.3 225.3h.01M261.0 225.4h.01M270.4 232.1h.01M277.3 227.0h.01M288.2 233.6h.01M270.2 229.6h.01M273.3 229.9h.01M291.1 236.9h.01M261.4 222.4h.01" stroke="#40C848" stroke-width="1.1" stroke-linecap="round" fill="none" opacity="0.99"/>
<path d="M278.5 229.8h.01M298.5 239.4h.01M252.0 222.4h.01M285.1 233.9h.01M267.8 228.0h.01" stroke="#40C848" stroke-width="1.0" stroke-linecap="round" fill="none" opacity="0.92"/>
<path d="M269.8 227.3h.01M285.7 235.5h.01M280.5 232.4h.01M290.4 236.9h.01M293.7 235.7h.01" stroke="#40C848" stroke-width="0.7" stroke-linecap="round" fill="none" opacity="0.91"/>
<path d="M270.8 230.7h.01M272.6 229.0h.01M281.1 229.9h.01M265.5 225.2h.01M279.0 229.2h.01M284.7 231.9h.01M253.1 221.9h.01" stroke="#58D060" stroke-width="1.2" stroke-linecap="round" fill="none" opacity="0.92"/>
<path d="M282.4 232.3h.01M291.3 234.9h.01M288.2 233.1h.01M251.0 224.1h.01M302.6 236.4h.01M260.7 224.9h.01" stroke="#70D830" stroke-width="1.0" stroke-linecap="round" fill="none" opacity="0.77"/>
<path d="M298.3 238.8h.01M255.5 221.9h.01M303.9 238.9h.01M281.8 230.0h.01M294.0 236.2h.01M303.3 235.2h.01M250.8 223.5h.01" stroke="#70D830" stroke-width="1.1" stroke-linecap="round" fill="none" opacity="0.87"/>
<path d="M252.0 220.8h.01M253.1 221.0h.01M286.5 233.6h.01M302.9 239.5h.01M283.5 230.3h.01M261.9 223.4h.01M270.6 231.4h.01" stroke="#A8DC38" stroke-width="1.2" stroke-linecap="round" fill="none" opacity="0.78"/>
<path d="M264.0 225.4h.01M301.3 238.6h.01M278.6 230.5h.01M256.3 223.7h.01M282.4 232.6h.01M267.0 226.7h.01M282.5 228.8h.01M259.6 222.2h.01M259.3 226.4h.01M279.1 229.0h.01M255.3 222.2h.01M299.2 238.2h.01M267.9 227.3h.01" stroke="#D0D840" stroke-width="1.2" stroke-linecap="round" fill="none" opacity="0.78"/>
<path d="M302.3 236.7h.01M289.6 233.1h.01M303.6 234.6h.01M294.5 239.7h.01M259.5 222.5h.01M291.3 236.8h.01M299.2 240.0h.01M283.2 231.2h.01" stroke="#D0D840" stroke-width="0.8" stroke-linecap="round" fill="none" opacity="0.97"/>
<path d="M256.9 223.7h.01M300.0 237.9h.01M264.6 225.7h.01M303.3 235.5h.01M302.3 237.9h.01M278.0 226.5h.01" stroke="#70D830" stroke-width="0.7" stroke-linecap="round" fill="none" opacity="0.97"/>
<path d="M295.2 238.1h.01M251.4 222.1h.01" stroke="#A8DC38" stroke-width="0.7" stroke-linecap="round" fill="none" opacity="0.66"/>
<path d="M299.8 241.4h.01M281.7 230.0h.01M299.8 241.3h.01M277.6 229.7h.01M282.3 230.6h.01M263.3 223.3h.01M255.3 224.2h.01M264.6 224.6h.01M273.3 229.3h.01" stroke="#D0D840" stroke-width="1.1" stroke-linecap="round" fill="none" opacity="0.67"/>
<path d="M303.0 237.9h.01M297.5 237.0h.01M278.6 229.7h.01M303.7 239.8h.01" stroke="#58D060" stroke-width="0.7" stroke-linecap="round" fill="none" opacity="0.77"/>
<path d="M260.9 223.0h.01M282.7 231.5h.01M283.1 229.1h.01M290.5 237.2h.01M282.3 230.5h.01" stroke="#58D060" stroke-width="0.8" stroke-linecap="round" fill="none" opacity="0.78"/>
<path d="M290.2 236.0h.01M304.1 234.9h.01M261.8 223.4h.01M281.3 233.7h.01M295.3 237.4h.01M288.4 232.4h.01M252.8 224.8h.01M265.1 225.3h.01" stroke="#A8DC38" stroke-width="1.1" stroke-linecap="round" fill="none" opacity="0.91"/>
<path d="M267.6 229.2h.01M280.8 230.5h.01M281.4 230.4h.01M297.1 239.4h.01M272.3 231.5h.01M280.9 229.1h.01M298.7 237.6h.01" stroke="#40C848" stroke-width="0.8" stroke-linecap="round" fill="none" opacity="0.69"/>
<path d="M265.4 226.8h.01M295.3 236.7h.01M300.9 236.0h.01M261.0 225.4h.01M297.7 239.7h.01M292.8 237.0h.01M265.7 226.8h.01M258.4 223.8h.01M266.5 222.3h.01M301.4 239.9h.01M270.4 229.4h.01M287.6 235.6h.01" stroke="#A8DC38" stroke-width="1.0" stroke-linecap="round" fill="none" opacity="0.69"/>
<path d="M302.0 238.9h.01M269.5 224.5h.01M282.6 230.2h.01M297.4 239.9h.01M258.9 221.4h.01" stroke="#70D830" stroke-width="1.2" stroke-linecap="round" fill="none" opacity="0.92"/>
<path d="M304.6 236.4h.01M284.1 229.8h.01M259.0 221.1h.01M250.4 224.4h.01M252.8 224.1h.01" stroke="#D0D840" stroke-width="1.0" stroke-linecap="round" fill="none" opacity="0.73"/>
<path d="M277.7 227.2h.01M259.1 223.3h.01M293.1 239.2h.01M252.5 224.3h.01" stroke="#58D060" stroke-width="1.1" stroke-linecap="round" fill="none" opacity="0.92"/>
<path d="M262.9 225.4h.01M302.0 237.1h.01M283.1 233.1h.01M281.3 229.3h.01" stroke="#40C848" stroke-width="1.3" stroke-linecap="round" fill="none" opacity="0.93"/>
<path d="M282.7 232.9h.01M282.4 229.8h.01M276.5 228.7h.01M289.7 234.6h.01M279.1 231.4h.01M265.7 227.6h.01M274.0 228.2h.01" stroke="#70D830" stroke-width="0.9" stroke-linecap="round" fill="none" opacity="0.96"/>
<path d="M251.6 222.9h.01M293.8 237.6h.01M294.4 237.6h.01M297.2 239.5h.01" stroke="#D0D840" stroke-width="1.3" stroke-linecap="round" fill="none" opacity="0.83"/>
</g>
<g filter="url(#bl3)">
<path d="M275.9 229.9h.01M269.8 229.0h.01M287.1 235.3h.01M302.2 240.5h.01M286.9 235.5h.01" stroke="#D8D840" stroke-width="1.0" stroke-linecap="round" fill="none" opacity="0.61"/>
<path d="M286.5 236.6h.01M303.2 239.7h.01M293.0 239.2h.01" stroke="#D8D840" stroke-width="1.1" stroke-linecap="round" fill="none" opacity="0.94"/>
<path d="M272.5 230.5h.01M293.0 239.5h.01M279.2 229.5h.01M260.1 224.9h.01" stroke="#E0C038" stroke-width="0.9" stroke-linecap="round" fill="none" opacity="0.74"/>
<path d="M257.1 225.0h.01M296.4 239.9h.01M259.8 226.1h.01M284.3 233.6h.01M254.2 224.7h.01" stroke="#D8D840" stroke-width="0.9" stroke-linecap="round" fill="none" opacity="0.8"/>
<path d="M291.6 238.3h.01M286.3 234.5h.01M265.1 226.4h.01M289.8 237.5h.01M256.6 225.3h.01" stroke="#E0C038" stroke-width="0.8" stroke-linecap="round" fill="none" opacity="0.84"/>
<path d="M281.2 231.0h.01M303.6 239.2h.01M266.6 227.7h.01M276.3 230.6h.01M263.4 226.4h.01M284.7 233.6h.01M259.0 225.8h.01" stroke="#E0C038" stroke-width="0.7" stroke-linecap="round" fill="none" opacity="0.92"/>
<path d="M292.8 239.9h.01M288.4 236.8h.01M254.3 225.0h.01M295.6 239.9h.01M281.8 233.0h.01M294.4 239.4h.01M274.8 230.8h.01M276.2 230.2h.01M298.2 240.1h.01" stroke="#D8D840" stroke-width="0.7" stroke-linecap="round" fill="none" opacity="1.0"/>
<path d="M282.9 232.6h.01M282.1 231.9h.01M287.3 236.5h.01M261.7 225.7h.01M262.7 226.2h.01" stroke="#E0C038" stroke-width="1.0" stroke-linecap="round" fill="none" opacity="0.85"/>
<path d="M256.8 225.2h.01M268.3 228.5h.01M271.0 230.5h.01M287.5 236.8h.01" stroke="#E0C038" stroke-width="0.6" stroke-linecap="round" fill="none" opacity="0.79"/>
<path d="M255.4 223.8h.01M272.2 230.8h.01M278.5 230.0h.01" stroke="#D8D840" stroke-width="0.6" stroke-linecap="round" fill="none" opacity="0.74"/>
</g>
<path d="M294.6 225.6C295.0 225.2 296.2 223.9 297.0 223.2C297.8 222.5 298.2 222.1 299.5 221.5C300.8 220.9 302.9 220.0 304.5 219.9C306.1 219.8 307.9 220.1 309.4 220.7C310.9 221.2 312.6 222.3 313.5 223.2C314.4 224.1 314.8 225.5 315.0 226.0" stroke="#28B850" stroke-width="1.0" fill="none" opacity="0.5" filter="url(#bl)"/>
<g filter="url(#bl3)">
<path d="M312.5 220.3h.01M312.0 220.6h.01M308.4 220.7h.01" stroke="#30C850" stroke-width="0.8" stroke-linecap="round" fill="none" opacity="0.95"/>
<path d="M294.4 225.2h.01M302.3 219.6h.01M309.9 219.7h.01M302.7 219.2h.01" stroke="#60D040" stroke-width="0.7" stroke-linecap="round" fill="none" opacity="0.7"/>
<path d="M293.4 226.2h.01M311.8 222.3h.01" stroke="#60D040" stroke-width="0.8" stroke-linecap="round" fill="none" opacity="0.97"/>
<path d="M307.7 220.5h.01M306.5 221.4h.01" stroke="#60D040" stroke-width="0.6" stroke-linecap="round" fill="none" opacity="0.96"/>
<path d="M299.1 220.0h.01M297.9 222.7h.01M301.9 219.5h.01M295.1 224.7h.01" stroke="#28B878" stroke-width="0.9" stroke-linecap="round" fill="none" opacity="0.97"/>
<path d="M314.5 225.6h.01M311.7 221.9h.01" stroke="#28B878" stroke-width="1.0" stroke-linecap="round" fill="none" opacity="0.83"/>
<path d="M301.0 219.8h.01M304.6 218.5h.01M310.8 222.0h.01M296.6 222.6h.01" stroke="#60D040" stroke-width="1.0" stroke-linecap="round" fill="none" opacity="0.92"/>
<path d="M297.1 223.0h.01M308.2 221.1h.01" stroke="#28B878" stroke-width="1.1" stroke-linecap="round" fill="none" opacity="0.81"/>
<path d="M304.6 221.1h.01M303.4 222.2h.01M312.2 221.6h.01M305.3 220.5h.01" stroke="#30C850" stroke-width="0.7" stroke-linecap="round" fill="none" opacity="0.73"/>
<path d="M298.2 221.4h.01M304.1 219.6h.01M299.2 221.3h.01M300.9 221.0h.01M302.4 220.1h.01M300.2 221.5h.01" stroke="#30C850" stroke-width="1.0" stroke-linecap="round" fill="none" opacity="0.97"/>
<path d="M296.6 224.3h.01M310.7 222.0h.01M303.2 221.4h.01M310.2 220.0h.01" stroke="#30C850" stroke-width="0.9" stroke-linecap="round" fill="none" opacity="0.6"/>
<path d="M295.7 222.7h.01" stroke="#60D040" stroke-width="1.1" stroke-linecap="round" fill="none" opacity="0.69"/>
<path d="M309.1 219.2h.01M310.1 220.9h.01" stroke="#28B878" stroke-width="0.8" stroke-linecap="round" fill="none" opacity="0.87"/>
<path d="M304.1 220.5h.01M304.4 219.0h.01M295.5 224.8h.01" stroke="#60D040" stroke-width="0.9" stroke-linecap="round" fill="none" opacity="0.93"/>
<path d="M311.0 220.8h.01" stroke="#28B878" stroke-width="0.6" stroke-linecap="round" fill="none" opacity="0.8"/>
<path d="M312.5 223.0h.01M311.2 220.9h.01" stroke="#30C850" stroke-width="0.6" stroke-linecap="round" fill="none" opacity="0.89"/>
<path d="M296.9 222.0h.01M312.1 222.6h.01M296.6 222.3h.01" stroke="#28B878" stroke-width="0.7" stroke-linecap="round" fill="none" opacity="0.93"/>
<path d="M305.2 219.5h.01" stroke="#30C850" stroke-width="1.1" stroke-linecap="round" fill="none" opacity="0.6"/>
</g>
<path d="M279.5 229.8C283.5 232.4 288 236 292 239.2" stroke="#E8481C" stroke-width="1.3" fill="none" opacity="0.95" filter="url(#bl)"/>
<path d="M271.6 211.6h.01M272.4 213.0h.01M290.0 216.0h.01M293.0 215.2h.01" stroke="#C03020" stroke-width="0.8" stroke-linecap="round" fill="none" opacity="0.6"/>
<rect x="299.2" y="203.9" width="10.8" height="1.8" fill="#fff"/>
</g>
<text x="253.8" y="207.6" font-family='"Liberation Sans", sans-serif' font-size="5.5" font-weight="bold" fill="#fff" text-anchor="start" stroke="#fff" stroke-width="0.3">Exp</text>
<g clip-path="url(#cA3)">
<rect x="184.8" y="249.2" width="64.39999999999998" height="47.400000000000034" fill="#05051A"/>
<path d="M184 249L250 249L250 261.5L247.8 260.6L244.4 263.2L241.8 264.0L240.6 263.2L239.3 261.5L238.2 259.0L237 256.4L235 253.0L232.5 252.1L230.6 252.8L228.6 254.7L227.2 256.6L225.7 258.6L223.1 259.8L219.7 257.2L216.3 254.1L214.6 253.0L212.9 252.4L211.2 252.6L209.5 253.8L207.4 258.0L206 260.8L204.6 263.0L203 263.4L201 262.6L199 261.2L196.8 259.8L194 258.6L190.8 257.5L187.5 256.6L184 256.0Z" fill="#40125C" opacity="0.45" filter="url(#bl2)"/>
<path d="M184.0 255.2C184.6 255.3 186.4 255.6 187.5 255.8C188.6 256.1 189.7 256.4 190.8 256.7C191.9 257.0 193.0 257.4 194.0 257.8C195.0 258.2 196.0 258.6 196.8 259.0C197.6 259.4 198.3 259.9 199.0 260.4C199.7 260.9 200.3 261.4 201.0 261.8C201.7 262.2 202.4 262.5 203.0 262.6C203.6 262.7 204.1 262.6 204.6 262.2C205.1 261.8 205.5 260.8 206.0 260.0C206.5 259.2 206.8 258.4 207.4 257.2C208.0 256.0 208.9 253.9 209.5 253.0C210.1 252.1 210.6 252.0 211.2 251.8C211.8 251.6 212.3 251.5 212.9 251.6C213.5 251.7 214.0 251.9 214.6 252.2C215.2 252.5 215.5 252.6 216.3 253.3C217.2 254.0 218.6 255.4 219.7 256.4C220.8 257.3 222.1 258.8 223.1 259.0C224.1 259.2 225.0 258.3 225.7 257.8C226.4 257.3 226.7 256.5 227.2 255.8C227.7 255.2 228.0 254.5 228.6 253.9C229.2 253.3 229.9 252.4 230.6 252.0C231.2 251.6 231.8 251.3 232.5 251.3C233.2 251.3 234.2 251.5 235.0 252.2C235.8 252.9 236.5 254.6 237.0 255.6C237.5 256.6 237.8 257.3 238.2 258.2C238.6 259.1 238.9 260.0 239.3 260.7C239.7 261.4 240.2 262.0 240.6 262.4C241.0 262.8 241.2 263.2 241.8 263.2C242.4 263.2 243.4 263.0 244.4 262.4C245.4 261.8 246.9 260.1 247.8 259.8C248.7 259.5 249.6 260.6 250.0 260.7" stroke="#A0185C" stroke-width="3.2" fill="none" opacity="0.4" filter="url(#bl2)"/>
<path d="M184.0 256.0C184.6 256.1 186.4 256.4 187.5 256.6C188.6 256.9 189.7 257.2 190.8 257.5C191.9 257.8 193.0 258.2 194.0 258.6C195.0 259.0 196.0 259.4 196.8 259.8C197.6 260.2 198.3 260.7 199.0 261.2C199.7 261.7 200.3 262.2 201.0 262.6C201.7 263.0 202.4 263.3 203.0 263.4C203.6 263.5 204.1 263.4 204.6 263.0C205.1 262.6 205.5 261.6 206.0 260.8C206.5 260.0 206.8 259.2 207.4 258.0C208.0 256.8 208.9 254.7 209.5 253.8C210.1 252.9 210.6 252.8 211.2 252.6C211.8 252.4 212.3 252.3 212.9 252.4C213.5 252.5 214.0 252.7 214.6 253.0C215.2 253.3 215.5 253.4 216.3 254.1C217.2 254.8 218.6 256.2 219.7 257.2C220.8 258.1 222.1 259.6 223.1 259.8C224.1 260.0 225.0 259.1 225.7 258.6C226.4 258.1 226.7 257.2 227.2 256.6C227.7 256.0 228.0 255.3 228.6 254.7C229.2 254.1 229.9 253.2 230.6 252.8C231.2 252.4 231.8 252.1 232.5 252.1C233.2 252.1 234.2 252.3 235.0 253.0C235.8 253.7 236.5 255.4 237.0 256.4C237.5 257.4 237.8 258.1 238.2 259.0C238.6 259.9 238.9 260.8 239.3 261.5C239.7 262.2 240.2 262.8 240.6 263.2C241.0 263.6 241.2 264.0 241.8 264.0C242.4 264.0 243.4 263.8 244.4 263.2C245.4 262.6 246.9 260.9 247.8 260.6C248.7 260.3 249.6 261.4 250.0 261.5" stroke="#D81850" stroke-width="1.2" fill="none" opacity="0.95" filter="url(#bl)"/>
<g filter="url(#bl3)">
<path d="M202.8 263.4h.01M234.4 252.8h.01M236.6 255.9h.01M220.3 257.3h.01M239.3 261.0h.01M238.5 259.0h.01M205.8 260.9h.01M249.6 261.4h.01M196.8 259.3h.01" stroke="#F03860" stroke-width="0.8" stroke-linecap="round" fill="none" opacity="0.86"/>
<path d="M191.9 256.4h.01" stroke="#E82058" stroke-width="0.6" stroke-linecap="round" fill="none" opacity="0.73"/>
<path d="M217.9 255.7h.01M213.6 251.4h.01" stroke="#C01858" stroke-width="0.9" stroke-linecap="round" fill="none" opacity="0.83"/>
<path d="M192.3 257.7h.01M236.0 253.6h.01M233.0 252.3h.01" stroke="#E82058" stroke-width="0.8" stroke-linecap="round" fill="none" opacity="0.67"/>
<path d="M247.6 261.2h.01M223.5 258.8h.01M249.1 260.6h.01M190.1 256.6h.01M207.4 257.2h.01M226.0 256.7h.01" stroke="#E82058" stroke-width="0.7" stroke-linecap="round" fill="none" opacity="0.89"/>
<path d="M238.8 262.4h.01M190.9 257.9h.01M232.8 251.5h.01M199.0 260.9h.01M216.1 253.9h.01M233.7 252.7h.01M184.7 256.3h.01M190.6 257.2h.01" stroke="#C01858" stroke-width="0.8" stroke-linecap="round" fill="none" opacity="0.65"/>
<path d="M221.0 257.8h.01M228.2 255.2h.01M244.0 262.8h.01" stroke="#C01858" stroke-width="1.0" stroke-linecap="round" fill="none" opacity="0.71"/>
<path d="M231.5 251.6h.01M233.6 252.0h.01M234.5 252.6h.01M207.7 256.6h.01M205.9 260.2h.01" stroke="#F03860" stroke-width="0.6" stroke-linecap="round" fill="none" opacity="0.91"/>
<path d="M222.0 258.2h.01M208.0 256.4h.01M186.8 256.5h.01M203.7 263.7h.01" stroke="#F03860" stroke-width="0.7" stroke-linecap="round" fill="none" opacity="0.79"/>
<path d="M229.2 253.5h.01" stroke="#E82058" stroke-width="1.0" stroke-linecap="round" fill="none" opacity="0.8"/>
<path d="M207.4 256.6h.01M203.6 263.7h.01M240.2 263.2h.01M239.8 261.8h.01" stroke="#C01858" stroke-width="0.6" stroke-linecap="round" fill="none" opacity="0.87"/>
<path d="M199.3 261.5h.01M185.9 256.0h.01M237.9 257.3h.01M223.7 259.9h.01M217.1 254.6h.01M222.1 258.7h.01" stroke="#E82058" stroke-width="0.9" stroke-linecap="round" fill="none" opacity="0.86"/>
<path d="M204.5 263.8h.01M238.2 259.2h.01M194.6 259.6h.01" stroke="#F03860" stroke-width="0.9" stroke-linecap="round" fill="none" opacity="0.94"/>
<path d="M196.5 259.8h.01M246.2 260.7h.01M231.8 252.1h.01" stroke="#C01858" stroke-width="0.7" stroke-linecap="round" fill="none" opacity="0.63"/>
<path d="M192.4 257.9h.01M243.7 263.0h.01" stroke="#F03860" stroke-width="1.0" stroke-linecap="round" fill="none" opacity="0.89"/>
</g>
<path d="M209.6 268V290M232.6 266V288M189 272V292" stroke="#20206A" stroke-width="2.2" fill="none" opacity="0.45" filter="url(#bl2)"/>
<g filter="url(#bl3)">
<path d="M246.4 274.3h.01M228.7 290.6h.01M217.5 289.1h.01M224.3 268.4h.01M229.9 284.3h.01" stroke="#181888" stroke-width="1.5" stroke-linecap="round" fill="none" opacity="0.36"/>
<path d="M210.4 287.4h.01M191.0 295.6h.01M243.1 266.9h.01" stroke="#2424B0" stroke-width="1.0" stroke-linecap="round" fill="none" opacity="0.37"/>
<path d="M222.8 284.1h.01M246.1 260.8h.01M220.2 259.4h.01M218.3 284.6h.01" stroke="#1E1EA0" stroke-width="1.1" stroke-linecap="round" fill="none" opacity="0.5"/>
<path d="M228.1 263.4h.01M191.0 271.5h.01M235.5 295.4h.01M187.1 286.3h.01M206.1 294.1h.01M233.8 262.7h.01" stroke="#1E1EA0" stroke-width="1.2" stroke-linecap="round" fill="none" opacity="0.38"/>
<path d="M235.3 288.3h.01M216.1 265.4h.01M248.7 290.2h.01M224.3 269.8h.01" stroke="#1E1EA0" stroke-width="1.0" stroke-linecap="round" fill="none" opacity="0.54"/>
<path d="M196.3 288.2h.01M205.5 263.3h.01M229.8 259.9h.01M187.0 270.9h.01M211.2 287.9h.01" stroke="#141474" stroke-width="1.3" stroke-linecap="round" fill="none" opacity="0.46"/>
<path d="M190.7 283.3h.01M227.9 295.7h.01M230.3 284.9h.01M202.1 263.2h.01M213.2 282.4h.01" stroke="#2424B0" stroke-width="1.3" stroke-linecap="round" fill="none" opacity="0.56"/>
<path d="M199.8 279.0h.01M204.6 295.8h.01M195.6 295.5h.01M195.1 264.6h.01M217.7 267.5h.01" stroke="#181888" stroke-width="0.9" stroke-linecap="round" fill="none" opacity="0.69"/>
<path d="M194.5 296.3h.01" stroke="#1E1EA0" stroke-width="0.8" stroke-linecap="round" fill="none" opacity="0.53"/>
<path d="M237.6 294.3h.01M207.4 291.4h.01M240.5 268.2h.01M240.5 269.4h.01" stroke="#1E1EA0" stroke-width="0.9" stroke-linecap="round" fill="none" opacity="0.6"/>
<path d="M198.9 279.8h.01M185.5 290.8h.01M185.7 294.2h.01" stroke="#141474" stroke-width="1.0" stroke-linecap="round" fill="none" opacity="0.55"/>
<path d="M242.0 292.3h.01M223.1 293.7h.01M200.2 268.0h.01" stroke="#181888" stroke-width="1.3" stroke-linecap="round" fill="none" opacity="0.52"/>
<path d="M205.2 290.8h.01M223.0 262.2h.01" stroke="#141474" stroke-width="1.2" stroke-linecap="round" fill="none" opacity="0.52"/>
<path d="M188.9 255.6h.01M192.8 295.1h.01M185.4 265.9h.01M215.4 283.7h.01" stroke="#1E1EA0" stroke-width="1.4" stroke-linecap="round" fill="none" opacity="0.32"/>
<path d="M196.1 254.7h.01M246.8 275.0h.01M207.2 270.4h.01M231.1 270.5h.01M189.5 285.6h.01" stroke="#2424B0" stroke-width="1.4" stroke-linecap="round" fill="none" opacity="0.33"/>
<path d="M246.6 281.1h.01M192.4 281.8h.01M236.4 294.2h.01M187.7 263.6h.01M209.2 286.0h.01M224.8 288.9h.01M190.6 263.8h.01" stroke="#2424B0" stroke-width="1.2" stroke-linecap="round" fill="none" opacity="0.58"/>
<path d="M220.3 262.9h.01M247.3 286.2h.01M207.0 267.6h.01" stroke="#181888" stroke-width="1.1" stroke-linecap="round" fill="none" opacity="0.55"/>
<path d="M203.0 277.4h.01M193.6 291.2h.01" stroke="#141474" stroke-width="0.8" stroke-linecap="round" fill="none" opacity="0.46"/>
<path d="M227.5 258.4h.01M247.4 289.1h.01M194.7 262.2h.01M217.2 277.9h.01M232.9 261.1h.01M197.9 269.3h.01" stroke="#1E1EA0" stroke-width="1.3" stroke-linecap="round" fill="none" opacity="0.58"/>
<path d="M206.9 273.6h.01M226.8 261.1h.01M238.9 271.4h.01" stroke="#181888" stroke-width="1.4" stroke-linecap="round" fill="none" opacity="0.36"/>
<path d="M209.7 276.1h.01" stroke="#1E1EA0" stroke-width="1.5" stroke-linecap="round" fill="none" opacity="0.61"/>
<path d="M201.4 283.7h.01M202.0 291.5h.01M200.6 285.3h.01" stroke="#181888" stroke-width="0.8" stroke-linecap="round" fill="none" opacity="0.33"/>
<path d="M236.7 277.9h.01M244.2 265.1h.01M237.6 268.7h.01" stroke="#181888" stroke-width="1.2" stroke-linecap="round" fill="none" opacity="0.38"/>
<path d="M237.4 262.6h.01M204.6 288.3h.01M199.4 275.0h.01M246.1 279.9h.01M186.4 259.2h.01" stroke="#141474" stroke-width="1.1" stroke-linecap="round" fill="none" opacity="0.5"/>
<path d="M214.3 255.3h.01" stroke="#2424B0" stroke-width="1.5" stroke-linecap="round" fill="none" opacity="0.4"/>
<path d="M241.4 269.7h.01M194.4 260.4h.01M206.6 273.6h.01M244.4 273.7h.01M204.4 291.9h.01M247.0 267.8h.01M214.6 291.4h.01" stroke="#141474" stroke-width="0.9" stroke-linecap="round" fill="none" opacity="0.55"/>
<path d="M208.7 287.2h.01M195.7 289.1h.01M222.1 272.5h.01M244.7 263.5h.01M199.1 270.7h.01M244.7 270.6h.01M236.5 271.8h.01M204.1 277.7h.01M237.3 273.6h.01" stroke="#2424B0" stroke-width="1.1" stroke-linecap="round" fill="none" opacity="0.61"/>
<path d="M189.3 273.4h.01" stroke="#2424B0" stroke-width="0.8" stroke-linecap="round" fill="none" opacity="0.38"/>
<path d="M225.8 262.9h.01" stroke="#181888" stroke-width="1.0" stroke-linecap="round" fill="none" opacity="0.65"/>
<path d="M192.2 281.3h.01M237.9 287.7h.01M239.2 270.9h.01M191.3 265.7h.01" stroke="#141474" stroke-width="1.4" stroke-linecap="round" fill="none" opacity="0.62"/>
<path d="M190.6 283.0h.01" stroke="#141474" stroke-width="1.5" stroke-linecap="round" fill="none" opacity="0.4"/>
<path d="M248.2 293.5h.01M211.3 268.9h.01M227.4 276.9h.01M223.5 264.3h.01" stroke="#2424B0" stroke-width="0.9" stroke-linecap="round" fill="none" opacity="0.64"/>
</g>
<path d="M228.6 263.6h.01M233.4 276.0h.01M233.8 279.6h.01M211.0 270.0h.01M190.0 283.0h.01" stroke="#4888E8" stroke-width="0.7" stroke-linecap="round" fill="none" opacity="0.8"/>
<rect x="239.6" y="250.8" width="5.4" height="1.9" fill="#fff"/>
</g>
<text x="188.6" y="256.4" font-family='"Liberation Sans", sans-serif' font-size="5.5" font-weight="bold" fill="#fff" text-anchor="start" stroke="#fff" stroke-width="0.3">Nby</text>
<g clip-path="url(#cB3)">
<rect x="250.6" y="249.2" width="63.900000000000006" height="47.400000000000034" fill="#05051A"/>
<path d="M250 251.5L315 251L315 262L300 263L285 261L270 259.6L250 261Z" fill="#5C1850" opacity="0.6" filter="url(#bl2)"/>
<path d="M278 258.6C281 257 285 257.6 286.6 260C285 262.6 281 263.4 278.6 262Z" fill="#C81848" opacity="0.75" filter="url(#bl2)"/>
<g filter="url(#bl3)">
<path d="M283.8 261.7h.01M264.5 256.4h.01M290.4 258.5h.01M292.1 256.4h.01M262.7 254.8h.01M253.2 259.4h.01M289.6 259.7h.01" stroke="#902058" stroke-width="0.8" stroke-linecap="round" fill="none" opacity="0.69"/>
<path d="M310.6 259.9h.01M302.7 257.2h.01M264.8 256.6h.01M304.7 256.9h.01M280.9 259.0h.01" stroke="#D02050" stroke-width="0.8" stroke-linecap="round" fill="none" opacity="0.59"/>
<path d="M265.6 255.9h.01M306.2 257.4h.01M280.1 259.6h.01M256.1 257.0h.01" stroke="#B01848" stroke-width="0.6" stroke-linecap="round" fill="none" opacity="0.72"/>
<path d="M306.4 258.8h.01M278.6 258.4h.01M287.9 259.7h.01M293.4 256.0h.01M261.4 256.4h.01M289.8 258.8h.01" stroke="#D02050" stroke-width="1.0" stroke-linecap="round" fill="none" opacity="0.86"/>
<path d="M299.9 255.4h.01M273.0 256.9h.01M283.3 261.9h.01M252.3 257.8h.01M271.8 255.5h.01M275.6 255.4h.01M264.2 255.5h.01" stroke="#B01848" stroke-width="1.1" stroke-linecap="round" fill="none" opacity="0.53"/>
<path d="M253.0 257.7h.01M270.5 256.7h.01M288.3 261.7h.01M261.0 254.3h.01M300.5 255.3h.01M264.4 254.4h.01M303.2 257.9h.01M310.9 260.0h.01M306.4 257.7h.01M269.4 255.6h.01" stroke="#B01848" stroke-width="1.0" stroke-linecap="round" fill="none" opacity="0.72"/>
<path d="M302.0 256.5h.01M286.0 260.2h.01M262.1 256.9h.01M288.9 258.4h.01M261.4 257.3h.01M260.9 255.7h.01" stroke="#902058" stroke-width="0.9" stroke-linecap="round" fill="none" opacity="0.69"/>
<path d="M266.6 255.6h.01M272.6 257.3h.01" stroke="#902058" stroke-width="0.7" stroke-linecap="round" fill="none" opacity="0.85"/>
<path d="M255.6 257.2h.01M270.8 254.6h.01M286.3 260.1h.01M291.1 258.4h.01M311.3 261.2h.01M309.2 257.4h.01M259.6 254.6h.01" stroke="#D02050" stroke-width="0.7" stroke-linecap="round" fill="none" opacity="0.89"/>
<path d="M264.7 255.7h.01M257.1 254.9h.01M290.5 257.4h.01M289.2 258.6h.01M289.7 258.5h.01M296.7 257.6h.01M284.9 260.4h.01M272.1 255.0h.01M286.6 260.1h.01" stroke="#B01848" stroke-width="0.8" stroke-linecap="round" fill="none" opacity="0.52"/>
<path d="M308.2 259.2h.01M300.5 256.7h.01" stroke="#B01848" stroke-width="0.7" stroke-linecap="round" fill="none" opacity="0.74"/>
<path d="M296.2 256.6h.01M253.8 258.2h.01M283.2 261.1h.01M253.3 258.5h.01M284.5 259.4h.01" stroke="#902058" stroke-width="1.0" stroke-linecap="round" fill="none" opacity="0.65"/>
<path d="M288.6 256.8h.01M312.5 258.4h.01M314.3 260.1h.01M307.4 259.8h.01M302.3 255.9h.01M287.3 259.6h.01M294.1 257.1h.01" stroke="#D02050" stroke-width="0.9" stroke-linecap="round" fill="none" opacity="0.8"/>
<path d="M311.5 260.4h.01M289.4 259.0h.01M305.7 257.5h.01" stroke="#D02050" stroke-width="1.1" stroke-linecap="round" fill="none" opacity="0.63"/>
<path d="M288.4 257.6h.01M297.4 257.4h.01M264.3 255.4h.01" stroke="#B01848" stroke-width="0.9" stroke-linecap="round" fill="none" opacity="0.78"/>
<path d="M274.5 256.2h.01M312.1 260.7h.01M307.1 257.2h.01" stroke="#902058" stroke-width="1.1" stroke-linecap="round" fill="none" opacity="0.56"/>
<path d="M259.6 257.9h.01M313.3 260.8h.01" stroke="#D02050" stroke-width="0.6" stroke-linecap="round" fill="none" opacity="0.59"/>
<path d="M263.0 256.3h.01M313.1 260.9h.01" stroke="#902058" stroke-width="0.6" stroke-linecap="round" fill="none" opacity="0.6"/>
</g>
<path d="M250 260C256 258 262 259 268 257" stroke="#A01848" stroke-width="1.6" fill="none" opacity="0.6" filter="url(#bl2)"/>
<path d="M292 258C298 256 306 258 315 262" stroke="#B01848" stroke-width="1.8" fill="none" opacity="0.6" filter="url(#bl2)"/>
<g filter="url(#bl3)">
<path d="M289.0 284.7h.01M279.8 265.6h.01M266.1 264.1h.01" stroke="#2424B0" stroke-width="0.8" stroke-linecap="round" fill="none" opacity="0.55"/>
<path d="M269.8 278.4h.01M256.0 276.5h.01M282.3 262.8h.01" stroke="#141474" stroke-width="0.8" stroke-linecap="round" fill="none" opacity="0.6"/>
<path d="M276.2 277.8h.01M292.5 268.2h.01M294.2 268.3h.01M312.7 266.2h.01M293.3 264.9h.01M305.6 262.3h.01M295.5 266.4h.01" stroke="#181888" stroke-width="1.1" stroke-linecap="round" fill="none" opacity="0.6"/>
<path d="M268.4 269.8h.01M259.0 276.3h.01M285.5 291.4h.01M285.1 294.4h.01" stroke="#1E1EA0" stroke-width="1.3" stroke-linecap="round" fill="none" opacity="0.7"/>
<path d="M285.3 275.7h.01M257.2 263.0h.01" stroke="#2424B0" stroke-width="1.5" stroke-linecap="round" fill="none" opacity="0.39"/>
<path d="M264.4 268.1h.01M265.6 278.5h.01M288.4 274.9h.01M273.6 280.1h.01M310.7 263.6h.01M261.0 292.6h.01M288.0 272.8h.01M292.0 293.2h.01" stroke="#141474" stroke-width="1.1" stroke-linecap="round" fill="none" opacity="0.48"/>
<path d="M288.6 286.7h.01M308.1 254.1h.01M264.1 259.9h.01M268.9 277.4h.01M284.4 269.2h.01M309.2 260.6h.01" stroke="#2424B0" stroke-width="0.9" stroke-linecap="round" fill="none" opacity="0.6"/>
<path d="M267.1 290.4h.01M263.2 281.1h.01M304.9 274.6h.01M289.0 275.4h.01" stroke="#2424B0" stroke-width="1.0" stroke-linecap="round" fill="none" opacity="0.51"/>
<path d="M252.4 278.4h.01M291.4 265.7h.01M259.0 288.6h.01M256.6 275.5h.01M262.7 270.0h.01" stroke="#1E1EA0" stroke-width="1.4" stroke-linecap="round" fill="none" opacity="0.45"/>
<path d="M299.7 273.7h.01M306.1 265.1h.01M286.4 281.1h.01M284.2 278.5h.01M295.4 252.4h.01M290.3 282.8h.01M285.7 278.3h.01" stroke="#181888" stroke-width="1.2" stroke-linecap="round" fill="none" opacity="0.61"/>
<path d="M268.2 271.3h.01M279.1 294.6h.01M270.5 266.5h.01M287.8 278.3h.01" stroke="#181888" stroke-width="1.5" stroke-linecap="round" fill="none" opacity="0.45"/>
<path d="M253.9 254.0h.01M314.2 266.9h.01M264.5 267.8h.01M306.7 274.0h.01M287.8 252.3h.01M284.9 275.7h.01M300.5 296.1h.01M303.0 281.0h.01" stroke="#141474" stroke-width="1.3" stroke-linecap="round" fill="none" opacity="0.68"/>
<path d="M288.9 261.8h.01M281.9 271.9h.01M256.7 279.8h.01M254.7 293.8h.01M253.6 266.4h.01M286.4 284.5h.01M255.7 295.1h.01" stroke="#2424B0" stroke-width="1.4" stroke-linecap="round" fill="none" opacity="0.42"/>
<path d="M260.3 278.0h.01M253.6 277.2h.01M295.1 261.6h.01M258.3 273.2h.01" stroke="#1E1EA0" stroke-width="1.1" stroke-linecap="round" fill="none" opacity="0.51"/>
<path d="M271.6 268.9h.01M284.6 267.7h.01M281.8 261.8h.01M254.0 269.1h.01M295.9 281.8h.01M293.2 288.7h.01M301.1 259.5h.01" stroke="#141474" stroke-width="1.2" stroke-linecap="round" fill="none" opacity="0.65"/>
<path d="M280.2 262.3h.01M271.6 293.9h.01M295.5 270.1h.01M269.2 259.0h.01M291.6 281.9h.01M314.5 255.7h.01" stroke="#2424B0" stroke-width="1.1" stroke-linecap="round" fill="none" opacity="0.48"/>
<path d="M258.8 291.4h.01M298.2 277.4h.01M257.6 266.6h.01M279.9 264.2h.01" stroke="#181888" stroke-width="1.3" stroke-linecap="round" fill="none" opacity="0.6"/>
<path d="M308.4 284.2h.01M278.5 273.6h.01M298.5 292.1h.01M260.9 271.3h.01" stroke="#2424B0" stroke-width="1.3" stroke-linecap="round" fill="none" opacity="0.69"/>
<path d="M270.0 265.2h.01M267.3 274.7h.01M253.0 279.6h.01M309.2 293.8h.01" stroke="#181888" stroke-width="1.0" stroke-linecap="round" fill="none" opacity="0.53"/>
<path d="M266.5 253.2h.01M280.0 291.6h.01" stroke="#1E1EA0" stroke-width="1.5" stroke-linecap="round" fill="none" opacity="0.4"/>
<path d="M285.7 273.1h.01M274.1 263.9h.01M299.3 268.7h.01M254.2 262.3h.01M313.1 273.5h.01M298.6 292.1h.01" stroke="#1E1EA0" stroke-width="1.2" stroke-linecap="round" fill="none" opacity="0.52"/>
<path d="M284.7 268.7h.01M308.5 269.7h.01M279.8 278.6h.01M290.9 275.5h.01M263.7 267.7h.01M289.9 273.7h.01M268.8 278.6h.01M257.9 263.5h.01" stroke="#181888" stroke-width="1.4" stroke-linecap="round" fill="none" opacity="0.31"/>
<path d="M253.9 253.8h.01M300.4 281.9h.01M297.9 267.7h.01M270.9 269.4h.01M290.1 279.5h.01" stroke="#2424B0" stroke-width="1.2" stroke-linecap="round" fill="none" opacity="0.41"/>
<path d="M272.6 255.1h.01" stroke="#181888" stroke-width="0.8" stroke-linecap="round" fill="none" opacity="0.64"/>
<path d="M264.0 279.9h.01M278.5 280.0h.01M306.9 262.3h.01M295.6 293.5h.01M304.8 274.4h.01M263.5 265.1h.01M265.7 266.4h.01" stroke="#1E1EA0" stroke-width="1.0" stroke-linecap="round" fill="none" opacity="0.35"/>
<path d="M275.7 270.2h.01M288.6 266.3h.01M302.7 264.4h.01" stroke="#1E1EA0" stroke-width="0.9" stroke-linecap="round" fill="none" opacity="0.64"/>
<path d="M267.2 259.4h.01M261.1 280.1h.01M269.1 272.8h.01M313.7 272.5h.01M265.6 264.8h.01" stroke="#141474" stroke-width="0.9" stroke-linecap="round" fill="none" opacity="0.45"/>
<path d="M279.6 296.0h.01M288.3 272.0h.01M313.4 270.6h.01" stroke="#141474" stroke-width="1.5" stroke-linecap="round" fill="none" opacity="0.43"/>
<path d="M301.1 268.1h.01M255.7 269.5h.01M290.7 260.5h.01M265.2 262.7h.01M258.2 295.3h.01M299.7 277.7h.01" stroke="#181888" stroke-width="0.9" stroke-linecap="round" fill="none" opacity="0.45"/>
<path d="M264.2 263.2h.01M302.4 269.1h.01M287.0 268.8h.01M269.2 267.8h.01M313.9 291.8h.01" stroke="#141474" stroke-width="1.0" stroke-linecap="round" fill="none" opacity="0.53"/>
<path d="M257.2 286.9h.01" stroke="#1E1EA0" stroke-width="0.8" stroke-linecap="round" fill="none" opacity="0.45"/>
<path d="M313.2 264.2h.01" stroke="#141474" stroke-width="1.4" stroke-linecap="round" fill="none" opacity="0.39"/>
</g>
<path d="M273.6 270.0h.01M289.4 266.6h.01M296.4 277.6h.01M281.0 283.0h.01M304.0 271.0h.01M262.0 278.0h.01M286.6 262.0h.01" stroke="#38A8C8" stroke-width="0.7" stroke-linecap="round" fill="none" opacity="0.8"/>
<rect x="304.8" y="250.8" width="5.4" height="1.9" fill="#fff"/>
</g>
<text x="253.8" y="256.4" font-family='"Liberation Sans", sans-serif' font-size="5.5" font-weight="bold" fill="#fff" text-anchor="start" stroke="#fff" stroke-width="0.3">Exp</text>
<text x="183.4" y="126.4" font-family='"Liberation Sans", sans-serif' font-size="4.5" font-weight="bold" fill="#222" text-anchor="middle" transform="rotate(-90 183.4 126.4)" stroke="#222" stroke-width="0.3">H&amp;E</text>
<text x="183.0" y="178.5" font-family='"Liberation Sans", sans-serif' font-size="4.45" font-weight="bold" text-anchor="middle" transform="rotate(-90 183.0 178.5)"><tspan fill="#1FB24A">Ki67</tspan><tspan fill="#222">/</tspan><tspan fill="#E8232A">PCNA</tspan><tspan fill="#222">/</tspan><tspan fill="#2F6FD8">DAPI</tspan></text>
<text x="183.0" y="224.2" font-family='"Liberation Sans", sans-serif' font-size="4.68" font-weight="bold" text-anchor="middle" transform="rotate(-90 183.0 224.2)"><tspan fill="#E8232A">BCL-2</tspan><tspan fill="#222">/</tspan><tspan fill="#1FB24A">KRT14</tspan><tspan fill="#222">/</tspan><tspan fill="#2F6FD8">DAPI</tspan></text>
<text x="183.2" y="273.3" font-family='"Liberation Sans", sans-serif' font-size="4.7" font-weight="bold" text-anchor="middle" transform="rotate(-90 183.2 273.3)"><tspan fill="#1FB24A">CD45</tspan><tspan fill="#222">/</tspan><tspan fill="#E8232A">KRT15</tspan><tspan fill="#222">/</tspan><tspan fill="#2F6FD8">DAPI</tspan></text>
<path d="M325.6 108.4V144.3H342.2" stroke="#333" stroke-width="0.55" fill="none"/>
<path d="M324.40000000000003 108.4H325.6" stroke="#333" stroke-width="0.45"/>
<text x="323.90000000000003" y="109.2" font-family='"Liberation Sans", sans-serif' font-size="2.3" font-weight="bold" fill="#444" text-anchor="end" stroke="#444" stroke-width="0.12">80</text>
<path d="M324.40000000000003 120.4H325.6" stroke="#333" stroke-width="0.45"/>
<text x="323.90000000000003" y="121.16666666666667" font-family='"Liberation Sans", sans-serif' font-size="2.3" font-weight="bold" fill="#444" text-anchor="end" stroke="#444" stroke-width="0.12">60</text>
<path d="M324.40000000000003 132.3H325.6" stroke="#333" stroke-width="0.45"/>
<text x="323.90000000000003" y="133.13333333333335" font-family='"Liberation Sans", sans-serif' font-size="2.3" font-weight="bold" fill="#444" text-anchor="end" stroke="#444" stroke-width="0.12">40</text>
<path d="M324.40000000000003 144.3H325.6" stroke="#333" stroke-width="0.45"/>
<text x="323.90000000000003" y="145.10000000000002" font-family='"Liberation Sans", sans-serif' font-size="2.3" font-weight="bold" fill="#444" text-anchor="end" stroke="#444" stroke-width="0.12">20</text>
<path d="M331.1 117.3L340.2 116.4" stroke="#F8CDA8" stroke-width="0.45" fill="none" opacity="0.85"/>
<path d="M331.1 117.3h.01M340.2 116.4h.01" stroke="#F8CDA8" stroke-width="0.7" stroke-linecap="round" fill="none" opacity="0.9"/>
<path d="M331.1 120.2L340.2 126.4" stroke="#F3A462" stroke-width="0.45" fill="none" opacity="0.85"/>
<path d="M331.1 120.2h.01M340.2 126.4h.01" stroke="#F3A462" stroke-width="0.7" stroke-linecap="round" fill="none" opacity="0.9"/>
<path d="M331.1 127.0L340.2 119.4" stroke="#F08476" stroke-width="0.45" fill="none" opacity="0.85"/>
<path d="M331.1 127.0h.01M340.2 119.4h.01" stroke="#F08476" stroke-width="0.7" stroke-linecap="round" fill="none" opacity="0.9"/>
<path d="M331.1 139.0L340.2 127.3" stroke="#8E9AD8" stroke-width="0.45" fill="none" opacity="0.85"/>
<path d="M331.1 139.0h.01M340.2 127.3h.01" stroke="#8E9AD8" stroke-width="0.7" stroke-linecap="round" fill="none" opacity="0.9"/>
<text x="331.1" y="147.8" font-family='"Liberation Sans", sans-serif' font-size="2.9" font-weight="bold" fill="#333" text-anchor="middle" stroke="#333" stroke-width="0.12">NBY</text>
<text x="340.2" y="147.8" font-family='"Liberation Sans", sans-serif' font-size="2.9" font-weight="bold" fill="#333" text-anchor="middle" stroke="#333" stroke-width="0.12">EXP</text>
<text x="321.3" y="129.6" font-family='"Liberation Sans", sans-serif' font-size="3.15" font-weight="bold" fill="#111" text-anchor="middle" transform="rotate(-90 321.3 129.6)" stroke="#111" stroke-width="0.1">Epidermal Thickness (μm)</text>
<text x="335.5" y="112.3" font-family='"Liberation Sans", sans-serif' font-size="2.7" font-weight="bold" fill="#333" text-anchor="middle" stroke="#333" stroke-width="0.12">0.3408</text>
<path d="M331.1 113.2H340.2" stroke="#333" stroke-width="0.4"/>
<path d="M357.9 109.6V145.0H375.8" stroke="#333" stroke-width="0.55" fill="none"/>
<path d="M356.7 109.6H357.9" stroke="#333" stroke-width="0.45"/>
<text x="356.2" y="110.39999999999999" font-family='"Liberation Sans", sans-serif' font-size="2.3" font-weight="bold" fill="#444" text-anchor="end" stroke="#444" stroke-width="0.12">600</text>
<path d="M356.7 121.4H357.9" stroke="#333" stroke-width="0.45"/>
<text x="356.2" y="122.19999999999999" font-family='"Liberation Sans", sans-serif' font-size="2.3" font-weight="bold" fill="#444" text-anchor="end" stroke="#444" stroke-width="0.12">400</text>
<path d="M356.7 133.2H357.9" stroke="#333" stroke-width="0.45"/>
<text x="356.2" y="134.0" font-family='"Liberation Sans", sans-serif' font-size="2.3" font-weight="bold" fill="#444" text-anchor="end" stroke="#444" stroke-width="0.12">200</text>
<path d="M356.7 145.0H357.9" stroke="#333" stroke-width="0.45"/>
<text x="356.2" y="145.8" font-family='"Liberation Sans", sans-serif' font-size="2.3" font-weight="bold" fill="#444" text-anchor="end" stroke="#444" stroke-width="0.12">0</text>
<path d="M363.4 114.3L373.0 135.7" stroke="#F8CDA8" stroke-width="0.45" fill="none" opacity="0.85"/>
<path d="M363.4 114.3h.01M373.0 135.7h.01" stroke="#F8CDA8" stroke-width="0.7" stroke-linecap="round" fill="none" opacity="0.9"/>
<path d="M363.4 117.5L373.0 139.7" stroke="#F3A462" stroke-width="0.45" fill="none" opacity="0.85"/>
<path d="M363.4 117.5h.01M373.0 139.7h.01" stroke="#F3A462" stroke-width="0.7" stroke-linecap="round" fill="none" opacity="0.9"/>
<path d="M363.4 119.9L373.0 142.1" stroke="#F08476" stroke-width="0.45" fill="none" opacity="0.85"/>
<path d="M363.4 119.9h.01M373.0 142.1h.01" stroke="#F08476" stroke-width="0.7" stroke-linecap="round" fill="none" opacity="0.9"/>
<path d="M363.4 124.6L373.0 135.7" stroke="#8E9AD8" stroke-width="0.45" fill="none" opacity="0.85"/>
<path d="M363.4 124.6h.01M373.0 135.7h.01" stroke="#8E9AD8" stroke-width="0.7" stroke-linecap="round" fill="none" opacity="0.9"/>
<text x="363.4" y="148.5" font-family='"Liberation Sans", sans-serif' font-size="2.9" font-weight="bold" fill="#333" text-anchor="middle" stroke="#333" stroke-width="0.12">NBY</text>
<text x="373.0" y="148.5" font-family='"Liberation Sans", sans-serif' font-size="2.9" font-weight="bold" fill="#333" text-anchor="middle" stroke="#333" stroke-width="0.12">EXP</text>
<text x="350.2" y="130.0" font-family='"Liberation Sans", sans-serif' font-size="3.3" font-weight="bold" fill="#111" text-anchor="middle" transform="rotate(-90 350.2 130.0)" stroke="#111" stroke-width="0.1">PD Thickness(μm)</text>
<text x="367.4" y="111.2" font-family='"Liberation Sans", sans-serif' font-size="2.7" font-weight="bold" fill="#333" text-anchor="middle" stroke="#333" stroke-width="0.12">0.0005</text>
<path d="M380.4 118.7h3.4" stroke="#F8CDA8" stroke-width="0.45"/>
<path d="M382.1 118.7h.01" stroke="#F8CDA8" stroke-width="0.7" stroke-linecap="round" fill="none" opacity="1"/>
<text x="386.4" y="119.888" font-family='"Liberation Sans", sans-serif' font-size="3.3" font-weight="bold" fill="#111" text-anchor="start" stroke="#111" stroke-width="0.1">M19 H8</text>
<path d="M380.4 123.4h3.4" stroke="#8E9AD8" stroke-width="0.45"/>
<path d="M382.1 123.4h.01" stroke="#8E9AD8" stroke-width="0.7" stroke-linecap="round" fill="none" opacity="1"/>
<text x="386.4" y="124.58800000000001" font-family='"Liberation Sans", sans-serif' font-size="3.3" font-weight="bold" fill="#111" text-anchor="start" stroke="#111" stroke-width="0.1">F25 B11</text>
<path d="M380.4 128.4h3.4" stroke="#F08476" stroke-width="0.45"/>
<path d="M382.1 128.4h.01" stroke="#F08476" stroke-width="0.7" stroke-linecap="round" fill="none" opacity="1"/>
<text x="386.4" y="129.588" font-family='"Liberation Sans", sans-serif' font-size="3.3" font-weight="bold" fill="#111" text-anchor="start" stroke="#111" stroke-width="0.1">M16 B13</text>
<path d="M380.4 133.3h3.4" stroke="#8CC4C0" stroke-width="0.45"/>
<path d="M382.1 133.3h.01" stroke="#8CC4C0" stroke-width="0.7" stroke-linecap="round" fill="none" opacity="1"/>
<text x="386.4" y="134.488" font-family='"Liberation Sans", sans-serif' font-size="3.3" font-weight="bold" fill="#111" text-anchor="start" stroke="#111" stroke-width="0.1">F17 N14</text>
<path d="M325.6 154.4V194.4H345.6" stroke="#333" stroke-width="0.55" fill="none"/>
<path d="M324.40000000000003 154.4H325.6" stroke="#333" stroke-width="0.45"/>
<text x="323.90000000000003" y="155.20000000000002" font-family='"Liberation Sans", sans-serif' font-size="2.3" font-weight="bold" fill="#444" text-anchor="end" stroke="#444" stroke-width="0.12">15</text>
<path d="M324.40000000000003 167.7H325.6" stroke="#333" stroke-width="0.45"/>
<text x="323.90000000000003" y="168.53333333333336" font-family='"Liberation Sans", sans-serif' font-size="2.3" font-weight="bold" fill="#444" text-anchor="end" stroke="#444" stroke-width="0.12">10</text>
<path d="M324.40000000000003 181.1H325.6" stroke="#333" stroke-width="0.45"/>
<text x="323.90000000000003" y="181.86666666666667" font-family='"Liberation Sans", sans-serif' font-size="2.3" font-weight="bold" fill="#444" text-anchor="end" stroke="#444" stroke-width="0.12">5</text>
<path d="M324.40000000000003 194.4H325.6" stroke="#333" stroke-width="0.45"/>
<text x="323.90000000000003" y="195.20000000000002" font-family='"Liberation Sans", sans-serif' font-size="2.3" font-weight="bold" fill="#444" text-anchor="end" stroke="#444" stroke-width="0.12">0</text>
<path d="M332.4 160.7L342.9 169.8" stroke="#F8CDA8" stroke-width="0.45" fill="none" opacity="0.85"/>
<path d="M332.4 160.7h.01M342.9 169.8h.01" stroke="#F8CDA8" stroke-width="0.7" stroke-linecap="round" fill="none" opacity="0.9"/>
<path d="M332.4 164.4L342.9 178.0" stroke="#F3A462" stroke-width="0.45" fill="none" opacity="0.85"/>
<path d="M332.4 164.4h.01M342.9 178.0h.01" stroke="#F3A462" stroke-width="0.7" stroke-linecap="round" fill="none" opacity="0.9"/>
<path d="M332.4 162.5L342.9 177.1" stroke="#F08476" stroke-width="0.45" fill="none" opacity="0.85"/>
<path d="M332.4 162.5h.01M342.9 177.1h.01" stroke="#F08476" stroke-width="0.7" stroke-linecap="round" fill="none" opacity="0.9"/>
<path d="M332.4 177.1L342.9 182.5" stroke="#8E9AD8" stroke-width="0.45" fill="none" opacity="0.85"/>
<path d="M332.4 177.1h.01M342.9 182.5h.01" stroke="#8E9AD8" stroke-width="0.7" stroke-linecap="round" fill="none" opacity="0.9"/>
<text x="332.4" y="197.9" font-family='"Liberation Sans", sans-serif' font-size="2.9" font-weight="bold" fill="#333" text-anchor="middle" stroke="#333" stroke-width="0.12">NBY</text>
<text x="342.9" y="197.9" font-family='"Liberation Sans", sans-serif' font-size="2.9" font-weight="bold" fill="#333" text-anchor="middle" stroke="#333" stroke-width="0.12">EXP</text>
<text x="320.3" y="170.7" font-family='"Liberation Sans", sans-serif' font-size="3.9" font-weight="bold" fill="#111" text-anchor="middle" transform="rotate(-90 320.3 170.7)" stroke="#111" stroke-width="0.1">Ki67+PCNA+%</text>
<text x="337.5" y="157.7" font-family='"Liberation Sans", sans-serif' font-size="2.7" font-weight="bold" fill="#333" text-anchor="middle" stroke="#333" stroke-width="0.12">0.0028</text>
<path d="M332.4 158.7H342.9" stroke="#333" stroke-width="0.4"/>
<path d="M352.6 166.7h3.4" stroke="#F8CDA8" stroke-width="0.45"/>
<path d="M354.3 166.7h.01" stroke="#F8CDA8" stroke-width="0.7" stroke-linecap="round" fill="none" opacity="1"/>
<text x="358.8" y="167.97799999999998" font-family='"Liberation Sans", sans-serif' font-size="3.55" font-weight="bold" fill="#111" text-anchor="start" stroke="#111" stroke-width="0.1">M19 H8</text>
<path d="M352.6 172.2h3.4" stroke="#8E9AD8" stroke-width="0.45"/>
<path d="M354.3 172.2h.01" stroke="#8E9AD8" stroke-width="0.7" stroke-linecap="round" fill="none" opacity="1"/>
<text x="358.8" y="173.47799999999998" font-family='"Liberation Sans", sans-serif' font-size="3.55" font-weight="bold" fill="#111" text-anchor="start" stroke="#111" stroke-width="0.1">F25 B11</text>
<path d="M352.6 177.4h3.4" stroke="#F08476" stroke-width="0.45"/>
<path d="M354.3 177.4h.01" stroke="#F08476" stroke-width="0.7" stroke-linecap="round" fill="none" opacity="1"/>
<text x="358.8" y="178.678" font-family='"Liberation Sans", sans-serif' font-size="3.55" font-weight="bold" fill="#111" text-anchor="start" stroke="#111" stroke-width="0.1">M16 B13</text>
<path d="M352.6 182.9h3.4" stroke="#8CC4C0" stroke-width="0.45"/>
<path d="M354.3 182.9h.01" stroke="#8CC4C0" stroke-width="0.7" stroke-linecap="round" fill="none" opacity="1"/>
<text x="358.8" y="184.178" font-family='"Liberation Sans", sans-serif' font-size="3.55" font-weight="bold" fill="#111" text-anchor="start" stroke="#111" stroke-width="0.1">F17 N14</text>
<path d="M325.6 202.5V242.2H346.5" stroke="#333" stroke-width="0.55" fill="none"/>
<path d="M324.40000000000003 202.5H325.6" stroke="#333" stroke-width="0.45"/>
<text x="323.90000000000003" y="203.3" font-family='"Liberation Sans", sans-serif' font-size="2.3" font-weight="bold" fill="#444" text-anchor="end" stroke="#444" stroke-width="0.12">6</text>
<path d="M324.40000000000003 215.7H325.6" stroke="#333" stroke-width="0.45"/>
<text x="323.90000000000003" y="216.53333333333333" font-family='"Liberation Sans", sans-serif' font-size="2.3" font-weight="bold" fill="#444" text-anchor="end" stroke="#444" stroke-width="0.12">4</text>
<path d="M324.40000000000003 229.0H325.6" stroke="#333" stroke-width="0.45"/>
<text x="323.90000000000003" y="229.76666666666668" font-family='"Liberation Sans", sans-serif' font-size="2.3" font-weight="bold" fill="#444" text-anchor="end" stroke="#444" stroke-width="0.12">2</text>
<path d="M324.40000000000003 242.2H325.6" stroke="#333" stroke-width="0.45"/>
<text x="323.90000000000003" y="243.0" font-family='"Liberation Sans", sans-serif' font-size="2.3" font-weight="bold" fill="#444" text-anchor="end" stroke="#444" stroke-width="0.12">0</text>
<path d="M332.4 210.7L342.9 223.5" stroke="#F8CDA8" stroke-width="0.45" fill="none" opacity="0.85"/>
<path d="M332.4 210.7h.01M342.9 223.5h.01" stroke="#F8CDA8" stroke-width="0.7" stroke-linecap="round" fill="none" opacity="0.9"/>
<path d="M332.4 228.0L342.9 223.5" stroke="#F08476" stroke-width="0.45" fill="none" opacity="0.85"/>
<path d="M332.4 228.0h.01M342.9 223.5h.01" stroke="#F08476" stroke-width="0.7" stroke-linecap="round" fill="none" opacity="0.9"/>
<path d="M332.4 230.7L342.9 237.1" stroke="#7C94E0" stroke-width="0.45" fill="none" opacity="0.85"/>
<path d="M332.4 230.7h.01M342.9 237.1h.01" stroke="#7C94E0" stroke-width="0.7" stroke-linecap="round" fill="none" opacity="0.9"/>
<path d="M332.4 237.1L342.9 232.5" stroke="#9CBCF0" stroke-width="0.45" fill="none" opacity="0.85"/>
<path d="M332.4 237.1h.01M342.9 232.5h.01" stroke="#9CBCF0" stroke-width="0.7" stroke-linecap="round" fill="none" opacity="0.9"/>
<text x="332.4" y="245.7" font-family='"Liberation Sans", sans-serif' font-size="2.9" font-weight="bold" fill="#333" text-anchor="middle" stroke="#333" stroke-width="0.12">NBY</text>
<text x="342.9" y="245.7" font-family='"Liberation Sans", sans-serif' font-size="2.9" font-weight="bold" fill="#333" text-anchor="middle" stroke="#333" stroke-width="0.12">EXP</text>
<text x="320.7" y="223.0" font-family='"Liberation Sans", sans-serif' font-size="4.0" font-weight="bold" fill="#111" text-anchor="middle" transform="rotate(-90 320.7 223.0)" stroke="#111" stroke-width="0.1">BCL-2%</text>
<text x="336.0" y="202.3" font-family='"Liberation Sans", sans-serif' font-size="2.7" font-weight="bold" fill="#333" text-anchor="middle" stroke="#333" stroke-width="0.12">0.3159</text>
<path d="M332.4 203.2H342.9" stroke="#333" stroke-width="0.4"/>
<path d="M352.6 215.3h3.4" stroke="#F8CDA8" stroke-width="0.45"/>
<path d="M354.3 215.3h.01" stroke="#F8CDA8" stroke-width="0.7" stroke-linecap="round" fill="none" opacity="1"/>
<text x="358.8" y="216.578" font-family='"Liberation Sans", sans-serif' font-size="3.55" font-weight="bold" fill="#111" text-anchor="start" stroke="#111" stroke-width="0.1">M19 H8</text>
<path d="M352.6 219.9h3.4" stroke="#8E9AD8" stroke-width="0.45"/>
<path d="M354.3 219.9h.01" stroke="#8E9AD8" stroke-width="0.7" stroke-linecap="round" fill="none" opacity="1"/>
<text x="358.8" y="221.178" font-family='"Liberation Sans", sans-serif' font-size="3.55" font-weight="bold" fill="#111" text-anchor="start" stroke="#111" stroke-width="0.1">F25 B11</text>
<path d="M352.6 224.9h3.4" stroke="#F08476" stroke-width="0.45"/>
<path d="M354.3 224.9h.01" stroke="#F08476" stroke-width="0.7" stroke-linecap="round" fill="none" opacity="1"/>
<text x="358.8" y="226.178" font-family='"Liberation Sans", sans-serif' font-size="3.55" font-weight="bold" fill="#111" text-anchor="start" stroke="#111" stroke-width="0.1">M16 B13</text>
<path d="M352.6 229.8h3.4" stroke="#8CC4C0" stroke-width="0.45"/>
<path d="M354.3 229.8h.01" stroke="#8CC4C0" stroke-width="0.7" stroke-linecap="round" fill="none" opacity="1"/>
<text x="358.8" y="231.078" font-family='"Liberation Sans", sans-serif' font-size="3.55" font-weight="bold" fill="#111" text-anchor="start" stroke="#111" stroke-width="0.1">F17 N14</text>
<path d="M342.9 231.6V238M332.4 229.6V238.2" stroke="#9CB4E0" stroke-width="0.4"/>
<path d="M325.6 252.0V291.2H346.5" stroke="#333" stroke-width="0.55" fill="none"/>
<path d="M324.40000000000003 252.0H325.6" stroke="#333" stroke-width="0.45"/>
<text x="323.90000000000003" y="252.8" font-family='"Liberation Sans", sans-serif' font-size="2.3" font-weight="bold" fill="#444" text-anchor="end" stroke="#444" stroke-width="0.12">40</text>
<path d="M324.40000000000003 261.8H325.6" stroke="#333" stroke-width="0.45"/>
<text x="323.90000000000003" y="262.6" font-family='"Liberation Sans", sans-serif' font-size="2.3" font-weight="bold" fill="#444" text-anchor="end" stroke="#444" stroke-width="0.12">30</text>
<path d="M324.40000000000003 271.6H325.6" stroke="#333" stroke-width="0.45"/>
<text x="323.90000000000003" y="272.40000000000003" font-family='"Liberation Sans", sans-serif' font-size="2.3" font-weight="bold" fill="#444" text-anchor="end" stroke="#444" stroke-width="0.12">20</text>
<path d="M324.40000000000003 281.4H325.6" stroke="#333" stroke-width="0.45"/>
<text x="323.90000000000003" y="282.2" font-family='"Liberation Sans", sans-serif' font-size="2.3" font-weight="bold" fill="#444" text-anchor="end" stroke="#444" stroke-width="0.12">10</text>
<path d="M324.40000000000003 291.2H325.6" stroke="#333" stroke-width="0.45"/>
<text x="323.90000000000003" y="292.0" font-family='"Liberation Sans", sans-serif' font-size="2.3" font-weight="bold" fill="#444" text-anchor="end" stroke="#444" stroke-width="0.12">0</text>
<path d="M333.5 268.8L343.8 257.0" stroke="#F8CDA8" stroke-width="0.45" fill="none" opacity="0.85"/>
<path d="M333.5 268.8h.01M343.8 257.0h.01" stroke="#F8CDA8" stroke-width="0.7" stroke-linecap="round" fill="none" opacity="0.9"/>
<path d="M333.5 274.3L343.8 259.7" stroke="#F3A462" stroke-width="0.45" fill="none" opacity="0.85"/>
<path d="M333.5 274.3h.01M343.8 259.7h.01" stroke="#F3A462" stroke-width="0.7" stroke-linecap="round" fill="none" opacity="0.9"/>
<path d="M333.5 276.0L343.8 264.3" stroke="#F08476" stroke-width="0.45" fill="none" opacity="0.85"/>
<path d="M333.5 276.0h.01M343.8 264.3h.01" stroke="#F08476" stroke-width="0.7" stroke-linecap="round" fill="none" opacity="0.9"/>
<path d="M333.5 287.9L343.8 267.0" stroke="#8E9AD8" stroke-width="0.45" fill="none" opacity="0.85"/>
<path d="M333.5 287.9h.01M343.8 267.0h.01" stroke="#8E9AD8" stroke-width="0.7" stroke-linecap="round" fill="none" opacity="0.9"/>
<text x="333.5" y="294.7" font-family='"Liberation Sans", sans-serif' font-size="2.9" font-weight="bold" fill="#333" text-anchor="middle" stroke="#333" stroke-width="0.12">NBY</text>
<text x="343.8" y="294.7" font-family='"Liberation Sans", sans-serif' font-size="2.9" font-weight="bold" fill="#333" text-anchor="middle" stroke="#333" stroke-width="0.12">EXP</text>
<text x="320.7" y="269.3" font-family='"Liberation Sans", sans-serif' font-size="3.9" font-weight="bold" fill="#111" text-anchor="middle" transform="rotate(-90 320.7 269.3)" stroke="#111" stroke-width="0.1">CD45%</text>
<text x="337.5" y="251.3" font-family='"Liberation Sans", sans-serif' font-size="2.7" font-weight="bold" fill="#333" text-anchor="middle" stroke="#333" stroke-width="0.12">&lt;0.0001</text>
<path d="M352.6 263.3h3.4" stroke="#F8CDA8" stroke-width="0.45"/>
<path d="M354.3 263.3h.01" stroke="#F8CDA8" stroke-width="0.7" stroke-linecap="round" fill="none" opacity="1"/>
<text x="359.2" y="264.57800000000003" font-family='"Liberation Sans", sans-serif' font-size="3.55" font-weight="bold" fill="#111" text-anchor="start" stroke="#111" stroke-width="0.1">M19 H8</text>
<path d="M352.6 268.2h3.4" stroke="#8E9AD8" stroke-width="0.45"/>
<path d="M354.3 268.2h.01" stroke="#8E9AD8" stroke-width="0.7" stroke-linecap="round" fill="none" opacity="1"/>
<text x="359.2" y="269.478" font-family='"Liberation Sans", sans-serif' font-size="3.55" font-weight="bold" fill="#111" text-anchor="start" stroke="#111" stroke-width="0.1">F25 B11</text>
<path d="M352.6 272.9h3.4" stroke="#F08476" stroke-width="0.45"/>
<path d="M354.3 272.9h.01" stroke="#F08476" stroke-width="0.7" stroke-linecap="round" fill="none" opacity="1"/>
<text x="359.2" y="274.178" font-family='"Liberation Sans", sans-serif' font-size="3.55" font-weight="bold" fill="#111" text-anchor="start" stroke="#111" stroke-width="0.1">M16 B13</text>
<path d="M352.6 277.4h3.4" stroke="#8CC4C0" stroke-width="0.45"/>
<path d="M354.3 277.4h.01" stroke="#8CC4C0" stroke-width="0.7" stroke-linecap="round" fill="none" opacity="1"/>
<text x="359.2" y="278.678" font-family='"Liberation Sans", sans-serif' font-size="3.55" font-weight="bold" fill="#111" text-anchor="start" stroke="#111" stroke-width="0.1">F17 N14</text>
</g>
</svg>
</body></html>
